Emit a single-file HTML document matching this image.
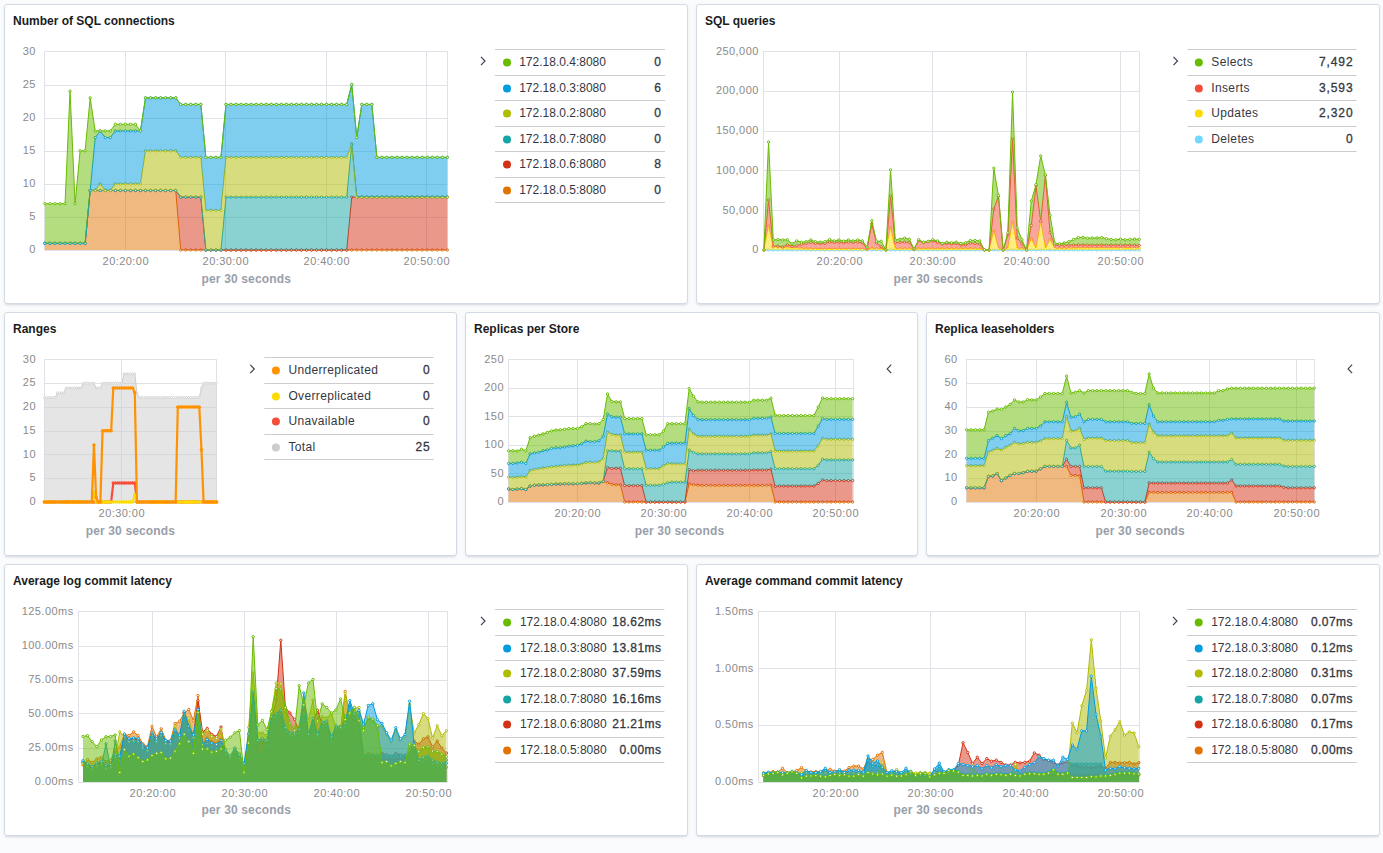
<!DOCTYPE html>
<html><head><meta charset="utf-8"><title>Dashboard</title>
<style>
html,body{margin:0;padding:0;background:#FAFBFD;width:1383px;height:853px;overflow:hidden;font-family:"Liberation Sans", sans-serif;}
.p{position:absolute;box-sizing:border-box;background:#fff;border:1px solid #D3DAE6;border-radius:3px;
box-shadow:0 2px 2px -1px rgba(152,162,179,.3),0 1px 5px -2px rgba(152,162,179,.3);}
.t{position:absolute;font-weight:bold;font-size:12px;color:#1A1C21;white-space:nowrap;line-height:14px;}
svg.c{position:absolute;overflow:visible;}
</style></head><body>
<div class="p" style="left:4px;top:4px;width:684px;height:300px"></div>
<div class="t" style="left:13px;top:14px">Number of SQL connections</div>
<div class="p" style="left:696px;top:4px;width:684px;height:300px"></div>
<div class="t" style="left:705px;top:14px">SQL queries</div>
<div class="p" style="left:4px;top:312px;width:453px;height:244px"></div>
<div class="t" style="left:13px;top:322px">Ranges</div>
<div class="p" style="left:465px;top:312px;width:453px;height:244px"></div>
<div class="t" style="left:474px;top:322px">Replicas per Store</div>
<div class="p" style="left:926px;top:312px;width:454px;height:244px"></div>
<div class="t" style="left:935px;top:322px">Replica leaseholders</div>
<div class="p" style="left:4px;top:564px;width:684px;height:272px"></div>
<div class="t" style="left:13px;top:574px">Average log commit latency</div>
<div class="p" style="left:696px;top:564px;width:684px;height:272px"></div>
<div class="t" style="left:705px;top:574px">Average command commit latency</div>
<svg class="c" style="left:0;top:0" width="1383" height="853" viewBox="0 0 1383 853">
<g><g stroke="#E0E2E7" stroke-width="1" fill="none"><line x1="44.0" x2="448.0" y1="250.5" y2="250.5"/><line x1="44.0" x2="448.0" y1="217.5" y2="217.5"/><line x1="44.0" x2="448.0" y1="184.5" y2="184.5"/><line x1="44.0" x2="448.0" y1="151.5" y2="151.5"/><line x1="44.0" x2="448.0" y1="118.5" y2="118.5"/><line x1="44.0" x2="448.0" y1="85.5" y2="85.5"/><line x1="44.0" x2="448.0" y1="51.5" y2="51.5"/><line x1="125.5" x2="125.5" y1="51.0" y2="251.0"/><line x1="225.5" x2="225.5" y1="51.0" y2="251.0"/><line x1="326.5" x2="326.5" y1="51.0" y2="251.0"/><line x1="426.5" x2="426.5" y1="51.0" y2="251.0"/><line x1="44.5" x2="44.5" y1="51.0" y2="251.0"/><line x1="447.5" x2="447.5" y1="51.0" y2="251.0"/></g><path d="M44.90,243.38 L49.93,243.38 L54.96,243.38 L59.99,243.38 L65.02,243.38 L70.05,243.38 L75.08,243.38 L80.11,243.38 L85.14,243.38 L90.17,190.45 L95.20,190.45 L100.23,190.45 L105.26,190.45 L110.29,190.45 L115.32,190.45 L120.35,190.45 L125.38,190.45 L130.41,190.45 L135.44,190.45 L140.47,190.45 L145.50,190.45 L150.53,190.45 L155.56,190.45 L160.59,190.45 L165.62,190.45 L170.65,190.45 L175.68,190.45 L180.71,250.00 L185.74,250.00 L190.77,250.00 L195.80,250.00 L200.83,250.00 L205.86,250.00 L210.89,250.00 L215.92,250.00 L220.95,250.00 L225.98,250.00 L231.01,250.00 L236.04,250.00 L241.07,250.00 L246.10,250.00 L251.13,250.00 L256.16,250.00 L261.19,250.00 L266.22,250.00 L271.25,250.00 L276.28,250.00 L281.31,250.00 L286.34,250.00 L291.37,250.00 L296.40,250.00 L301.43,250.00 L306.46,250.00 L311.49,250.00 L316.52,250.00 L321.55,250.00 L326.58,250.00 L331.61,250.00 L336.64,250.00 L341.67,250.00 L346.70,250.00 L351.73,250.00 L356.76,250.00 L361.79,250.00 L366.82,250.00 L371.85,250.00 L376.88,250.00 L381.91,250.00 L386.94,250.00 L391.97,250.00 L397.00,250.00 L402.03,250.00 L407.06,250.00 L412.09,250.00 L417.12,250.00 L422.15,250.00 L427.18,250.00 L432.21,250.00 L437.24,250.00 L442.27,250.00 L447.30,250.00 L447.30,250.00 L442.27,250.00 L437.24,250.00 L432.21,250.00 L427.18,250.00 L422.15,250.00 L417.12,250.00 L412.09,250.00 L407.06,250.00 L402.03,250.00 L397.00,250.00 L391.97,250.00 L386.94,250.00 L381.91,250.00 L376.88,250.00 L371.85,250.00 L366.82,250.00 L361.79,250.00 L356.76,250.00 L351.73,250.00 L346.70,250.00 L341.67,250.00 L336.64,250.00 L331.61,250.00 L326.58,250.00 L321.55,250.00 L316.52,250.00 L311.49,250.00 L306.46,250.00 L301.43,250.00 L296.40,250.00 L291.37,250.00 L286.34,250.00 L281.31,250.00 L276.28,250.00 L271.25,250.00 L266.22,250.00 L261.19,250.00 L256.16,250.00 L251.13,250.00 L246.10,250.00 L241.07,250.00 L236.04,250.00 L231.01,250.00 L225.98,250.00 L220.95,250.00 L215.92,250.00 L210.89,250.00 L205.86,250.00 L200.83,250.00 L195.80,250.00 L190.77,250.00 L185.74,250.00 L180.71,250.00 L175.68,250.00 L170.65,250.00 L165.62,250.00 L160.59,250.00 L155.56,250.00 L150.53,250.00 L145.50,250.00 L140.47,250.00 L135.44,250.00 L130.41,250.00 L125.38,250.00 L120.35,250.00 L115.32,250.00 L110.29,250.00 L105.26,250.00 L100.23,250.00 L95.20,250.00 L90.17,250.00 L85.14,250.00 L80.11,250.00 L75.08,250.00 L70.05,250.00 L65.02,250.00 L59.99,250.00 L54.96,250.00 L49.93,250.00 L44.90,250.00Z" fill="#E27300" fill-opacity="0.5"/><polyline points="44.90,243.38 49.93,243.38 54.96,243.38 59.99,243.38 65.02,243.38 70.05,243.38 75.08,243.38 80.11,243.38 85.14,243.38 90.17,190.45 95.20,190.45 100.23,190.45 105.26,190.45 110.29,190.45 115.32,190.45 120.35,190.45 125.38,190.45 130.41,190.45 135.44,190.45 140.47,190.45 145.50,190.45 150.53,190.45 155.56,190.45 160.59,190.45 165.62,190.45 170.65,190.45 175.68,190.45 180.71,250.00 185.74,250.00 190.77,250.00 195.80,250.00 200.83,250.00 205.86,250.00 210.89,250.00 215.92,250.00 220.95,250.00 225.98,250.00 231.01,250.00 236.04,250.00 241.07,250.00 246.10,250.00 251.13,250.00 256.16,250.00 261.19,250.00 266.22,250.00 271.25,250.00 276.28,250.00 281.31,250.00 286.34,250.00 291.37,250.00 296.40,250.00 301.43,250.00 306.46,250.00 311.49,250.00 316.52,250.00 321.55,250.00 326.58,250.00 331.61,250.00 336.64,250.00 341.67,250.00 346.70,250.00 351.73,250.00 356.76,250.00 361.79,250.00 366.82,250.00 371.85,250.00 376.88,250.00 381.91,250.00 386.94,250.00 391.97,250.00 397.00,250.00 402.03,250.00 407.06,250.00 412.09,250.00 417.12,250.00 422.15,250.00 427.18,250.00 432.21,250.00 437.24,250.00 442.27,250.00 447.30,250.00" fill="none" stroke="#E27300" stroke-width="1" stroke-linejoin="round"/><g fill="#fff" stroke="#E27300" stroke-width="1.0"><circle cx="44.90" cy="243.38" r="1.15"/><circle cx="49.93" cy="243.38" r="1.15"/><circle cx="54.96" cy="243.38" r="1.15"/><circle cx="59.99" cy="243.38" r="1.15"/><circle cx="65.02" cy="243.38" r="1.15"/><circle cx="70.05" cy="243.38" r="1.15"/><circle cx="75.08" cy="243.38" r="1.15"/><circle cx="80.11" cy="243.38" r="1.15"/><circle cx="85.14" cy="243.38" r="1.15"/><circle cx="90.17" cy="190.45" r="1.15"/><circle cx="95.20" cy="190.45" r="1.15"/><circle cx="100.23" cy="190.45" r="1.15"/><circle cx="105.26" cy="190.45" r="1.15"/><circle cx="110.29" cy="190.45" r="1.15"/><circle cx="115.32" cy="190.45" r="1.15"/><circle cx="120.35" cy="190.45" r="1.15"/><circle cx="125.38" cy="190.45" r="1.15"/><circle cx="130.41" cy="190.45" r="1.15"/><circle cx="135.44" cy="190.45" r="1.15"/><circle cx="140.47" cy="190.45" r="1.15"/><circle cx="145.50" cy="190.45" r="1.15"/><circle cx="150.53" cy="190.45" r="1.15"/><circle cx="155.56" cy="190.45" r="1.15"/><circle cx="160.59" cy="190.45" r="1.15"/><circle cx="165.62" cy="190.45" r="1.15"/><circle cx="170.65" cy="190.45" r="1.15"/><circle cx="175.68" cy="190.45" r="1.15"/><circle cx="180.71" cy="250.00" r="1.15"/><circle cx="185.74" cy="250.00" r="1.15"/><circle cx="190.77" cy="250.00" r="1.15"/><circle cx="195.80" cy="250.00" r="1.15"/><circle cx="200.83" cy="250.00" r="1.15"/><circle cx="205.86" cy="250.00" r="1.15"/><circle cx="210.89" cy="250.00" r="1.15"/><circle cx="215.92" cy="250.00" r="1.15"/><circle cx="220.95" cy="250.00" r="1.15"/><circle cx="225.98" cy="250.00" r="1.15"/><circle cx="231.01" cy="250.00" r="1.15"/><circle cx="236.04" cy="250.00" r="1.15"/><circle cx="241.07" cy="250.00" r="1.15"/><circle cx="246.10" cy="250.00" r="1.15"/><circle cx="251.13" cy="250.00" r="1.15"/><circle cx="256.16" cy="250.00" r="1.15"/><circle cx="261.19" cy="250.00" r="1.15"/><circle cx="266.22" cy="250.00" r="1.15"/><circle cx="271.25" cy="250.00" r="1.15"/><circle cx="276.28" cy="250.00" r="1.15"/><circle cx="281.31" cy="250.00" r="1.15"/><circle cx="286.34" cy="250.00" r="1.15"/><circle cx="291.37" cy="250.00" r="1.15"/><circle cx="296.40" cy="250.00" r="1.15"/><circle cx="301.43" cy="250.00" r="1.15"/><circle cx="306.46" cy="250.00" r="1.15"/><circle cx="311.49" cy="250.00" r="1.15"/><circle cx="316.52" cy="250.00" r="1.15"/><circle cx="321.55" cy="250.00" r="1.15"/><circle cx="326.58" cy="250.00" r="1.15"/><circle cx="331.61" cy="250.00" r="1.15"/><circle cx="336.64" cy="250.00" r="1.15"/><circle cx="341.67" cy="250.00" r="1.15"/><circle cx="346.70" cy="250.00" r="1.15"/><circle cx="351.73" cy="250.00" r="1.15"/><circle cx="356.76" cy="250.00" r="1.15"/><circle cx="361.79" cy="250.00" r="1.15"/><circle cx="366.82" cy="250.00" r="1.15"/><circle cx="371.85" cy="250.00" r="1.15"/><circle cx="376.88" cy="250.00" r="1.15"/><circle cx="381.91" cy="250.00" r="1.15"/><circle cx="386.94" cy="250.00" r="1.15"/><circle cx="391.97" cy="250.00" r="1.15"/><circle cx="397.00" cy="250.00" r="1.15"/><circle cx="402.03" cy="250.00" r="1.15"/><circle cx="407.06" cy="250.00" r="1.15"/><circle cx="412.09" cy="250.00" r="1.15"/><circle cx="417.12" cy="250.00" r="1.15"/><circle cx="422.15" cy="250.00" r="1.15"/><circle cx="427.18" cy="250.00" r="1.15"/><circle cx="432.21" cy="250.00" r="1.15"/><circle cx="437.24" cy="250.00" r="1.15"/><circle cx="442.27" cy="250.00" r="1.15"/><circle cx="447.30" cy="250.00" r="1.15"/></g><path d="M44.90,243.38 L49.93,243.38 L54.96,243.38 L59.99,243.38 L65.02,243.38 L70.05,243.38 L75.08,243.38 L80.11,243.38 L85.14,243.38 L90.17,190.45 L95.20,190.45 L100.23,190.45 L105.26,190.45 L110.29,190.45 L115.32,190.45 L120.35,190.45 L125.38,190.45 L130.41,190.45 L135.44,190.45 L140.47,190.45 L145.50,190.45 L150.53,190.45 L155.56,190.45 L160.59,190.45 L165.62,190.45 L170.65,190.45 L175.68,190.45 L180.71,197.07 L185.74,197.07 L190.77,197.07 L195.80,197.07 L200.83,197.07 L205.86,250.00 L210.89,250.00 L215.92,250.00 L220.95,250.00 L225.98,250.00 L231.01,250.00 L236.04,250.00 L241.07,250.00 L246.10,250.00 L251.13,250.00 L256.16,250.00 L261.19,250.00 L266.22,250.00 L271.25,250.00 L276.28,250.00 L281.31,250.00 L286.34,250.00 L291.37,250.00 L296.40,250.00 L301.43,250.00 L306.46,250.00 L311.49,250.00 L316.52,250.00 L321.55,250.00 L326.58,250.00 L331.61,250.00 L336.64,250.00 L341.67,250.00 L346.70,250.00 L351.73,197.07 L356.76,197.07 L361.79,197.07 L366.82,197.07 L371.85,197.07 L376.88,197.07 L381.91,197.07 L386.94,197.07 L391.97,197.07 L397.00,197.07 L402.03,197.07 L407.06,197.07 L412.09,197.07 L417.12,197.07 L422.15,197.07 L427.18,197.07 L432.21,197.07 L437.24,197.07 L442.27,197.07 L447.30,197.07 L447.30,250.00 L442.27,250.00 L437.24,250.00 L432.21,250.00 L427.18,250.00 L422.15,250.00 L417.12,250.00 L412.09,250.00 L407.06,250.00 L402.03,250.00 L397.00,250.00 L391.97,250.00 L386.94,250.00 L381.91,250.00 L376.88,250.00 L371.85,250.00 L366.82,250.00 L361.79,250.00 L356.76,250.00 L351.73,250.00 L346.70,250.00 L341.67,250.00 L336.64,250.00 L331.61,250.00 L326.58,250.00 L321.55,250.00 L316.52,250.00 L311.49,250.00 L306.46,250.00 L301.43,250.00 L296.40,250.00 L291.37,250.00 L286.34,250.00 L281.31,250.00 L276.28,250.00 L271.25,250.00 L266.22,250.00 L261.19,250.00 L256.16,250.00 L251.13,250.00 L246.10,250.00 L241.07,250.00 L236.04,250.00 L231.01,250.00 L225.98,250.00 L220.95,250.00 L215.92,250.00 L210.89,250.00 L205.86,250.00 L200.83,250.00 L195.80,250.00 L190.77,250.00 L185.74,250.00 L180.71,250.00 L175.68,190.45 L170.65,190.45 L165.62,190.45 L160.59,190.45 L155.56,190.45 L150.53,190.45 L145.50,190.45 L140.47,190.45 L135.44,190.45 L130.41,190.45 L125.38,190.45 L120.35,190.45 L115.32,190.45 L110.29,190.45 L105.26,190.45 L100.23,190.45 L95.20,190.45 L90.17,190.45 L85.14,243.38 L80.11,243.38 L75.08,243.38 L70.05,243.38 L65.02,243.38 L59.99,243.38 L54.96,243.38 L49.93,243.38 L44.90,243.38Z" fill="#D33115" fill-opacity="0.5"/><polyline points="44.90,243.38 49.93,243.38 54.96,243.38 59.99,243.38 65.02,243.38 70.05,243.38 75.08,243.38 80.11,243.38 85.14,243.38 90.17,190.45 95.20,190.45 100.23,190.45 105.26,190.45 110.29,190.45 115.32,190.45 120.35,190.45 125.38,190.45 130.41,190.45 135.44,190.45 140.47,190.45 145.50,190.45 150.53,190.45 155.56,190.45 160.59,190.45 165.62,190.45 170.65,190.45 175.68,190.45 180.71,197.07 185.74,197.07 190.77,197.07 195.80,197.07 200.83,197.07 205.86,250.00 210.89,250.00 215.92,250.00 220.95,250.00 225.98,250.00 231.01,250.00 236.04,250.00 241.07,250.00 246.10,250.00 251.13,250.00 256.16,250.00 261.19,250.00 266.22,250.00 271.25,250.00 276.28,250.00 281.31,250.00 286.34,250.00 291.37,250.00 296.40,250.00 301.43,250.00 306.46,250.00 311.49,250.00 316.52,250.00 321.55,250.00 326.58,250.00 331.61,250.00 336.64,250.00 341.67,250.00 346.70,250.00 351.73,197.07 356.76,197.07 361.79,197.07 366.82,197.07 371.85,197.07 376.88,197.07 381.91,197.07 386.94,197.07 391.97,197.07 397.00,197.07 402.03,197.07 407.06,197.07 412.09,197.07 417.12,197.07 422.15,197.07 427.18,197.07 432.21,197.07 437.24,197.07 442.27,197.07 447.30,197.07" fill="none" stroke="#D33115" stroke-width="1" stroke-linejoin="round"/><g fill="#fff" stroke="#D33115" stroke-width="1.0"><circle cx="44.90" cy="243.38" r="1.15"/><circle cx="49.93" cy="243.38" r="1.15"/><circle cx="54.96" cy="243.38" r="1.15"/><circle cx="59.99" cy="243.38" r="1.15"/><circle cx="65.02" cy="243.38" r="1.15"/><circle cx="70.05" cy="243.38" r="1.15"/><circle cx="75.08" cy="243.38" r="1.15"/><circle cx="80.11" cy="243.38" r="1.15"/><circle cx="85.14" cy="243.38" r="1.15"/><circle cx="90.17" cy="190.45" r="1.15"/><circle cx="95.20" cy="190.45" r="1.15"/><circle cx="100.23" cy="190.45" r="1.15"/><circle cx="105.26" cy="190.45" r="1.15"/><circle cx="110.29" cy="190.45" r="1.15"/><circle cx="115.32" cy="190.45" r="1.15"/><circle cx="120.35" cy="190.45" r="1.15"/><circle cx="125.38" cy="190.45" r="1.15"/><circle cx="130.41" cy="190.45" r="1.15"/><circle cx="135.44" cy="190.45" r="1.15"/><circle cx="140.47" cy="190.45" r="1.15"/><circle cx="145.50" cy="190.45" r="1.15"/><circle cx="150.53" cy="190.45" r="1.15"/><circle cx="155.56" cy="190.45" r="1.15"/><circle cx="160.59" cy="190.45" r="1.15"/><circle cx="165.62" cy="190.45" r="1.15"/><circle cx="170.65" cy="190.45" r="1.15"/><circle cx="175.68" cy="190.45" r="1.15"/><circle cx="180.71" cy="197.07" r="1.15"/><circle cx="185.74" cy="197.07" r="1.15"/><circle cx="190.77" cy="197.07" r="1.15"/><circle cx="195.80" cy="197.07" r="1.15"/><circle cx="200.83" cy="197.07" r="1.15"/><circle cx="205.86" cy="250.00" r="1.15"/><circle cx="210.89" cy="250.00" r="1.15"/><circle cx="215.92" cy="250.00" r="1.15"/><circle cx="220.95" cy="250.00" r="1.15"/><circle cx="225.98" cy="250.00" r="1.15"/><circle cx="231.01" cy="250.00" r="1.15"/><circle cx="236.04" cy="250.00" r="1.15"/><circle cx="241.07" cy="250.00" r="1.15"/><circle cx="246.10" cy="250.00" r="1.15"/><circle cx="251.13" cy="250.00" r="1.15"/><circle cx="256.16" cy="250.00" r="1.15"/><circle cx="261.19" cy="250.00" r="1.15"/><circle cx="266.22" cy="250.00" r="1.15"/><circle cx="271.25" cy="250.00" r="1.15"/><circle cx="276.28" cy="250.00" r="1.15"/><circle cx="281.31" cy="250.00" r="1.15"/><circle cx="286.34" cy="250.00" r="1.15"/><circle cx="291.37" cy="250.00" r="1.15"/><circle cx="296.40" cy="250.00" r="1.15"/><circle cx="301.43" cy="250.00" r="1.15"/><circle cx="306.46" cy="250.00" r="1.15"/><circle cx="311.49" cy="250.00" r="1.15"/><circle cx="316.52" cy="250.00" r="1.15"/><circle cx="321.55" cy="250.00" r="1.15"/><circle cx="326.58" cy="250.00" r="1.15"/><circle cx="331.61" cy="250.00" r="1.15"/><circle cx="336.64" cy="250.00" r="1.15"/><circle cx="341.67" cy="250.00" r="1.15"/><circle cx="346.70" cy="250.00" r="1.15"/><circle cx="351.73" cy="197.07" r="1.15"/><circle cx="356.76" cy="197.07" r="1.15"/><circle cx="361.79" cy="197.07" r="1.15"/><circle cx="366.82" cy="197.07" r="1.15"/><circle cx="371.85" cy="197.07" r="1.15"/><circle cx="376.88" cy="197.07" r="1.15"/><circle cx="381.91" cy="197.07" r="1.15"/><circle cx="386.94" cy="197.07" r="1.15"/><circle cx="391.97" cy="197.07" r="1.15"/><circle cx="397.00" cy="197.07" r="1.15"/><circle cx="402.03" cy="197.07" r="1.15"/><circle cx="407.06" cy="197.07" r="1.15"/><circle cx="412.09" cy="197.07" r="1.15"/><circle cx="417.12" cy="197.07" r="1.15"/><circle cx="422.15" cy="197.07" r="1.15"/><circle cx="427.18" cy="197.07" r="1.15"/><circle cx="432.21" cy="197.07" r="1.15"/><circle cx="437.24" cy="197.07" r="1.15"/><circle cx="442.27" cy="197.07" r="1.15"/><circle cx="447.30" cy="197.07" r="1.15"/></g><path d="M44.90,243.38 L49.93,243.38 L54.96,243.38 L59.99,243.38 L65.02,243.38 L70.05,243.38 L75.08,243.38 L80.11,243.38 L85.14,243.38 L90.17,190.45 L95.20,190.45 L100.23,190.45 L105.26,190.45 L110.29,190.45 L115.32,190.45 L120.35,190.45 L125.38,190.45 L130.41,190.45 L135.44,190.45 L140.47,190.45 L145.50,190.45 L150.53,190.45 L155.56,190.45 L160.59,190.45 L165.62,190.45 L170.65,190.45 L175.68,190.45 L180.71,197.07 L185.74,197.07 L190.77,197.07 L195.80,197.07 L200.83,197.07 L205.86,250.00 L210.89,250.00 L215.92,250.00 L220.95,250.00 L225.98,197.07 L231.01,197.07 L236.04,197.07 L241.07,197.07 L246.10,197.07 L251.13,197.07 L256.16,197.07 L261.19,197.07 L266.22,197.07 L271.25,197.07 L276.28,197.07 L281.31,197.07 L286.34,197.07 L291.37,197.07 L296.40,197.07 L301.43,197.07 L306.46,197.07 L311.49,197.07 L316.52,197.07 L321.55,197.07 L326.58,197.07 L331.61,197.07 L336.64,197.07 L341.67,197.07 L346.70,197.07 L351.73,144.13 L356.76,197.07 L361.79,197.07 L366.82,197.07 L371.85,197.07 L376.88,197.07 L381.91,197.07 L386.94,197.07 L391.97,197.07 L397.00,197.07 L402.03,197.07 L407.06,197.07 L412.09,197.07 L417.12,197.07 L422.15,197.07 L427.18,197.07 L432.21,197.07 L437.24,197.07 L442.27,197.07 L447.30,197.07 L447.30,197.07 L442.27,197.07 L437.24,197.07 L432.21,197.07 L427.18,197.07 L422.15,197.07 L417.12,197.07 L412.09,197.07 L407.06,197.07 L402.03,197.07 L397.00,197.07 L391.97,197.07 L386.94,197.07 L381.91,197.07 L376.88,197.07 L371.85,197.07 L366.82,197.07 L361.79,197.07 L356.76,197.07 L351.73,197.07 L346.70,250.00 L341.67,250.00 L336.64,250.00 L331.61,250.00 L326.58,250.00 L321.55,250.00 L316.52,250.00 L311.49,250.00 L306.46,250.00 L301.43,250.00 L296.40,250.00 L291.37,250.00 L286.34,250.00 L281.31,250.00 L276.28,250.00 L271.25,250.00 L266.22,250.00 L261.19,250.00 L256.16,250.00 L251.13,250.00 L246.10,250.00 L241.07,250.00 L236.04,250.00 L231.01,250.00 L225.98,250.00 L220.95,250.00 L215.92,250.00 L210.89,250.00 L205.86,250.00 L200.83,197.07 L195.80,197.07 L190.77,197.07 L185.74,197.07 L180.71,197.07 L175.68,190.45 L170.65,190.45 L165.62,190.45 L160.59,190.45 L155.56,190.45 L150.53,190.45 L145.50,190.45 L140.47,190.45 L135.44,190.45 L130.41,190.45 L125.38,190.45 L120.35,190.45 L115.32,190.45 L110.29,190.45 L105.26,190.45 L100.23,190.45 L95.20,190.45 L90.17,190.45 L85.14,243.38 L80.11,243.38 L75.08,243.38 L70.05,243.38 L65.02,243.38 L59.99,243.38 L54.96,243.38 L49.93,243.38 L44.90,243.38Z" fill="#16A5A5" fill-opacity="0.5"/><polyline points="44.90,243.38 49.93,243.38 54.96,243.38 59.99,243.38 65.02,243.38 70.05,243.38 75.08,243.38 80.11,243.38 85.14,243.38 90.17,190.45 95.20,190.45 100.23,190.45 105.26,190.45 110.29,190.45 115.32,190.45 120.35,190.45 125.38,190.45 130.41,190.45 135.44,190.45 140.47,190.45 145.50,190.45 150.53,190.45 155.56,190.45 160.59,190.45 165.62,190.45 170.65,190.45 175.68,190.45 180.71,197.07 185.74,197.07 190.77,197.07 195.80,197.07 200.83,197.07 205.86,250.00 210.89,250.00 215.92,250.00 220.95,250.00 225.98,197.07 231.01,197.07 236.04,197.07 241.07,197.07 246.10,197.07 251.13,197.07 256.16,197.07 261.19,197.07 266.22,197.07 271.25,197.07 276.28,197.07 281.31,197.07 286.34,197.07 291.37,197.07 296.40,197.07 301.43,197.07 306.46,197.07 311.49,197.07 316.52,197.07 321.55,197.07 326.58,197.07 331.61,197.07 336.64,197.07 341.67,197.07 346.70,197.07 351.73,144.13 356.76,197.07 361.79,197.07 366.82,197.07 371.85,197.07 376.88,197.07 381.91,197.07 386.94,197.07 391.97,197.07 397.00,197.07 402.03,197.07 407.06,197.07 412.09,197.07 417.12,197.07 422.15,197.07 427.18,197.07 432.21,197.07 437.24,197.07 442.27,197.07 447.30,197.07" fill="none" stroke="#16A5A5" stroke-width="1" stroke-linejoin="round"/><g fill="#fff" stroke="#16A5A5" stroke-width="1.0"><circle cx="44.90" cy="243.38" r="1.15"/><circle cx="49.93" cy="243.38" r="1.15"/><circle cx="54.96" cy="243.38" r="1.15"/><circle cx="59.99" cy="243.38" r="1.15"/><circle cx="65.02" cy="243.38" r="1.15"/><circle cx="70.05" cy="243.38" r="1.15"/><circle cx="75.08" cy="243.38" r="1.15"/><circle cx="80.11" cy="243.38" r="1.15"/><circle cx="85.14" cy="243.38" r="1.15"/><circle cx="90.17" cy="190.45" r="1.15"/><circle cx="95.20" cy="190.45" r="1.15"/><circle cx="100.23" cy="190.45" r="1.15"/><circle cx="105.26" cy="190.45" r="1.15"/><circle cx="110.29" cy="190.45" r="1.15"/><circle cx="115.32" cy="190.45" r="1.15"/><circle cx="120.35" cy="190.45" r="1.15"/><circle cx="125.38" cy="190.45" r="1.15"/><circle cx="130.41" cy="190.45" r="1.15"/><circle cx="135.44" cy="190.45" r="1.15"/><circle cx="140.47" cy="190.45" r="1.15"/><circle cx="145.50" cy="190.45" r="1.15"/><circle cx="150.53" cy="190.45" r="1.15"/><circle cx="155.56" cy="190.45" r="1.15"/><circle cx="160.59" cy="190.45" r="1.15"/><circle cx="165.62" cy="190.45" r="1.15"/><circle cx="170.65" cy="190.45" r="1.15"/><circle cx="175.68" cy="190.45" r="1.15"/><circle cx="180.71" cy="197.07" r="1.15"/><circle cx="185.74" cy="197.07" r="1.15"/><circle cx="190.77" cy="197.07" r="1.15"/><circle cx="195.80" cy="197.07" r="1.15"/><circle cx="200.83" cy="197.07" r="1.15"/><circle cx="205.86" cy="250.00" r="1.15"/><circle cx="210.89" cy="250.00" r="1.15"/><circle cx="215.92" cy="250.00" r="1.15"/><circle cx="220.95" cy="250.00" r="1.15"/><circle cx="225.98" cy="197.07" r="1.15"/><circle cx="231.01" cy="197.07" r="1.15"/><circle cx="236.04" cy="197.07" r="1.15"/><circle cx="241.07" cy="197.07" r="1.15"/><circle cx="246.10" cy="197.07" r="1.15"/><circle cx="251.13" cy="197.07" r="1.15"/><circle cx="256.16" cy="197.07" r="1.15"/><circle cx="261.19" cy="197.07" r="1.15"/><circle cx="266.22" cy="197.07" r="1.15"/><circle cx="271.25" cy="197.07" r="1.15"/><circle cx="276.28" cy="197.07" r="1.15"/><circle cx="281.31" cy="197.07" r="1.15"/><circle cx="286.34" cy="197.07" r="1.15"/><circle cx="291.37" cy="197.07" r="1.15"/><circle cx="296.40" cy="197.07" r="1.15"/><circle cx="301.43" cy="197.07" r="1.15"/><circle cx="306.46" cy="197.07" r="1.15"/><circle cx="311.49" cy="197.07" r="1.15"/><circle cx="316.52" cy="197.07" r="1.15"/><circle cx="321.55" cy="197.07" r="1.15"/><circle cx="326.58" cy="197.07" r="1.15"/><circle cx="331.61" cy="197.07" r="1.15"/><circle cx="336.64" cy="197.07" r="1.15"/><circle cx="341.67" cy="197.07" r="1.15"/><circle cx="346.70" cy="197.07" r="1.15"/><circle cx="351.73" cy="144.13" r="1.15"/><circle cx="356.76" cy="197.07" r="1.15"/><circle cx="361.79" cy="197.07" r="1.15"/><circle cx="366.82" cy="197.07" r="1.15"/><circle cx="371.85" cy="197.07" r="1.15"/><circle cx="376.88" cy="197.07" r="1.15"/><circle cx="381.91" cy="197.07" r="1.15"/><circle cx="386.94" cy="197.07" r="1.15"/><circle cx="391.97" cy="197.07" r="1.15"/><circle cx="397.00" cy="197.07" r="1.15"/><circle cx="402.03" cy="197.07" r="1.15"/><circle cx="407.06" cy="197.07" r="1.15"/><circle cx="412.09" cy="197.07" r="1.15"/><circle cx="417.12" cy="197.07" r="1.15"/><circle cx="422.15" cy="197.07" r="1.15"/><circle cx="427.18" cy="197.07" r="1.15"/><circle cx="432.21" cy="197.07" r="1.15"/><circle cx="437.24" cy="197.07" r="1.15"/><circle cx="442.27" cy="197.07" r="1.15"/><circle cx="447.30" cy="197.07" r="1.15"/></g><path d="M44.90,243.38 L49.93,243.38 L54.96,243.38 L59.99,243.38 L65.02,243.38 L70.05,243.38 L75.08,243.38 L80.11,243.38 L85.14,243.38 L90.17,190.45 L95.20,190.45 L100.23,183.83 L105.26,190.45 L110.29,190.45 L115.32,183.83 L120.35,183.83 L125.38,183.83 L130.41,183.83 L135.44,183.83 L140.47,183.83 L145.50,150.75 L150.53,150.75 L155.56,150.75 L160.59,150.75 L165.62,150.75 L170.65,150.75 L175.68,150.75 L180.71,157.37 L185.74,157.37 L190.77,157.37 L195.80,157.37 L200.83,157.37 L205.86,210.30 L210.89,210.30 L215.92,210.30 L220.95,210.30 L225.98,157.37 L231.01,157.37 L236.04,157.37 L241.07,157.37 L246.10,157.37 L251.13,157.37 L256.16,157.37 L261.19,157.37 L266.22,157.37 L271.25,157.37 L276.28,157.37 L281.31,157.37 L286.34,157.37 L291.37,157.37 L296.40,157.37 L301.43,157.37 L306.46,157.37 L311.49,157.37 L316.52,157.37 L321.55,157.37 L326.58,157.37 L331.61,157.37 L336.64,157.37 L341.67,157.37 L346.70,157.37 L351.73,144.13 L356.76,197.07 L361.79,197.07 L366.82,197.07 L371.85,197.07 L376.88,197.07 L381.91,197.07 L386.94,197.07 L391.97,197.07 L397.00,197.07 L402.03,197.07 L407.06,197.07 L412.09,197.07 L417.12,197.07 L422.15,197.07 L427.18,197.07 L432.21,197.07 L437.24,197.07 L442.27,197.07 L447.30,197.07 L447.30,197.07 L442.27,197.07 L437.24,197.07 L432.21,197.07 L427.18,197.07 L422.15,197.07 L417.12,197.07 L412.09,197.07 L407.06,197.07 L402.03,197.07 L397.00,197.07 L391.97,197.07 L386.94,197.07 L381.91,197.07 L376.88,197.07 L371.85,197.07 L366.82,197.07 L361.79,197.07 L356.76,197.07 L351.73,144.13 L346.70,197.07 L341.67,197.07 L336.64,197.07 L331.61,197.07 L326.58,197.07 L321.55,197.07 L316.52,197.07 L311.49,197.07 L306.46,197.07 L301.43,197.07 L296.40,197.07 L291.37,197.07 L286.34,197.07 L281.31,197.07 L276.28,197.07 L271.25,197.07 L266.22,197.07 L261.19,197.07 L256.16,197.07 L251.13,197.07 L246.10,197.07 L241.07,197.07 L236.04,197.07 L231.01,197.07 L225.98,197.07 L220.95,250.00 L215.92,250.00 L210.89,250.00 L205.86,250.00 L200.83,197.07 L195.80,197.07 L190.77,197.07 L185.74,197.07 L180.71,197.07 L175.68,190.45 L170.65,190.45 L165.62,190.45 L160.59,190.45 L155.56,190.45 L150.53,190.45 L145.50,190.45 L140.47,190.45 L135.44,190.45 L130.41,190.45 L125.38,190.45 L120.35,190.45 L115.32,190.45 L110.29,190.45 L105.26,190.45 L100.23,190.45 L95.20,190.45 L90.17,190.45 L85.14,243.38 L80.11,243.38 L75.08,243.38 L70.05,243.38 L65.02,243.38 L59.99,243.38 L54.96,243.38 L49.93,243.38 L44.90,243.38Z" fill="#B0BC00" fill-opacity="0.5"/><polyline points="44.90,243.38 49.93,243.38 54.96,243.38 59.99,243.38 65.02,243.38 70.05,243.38 75.08,243.38 80.11,243.38 85.14,243.38 90.17,190.45 95.20,190.45 100.23,183.83 105.26,190.45 110.29,190.45 115.32,183.83 120.35,183.83 125.38,183.83 130.41,183.83 135.44,183.83 140.47,183.83 145.50,150.75 150.53,150.75 155.56,150.75 160.59,150.75 165.62,150.75 170.65,150.75 175.68,150.75 180.71,157.37 185.74,157.37 190.77,157.37 195.80,157.37 200.83,157.37 205.86,210.30 210.89,210.30 215.92,210.30 220.95,210.30 225.98,157.37 231.01,157.37 236.04,157.37 241.07,157.37 246.10,157.37 251.13,157.37 256.16,157.37 261.19,157.37 266.22,157.37 271.25,157.37 276.28,157.37 281.31,157.37 286.34,157.37 291.37,157.37 296.40,157.37 301.43,157.37 306.46,157.37 311.49,157.37 316.52,157.37 321.55,157.37 326.58,157.37 331.61,157.37 336.64,157.37 341.67,157.37 346.70,157.37 351.73,144.13 356.76,197.07 361.79,197.07 366.82,197.07 371.85,197.07 376.88,197.07 381.91,197.07 386.94,197.07 391.97,197.07 397.00,197.07 402.03,197.07 407.06,197.07 412.09,197.07 417.12,197.07 422.15,197.07 427.18,197.07 432.21,197.07 437.24,197.07 442.27,197.07 447.30,197.07" fill="none" stroke="#B0BC00" stroke-width="1" stroke-linejoin="round"/><g fill="#fff" stroke="#B0BC00" stroke-width="1.0"><circle cx="44.90" cy="243.38" r="1.15"/><circle cx="49.93" cy="243.38" r="1.15"/><circle cx="54.96" cy="243.38" r="1.15"/><circle cx="59.99" cy="243.38" r="1.15"/><circle cx="65.02" cy="243.38" r="1.15"/><circle cx="70.05" cy="243.38" r="1.15"/><circle cx="75.08" cy="243.38" r="1.15"/><circle cx="80.11" cy="243.38" r="1.15"/><circle cx="85.14" cy="243.38" r="1.15"/><circle cx="90.17" cy="190.45" r="1.15"/><circle cx="95.20" cy="190.45" r="1.15"/><circle cx="100.23" cy="183.83" r="1.15"/><circle cx="105.26" cy="190.45" r="1.15"/><circle cx="110.29" cy="190.45" r="1.15"/><circle cx="115.32" cy="183.83" r="1.15"/><circle cx="120.35" cy="183.83" r="1.15"/><circle cx="125.38" cy="183.83" r="1.15"/><circle cx="130.41" cy="183.83" r="1.15"/><circle cx="135.44" cy="183.83" r="1.15"/><circle cx="140.47" cy="183.83" r="1.15"/><circle cx="145.50" cy="150.75" r="1.15"/><circle cx="150.53" cy="150.75" r="1.15"/><circle cx="155.56" cy="150.75" r="1.15"/><circle cx="160.59" cy="150.75" r="1.15"/><circle cx="165.62" cy="150.75" r="1.15"/><circle cx="170.65" cy="150.75" r="1.15"/><circle cx="175.68" cy="150.75" r="1.15"/><circle cx="180.71" cy="157.37" r="1.15"/><circle cx="185.74" cy="157.37" r="1.15"/><circle cx="190.77" cy="157.37" r="1.15"/><circle cx="195.80" cy="157.37" r="1.15"/><circle cx="200.83" cy="157.37" r="1.15"/><circle cx="205.86" cy="210.30" r="1.15"/><circle cx="210.89" cy="210.30" r="1.15"/><circle cx="215.92" cy="210.30" r="1.15"/><circle cx="220.95" cy="210.30" r="1.15"/><circle cx="225.98" cy="157.37" r="1.15"/><circle cx="231.01" cy="157.37" r="1.15"/><circle cx="236.04" cy="157.37" r="1.15"/><circle cx="241.07" cy="157.37" r="1.15"/><circle cx="246.10" cy="157.37" r="1.15"/><circle cx="251.13" cy="157.37" r="1.15"/><circle cx="256.16" cy="157.37" r="1.15"/><circle cx="261.19" cy="157.37" r="1.15"/><circle cx="266.22" cy="157.37" r="1.15"/><circle cx="271.25" cy="157.37" r="1.15"/><circle cx="276.28" cy="157.37" r="1.15"/><circle cx="281.31" cy="157.37" r="1.15"/><circle cx="286.34" cy="157.37" r="1.15"/><circle cx="291.37" cy="157.37" r="1.15"/><circle cx="296.40" cy="157.37" r="1.15"/><circle cx="301.43" cy="157.37" r="1.15"/><circle cx="306.46" cy="157.37" r="1.15"/><circle cx="311.49" cy="157.37" r="1.15"/><circle cx="316.52" cy="157.37" r="1.15"/><circle cx="321.55" cy="157.37" r="1.15"/><circle cx="326.58" cy="157.37" r="1.15"/><circle cx="331.61" cy="157.37" r="1.15"/><circle cx="336.64" cy="157.37" r="1.15"/><circle cx="341.67" cy="157.37" r="1.15"/><circle cx="346.70" cy="157.37" r="1.15"/><circle cx="351.73" cy="144.13" r="1.15"/><circle cx="356.76" cy="197.07" r="1.15"/><circle cx="361.79" cy="197.07" r="1.15"/><circle cx="366.82" cy="197.07" r="1.15"/><circle cx="371.85" cy="197.07" r="1.15"/><circle cx="376.88" cy="197.07" r="1.15"/><circle cx="381.91" cy="197.07" r="1.15"/><circle cx="386.94" cy="197.07" r="1.15"/><circle cx="391.97" cy="197.07" r="1.15"/><circle cx="397.00" cy="197.07" r="1.15"/><circle cx="402.03" cy="197.07" r="1.15"/><circle cx="407.06" cy="197.07" r="1.15"/><circle cx="412.09" cy="197.07" r="1.15"/><circle cx="417.12" cy="197.07" r="1.15"/><circle cx="422.15" cy="197.07" r="1.15"/><circle cx="427.18" cy="197.07" r="1.15"/><circle cx="432.21" cy="197.07" r="1.15"/><circle cx="437.24" cy="197.07" r="1.15"/><circle cx="442.27" cy="197.07" r="1.15"/><circle cx="447.30" cy="197.07" r="1.15"/></g><path d="M44.90,243.38 L49.93,243.38 L54.96,243.38 L59.99,243.38 L65.02,243.38 L70.05,243.38 L75.08,243.38 L80.11,243.38 L85.14,243.38 L90.17,190.45 L95.20,137.52 L100.23,130.90 L105.26,137.52 L110.29,137.52 L115.32,130.90 L120.35,130.90 L125.38,130.90 L130.41,130.90 L135.44,130.90 L140.47,130.90 L145.50,97.82 L150.53,97.82 L155.56,97.82 L160.59,97.82 L165.62,97.82 L170.65,97.82 L175.68,97.82 L180.71,104.43 L185.74,104.43 L190.77,104.43 L195.80,104.43 L200.83,104.43 L205.86,157.37 L210.89,157.37 L215.92,157.37 L220.95,157.37 L225.98,104.43 L231.01,104.43 L236.04,104.43 L241.07,104.43 L246.10,104.43 L251.13,104.43 L256.16,104.43 L261.19,104.43 L266.22,104.43 L271.25,104.43 L276.28,104.43 L281.31,104.43 L286.34,104.43 L291.37,104.43 L296.40,104.43 L301.43,104.43 L306.46,104.43 L311.49,104.43 L316.52,104.43 L321.55,104.43 L326.58,104.43 L331.61,104.43 L336.64,104.43 L341.67,104.43 L346.70,104.43 L351.73,84.58 L356.76,137.52 L361.79,104.43 L366.82,104.43 L371.85,104.43 L376.88,157.37 L381.91,157.37 L386.94,157.37 L391.97,157.37 L397.00,157.37 L402.03,157.37 L407.06,157.37 L412.09,157.37 L417.12,157.37 L422.15,157.37 L427.18,157.37 L432.21,157.37 L437.24,157.37 L442.27,157.37 L447.30,157.37 L447.30,197.07 L442.27,197.07 L437.24,197.07 L432.21,197.07 L427.18,197.07 L422.15,197.07 L417.12,197.07 L412.09,197.07 L407.06,197.07 L402.03,197.07 L397.00,197.07 L391.97,197.07 L386.94,197.07 L381.91,197.07 L376.88,197.07 L371.85,197.07 L366.82,197.07 L361.79,197.07 L356.76,197.07 L351.73,144.13 L346.70,157.37 L341.67,157.37 L336.64,157.37 L331.61,157.37 L326.58,157.37 L321.55,157.37 L316.52,157.37 L311.49,157.37 L306.46,157.37 L301.43,157.37 L296.40,157.37 L291.37,157.37 L286.34,157.37 L281.31,157.37 L276.28,157.37 L271.25,157.37 L266.22,157.37 L261.19,157.37 L256.16,157.37 L251.13,157.37 L246.10,157.37 L241.07,157.37 L236.04,157.37 L231.01,157.37 L225.98,157.37 L220.95,210.30 L215.92,210.30 L210.89,210.30 L205.86,210.30 L200.83,157.37 L195.80,157.37 L190.77,157.37 L185.74,157.37 L180.71,157.37 L175.68,150.75 L170.65,150.75 L165.62,150.75 L160.59,150.75 L155.56,150.75 L150.53,150.75 L145.50,150.75 L140.47,183.83 L135.44,183.83 L130.41,183.83 L125.38,183.83 L120.35,183.83 L115.32,183.83 L110.29,190.45 L105.26,190.45 L100.23,183.83 L95.20,190.45 L90.17,190.45 L85.14,243.38 L80.11,243.38 L75.08,243.38 L70.05,243.38 L65.02,243.38 L59.99,243.38 L54.96,243.38 L49.93,243.38 L44.90,243.38Z" fill="#009CE0" fill-opacity="0.5"/><polyline points="44.90,243.38 49.93,243.38 54.96,243.38 59.99,243.38 65.02,243.38 70.05,243.38 75.08,243.38 80.11,243.38 85.14,243.38 90.17,190.45 95.20,137.52 100.23,130.90 105.26,137.52 110.29,137.52 115.32,130.90 120.35,130.90 125.38,130.90 130.41,130.90 135.44,130.90 140.47,130.90 145.50,97.82 150.53,97.82 155.56,97.82 160.59,97.82 165.62,97.82 170.65,97.82 175.68,97.82 180.71,104.43 185.74,104.43 190.77,104.43 195.80,104.43 200.83,104.43 205.86,157.37 210.89,157.37 215.92,157.37 220.95,157.37 225.98,104.43 231.01,104.43 236.04,104.43 241.07,104.43 246.10,104.43 251.13,104.43 256.16,104.43 261.19,104.43 266.22,104.43 271.25,104.43 276.28,104.43 281.31,104.43 286.34,104.43 291.37,104.43 296.40,104.43 301.43,104.43 306.46,104.43 311.49,104.43 316.52,104.43 321.55,104.43 326.58,104.43 331.61,104.43 336.64,104.43 341.67,104.43 346.70,104.43 351.73,84.58 356.76,137.52 361.79,104.43 366.82,104.43 371.85,104.43 376.88,157.37 381.91,157.37 386.94,157.37 391.97,157.37 397.00,157.37 402.03,157.37 407.06,157.37 412.09,157.37 417.12,157.37 422.15,157.37 427.18,157.37 432.21,157.37 437.24,157.37 442.27,157.37 447.30,157.37" fill="none" stroke="#009CE0" stroke-width="1" stroke-linejoin="round"/><g fill="#fff" stroke="#009CE0" stroke-width="1.0"><circle cx="44.90" cy="243.38" r="1.15"/><circle cx="49.93" cy="243.38" r="1.15"/><circle cx="54.96" cy="243.38" r="1.15"/><circle cx="59.99" cy="243.38" r="1.15"/><circle cx="65.02" cy="243.38" r="1.15"/><circle cx="70.05" cy="243.38" r="1.15"/><circle cx="75.08" cy="243.38" r="1.15"/><circle cx="80.11" cy="243.38" r="1.15"/><circle cx="85.14" cy="243.38" r="1.15"/><circle cx="90.17" cy="190.45" r="1.15"/><circle cx="95.20" cy="137.52" r="1.15"/><circle cx="100.23" cy="130.90" r="1.15"/><circle cx="105.26" cy="137.52" r="1.15"/><circle cx="110.29" cy="137.52" r="1.15"/><circle cx="115.32" cy="130.90" r="1.15"/><circle cx="120.35" cy="130.90" r="1.15"/><circle cx="125.38" cy="130.90" r="1.15"/><circle cx="130.41" cy="130.90" r="1.15"/><circle cx="135.44" cy="130.90" r="1.15"/><circle cx="140.47" cy="130.90" r="1.15"/><circle cx="145.50" cy="97.82" r="1.15"/><circle cx="150.53" cy="97.82" r="1.15"/><circle cx="155.56" cy="97.82" r="1.15"/><circle cx="160.59" cy="97.82" r="1.15"/><circle cx="165.62" cy="97.82" r="1.15"/><circle cx="170.65" cy="97.82" r="1.15"/><circle cx="175.68" cy="97.82" r="1.15"/><circle cx="180.71" cy="104.43" r="1.15"/><circle cx="185.74" cy="104.43" r="1.15"/><circle cx="190.77" cy="104.43" r="1.15"/><circle cx="195.80" cy="104.43" r="1.15"/><circle cx="200.83" cy="104.43" r="1.15"/><circle cx="205.86" cy="157.37" r="1.15"/><circle cx="210.89" cy="157.37" r="1.15"/><circle cx="215.92" cy="157.37" r="1.15"/><circle cx="220.95" cy="157.37" r="1.15"/><circle cx="225.98" cy="104.43" r="1.15"/><circle cx="231.01" cy="104.43" r="1.15"/><circle cx="236.04" cy="104.43" r="1.15"/><circle cx="241.07" cy="104.43" r="1.15"/><circle cx="246.10" cy="104.43" r="1.15"/><circle cx="251.13" cy="104.43" r="1.15"/><circle cx="256.16" cy="104.43" r="1.15"/><circle cx="261.19" cy="104.43" r="1.15"/><circle cx="266.22" cy="104.43" r="1.15"/><circle cx="271.25" cy="104.43" r="1.15"/><circle cx="276.28" cy="104.43" r="1.15"/><circle cx="281.31" cy="104.43" r="1.15"/><circle cx="286.34" cy="104.43" r="1.15"/><circle cx="291.37" cy="104.43" r="1.15"/><circle cx="296.40" cy="104.43" r="1.15"/><circle cx="301.43" cy="104.43" r="1.15"/><circle cx="306.46" cy="104.43" r="1.15"/><circle cx="311.49" cy="104.43" r="1.15"/><circle cx="316.52" cy="104.43" r="1.15"/><circle cx="321.55" cy="104.43" r="1.15"/><circle cx="326.58" cy="104.43" r="1.15"/><circle cx="331.61" cy="104.43" r="1.15"/><circle cx="336.64" cy="104.43" r="1.15"/><circle cx="341.67" cy="104.43" r="1.15"/><circle cx="346.70" cy="104.43" r="1.15"/><circle cx="351.73" cy="84.58" r="1.15"/><circle cx="356.76" cy="137.52" r="1.15"/><circle cx="361.79" cy="104.43" r="1.15"/><circle cx="366.82" cy="104.43" r="1.15"/><circle cx="371.85" cy="104.43" r="1.15"/><circle cx="376.88" cy="157.37" r="1.15"/><circle cx="381.91" cy="157.37" r="1.15"/><circle cx="386.94" cy="157.37" r="1.15"/><circle cx="391.97" cy="157.37" r="1.15"/><circle cx="397.00" cy="157.37" r="1.15"/><circle cx="402.03" cy="157.37" r="1.15"/><circle cx="407.06" cy="157.37" r="1.15"/><circle cx="412.09" cy="157.37" r="1.15"/><circle cx="417.12" cy="157.37" r="1.15"/><circle cx="422.15" cy="157.37" r="1.15"/><circle cx="427.18" cy="157.37" r="1.15"/><circle cx="432.21" cy="157.37" r="1.15"/><circle cx="437.24" cy="157.37" r="1.15"/><circle cx="442.27" cy="157.37" r="1.15"/><circle cx="447.30" cy="157.37" r="1.15"/></g><path d="M44.90,203.68 L49.93,203.68 L54.96,203.68 L59.99,203.68 L65.02,203.68 L70.05,91.20 L75.08,203.68 L80.11,150.75 L85.14,150.75 L90.17,97.82 L95.20,130.90 L100.23,130.90 L105.26,130.90 L110.29,130.90 L115.32,124.28 L120.35,124.28 L125.38,124.28 L130.41,124.28 L135.44,124.28 L140.47,130.90 L145.50,97.82 L150.53,97.82 L155.56,97.82 L160.59,97.82 L165.62,97.82 L170.65,97.82 L175.68,97.82 L180.71,104.43 L185.74,104.43 L190.77,104.43 L195.80,104.43 L200.83,104.43 L205.86,157.37 L210.89,157.37 L215.92,157.37 L220.95,157.37 L225.98,104.43 L231.01,104.43 L236.04,104.43 L241.07,104.43 L246.10,104.43 L251.13,104.43 L256.16,104.43 L261.19,104.43 L266.22,104.43 L271.25,104.43 L276.28,104.43 L281.31,104.43 L286.34,104.43 L291.37,104.43 L296.40,104.43 L301.43,104.43 L306.46,104.43 L311.49,104.43 L316.52,104.43 L321.55,104.43 L326.58,104.43 L331.61,104.43 L336.64,104.43 L341.67,104.43 L346.70,104.43 L351.73,84.58 L356.76,137.52 L361.79,104.43 L366.82,104.43 L371.85,104.43 L376.88,157.37 L381.91,157.37 L386.94,157.37 L391.97,157.37 L397.00,157.37 L402.03,157.37 L407.06,157.37 L412.09,157.37 L417.12,157.37 L422.15,157.37 L427.18,157.37 L432.21,157.37 L437.24,157.37 L442.27,157.37 L447.30,157.37 L447.30,157.37 L442.27,157.37 L437.24,157.37 L432.21,157.37 L427.18,157.37 L422.15,157.37 L417.12,157.37 L412.09,157.37 L407.06,157.37 L402.03,157.37 L397.00,157.37 L391.97,157.37 L386.94,157.37 L381.91,157.37 L376.88,157.37 L371.85,104.43 L366.82,104.43 L361.79,104.43 L356.76,137.52 L351.73,84.58 L346.70,104.43 L341.67,104.43 L336.64,104.43 L331.61,104.43 L326.58,104.43 L321.55,104.43 L316.52,104.43 L311.49,104.43 L306.46,104.43 L301.43,104.43 L296.40,104.43 L291.37,104.43 L286.34,104.43 L281.31,104.43 L276.28,104.43 L271.25,104.43 L266.22,104.43 L261.19,104.43 L256.16,104.43 L251.13,104.43 L246.10,104.43 L241.07,104.43 L236.04,104.43 L231.01,104.43 L225.98,104.43 L220.95,157.37 L215.92,157.37 L210.89,157.37 L205.86,157.37 L200.83,104.43 L195.80,104.43 L190.77,104.43 L185.74,104.43 L180.71,104.43 L175.68,97.82 L170.65,97.82 L165.62,97.82 L160.59,97.82 L155.56,97.82 L150.53,97.82 L145.50,97.82 L140.47,130.90 L135.44,130.90 L130.41,130.90 L125.38,130.90 L120.35,130.90 L115.32,130.90 L110.29,137.52 L105.26,137.52 L100.23,130.90 L95.20,137.52 L90.17,190.45 L85.14,243.38 L80.11,243.38 L75.08,243.38 L70.05,243.38 L65.02,243.38 L59.99,243.38 L54.96,243.38 L49.93,243.38 L44.90,243.38Z" fill="#68BC00" fill-opacity="0.5"/><polyline points="44.90,203.68 49.93,203.68 54.96,203.68 59.99,203.68 65.02,203.68 70.05,91.20 75.08,203.68 80.11,150.75 85.14,150.75 90.17,97.82 95.20,130.90 100.23,130.90 105.26,130.90 110.29,130.90 115.32,124.28 120.35,124.28 125.38,124.28 130.41,124.28 135.44,124.28 140.47,130.90 145.50,97.82 150.53,97.82 155.56,97.82 160.59,97.82 165.62,97.82 170.65,97.82 175.68,97.82 180.71,104.43 185.74,104.43 190.77,104.43 195.80,104.43 200.83,104.43 205.86,157.37 210.89,157.37 215.92,157.37 220.95,157.37 225.98,104.43 231.01,104.43 236.04,104.43 241.07,104.43 246.10,104.43 251.13,104.43 256.16,104.43 261.19,104.43 266.22,104.43 271.25,104.43 276.28,104.43 281.31,104.43 286.34,104.43 291.37,104.43 296.40,104.43 301.43,104.43 306.46,104.43 311.49,104.43 316.52,104.43 321.55,104.43 326.58,104.43 331.61,104.43 336.64,104.43 341.67,104.43 346.70,104.43 351.73,84.58 356.76,137.52 361.79,104.43 366.82,104.43 371.85,104.43 376.88,157.37 381.91,157.37 386.94,157.37 391.97,157.37 397.00,157.37 402.03,157.37 407.06,157.37 412.09,157.37 417.12,157.37 422.15,157.37 427.18,157.37 432.21,157.37 437.24,157.37 442.27,157.37 447.30,157.37" fill="none" stroke="#68BC00" stroke-width="1" stroke-linejoin="round"/><g fill="#fff" stroke="#68BC00" stroke-width="1.0"><circle cx="44.90" cy="203.68" r="1.15"/><circle cx="49.93" cy="203.68" r="1.15"/><circle cx="54.96" cy="203.68" r="1.15"/><circle cx="59.99" cy="203.68" r="1.15"/><circle cx="65.02" cy="203.68" r="1.15"/><circle cx="70.05" cy="91.20" r="1.15"/><circle cx="75.08" cy="203.68" r="1.15"/><circle cx="80.11" cy="150.75" r="1.15"/><circle cx="85.14" cy="150.75" r="1.15"/><circle cx="90.17" cy="97.82" r="1.15"/><circle cx="95.20" cy="130.90" r="1.15"/><circle cx="100.23" cy="130.90" r="1.15"/><circle cx="105.26" cy="130.90" r="1.15"/><circle cx="110.29" cy="130.90" r="1.15"/><circle cx="115.32" cy="124.28" r="1.15"/><circle cx="120.35" cy="124.28" r="1.15"/><circle cx="125.38" cy="124.28" r="1.15"/><circle cx="130.41" cy="124.28" r="1.15"/><circle cx="135.44" cy="124.28" r="1.15"/><circle cx="140.47" cy="130.90" r="1.15"/><circle cx="145.50" cy="97.82" r="1.15"/><circle cx="150.53" cy="97.82" r="1.15"/><circle cx="155.56" cy="97.82" r="1.15"/><circle cx="160.59" cy="97.82" r="1.15"/><circle cx="165.62" cy="97.82" r="1.15"/><circle cx="170.65" cy="97.82" r="1.15"/><circle cx="175.68" cy="97.82" r="1.15"/><circle cx="180.71" cy="104.43" r="1.15"/><circle cx="185.74" cy="104.43" r="1.15"/><circle cx="190.77" cy="104.43" r="1.15"/><circle cx="195.80" cy="104.43" r="1.15"/><circle cx="200.83" cy="104.43" r="1.15"/><circle cx="205.86" cy="157.37" r="1.15"/><circle cx="210.89" cy="157.37" r="1.15"/><circle cx="215.92" cy="157.37" r="1.15"/><circle cx="220.95" cy="157.37" r="1.15"/><circle cx="225.98" cy="104.43" r="1.15"/><circle cx="231.01" cy="104.43" r="1.15"/><circle cx="236.04" cy="104.43" r="1.15"/><circle cx="241.07" cy="104.43" r="1.15"/><circle cx="246.10" cy="104.43" r="1.15"/><circle cx="251.13" cy="104.43" r="1.15"/><circle cx="256.16" cy="104.43" r="1.15"/><circle cx="261.19" cy="104.43" r="1.15"/><circle cx="266.22" cy="104.43" r="1.15"/><circle cx="271.25" cy="104.43" r="1.15"/><circle cx="276.28" cy="104.43" r="1.15"/><circle cx="281.31" cy="104.43" r="1.15"/><circle cx="286.34" cy="104.43" r="1.15"/><circle cx="291.37" cy="104.43" r="1.15"/><circle cx="296.40" cy="104.43" r="1.15"/><circle cx="301.43" cy="104.43" r="1.15"/><circle cx="306.46" cy="104.43" r="1.15"/><circle cx="311.49" cy="104.43" r="1.15"/><circle cx="316.52" cy="104.43" r="1.15"/><circle cx="321.55" cy="104.43" r="1.15"/><circle cx="326.58" cy="104.43" r="1.15"/><circle cx="331.61" cy="104.43" r="1.15"/><circle cx="336.64" cy="104.43" r="1.15"/><circle cx="341.67" cy="104.43" r="1.15"/><circle cx="346.70" cy="104.43" r="1.15"/><circle cx="351.73" cy="84.58" r="1.15"/><circle cx="356.76" cy="137.52" r="1.15"/><circle cx="361.79" cy="104.43" r="1.15"/><circle cx="366.82" cy="104.43" r="1.15"/><circle cx="371.85" cy="104.43" r="1.15"/><circle cx="376.88" cy="157.37" r="1.15"/><circle cx="381.91" cy="157.37" r="1.15"/><circle cx="386.94" cy="157.37" r="1.15"/><circle cx="391.97" cy="157.37" r="1.15"/><circle cx="397.00" cy="157.37" r="1.15"/><circle cx="402.03" cy="157.37" r="1.15"/><circle cx="407.06" cy="157.37" r="1.15"/><circle cx="412.09" cy="157.37" r="1.15"/><circle cx="417.12" cy="157.37" r="1.15"/><circle cx="422.15" cy="157.37" r="1.15"/><circle cx="427.18" cy="157.37" r="1.15"/><circle cx="432.21" cy="157.37" r="1.15"/><circle cx="437.24" cy="157.37" r="1.15"/><circle cx="442.27" cy="157.37" r="1.15"/><circle cx="447.30" cy="157.37" r="1.15"/></g><g font-family='"Liberation Sans", sans-serif' font-size="11" fill="#8A8A8A" letter-spacing="0.45"><text x="35.8" y="253.2" text-anchor="end">0</text><text x="35.8" y="220.1" text-anchor="end">5</text><text x="35.8" y="187.0" text-anchor="end">10</text><text x="35.8" y="153.9" text-anchor="end">15</text><text x="35.8" y="120.9" text-anchor="end">20</text><text x="35.8" y="87.8" text-anchor="end">25</text><text x="35.8" y="54.7" text-anchor="end">30</text></g><g font-family='"Liberation Sans", sans-serif' font-size="11" fill="#8A8A8A" letter-spacing="0.45"><text x="125.8" y="265.2" text-anchor="middle">20:20:00</text><text x="225.8" y="265.2" text-anchor="middle">20:30:00</text><text x="326.8" y="265.2" text-anchor="middle">20:40:00</text><text x="426.8" y="265.2" text-anchor="middle">20:50:00</text></g><text x="246.3" y="282.6" text-anchor="middle" font-family='"Liberation Sans", sans-serif' font-size="12" font-weight="bold" fill="#999FAA" letter-spacing="0.15">per 30 seconds</text><line x1="495.0" x2="665.0" y1="49.5" y2="49.5" stroke="#CDCDCD" stroke-width="1"/><line x1="495.0" x2="665.0" y1="75.5" y2="75.5" stroke="#CDCDCD" stroke-width="1"/><line x1="495.0" x2="665.0" y1="100.5" y2="100.5" stroke="#CDCDCD" stroke-width="1"/><line x1="495.0" x2="665.0" y1="126.5" y2="126.5" stroke="#CDCDCD" stroke-width="1"/><line x1="495.0" x2="665.0" y1="151.5" y2="151.5" stroke="#CDCDCD" stroke-width="1"/><line x1="495.0" x2="665.0" y1="177.5" y2="177.5" stroke="#CDCDCD" stroke-width="1"/><line x1="495.0" x2="665.0" y1="202.5" y2="202.5" stroke="#CDCDCD" stroke-width="1"/><path d="M481.0,56.8 L485.0,61.0 L481.0,65.2" fill="none" stroke="#3F4450" stroke-width="1.2"/><circle cx="507.0" cy="62.4" r="4" fill="#68BC00"/><text x="519.2" y="65.8" font-family='"Liberation Sans", sans-serif' font-size="12" fill="#343741">172.18.0.4:8080</text><text x="661.8" y="65.8" text-anchor="end" font-family='"Liberation Sans", sans-serif' font-size="12" fill="#343741" stroke="#343741" stroke-width="0.3" letter-spacing="0.9">0</text><circle cx="507.0" cy="88.4" r="4" fill="#009CE0"/><text x="519.2" y="91.8" font-family='"Liberation Sans", sans-serif' font-size="12" fill="#343741">172.18.0.3:8080</text><text x="661.8" y="91.8" text-anchor="end" font-family='"Liberation Sans", sans-serif' font-size="12" fill="#343741" stroke="#343741" stroke-width="0.3" letter-spacing="0.9">6</text><circle cx="507.0" cy="113.4" r="4" fill="#B0BC00"/><text x="519.2" y="116.8" font-family='"Liberation Sans", sans-serif' font-size="12" fill="#343741">172.18.0.2:8080</text><text x="661.8" y="116.8" text-anchor="end" font-family='"Liberation Sans", sans-serif' font-size="12" fill="#343741" stroke="#343741" stroke-width="0.3" letter-spacing="0.9">0</text><circle cx="507.0" cy="139.4" r="4" fill="#16A5A5"/><text x="519.2" y="142.8" font-family='"Liberation Sans", sans-serif' font-size="12" fill="#343741">172.18.0.7:8080</text><text x="661.8" y="142.8" text-anchor="end" font-family='"Liberation Sans", sans-serif' font-size="12" fill="#343741" stroke="#343741" stroke-width="0.3" letter-spacing="0.9">0</text><circle cx="507.0" cy="164.4" r="4" fill="#D33115"/><text x="519.2" y="167.8" font-family='"Liberation Sans", sans-serif' font-size="12" fill="#343741">172.18.0.6:8080</text><text x="661.8" y="167.8" text-anchor="end" font-family='"Liberation Sans", sans-serif' font-size="12" fill="#343741" stroke="#343741" stroke-width="0.3" letter-spacing="0.9">8</text><circle cx="507.0" cy="190.4" r="4" fill="#E27300"/><text x="519.2" y="193.8" font-family='"Liberation Sans", sans-serif' font-size="12" fill="#343741">172.18.0.5:8080</text><text x="661.8" y="193.8" text-anchor="end" font-family='"Liberation Sans", sans-serif' font-size="12" fill="#343741" stroke="#343741" stroke-width="0.3" letter-spacing="0.9">0</text></g>
<g><g stroke="#E0E2E7" stroke-width="1" fill="none"><line x1="763.0" x2="1140.0" y1="250.5" y2="250.5"/><line x1="763.0" x2="1140.0" y1="210.5" y2="210.5"/><line x1="763.0" x2="1140.0" y1="170.5" y2="170.5"/><line x1="763.0" x2="1140.0" y1="131.5" y2="131.5"/><line x1="763.0" x2="1140.0" y1="91.5" y2="91.5"/><line x1="763.0" x2="1140.0" y1="51.5" y2="51.5"/><line x1="839.5" x2="839.5" y1="51.0" y2="251.0"/><line x1="932.5" x2="932.5" y1="51.0" y2="251.0"/><line x1="1026.5" x2="1026.5" y1="51.0" y2="251.0"/><line x1="1120.5" x2="1120.5" y1="51.0" y2="251.0"/><line x1="763.5" x2="763.5" y1="51.0" y2="251.0"/><line x1="1139.5" x2="1139.5" y1="51.0" y2="251.0"/></g><path d="M763.87,250.00 L768.56,250.00 L773.25,250.00 L777.95,250.00 L782.64,250.00 L787.33,250.00 L792.02,250.00 L796.71,250.00 L801.41,250.00 L806.10,250.00 L810.79,250.00 L815.48,250.00 L820.17,250.00 L824.87,250.00 L829.56,250.00 L834.25,250.00 L838.94,250.00 L843.63,250.00 L848.33,250.00 L853.02,250.00 L857.71,250.00 L862.40,250.00 L867.09,250.00 L871.79,250.00 L876.48,250.00 L881.17,250.00 L885.86,250.00 L890.55,250.00 L895.25,250.00 L899.94,250.00 L904.63,250.00 L909.32,250.00 L914.01,250.00 L918.71,250.00 L923.40,250.00 L928.09,250.00 L932.78,250.00 L937.47,250.00 L942.17,250.00 L946.86,250.00 L951.55,250.00 L956.24,250.00 L960.93,250.00 L965.63,250.00 L970.32,250.00 L975.01,250.00 L979.70,250.00 L984.39,250.00 L989.09,250.00 L993.78,250.00 L998.47,250.00 L1003.16,250.00 L1007.85,250.00 L1012.55,250.00 L1017.24,250.00 L1021.93,250.00 L1026.62,250.00 L1031.31,250.00 L1036.01,250.00 L1040.70,250.00 L1045.39,250.00 L1050.08,250.00 L1054.77,250.00 L1059.47,250.00 L1064.16,250.00 L1068.85,250.00 L1073.54,250.00 L1078.23,250.00 L1082.93,250.00 L1087.62,250.00 L1092.31,250.00 L1097.00,250.00 L1101.69,250.00 L1106.39,250.00 L1111.08,250.00 L1115.77,250.00 L1120.46,250.00 L1125.15,250.00 L1129.85,250.00 L1134.54,250.00 L1139.23,250.00 L1139.23,250.00 L1134.54,250.00 L1129.85,250.00 L1125.15,250.00 L1120.46,250.00 L1115.77,250.00 L1111.08,250.00 L1106.39,250.00 L1101.69,250.00 L1097.00,250.00 L1092.31,250.00 L1087.62,250.00 L1082.93,250.00 L1078.23,250.00 L1073.54,250.00 L1068.85,250.00 L1064.16,250.00 L1059.47,250.00 L1054.77,250.00 L1050.08,250.00 L1045.39,250.00 L1040.70,250.00 L1036.01,250.00 L1031.31,250.00 L1026.62,250.00 L1021.93,250.00 L1017.24,250.00 L1012.55,250.00 L1007.85,250.00 L1003.16,250.00 L998.47,250.00 L993.78,250.00 L989.09,250.00 L984.39,250.00 L979.70,250.00 L975.01,250.00 L970.32,250.00 L965.63,250.00 L960.93,250.00 L956.24,250.00 L951.55,250.00 L946.86,250.00 L942.17,250.00 L937.47,250.00 L932.78,250.00 L928.09,250.00 L923.40,250.00 L918.71,250.00 L914.01,250.00 L909.32,250.00 L904.63,250.00 L899.94,250.00 L895.25,250.00 L890.55,250.00 L885.86,250.00 L881.17,250.00 L876.48,250.00 L871.79,250.00 L867.09,250.00 L862.40,250.00 L857.71,250.00 L853.02,250.00 L848.33,250.00 L843.63,250.00 L838.94,250.00 L834.25,250.00 L829.56,250.00 L824.87,250.00 L820.17,250.00 L815.48,250.00 L810.79,250.00 L806.10,250.00 L801.41,250.00 L796.71,250.00 L792.02,250.00 L787.33,250.00 L782.64,250.00 L777.95,250.00 L773.25,250.00 L768.56,250.00 L763.87,250.00Z" fill="#73D8FF" fill-opacity="0.5"/><polyline points="763.87,250.00 768.56,250.00 773.25,250.00 777.95,250.00 782.64,250.00 787.33,250.00 792.02,250.00 796.71,250.00 801.41,250.00 806.10,250.00 810.79,250.00 815.48,250.00 820.17,250.00 824.87,250.00 829.56,250.00 834.25,250.00 838.94,250.00 843.63,250.00 848.33,250.00 853.02,250.00 857.71,250.00 862.40,250.00 867.09,250.00 871.79,250.00 876.48,250.00 881.17,250.00 885.86,250.00 890.55,250.00 895.25,250.00 899.94,250.00 904.63,250.00 909.32,250.00 914.01,250.00 918.71,250.00 923.40,250.00 928.09,250.00 932.78,250.00 937.47,250.00 942.17,250.00 946.86,250.00 951.55,250.00 956.24,250.00 960.93,250.00 965.63,250.00 970.32,250.00 975.01,250.00 979.70,250.00 984.39,250.00 989.09,250.00 993.78,250.00 998.47,250.00 1003.16,250.00 1007.85,250.00 1012.55,250.00 1017.24,250.00 1021.93,250.00 1026.62,250.00 1031.31,250.00 1036.01,250.00 1040.70,250.00 1045.39,250.00 1050.08,250.00 1054.77,250.00 1059.47,250.00 1064.16,250.00 1068.85,250.00 1073.54,250.00 1078.23,250.00 1082.93,250.00 1087.62,250.00 1092.31,250.00 1097.00,250.00 1101.69,250.00 1106.39,250.00 1111.08,250.00 1115.77,250.00 1120.46,250.00 1125.15,250.00 1129.85,250.00 1134.54,250.00 1139.23,250.00" fill="none" stroke="#73D8FF" stroke-width="1" stroke-linejoin="round"/><g fill="#fff" stroke="#73D8FF" stroke-width="1.0"><circle cx="763.87" cy="250.00" r="1.15"/><circle cx="768.56" cy="250.00" r="1.15"/><circle cx="773.25" cy="250.00" r="1.15"/><circle cx="777.95" cy="250.00" r="1.15"/><circle cx="782.64" cy="250.00" r="1.15"/><circle cx="787.33" cy="250.00" r="1.15"/><circle cx="792.02" cy="250.00" r="1.15"/><circle cx="796.71" cy="250.00" r="1.15"/><circle cx="801.41" cy="250.00" r="1.15"/><circle cx="806.10" cy="250.00" r="1.15"/><circle cx="810.79" cy="250.00" r="1.15"/><circle cx="815.48" cy="250.00" r="1.15"/><circle cx="820.17" cy="250.00" r="1.15"/><circle cx="824.87" cy="250.00" r="1.15"/><circle cx="829.56" cy="250.00" r="1.15"/><circle cx="834.25" cy="250.00" r="1.15"/><circle cx="838.94" cy="250.00" r="1.15"/><circle cx="843.63" cy="250.00" r="1.15"/><circle cx="848.33" cy="250.00" r="1.15"/><circle cx="853.02" cy="250.00" r="1.15"/><circle cx="857.71" cy="250.00" r="1.15"/><circle cx="862.40" cy="250.00" r="1.15"/><circle cx="867.09" cy="250.00" r="1.15"/><circle cx="871.79" cy="250.00" r="1.15"/><circle cx="876.48" cy="250.00" r="1.15"/><circle cx="881.17" cy="250.00" r="1.15"/><circle cx="885.86" cy="250.00" r="1.15"/><circle cx="890.55" cy="250.00" r="1.15"/><circle cx="895.25" cy="250.00" r="1.15"/><circle cx="899.94" cy="250.00" r="1.15"/><circle cx="904.63" cy="250.00" r="1.15"/><circle cx="909.32" cy="250.00" r="1.15"/><circle cx="914.01" cy="250.00" r="1.15"/><circle cx="918.71" cy="250.00" r="1.15"/><circle cx="923.40" cy="250.00" r="1.15"/><circle cx="928.09" cy="250.00" r="1.15"/><circle cx="932.78" cy="250.00" r="1.15"/><circle cx="937.47" cy="250.00" r="1.15"/><circle cx="942.17" cy="250.00" r="1.15"/><circle cx="946.86" cy="250.00" r="1.15"/><circle cx="951.55" cy="250.00" r="1.15"/><circle cx="956.24" cy="250.00" r="1.15"/><circle cx="960.93" cy="250.00" r="1.15"/><circle cx="965.63" cy="250.00" r="1.15"/><circle cx="970.32" cy="250.00" r="1.15"/><circle cx="975.01" cy="250.00" r="1.15"/><circle cx="979.70" cy="250.00" r="1.15"/><circle cx="984.39" cy="250.00" r="1.15"/><circle cx="989.09" cy="250.00" r="1.15"/><circle cx="993.78" cy="250.00" r="1.15"/><circle cx="998.47" cy="250.00" r="1.15"/><circle cx="1003.16" cy="250.00" r="1.15"/><circle cx="1007.85" cy="250.00" r="1.15"/><circle cx="1012.55" cy="250.00" r="1.15"/><circle cx="1017.24" cy="250.00" r="1.15"/><circle cx="1021.93" cy="250.00" r="1.15"/><circle cx="1026.62" cy="250.00" r="1.15"/><circle cx="1031.31" cy="250.00" r="1.15"/><circle cx="1036.01" cy="250.00" r="1.15"/><circle cx="1040.70" cy="250.00" r="1.15"/><circle cx="1045.39" cy="250.00" r="1.15"/><circle cx="1050.08" cy="250.00" r="1.15"/><circle cx="1054.77" cy="250.00" r="1.15"/><circle cx="1059.47" cy="250.00" r="1.15"/><circle cx="1064.16" cy="250.00" r="1.15"/><circle cx="1068.85" cy="250.00" r="1.15"/><circle cx="1073.54" cy="250.00" r="1.15"/><circle cx="1078.23" cy="250.00" r="1.15"/><circle cx="1082.93" cy="250.00" r="1.15"/><circle cx="1087.62" cy="250.00" r="1.15"/><circle cx="1092.31" cy="250.00" r="1.15"/><circle cx="1097.00" cy="250.00" r="1.15"/><circle cx="1101.69" cy="250.00" r="1.15"/><circle cx="1106.39" cy="250.00" r="1.15"/><circle cx="1111.08" cy="250.00" r="1.15"/><circle cx="1115.77" cy="250.00" r="1.15"/><circle cx="1120.46" cy="250.00" r="1.15"/><circle cx="1125.15" cy="250.00" r="1.15"/><circle cx="1129.85" cy="250.00" r="1.15"/><circle cx="1134.54" cy="250.00" r="1.15"/><circle cx="1139.23" cy="250.00" r="1.15"/></g><path d="M763.87,250.00 L768.56,226.18 L773.25,246.90 L777.95,246.90 L782.64,247.62 L787.33,247.62 L792.02,248.01 L796.71,248.01 L801.41,248.41 L806.10,248.81 L810.79,248.81 L815.48,249.05 L820.17,249.05 L824.87,249.05 L829.56,249.05 L834.25,249.05 L838.94,249.05 L843.63,249.05 L848.33,249.05 L853.02,249.05 L857.71,249.05 L862.40,249.05 L867.09,249.60 L871.79,248.41 L876.48,248.81 L881.17,248.81 L885.86,250.00 L890.55,227.77 L895.25,248.73 L899.94,248.81 L904.63,248.81 L909.32,248.81 L914.01,249.60 L918.71,248.81 L923.40,248.81 L928.09,248.81 L932.78,248.81 L937.47,248.81 L942.17,248.81 L946.86,248.81 L951.55,248.81 L956.24,248.81 L960.93,248.81 L965.63,248.81 L970.32,248.81 L975.01,248.81 L979.70,248.81 L984.39,250.00 L989.09,250.00 L993.78,230.94 L998.47,248.41 L1003.16,250.00 L1007.85,248.41 L1012.55,222.45 L1017.24,248.41 L1021.93,248.41 L1026.62,250.00 L1031.31,238.88 L1036.01,248.41 L1040.70,222.45 L1045.39,248.41 L1050.08,239.68 L1054.77,248.49 L1059.47,248.41 L1064.16,248.41 L1068.85,248.25 L1073.54,248.17 L1078.23,248.01 L1082.93,248.01 L1087.62,248.01 L1092.31,248.01 L1097.00,248.01 L1101.69,248.01 L1106.39,248.01 L1111.08,248.01 L1115.77,248.01 L1120.46,248.01 L1125.15,248.01 L1129.85,248.01 L1134.54,248.01 L1139.23,248.16 L1139.23,250.00 L1134.54,250.00 L1129.85,250.00 L1125.15,250.00 L1120.46,250.00 L1115.77,250.00 L1111.08,250.00 L1106.39,250.00 L1101.69,250.00 L1097.00,250.00 L1092.31,250.00 L1087.62,250.00 L1082.93,250.00 L1078.23,250.00 L1073.54,250.00 L1068.85,250.00 L1064.16,250.00 L1059.47,250.00 L1054.77,250.00 L1050.08,250.00 L1045.39,250.00 L1040.70,250.00 L1036.01,250.00 L1031.31,250.00 L1026.62,250.00 L1021.93,250.00 L1017.24,250.00 L1012.55,250.00 L1007.85,250.00 L1003.16,250.00 L998.47,250.00 L993.78,250.00 L989.09,250.00 L984.39,250.00 L979.70,250.00 L975.01,250.00 L970.32,250.00 L965.63,250.00 L960.93,250.00 L956.24,250.00 L951.55,250.00 L946.86,250.00 L942.17,250.00 L937.47,250.00 L932.78,250.00 L928.09,250.00 L923.40,250.00 L918.71,250.00 L914.01,250.00 L909.32,250.00 L904.63,250.00 L899.94,250.00 L895.25,250.00 L890.55,250.00 L885.86,250.00 L881.17,250.00 L876.48,250.00 L871.79,250.00 L867.09,250.00 L862.40,250.00 L857.71,250.00 L853.02,250.00 L848.33,250.00 L843.63,250.00 L838.94,250.00 L834.25,250.00 L829.56,250.00 L824.87,250.00 L820.17,250.00 L815.48,250.00 L810.79,250.00 L806.10,250.00 L801.41,250.00 L796.71,250.00 L792.02,250.00 L787.33,250.00 L782.64,250.00 L777.95,250.00 L773.25,250.00 L768.56,250.00 L763.87,250.00Z" fill="#FCDC00" fill-opacity="0.5"/><polyline points="763.87,250.00 768.56,226.18 773.25,246.90 777.95,246.90 782.64,247.62 787.33,247.62 792.02,248.01 796.71,248.01 801.41,248.41 806.10,248.81 810.79,248.81 815.48,249.05 820.17,249.05 824.87,249.05 829.56,249.05 834.25,249.05 838.94,249.05 843.63,249.05 848.33,249.05 853.02,249.05 857.71,249.05 862.40,249.05 867.09,249.60 871.79,248.41 876.48,248.81 881.17,248.81 885.86,250.00 890.55,227.77 895.25,248.73 899.94,248.81 904.63,248.81 909.32,248.81 914.01,249.60 918.71,248.81 923.40,248.81 928.09,248.81 932.78,248.81 937.47,248.81 942.17,248.81 946.86,248.81 951.55,248.81 956.24,248.81 960.93,248.81 965.63,248.81 970.32,248.81 975.01,248.81 979.70,248.81 984.39,250.00 989.09,250.00 993.78,230.94 998.47,248.41 1003.16,250.00 1007.85,248.41 1012.55,222.45 1017.24,248.41 1021.93,248.41 1026.62,250.00 1031.31,238.88 1036.01,248.41 1040.70,222.45 1045.39,248.41 1050.08,239.68 1054.77,248.49 1059.47,248.41 1064.16,248.41 1068.85,248.25 1073.54,248.17 1078.23,248.01 1082.93,248.01 1087.62,248.01 1092.31,248.01 1097.00,248.01 1101.69,248.01 1106.39,248.01 1111.08,248.01 1115.77,248.01 1120.46,248.01 1125.15,248.01 1129.85,248.01 1134.54,248.01 1139.23,248.16" fill="none" stroke="#FCDC00" stroke-width="1" stroke-linejoin="round"/><g fill="#fff" stroke="#FCDC00" stroke-width="1.0"><circle cx="763.87" cy="250.00" r="1.15"/><circle cx="768.56" cy="226.18" r="1.15"/><circle cx="773.25" cy="246.90" r="1.15"/><circle cx="777.95" cy="246.90" r="1.15"/><circle cx="782.64" cy="247.62" r="1.15"/><circle cx="787.33" cy="247.62" r="1.15"/><circle cx="792.02" cy="248.01" r="1.15"/><circle cx="796.71" cy="248.01" r="1.15"/><circle cx="801.41" cy="248.41" r="1.15"/><circle cx="806.10" cy="248.81" r="1.15"/><circle cx="810.79" cy="248.81" r="1.15"/><circle cx="815.48" cy="249.05" r="1.15"/><circle cx="820.17" cy="249.05" r="1.15"/><circle cx="824.87" cy="249.05" r="1.15"/><circle cx="829.56" cy="249.05" r="1.15"/><circle cx="834.25" cy="249.05" r="1.15"/><circle cx="838.94" cy="249.05" r="1.15"/><circle cx="843.63" cy="249.05" r="1.15"/><circle cx="848.33" cy="249.05" r="1.15"/><circle cx="853.02" cy="249.05" r="1.15"/><circle cx="857.71" cy="249.05" r="1.15"/><circle cx="862.40" cy="249.05" r="1.15"/><circle cx="867.09" cy="249.60" r="1.15"/><circle cx="871.79" cy="248.41" r="1.15"/><circle cx="876.48" cy="248.81" r="1.15"/><circle cx="881.17" cy="248.81" r="1.15"/><circle cx="885.86" cy="250.00" r="1.15"/><circle cx="890.55" cy="227.77" r="1.15"/><circle cx="895.25" cy="248.73" r="1.15"/><circle cx="899.94" cy="248.81" r="1.15"/><circle cx="904.63" cy="248.81" r="1.15"/><circle cx="909.32" cy="248.81" r="1.15"/><circle cx="914.01" cy="249.60" r="1.15"/><circle cx="918.71" cy="248.81" r="1.15"/><circle cx="923.40" cy="248.81" r="1.15"/><circle cx="928.09" cy="248.81" r="1.15"/><circle cx="932.78" cy="248.81" r="1.15"/><circle cx="937.47" cy="248.81" r="1.15"/><circle cx="942.17" cy="248.81" r="1.15"/><circle cx="946.86" cy="248.81" r="1.15"/><circle cx="951.55" cy="248.81" r="1.15"/><circle cx="956.24" cy="248.81" r="1.15"/><circle cx="960.93" cy="248.81" r="1.15"/><circle cx="965.63" cy="248.81" r="1.15"/><circle cx="970.32" cy="248.81" r="1.15"/><circle cx="975.01" cy="248.81" r="1.15"/><circle cx="979.70" cy="248.81" r="1.15"/><circle cx="984.39" cy="250.00" r="1.15"/><circle cx="989.09" cy="250.00" r="1.15"/><circle cx="993.78" cy="230.94" r="1.15"/><circle cx="998.47" cy="248.41" r="1.15"/><circle cx="1003.16" cy="250.00" r="1.15"/><circle cx="1007.85" cy="248.41" r="1.15"/><circle cx="1012.55" cy="222.45" r="1.15"/><circle cx="1017.24" cy="248.41" r="1.15"/><circle cx="1021.93" cy="248.41" r="1.15"/><circle cx="1026.62" cy="250.00" r="1.15"/><circle cx="1031.31" cy="238.88" r="1.15"/><circle cx="1036.01" cy="248.41" r="1.15"/><circle cx="1040.70" cy="222.45" r="1.15"/><circle cx="1045.39" cy="248.41" r="1.15"/><circle cx="1050.08" cy="239.68" r="1.15"/><circle cx="1054.77" cy="248.49" r="1.15"/><circle cx="1059.47" cy="248.41" r="1.15"/><circle cx="1064.16" cy="248.41" r="1.15"/><circle cx="1068.85" cy="248.25" r="1.15"/><circle cx="1073.54" cy="248.17" r="1.15"/><circle cx="1078.23" cy="248.01" r="1.15"/><circle cx="1082.93" cy="248.01" r="1.15"/><circle cx="1087.62" cy="248.01" r="1.15"/><circle cx="1092.31" cy="248.01" r="1.15"/><circle cx="1097.00" cy="248.01" r="1.15"/><circle cx="1101.69" cy="248.01" r="1.15"/><circle cx="1106.39" cy="248.01" r="1.15"/><circle cx="1111.08" cy="248.01" r="1.15"/><circle cx="1115.77" cy="248.01" r="1.15"/><circle cx="1120.46" cy="248.01" r="1.15"/><circle cx="1125.15" cy="248.01" r="1.15"/><circle cx="1129.85" cy="248.01" r="1.15"/><circle cx="1134.54" cy="248.01" r="1.15"/><circle cx="1139.23" cy="248.16" r="1.15"/></g><path d="M763.87,250.00 L768.56,199.98 L773.25,246.19 L777.95,246.19 L782.64,246.90 L787.33,244.84 L792.02,246.19 L796.71,245.55 L801.41,244.44 L806.10,243.41 L810.79,242.38 L815.48,243.41 L820.17,243.65 L824.87,243.41 L829.56,241.98 L834.25,242.38 L838.94,242.22 L843.63,242.70 L848.33,242.22 L853.02,242.38 L857.71,242.22 L862.40,242.70 L867.09,248.81 L871.79,223.80 L876.48,242.85 L881.17,246.82 L885.86,250.00 L890.55,196.01 L895.25,242.70 L899.94,242.22 L904.63,242.06 L909.32,242.22 L914.01,249.21 L918.71,240.47 L923.40,242.70 L928.09,241.66 L932.78,240.87 L937.47,242.22 L942.17,243.97 L946.86,243.49 L951.55,243.97 L956.24,243.49 L960.93,244.84 L965.63,244.84 L970.32,243.09 L975.01,243.49 L979.70,243.97 L984.39,249.84 L989.09,250.00 L993.78,209.11 L998.47,196.01 L1003.16,250.00 L1007.85,234.91 L1012.55,138.84 L1017.24,238.09 L1021.93,243.65 L1026.62,250.00 L1031.31,225.39 L1036.01,185.69 L1040.70,220.94 L1045.39,175.36 L1050.08,232.53 L1054.77,245.16 L1059.47,245.24 L1064.16,245.24 L1068.85,245.08 L1073.54,245.00 L1078.23,244.84 L1082.93,244.84 L1087.62,245.00 L1092.31,245.00 L1097.00,245.00 L1101.69,245.00 L1106.39,245.08 L1111.08,245.08 L1115.77,245.08 L1120.46,245.08 L1125.15,245.08 L1129.85,245.08 L1134.54,245.08 L1139.23,245.32 L1139.23,248.16 L1134.54,248.01 L1129.85,248.01 L1125.15,248.01 L1120.46,248.01 L1115.77,248.01 L1111.08,248.01 L1106.39,248.01 L1101.69,248.01 L1097.00,248.01 L1092.31,248.01 L1087.62,248.01 L1082.93,248.01 L1078.23,248.01 L1073.54,248.17 L1068.85,248.25 L1064.16,248.41 L1059.47,248.41 L1054.77,248.49 L1050.08,239.68 L1045.39,248.41 L1040.70,222.45 L1036.01,248.41 L1031.31,238.88 L1026.62,250.00 L1021.93,248.41 L1017.24,248.41 L1012.55,222.45 L1007.85,248.41 L1003.16,250.00 L998.47,248.41 L993.78,230.94 L989.09,250.00 L984.39,250.00 L979.70,248.81 L975.01,248.81 L970.32,248.81 L965.63,248.81 L960.93,248.81 L956.24,248.81 L951.55,248.81 L946.86,248.81 L942.17,248.81 L937.47,248.81 L932.78,248.81 L928.09,248.81 L923.40,248.81 L918.71,248.81 L914.01,249.60 L909.32,248.81 L904.63,248.81 L899.94,248.81 L895.25,248.73 L890.55,227.77 L885.86,250.00 L881.17,248.81 L876.48,248.81 L871.79,248.41 L867.09,249.60 L862.40,249.05 L857.71,249.05 L853.02,249.05 L848.33,249.05 L843.63,249.05 L838.94,249.05 L834.25,249.05 L829.56,249.05 L824.87,249.05 L820.17,249.05 L815.48,249.05 L810.79,248.81 L806.10,248.81 L801.41,248.41 L796.71,248.01 L792.02,248.01 L787.33,247.62 L782.64,247.62 L777.95,246.90 L773.25,246.90 L768.56,226.18 L763.87,250.00Z" fill="#F44E3B" fill-opacity="0.5"/><polyline points="763.87,250.00 768.56,199.98 773.25,246.19 777.95,246.19 782.64,246.90 787.33,244.84 792.02,246.19 796.71,245.55 801.41,244.44 806.10,243.41 810.79,242.38 815.48,243.41 820.17,243.65 824.87,243.41 829.56,241.98 834.25,242.38 838.94,242.22 843.63,242.70 848.33,242.22 853.02,242.38 857.71,242.22 862.40,242.70 867.09,248.81 871.79,223.80 876.48,242.85 881.17,246.82 885.86,250.00 890.55,196.01 895.25,242.70 899.94,242.22 904.63,242.06 909.32,242.22 914.01,249.21 918.71,240.47 923.40,242.70 928.09,241.66 932.78,240.87 937.47,242.22 942.17,243.97 946.86,243.49 951.55,243.97 956.24,243.49 960.93,244.84 965.63,244.84 970.32,243.09 975.01,243.49 979.70,243.97 984.39,249.84 989.09,250.00 993.78,209.11 998.47,196.01 1003.16,250.00 1007.85,234.91 1012.55,138.84 1017.24,238.09 1021.93,243.65 1026.62,250.00 1031.31,225.39 1036.01,185.69 1040.70,220.94 1045.39,175.36 1050.08,232.53 1054.77,245.16 1059.47,245.24 1064.16,245.24 1068.85,245.08 1073.54,245.00 1078.23,244.84 1082.93,244.84 1087.62,245.00 1092.31,245.00 1097.00,245.00 1101.69,245.00 1106.39,245.08 1111.08,245.08 1115.77,245.08 1120.46,245.08 1125.15,245.08 1129.85,245.08 1134.54,245.08 1139.23,245.32" fill="none" stroke="#F44E3B" stroke-width="1" stroke-linejoin="round"/><g fill="#fff" stroke="#F44E3B" stroke-width="1.0"><circle cx="763.87" cy="250.00" r="1.15"/><circle cx="768.56" cy="199.98" r="1.15"/><circle cx="773.25" cy="246.19" r="1.15"/><circle cx="777.95" cy="246.19" r="1.15"/><circle cx="782.64" cy="246.90" r="1.15"/><circle cx="787.33" cy="244.84" r="1.15"/><circle cx="792.02" cy="246.19" r="1.15"/><circle cx="796.71" cy="245.55" r="1.15"/><circle cx="801.41" cy="244.44" r="1.15"/><circle cx="806.10" cy="243.41" r="1.15"/><circle cx="810.79" cy="242.38" r="1.15"/><circle cx="815.48" cy="243.41" r="1.15"/><circle cx="820.17" cy="243.65" r="1.15"/><circle cx="824.87" cy="243.41" r="1.15"/><circle cx="829.56" cy="241.98" r="1.15"/><circle cx="834.25" cy="242.38" r="1.15"/><circle cx="838.94" cy="242.22" r="1.15"/><circle cx="843.63" cy="242.70" r="1.15"/><circle cx="848.33" cy="242.22" r="1.15"/><circle cx="853.02" cy="242.38" r="1.15"/><circle cx="857.71" cy="242.22" r="1.15"/><circle cx="862.40" cy="242.70" r="1.15"/><circle cx="867.09" cy="248.81" r="1.15"/><circle cx="871.79" cy="223.80" r="1.15"/><circle cx="876.48" cy="242.85" r="1.15"/><circle cx="881.17" cy="246.82" r="1.15"/><circle cx="885.86" cy="250.00" r="1.15"/><circle cx="890.55" cy="196.01" r="1.15"/><circle cx="895.25" cy="242.70" r="1.15"/><circle cx="899.94" cy="242.22" r="1.15"/><circle cx="904.63" cy="242.06" r="1.15"/><circle cx="909.32" cy="242.22" r="1.15"/><circle cx="914.01" cy="249.21" r="1.15"/><circle cx="918.71" cy="240.47" r="1.15"/><circle cx="923.40" cy="242.70" r="1.15"/><circle cx="928.09" cy="241.66" r="1.15"/><circle cx="932.78" cy="240.87" r="1.15"/><circle cx="937.47" cy="242.22" r="1.15"/><circle cx="942.17" cy="243.97" r="1.15"/><circle cx="946.86" cy="243.49" r="1.15"/><circle cx="951.55" cy="243.97" r="1.15"/><circle cx="956.24" cy="243.49" r="1.15"/><circle cx="960.93" cy="244.84" r="1.15"/><circle cx="965.63" cy="244.84" r="1.15"/><circle cx="970.32" cy="243.09" r="1.15"/><circle cx="975.01" cy="243.49" r="1.15"/><circle cx="979.70" cy="243.97" r="1.15"/><circle cx="984.39" cy="249.84" r="1.15"/><circle cx="989.09" cy="250.00" r="1.15"/><circle cx="993.78" cy="209.11" r="1.15"/><circle cx="998.47" cy="196.01" r="1.15"/><circle cx="1003.16" cy="250.00" r="1.15"/><circle cx="1007.85" cy="234.91" r="1.15"/><circle cx="1012.55" cy="138.84" r="1.15"/><circle cx="1017.24" cy="238.09" r="1.15"/><circle cx="1021.93" cy="243.65" r="1.15"/><circle cx="1026.62" cy="250.00" r="1.15"/><circle cx="1031.31" cy="225.39" r="1.15"/><circle cx="1036.01" cy="185.69" r="1.15"/><circle cx="1040.70" cy="220.94" r="1.15"/><circle cx="1045.39" cy="175.36" r="1.15"/><circle cx="1050.08" cy="232.53" r="1.15"/><circle cx="1054.77" cy="245.16" r="1.15"/><circle cx="1059.47" cy="245.24" r="1.15"/><circle cx="1064.16" cy="245.24" r="1.15"/><circle cx="1068.85" cy="245.08" r="1.15"/><circle cx="1073.54" cy="245.00" r="1.15"/><circle cx="1078.23" cy="244.84" r="1.15"/><circle cx="1082.93" cy="244.84" r="1.15"/><circle cx="1087.62" cy="245.00" r="1.15"/><circle cx="1092.31" cy="245.00" r="1.15"/><circle cx="1097.00" cy="245.00" r="1.15"/><circle cx="1101.69" cy="245.00" r="1.15"/><circle cx="1106.39" cy="245.08" r="1.15"/><circle cx="1111.08" cy="245.08" r="1.15"/><circle cx="1115.77" cy="245.08" r="1.15"/><circle cx="1120.46" cy="245.08" r="1.15"/><circle cx="1125.15" cy="245.08" r="1.15"/><circle cx="1129.85" cy="245.08" r="1.15"/><circle cx="1134.54" cy="245.08" r="1.15"/><circle cx="1139.23" cy="245.32" r="1.15"/></g><path d="M763.87,250.00 L768.56,142.02 L773.25,239.92 L777.95,239.52 L782.64,239.92 L787.33,239.76 L792.02,243.73 L796.71,240.87 L801.41,242.22 L806.10,241.66 L810.79,239.92 L815.48,241.66 L820.17,242.06 L824.87,241.66 L829.56,239.52 L834.25,240.87 L838.94,239.92 L843.63,241.11 L848.33,239.92 L853.02,240.87 L857.71,239.92 L862.40,240.87 L867.09,246.90 L871.79,220.62 L876.48,241.27 L881.17,241.27 L885.86,250.00 L890.55,169.81 L895.25,240.07 L899.94,239.20 L904.63,238.09 L909.32,239.20 L914.01,248.97 L918.71,239.68 L923.40,242.22 L928.09,241.42 L932.78,239.68 L937.47,240.87 L942.17,243.49 L946.86,242.22 L951.55,242.70 L956.24,242.06 L960.93,243.49 L965.63,242.70 L970.32,240.47 L975.01,240.47 L979.70,240.87 L984.39,249.68 L989.09,250.00 L993.78,168.22 L998.47,195.45 L1003.16,250.00 L1007.85,232.61 L1012.55,91.99 L1017.24,227.77 L1021.93,239.68 L1026.62,250.00 L1031.31,200.93 L1036.01,184.57 L1040.70,155.91 L1045.39,174.73 L1050.08,215.30 L1054.77,243.25 L1059.47,243.81 L1064.16,242.85 L1068.85,241.66 L1073.54,239.44 L1078.23,237.53 L1082.93,237.30 L1087.62,238.25 L1092.31,237.93 L1097.00,237.93 L1101.69,237.53 L1106.39,238.65 L1111.08,239.44 L1115.77,239.76 L1120.46,239.04 L1125.15,239.76 L1129.85,239.44 L1134.54,239.04 L1139.23,239.36 L1139.23,245.32 L1134.54,245.08 L1129.85,245.08 L1125.15,245.08 L1120.46,245.08 L1115.77,245.08 L1111.08,245.08 L1106.39,245.08 L1101.69,245.00 L1097.00,245.00 L1092.31,245.00 L1087.62,245.00 L1082.93,244.84 L1078.23,244.84 L1073.54,245.00 L1068.85,245.08 L1064.16,245.24 L1059.47,245.24 L1054.77,245.16 L1050.08,232.53 L1045.39,175.36 L1040.70,220.94 L1036.01,185.69 L1031.31,225.39 L1026.62,250.00 L1021.93,243.65 L1017.24,238.09 L1012.55,138.84 L1007.85,234.91 L1003.16,250.00 L998.47,196.01 L993.78,209.11 L989.09,250.00 L984.39,249.84 L979.70,243.97 L975.01,243.49 L970.32,243.09 L965.63,244.84 L960.93,244.84 L956.24,243.49 L951.55,243.97 L946.86,243.49 L942.17,243.97 L937.47,242.22 L932.78,240.87 L928.09,241.66 L923.40,242.70 L918.71,240.47 L914.01,249.21 L909.32,242.22 L904.63,242.06 L899.94,242.22 L895.25,242.70 L890.55,196.01 L885.86,250.00 L881.17,246.82 L876.48,242.85 L871.79,223.80 L867.09,248.81 L862.40,242.70 L857.71,242.22 L853.02,242.38 L848.33,242.22 L843.63,242.70 L838.94,242.22 L834.25,242.38 L829.56,241.98 L824.87,243.41 L820.17,243.65 L815.48,243.41 L810.79,242.38 L806.10,243.41 L801.41,244.44 L796.71,245.55 L792.02,246.19 L787.33,244.84 L782.64,246.90 L777.95,246.19 L773.25,246.19 L768.56,199.98 L763.87,250.00Z" fill="#68BC00" fill-opacity="0.5"/><polyline points="763.87,250.00 768.56,142.02 773.25,239.92 777.95,239.52 782.64,239.92 787.33,239.76 792.02,243.73 796.71,240.87 801.41,242.22 806.10,241.66 810.79,239.92 815.48,241.66 820.17,242.06 824.87,241.66 829.56,239.52 834.25,240.87 838.94,239.92 843.63,241.11 848.33,239.92 853.02,240.87 857.71,239.92 862.40,240.87 867.09,246.90 871.79,220.62 876.48,241.27 881.17,241.27 885.86,250.00 890.55,169.81 895.25,240.07 899.94,239.20 904.63,238.09 909.32,239.20 914.01,248.97 918.71,239.68 923.40,242.22 928.09,241.42 932.78,239.68 937.47,240.87 942.17,243.49 946.86,242.22 951.55,242.70 956.24,242.06 960.93,243.49 965.63,242.70 970.32,240.47 975.01,240.47 979.70,240.87 984.39,249.68 989.09,250.00 993.78,168.22 998.47,195.45 1003.16,250.00 1007.85,232.61 1012.55,91.99 1017.24,227.77 1021.93,239.68 1026.62,250.00 1031.31,200.93 1036.01,184.57 1040.70,155.91 1045.39,174.73 1050.08,215.30 1054.77,243.25 1059.47,243.81 1064.16,242.85 1068.85,241.66 1073.54,239.44 1078.23,237.53 1082.93,237.30 1087.62,238.25 1092.31,237.93 1097.00,237.93 1101.69,237.53 1106.39,238.65 1111.08,239.44 1115.77,239.76 1120.46,239.04 1125.15,239.76 1129.85,239.44 1134.54,239.04 1139.23,239.36" fill="none" stroke="#68BC00" stroke-width="1" stroke-linejoin="round"/><g fill="#fff" stroke="#68BC00" stroke-width="1.0"><circle cx="763.87" cy="250.00" r="1.15"/><circle cx="768.56" cy="142.02" r="1.15"/><circle cx="773.25" cy="239.92" r="1.15"/><circle cx="777.95" cy="239.52" r="1.15"/><circle cx="782.64" cy="239.92" r="1.15"/><circle cx="787.33" cy="239.76" r="1.15"/><circle cx="792.02" cy="243.73" r="1.15"/><circle cx="796.71" cy="240.87" r="1.15"/><circle cx="801.41" cy="242.22" r="1.15"/><circle cx="806.10" cy="241.66" r="1.15"/><circle cx="810.79" cy="239.92" r="1.15"/><circle cx="815.48" cy="241.66" r="1.15"/><circle cx="820.17" cy="242.06" r="1.15"/><circle cx="824.87" cy="241.66" r="1.15"/><circle cx="829.56" cy="239.52" r="1.15"/><circle cx="834.25" cy="240.87" r="1.15"/><circle cx="838.94" cy="239.92" r="1.15"/><circle cx="843.63" cy="241.11" r="1.15"/><circle cx="848.33" cy="239.92" r="1.15"/><circle cx="853.02" cy="240.87" r="1.15"/><circle cx="857.71" cy="239.92" r="1.15"/><circle cx="862.40" cy="240.87" r="1.15"/><circle cx="867.09" cy="246.90" r="1.15"/><circle cx="871.79" cy="220.62" r="1.15"/><circle cx="876.48" cy="241.27" r="1.15"/><circle cx="881.17" cy="241.27" r="1.15"/><circle cx="885.86" cy="250.00" r="1.15"/><circle cx="890.55" cy="169.81" r="1.15"/><circle cx="895.25" cy="240.07" r="1.15"/><circle cx="899.94" cy="239.20" r="1.15"/><circle cx="904.63" cy="238.09" r="1.15"/><circle cx="909.32" cy="239.20" r="1.15"/><circle cx="914.01" cy="248.97" r="1.15"/><circle cx="918.71" cy="239.68" r="1.15"/><circle cx="923.40" cy="242.22" r="1.15"/><circle cx="928.09" cy="241.42" r="1.15"/><circle cx="932.78" cy="239.68" r="1.15"/><circle cx="937.47" cy="240.87" r="1.15"/><circle cx="942.17" cy="243.49" r="1.15"/><circle cx="946.86" cy="242.22" r="1.15"/><circle cx="951.55" cy="242.70" r="1.15"/><circle cx="956.24" cy="242.06" r="1.15"/><circle cx="960.93" cy="243.49" r="1.15"/><circle cx="965.63" cy="242.70" r="1.15"/><circle cx="970.32" cy="240.47" r="1.15"/><circle cx="975.01" cy="240.47" r="1.15"/><circle cx="979.70" cy="240.87" r="1.15"/><circle cx="984.39" cy="249.68" r="1.15"/><circle cx="989.09" cy="250.00" r="1.15"/><circle cx="993.78" cy="168.22" r="1.15"/><circle cx="998.47" cy="195.45" r="1.15"/><circle cx="1003.16" cy="250.00" r="1.15"/><circle cx="1007.85" cy="232.61" r="1.15"/><circle cx="1012.55" cy="91.99" r="1.15"/><circle cx="1017.24" cy="227.77" r="1.15"/><circle cx="1021.93" cy="239.68" r="1.15"/><circle cx="1026.62" cy="250.00" r="1.15"/><circle cx="1031.31" cy="200.93" r="1.15"/><circle cx="1036.01" cy="184.57" r="1.15"/><circle cx="1040.70" cy="155.91" r="1.15"/><circle cx="1045.39" cy="174.73" r="1.15"/><circle cx="1050.08" cy="215.30" r="1.15"/><circle cx="1054.77" cy="243.25" r="1.15"/><circle cx="1059.47" cy="243.81" r="1.15"/><circle cx="1064.16" cy="242.85" r="1.15"/><circle cx="1068.85" cy="241.66" r="1.15"/><circle cx="1073.54" cy="239.44" r="1.15"/><circle cx="1078.23" cy="237.53" r="1.15"/><circle cx="1082.93" cy="237.30" r="1.15"/><circle cx="1087.62" cy="238.25" r="1.15"/><circle cx="1092.31" cy="237.93" r="1.15"/><circle cx="1097.00" cy="237.93" r="1.15"/><circle cx="1101.69" cy="237.53" r="1.15"/><circle cx="1106.39" cy="238.65" r="1.15"/><circle cx="1111.08" cy="239.44" r="1.15"/><circle cx="1115.77" cy="239.76" r="1.15"/><circle cx="1120.46" cy="239.04" r="1.15"/><circle cx="1125.15" cy="239.76" r="1.15"/><circle cx="1129.85" cy="239.44" r="1.15"/><circle cx="1134.54" cy="239.04" r="1.15"/><circle cx="1139.23" cy="239.36" r="1.15"/></g><g font-family='"Liberation Sans", sans-serif' font-size="11" fill="#8A8A8A" letter-spacing="0.45"><text x="758.8" y="253.2" text-anchor="end">0</text><text x="758.8" y="213.5" text-anchor="end">50,000</text><text x="758.8" y="173.8" text-anchor="end">100,000</text><text x="758.8" y="134.1" text-anchor="end">150,000</text><text x="758.8" y="94.4" text-anchor="end">200,000</text><text x="758.8" y="54.7" text-anchor="end">250,000</text></g><g font-family='"Liberation Sans", sans-serif' font-size="11" fill="#8A8A8A" letter-spacing="0.45"><text x="839.8" y="265.2" text-anchor="middle">20:20:00</text><text x="932.8" y="265.2" text-anchor="middle">20:30:00</text><text x="1026.8" y="265.2" text-anchor="middle">20:40:00</text><text x="1120.8" y="265.2" text-anchor="middle">20:50:00</text></g><text x="938.3" y="282.6" text-anchor="middle" font-family='"Liberation Sans", sans-serif' font-size="12" font-weight="bold" fill="#999FAA" letter-spacing="0.15">per 30 seconds</text><line x1="1187.3" x2="1356.6" y1="49.5" y2="49.5" stroke="#CDCDCD" stroke-width="1"/><line x1="1187.3" x2="1356.6" y1="75.5" y2="75.5" stroke="#CDCDCD" stroke-width="1"/><line x1="1187.3" x2="1356.6" y1="100.5" y2="100.5" stroke="#CDCDCD" stroke-width="1"/><line x1="1187.3" x2="1356.6" y1="126.5" y2="126.5" stroke="#CDCDCD" stroke-width="1"/><line x1="1187.3" x2="1356.6" y1="151.5" y2="151.5" stroke="#CDCDCD" stroke-width="1"/><path d="M1173.5,56.8 L1177.5,61.0 L1173.5,65.2" fill="none" stroke="#3F4450" stroke-width="1.2"/><circle cx="1198.8" cy="62.4" r="4" fill="#68BC00"/><text x="1211.3" y="65.8" font-family='"Liberation Sans", sans-serif' font-size="12" fill="#343741" letter-spacing="0.35">Selects</text><text x="1353.5" y="65.8" text-anchor="end" font-family='"Liberation Sans", sans-serif' font-size="12" fill="#343741" stroke="#343741" stroke-width="0.3" letter-spacing="0.9">7,492</text><circle cx="1198.8" cy="88.4" r="4" fill="#F44E3B"/><text x="1211.3" y="91.8" font-family='"Liberation Sans", sans-serif' font-size="12" fill="#343741" letter-spacing="0.35">Inserts</text><text x="1353.5" y="91.8" text-anchor="end" font-family='"Liberation Sans", sans-serif' font-size="12" fill="#343741" stroke="#343741" stroke-width="0.3" letter-spacing="0.9">3,593</text><circle cx="1198.8" cy="113.4" r="4" fill="#FCDC00"/><text x="1211.3" y="116.8" font-family='"Liberation Sans", sans-serif' font-size="12" fill="#343741" letter-spacing="0.35">Updates</text><text x="1353.5" y="116.8" text-anchor="end" font-family='"Liberation Sans", sans-serif' font-size="12" fill="#343741" stroke="#343741" stroke-width="0.3" letter-spacing="0.9">2,320</text><circle cx="1198.8" cy="139.4" r="4" fill="#73D8FF"/><text x="1211.3" y="142.8" font-family='"Liberation Sans", sans-serif' font-size="12" fill="#343741" letter-spacing="0.35">Deletes</text><text x="1353.5" y="142.8" text-anchor="end" font-family='"Liberation Sans", sans-serif' font-size="12" fill="#343741" stroke="#343741" stroke-width="0.3" letter-spacing="0.9">0</text></g>
<g><g stroke="#E0E2E7" stroke-width="1" fill="none"><line x1="44.0" x2="217.0" y1="502.5" y2="502.5"/><line x1="44.0" x2="217.0" y1="478.5" y2="478.5"/><line x1="44.0" x2="217.0" y1="454.5" y2="454.5"/><line x1="44.0" x2="217.0" y1="431.5" y2="431.5"/><line x1="44.0" x2="217.0" y1="407.5" y2="407.5"/><line x1="44.0" x2="217.0" y1="383.5" y2="383.5"/><line x1="44.0" x2="217.0" y1="359.5" y2="359.5"/><line x1="121.5" x2="121.5" y1="359.0" y2="503.0"/><line x1="44.5" x2="44.5" y1="359.0" y2="503.0"/><line x1="216.5" x2="216.5" y1="359.0" y2="503.0"/></g><path d="M44.50,397.50 L46.65,397.50 L48.80,397.50 L50.95,397.50 L53.10,397.50 L55.25,397.50 L57.40,392.75 L59.55,392.75 L61.70,392.75 L63.85,392.75 L66.00,388.00 L68.15,388.00 L70.30,388.00 L72.45,388.00 L74.60,388.00 L76.75,388.00 L78.90,388.00 L81.05,388.00 L83.20,383.25 L85.35,383.25 L87.50,383.25 L89.65,383.25 L91.80,383.25 L93.95,383.25 L96.10,388.00 L98.25,388.00 L100.40,388.00 L102.55,383.25 L104.70,383.25 L106.85,383.25 L109.00,383.25 L111.15,383.25 L113.30,383.25 L115.45,383.25 L117.60,383.25 L119.75,383.25 L121.90,383.25 L124.05,373.75 L126.20,373.75 L128.35,373.75 L130.50,373.75 L132.65,373.75 L134.80,373.75 L136.95,392.75 L139.10,397.50 L141.25,397.50 L143.40,397.50 L145.55,397.50 L147.70,397.50 L149.85,397.50 L152.00,397.50 L154.15,397.50 L156.30,397.50 L158.45,397.50 L160.60,397.50 L162.75,397.50 L164.90,397.50 L167.05,397.50 L169.20,397.50 L171.35,397.50 L173.50,397.50 L175.65,397.50 L177.80,397.50 L179.95,397.50 L182.10,397.50 L184.25,397.50 L186.40,397.50 L188.55,397.50 L190.70,397.50 L192.85,397.50 L195.00,397.50 L197.15,397.50 L199.30,397.50 L201.45,388.00 L203.60,383.25 L205.75,383.25 L207.90,383.25 L210.05,383.25 L212.20,383.25 L214.35,383.25 L216.50,383.25 L216.50,502.00 L214.35,502.00 L212.20,502.00 L210.05,502.00 L207.90,502.00 L205.75,502.00 L203.60,502.00 L201.45,502.00 L199.30,502.00 L197.15,502.00 L195.00,502.00 L192.85,502.00 L190.70,502.00 L188.55,502.00 L186.40,502.00 L184.25,502.00 L182.10,502.00 L179.95,502.00 L177.80,502.00 L175.65,502.00 L173.50,502.00 L171.35,502.00 L169.20,502.00 L167.05,502.00 L164.90,502.00 L162.75,502.00 L160.60,502.00 L158.45,502.00 L156.30,502.00 L154.15,502.00 L152.00,502.00 L149.85,502.00 L147.70,502.00 L145.55,502.00 L143.40,502.00 L141.25,502.00 L139.10,502.00 L136.95,502.00 L134.80,502.00 L132.65,502.00 L130.50,502.00 L128.35,502.00 L126.20,502.00 L124.05,502.00 L121.90,502.00 L119.75,502.00 L117.60,502.00 L115.45,502.00 L113.30,502.00 L111.15,502.00 L109.00,502.00 L106.85,502.00 L104.70,502.00 L102.55,502.00 L100.40,502.00 L98.25,502.00 L96.10,502.00 L93.95,502.00 L91.80,502.00 L89.65,502.00 L87.50,502.00 L85.35,502.00 L83.20,502.00 L81.05,502.00 L78.90,502.00 L76.75,502.00 L74.60,502.00 L72.45,502.00 L70.30,502.00 L68.15,502.00 L66.00,502.00 L63.85,502.00 L61.70,502.00 L59.55,502.00 L57.40,502.00 L55.25,502.00 L53.10,502.00 L50.95,502.00 L48.80,502.00 L46.65,502.00 L44.50,502.00Z" fill="#CCCCCC" fill-opacity="0.5"/><polyline points="44.50,397.50 46.65,397.50 48.80,397.50 50.95,397.50 53.10,397.50 55.25,397.50 57.40,392.75 59.55,392.75 61.70,392.75 63.85,392.75 66.00,388.00 68.15,388.00 70.30,388.00 72.45,388.00 74.60,388.00 76.75,388.00 78.90,388.00 81.05,388.00 83.20,383.25 85.35,383.25 87.50,383.25 89.65,383.25 91.80,383.25 93.95,383.25 96.10,388.00 98.25,388.00 100.40,388.00 102.55,383.25 104.70,383.25 106.85,383.25 109.00,383.25 111.15,383.25 113.30,383.25 115.45,383.25 117.60,383.25 119.75,383.25 121.90,383.25 124.05,373.75 126.20,373.75 128.35,373.75 130.50,373.75 132.65,373.75 134.80,373.75 136.95,392.75 139.10,397.50 141.25,397.50 143.40,397.50 145.55,397.50 147.70,397.50 149.85,397.50 152.00,397.50 154.15,397.50 156.30,397.50 158.45,397.50 160.60,397.50 162.75,397.50 164.90,397.50 167.05,397.50 169.20,397.50 171.35,397.50 173.50,397.50 175.65,397.50 177.80,397.50 179.95,397.50 182.10,397.50 184.25,397.50 186.40,397.50 188.55,397.50 190.70,397.50 192.85,397.50 195.00,397.50 197.15,397.50 199.30,397.50 201.45,388.00 203.60,383.25 205.75,383.25 207.90,383.25 210.05,383.25 212.20,383.25 214.35,383.25 216.50,383.25" fill="none" stroke="#CCCCCC" stroke-width="1" stroke-linejoin="round"/><g fill="#fff" stroke="#CCCCCC" stroke-width="0.7"><circle cx="44.50" cy="397.50" r="1.0"/><circle cx="46.65" cy="397.50" r="1.0"/><circle cx="48.80" cy="397.50" r="1.0"/><circle cx="50.95" cy="397.50" r="1.0"/><circle cx="53.10" cy="397.50" r="1.0"/><circle cx="55.25" cy="397.50" r="1.0"/><circle cx="57.40" cy="392.75" r="1.0"/><circle cx="59.55" cy="392.75" r="1.0"/><circle cx="61.70" cy="392.75" r="1.0"/><circle cx="63.85" cy="392.75" r="1.0"/><circle cx="66.00" cy="388.00" r="1.0"/><circle cx="68.15" cy="388.00" r="1.0"/><circle cx="70.30" cy="388.00" r="1.0"/><circle cx="72.45" cy="388.00" r="1.0"/><circle cx="74.60" cy="388.00" r="1.0"/><circle cx="76.75" cy="388.00" r="1.0"/><circle cx="78.90" cy="388.00" r="1.0"/><circle cx="81.05" cy="388.00" r="1.0"/><circle cx="83.20" cy="383.25" r="1.0"/><circle cx="85.35" cy="383.25" r="1.0"/><circle cx="87.50" cy="383.25" r="1.0"/><circle cx="89.65" cy="383.25" r="1.0"/><circle cx="91.80" cy="383.25" r="1.0"/><circle cx="93.95" cy="383.25" r="1.0"/><circle cx="96.10" cy="388.00" r="1.0"/><circle cx="98.25" cy="388.00" r="1.0"/><circle cx="100.40" cy="388.00" r="1.0"/><circle cx="102.55" cy="383.25" r="1.0"/><circle cx="104.70" cy="383.25" r="1.0"/><circle cx="106.85" cy="383.25" r="1.0"/><circle cx="109.00" cy="383.25" r="1.0"/><circle cx="111.15" cy="383.25" r="1.0"/><circle cx="113.30" cy="383.25" r="1.0"/><circle cx="115.45" cy="383.25" r="1.0"/><circle cx="117.60" cy="383.25" r="1.0"/><circle cx="119.75" cy="383.25" r="1.0"/><circle cx="121.90" cy="383.25" r="1.0"/><circle cx="124.05" cy="373.75" r="1.0"/><circle cx="126.20" cy="373.75" r="1.0"/><circle cx="128.35" cy="373.75" r="1.0"/><circle cx="130.50" cy="373.75" r="1.0"/><circle cx="132.65" cy="373.75" r="1.0"/><circle cx="134.80" cy="373.75" r="1.0"/><circle cx="136.95" cy="392.75" r="1.0"/><circle cx="139.10" cy="397.50" r="1.0"/><circle cx="141.25" cy="397.50" r="1.0"/><circle cx="143.40" cy="397.50" r="1.0"/><circle cx="145.55" cy="397.50" r="1.0"/><circle cx="147.70" cy="397.50" r="1.0"/><circle cx="149.85" cy="397.50" r="1.0"/><circle cx="152.00" cy="397.50" r="1.0"/><circle cx="154.15" cy="397.50" r="1.0"/><circle cx="156.30" cy="397.50" r="1.0"/><circle cx="158.45" cy="397.50" r="1.0"/><circle cx="160.60" cy="397.50" r="1.0"/><circle cx="162.75" cy="397.50" r="1.0"/><circle cx="164.90" cy="397.50" r="1.0"/><circle cx="167.05" cy="397.50" r="1.0"/><circle cx="169.20" cy="397.50" r="1.0"/><circle cx="171.35" cy="397.50" r="1.0"/><circle cx="173.50" cy="397.50" r="1.0"/><circle cx="175.65" cy="397.50" r="1.0"/><circle cx="177.80" cy="397.50" r="1.0"/><circle cx="179.95" cy="397.50" r="1.0"/><circle cx="182.10" cy="397.50" r="1.0"/><circle cx="184.25" cy="397.50" r="1.0"/><circle cx="186.40" cy="397.50" r="1.0"/><circle cx="188.55" cy="397.50" r="1.0"/><circle cx="190.70" cy="397.50" r="1.0"/><circle cx="192.85" cy="397.50" r="1.0"/><circle cx="195.00" cy="397.50" r="1.0"/><circle cx="197.15" cy="397.50" r="1.0"/><circle cx="199.30" cy="397.50" r="1.0"/><circle cx="201.45" cy="388.00" r="1.0"/><circle cx="203.60" cy="383.25" r="1.0"/><circle cx="205.75" cy="383.25" r="1.0"/><circle cx="207.90" cy="383.25" r="1.0"/><circle cx="210.05" cy="383.25" r="1.0"/><circle cx="212.20" cy="383.25" r="1.0"/><circle cx="214.35" cy="383.25" r="1.0"/><circle cx="216.50" cy="383.25" r="1.0"/></g><polyline points="44.50,502.00 46.65,502.00 48.80,502.00 50.95,502.00 53.10,502.00 55.25,502.00 57.40,502.00 59.55,502.00 61.70,502.00 63.85,502.00 66.00,502.00 68.15,502.00 70.30,502.00 72.45,502.00 74.60,502.00 76.75,502.00 78.90,502.00 81.05,502.00 83.20,502.00 85.35,502.00 87.50,502.00 89.65,502.00 91.80,502.00 93.95,502.00 96.10,502.00 98.25,502.00 100.40,502.00 102.55,502.00 104.70,502.00 106.85,502.00 109.00,502.00 111.15,502.00 113.30,483.00 115.45,483.00 117.60,483.00 119.75,483.00 121.90,483.00 124.05,483.00 126.20,483.00 128.35,483.00 130.50,483.00 132.65,483.00 134.80,483.00 136.95,502.00 139.10,502.00 141.25,502.00 143.40,502.00 145.55,502.00 147.70,502.00 149.85,502.00 152.00,502.00 154.15,502.00 156.30,502.00 158.45,502.00 160.60,502.00 162.75,502.00 164.90,502.00 167.05,502.00 169.20,502.00 171.35,502.00 173.50,502.00 175.65,502.00 177.80,502.00 179.95,502.00 182.10,502.00 184.25,502.00 186.40,502.00 188.55,502.00 190.70,502.00 192.85,502.00 195.00,502.00 197.15,502.00 199.30,502.00 201.45,502.00 203.60,502.00 205.75,502.00 207.90,502.00 210.05,502.00 212.20,502.00 214.35,502.00 216.50,502.00" fill="none" stroke="#F44E3B" stroke-width="2.2" stroke-linejoin="round"/><g fill="#F44E3B" stroke="#F44E3B" stroke-width="0.9"><circle cx="44.50" cy="502.00" r="1.3"/><circle cx="46.65" cy="502.00" r="1.3"/><circle cx="48.80" cy="502.00" r="1.3"/><circle cx="50.95" cy="502.00" r="1.3"/><circle cx="53.10" cy="502.00" r="1.3"/><circle cx="55.25" cy="502.00" r="1.3"/><circle cx="57.40" cy="502.00" r="1.3"/><circle cx="59.55" cy="502.00" r="1.3"/><circle cx="61.70" cy="502.00" r="1.3"/><circle cx="63.85" cy="502.00" r="1.3"/><circle cx="66.00" cy="502.00" r="1.3"/><circle cx="68.15" cy="502.00" r="1.3"/><circle cx="70.30" cy="502.00" r="1.3"/><circle cx="72.45" cy="502.00" r="1.3"/><circle cx="74.60" cy="502.00" r="1.3"/><circle cx="76.75" cy="502.00" r="1.3"/><circle cx="78.90" cy="502.00" r="1.3"/><circle cx="81.05" cy="502.00" r="1.3"/><circle cx="83.20" cy="502.00" r="1.3"/><circle cx="85.35" cy="502.00" r="1.3"/><circle cx="87.50" cy="502.00" r="1.3"/><circle cx="89.65" cy="502.00" r="1.3"/><circle cx="91.80" cy="502.00" r="1.3"/><circle cx="93.95" cy="502.00" r="1.3"/><circle cx="96.10" cy="502.00" r="1.3"/><circle cx="98.25" cy="502.00" r="1.3"/><circle cx="100.40" cy="502.00" r="1.3"/><circle cx="102.55" cy="502.00" r="1.3"/><circle cx="104.70" cy="502.00" r="1.3"/><circle cx="106.85" cy="502.00" r="1.3"/><circle cx="109.00" cy="502.00" r="1.3"/><circle cx="111.15" cy="502.00" r="1.3"/><circle cx="113.30" cy="483.00" r="1.3"/><circle cx="115.45" cy="483.00" r="1.3"/><circle cx="117.60" cy="483.00" r="1.3"/><circle cx="119.75" cy="483.00" r="1.3"/><circle cx="121.90" cy="483.00" r="1.3"/><circle cx="124.05" cy="483.00" r="1.3"/><circle cx="126.20" cy="483.00" r="1.3"/><circle cx="128.35" cy="483.00" r="1.3"/><circle cx="130.50" cy="483.00" r="1.3"/><circle cx="132.65" cy="483.00" r="1.3"/><circle cx="134.80" cy="483.00" r="1.3"/><circle cx="136.95" cy="502.00" r="1.3"/><circle cx="139.10" cy="502.00" r="1.3"/><circle cx="141.25" cy="502.00" r="1.3"/><circle cx="143.40" cy="502.00" r="1.3"/><circle cx="145.55" cy="502.00" r="1.3"/><circle cx="147.70" cy="502.00" r="1.3"/><circle cx="149.85" cy="502.00" r="1.3"/><circle cx="152.00" cy="502.00" r="1.3"/><circle cx="154.15" cy="502.00" r="1.3"/><circle cx="156.30" cy="502.00" r="1.3"/><circle cx="158.45" cy="502.00" r="1.3"/><circle cx="160.60" cy="502.00" r="1.3"/><circle cx="162.75" cy="502.00" r="1.3"/><circle cx="164.90" cy="502.00" r="1.3"/><circle cx="167.05" cy="502.00" r="1.3"/><circle cx="169.20" cy="502.00" r="1.3"/><circle cx="171.35" cy="502.00" r="1.3"/><circle cx="173.50" cy="502.00" r="1.3"/><circle cx="175.65" cy="502.00" r="1.3"/><circle cx="177.80" cy="502.00" r="1.3"/><circle cx="179.95" cy="502.00" r="1.3"/><circle cx="182.10" cy="502.00" r="1.3"/><circle cx="184.25" cy="502.00" r="1.3"/><circle cx="186.40" cy="502.00" r="1.3"/><circle cx="188.55" cy="502.00" r="1.3"/><circle cx="190.70" cy="502.00" r="1.3"/><circle cx="192.85" cy="502.00" r="1.3"/><circle cx="195.00" cy="502.00" r="1.3"/><circle cx="197.15" cy="502.00" r="1.3"/><circle cx="199.30" cy="502.00" r="1.3"/><circle cx="201.45" cy="502.00" r="1.3"/><circle cx="203.60" cy="502.00" r="1.3"/><circle cx="205.75" cy="502.00" r="1.3"/><circle cx="207.90" cy="502.00" r="1.3"/><circle cx="210.05" cy="502.00" r="1.3"/><circle cx="212.20" cy="502.00" r="1.3"/><circle cx="214.35" cy="502.00" r="1.3"/><circle cx="216.50" cy="502.00" r="1.3"/></g><polyline points="44.50,502.00 46.65,502.00 48.80,502.00 50.95,502.00 53.10,502.00 55.25,502.00 57.40,502.00 59.55,502.00 61.70,502.00 63.85,502.00 66.00,502.00 68.15,502.00 70.30,502.00 72.45,502.00 74.60,502.00 76.75,502.00 78.90,502.00 81.05,502.00 83.20,502.00 85.35,502.00 87.50,502.00 89.65,502.00 91.80,502.00 93.95,492.50 96.10,502.00 98.25,502.00 100.40,502.00 102.55,502.00 104.70,502.00 106.85,502.00 109.00,502.00 111.15,502.00 113.30,502.00 115.45,502.00 117.60,502.00 119.75,502.00 121.90,502.00 124.05,502.00 126.20,502.00 128.35,502.00 130.50,502.00 132.65,502.00 134.80,494.88 136.95,502.00 139.10,502.00 141.25,502.00 143.40,502.00 145.55,502.00 147.70,502.00 149.85,502.00 152.00,502.00 154.15,502.00 156.30,502.00 158.45,502.00 160.60,502.00 162.75,502.00 164.90,502.00 167.05,502.00 169.20,502.00 171.35,502.00 173.50,502.00 175.65,502.00 177.80,502.00 179.95,502.00 182.10,502.00 184.25,502.00 186.40,502.00 188.55,502.00 190.70,502.00 192.85,502.00 195.00,502.00 197.15,502.00 199.30,502.00 201.45,502.00 203.60,502.00 205.75,502.00 207.90,502.00 210.05,502.00 212.20,502.00 214.35,502.00 216.50,502.00" fill="none" stroke="#FCDC00" stroke-width="2.2" stroke-linejoin="round"/><g fill="#FCDC00" stroke="#FCDC00" stroke-width="0.9"><circle cx="44.50" cy="502.00" r="1.3"/><circle cx="46.65" cy="502.00" r="1.3"/><circle cx="48.80" cy="502.00" r="1.3"/><circle cx="50.95" cy="502.00" r="1.3"/><circle cx="53.10" cy="502.00" r="1.3"/><circle cx="55.25" cy="502.00" r="1.3"/><circle cx="57.40" cy="502.00" r="1.3"/><circle cx="59.55" cy="502.00" r="1.3"/><circle cx="61.70" cy="502.00" r="1.3"/><circle cx="63.85" cy="502.00" r="1.3"/><circle cx="66.00" cy="502.00" r="1.3"/><circle cx="68.15" cy="502.00" r="1.3"/><circle cx="70.30" cy="502.00" r="1.3"/><circle cx="72.45" cy="502.00" r="1.3"/><circle cx="74.60" cy="502.00" r="1.3"/><circle cx="76.75" cy="502.00" r="1.3"/><circle cx="78.90" cy="502.00" r="1.3"/><circle cx="81.05" cy="502.00" r="1.3"/><circle cx="83.20" cy="502.00" r="1.3"/><circle cx="85.35" cy="502.00" r="1.3"/><circle cx="87.50" cy="502.00" r="1.3"/><circle cx="89.65" cy="502.00" r="1.3"/><circle cx="91.80" cy="502.00" r="1.3"/><circle cx="93.95" cy="492.50" r="1.3"/><circle cx="96.10" cy="502.00" r="1.3"/><circle cx="98.25" cy="502.00" r="1.3"/><circle cx="100.40" cy="502.00" r="1.3"/><circle cx="102.55" cy="502.00" r="1.3"/><circle cx="104.70" cy="502.00" r="1.3"/><circle cx="106.85" cy="502.00" r="1.3"/><circle cx="109.00" cy="502.00" r="1.3"/><circle cx="111.15" cy="502.00" r="1.3"/><circle cx="113.30" cy="502.00" r="1.3"/><circle cx="115.45" cy="502.00" r="1.3"/><circle cx="117.60" cy="502.00" r="1.3"/><circle cx="119.75" cy="502.00" r="1.3"/><circle cx="121.90" cy="502.00" r="1.3"/><circle cx="124.05" cy="502.00" r="1.3"/><circle cx="126.20" cy="502.00" r="1.3"/><circle cx="128.35" cy="502.00" r="1.3"/><circle cx="130.50" cy="502.00" r="1.3"/><circle cx="132.65" cy="502.00" r="1.3"/><circle cx="134.80" cy="494.88" r="1.3"/><circle cx="136.95" cy="502.00" r="1.3"/><circle cx="139.10" cy="502.00" r="1.3"/><circle cx="141.25" cy="502.00" r="1.3"/><circle cx="143.40" cy="502.00" r="1.3"/><circle cx="145.55" cy="502.00" r="1.3"/><circle cx="147.70" cy="502.00" r="1.3"/><circle cx="149.85" cy="502.00" r="1.3"/><circle cx="152.00" cy="502.00" r="1.3"/><circle cx="154.15" cy="502.00" r="1.3"/><circle cx="156.30" cy="502.00" r="1.3"/><circle cx="158.45" cy="502.00" r="1.3"/><circle cx="160.60" cy="502.00" r="1.3"/><circle cx="162.75" cy="502.00" r="1.3"/><circle cx="164.90" cy="502.00" r="1.3"/><circle cx="167.05" cy="502.00" r="1.3"/><circle cx="169.20" cy="502.00" r="1.3"/><circle cx="171.35" cy="502.00" r="1.3"/><circle cx="173.50" cy="502.00" r="1.3"/><circle cx="175.65" cy="502.00" r="1.3"/><circle cx="177.80" cy="502.00" r="1.3"/><circle cx="179.95" cy="502.00" r="1.3"/><circle cx="182.10" cy="502.00" r="1.3"/><circle cx="184.25" cy="502.00" r="1.3"/><circle cx="186.40" cy="502.00" r="1.3"/><circle cx="188.55" cy="502.00" r="1.3"/><circle cx="190.70" cy="502.00" r="1.3"/><circle cx="192.85" cy="502.00" r="1.3"/><circle cx="195.00" cy="502.00" r="1.3"/><circle cx="197.15" cy="502.00" r="1.3"/><circle cx="199.30" cy="502.00" r="1.3"/><circle cx="201.45" cy="502.00" r="1.3"/><circle cx="203.60" cy="502.00" r="1.3"/><circle cx="205.75" cy="502.00" r="1.3"/><circle cx="207.90" cy="502.00" r="1.3"/><circle cx="210.05" cy="502.00" r="1.3"/><circle cx="212.20" cy="502.00" r="1.3"/><circle cx="214.35" cy="502.00" r="1.3"/><circle cx="216.50" cy="502.00" r="1.3"/></g><polyline points="44.50,502.00 46.65,502.00 48.80,502.00 50.95,502.00 53.10,502.00 55.25,502.00 57.40,502.00 59.55,502.00 61.70,502.00 63.85,502.00 66.00,502.00 68.15,502.00 70.30,502.00 72.45,502.00 74.60,502.00 76.75,502.00 78.90,502.00 81.05,502.00 83.20,502.00 85.35,502.00 87.50,502.00 89.65,502.00 91.80,502.00 93.95,445.00 96.10,497.25 98.25,502.00 100.40,502.00 102.55,430.75 104.70,430.75 106.85,430.75 109.00,430.75 111.15,430.75 113.30,388.00 115.45,388.00 117.60,388.00 119.75,388.00 121.90,388.00 124.05,388.00 126.20,388.00 128.35,388.00 130.50,388.00 132.65,388.00 134.80,392.75 136.95,502.00 139.10,502.00 141.25,502.00 143.40,502.00 145.55,502.00 147.70,502.00 149.85,502.00 152.00,502.00 154.15,502.00 156.30,502.00 158.45,502.00 160.60,502.00 162.75,502.00 164.90,502.00 167.05,502.00 169.20,502.00 171.35,502.00 173.50,502.00 175.65,502.00 177.80,407.00 179.95,407.00 182.10,407.00 184.25,407.00 186.40,407.00 188.55,407.00 190.70,407.00 192.85,407.00 195.00,407.00 197.15,407.00 199.30,407.00 201.45,449.75 203.60,502.00 205.75,502.00 207.90,502.00 210.05,502.00 212.20,502.00 214.35,502.00 216.50,502.00" fill="none" stroke="#FE9200" stroke-width="2.2" stroke-linejoin="round"/><g fill="#FE9200" stroke="#FE9200" stroke-width="0.9"><circle cx="44.50" cy="502.00" r="1.3"/><circle cx="46.65" cy="502.00" r="1.3"/><circle cx="48.80" cy="502.00" r="1.3"/><circle cx="50.95" cy="502.00" r="1.3"/><circle cx="53.10" cy="502.00" r="1.3"/><circle cx="55.25" cy="502.00" r="1.3"/><circle cx="57.40" cy="502.00" r="1.3"/><circle cx="59.55" cy="502.00" r="1.3"/><circle cx="61.70" cy="502.00" r="1.3"/><circle cx="63.85" cy="502.00" r="1.3"/><circle cx="66.00" cy="502.00" r="1.3"/><circle cx="68.15" cy="502.00" r="1.3"/><circle cx="70.30" cy="502.00" r="1.3"/><circle cx="72.45" cy="502.00" r="1.3"/><circle cx="74.60" cy="502.00" r="1.3"/><circle cx="76.75" cy="502.00" r="1.3"/><circle cx="78.90" cy="502.00" r="1.3"/><circle cx="81.05" cy="502.00" r="1.3"/><circle cx="83.20" cy="502.00" r="1.3"/><circle cx="85.35" cy="502.00" r="1.3"/><circle cx="87.50" cy="502.00" r="1.3"/><circle cx="89.65" cy="502.00" r="1.3"/><circle cx="91.80" cy="502.00" r="1.3"/><circle cx="93.95" cy="445.00" r="1.3"/><circle cx="96.10" cy="497.25" r="1.3"/><circle cx="98.25" cy="502.00" r="1.3"/><circle cx="100.40" cy="502.00" r="1.3"/><circle cx="102.55" cy="430.75" r="1.3"/><circle cx="104.70" cy="430.75" r="1.3"/><circle cx="106.85" cy="430.75" r="1.3"/><circle cx="109.00" cy="430.75" r="1.3"/><circle cx="111.15" cy="430.75" r="1.3"/><circle cx="113.30" cy="388.00" r="1.3"/><circle cx="115.45" cy="388.00" r="1.3"/><circle cx="117.60" cy="388.00" r="1.3"/><circle cx="119.75" cy="388.00" r="1.3"/><circle cx="121.90" cy="388.00" r="1.3"/><circle cx="124.05" cy="388.00" r="1.3"/><circle cx="126.20" cy="388.00" r="1.3"/><circle cx="128.35" cy="388.00" r="1.3"/><circle cx="130.50" cy="388.00" r="1.3"/><circle cx="132.65" cy="388.00" r="1.3"/><circle cx="134.80" cy="392.75" r="1.3"/><circle cx="136.95" cy="502.00" r="1.3"/><circle cx="139.10" cy="502.00" r="1.3"/><circle cx="141.25" cy="502.00" r="1.3"/><circle cx="143.40" cy="502.00" r="1.3"/><circle cx="145.55" cy="502.00" r="1.3"/><circle cx="147.70" cy="502.00" r="1.3"/><circle cx="149.85" cy="502.00" r="1.3"/><circle cx="152.00" cy="502.00" r="1.3"/><circle cx="154.15" cy="502.00" r="1.3"/><circle cx="156.30" cy="502.00" r="1.3"/><circle cx="158.45" cy="502.00" r="1.3"/><circle cx="160.60" cy="502.00" r="1.3"/><circle cx="162.75" cy="502.00" r="1.3"/><circle cx="164.90" cy="502.00" r="1.3"/><circle cx="167.05" cy="502.00" r="1.3"/><circle cx="169.20" cy="502.00" r="1.3"/><circle cx="171.35" cy="502.00" r="1.3"/><circle cx="173.50" cy="502.00" r="1.3"/><circle cx="175.65" cy="502.00" r="1.3"/><circle cx="177.80" cy="407.00" r="1.3"/><circle cx="179.95" cy="407.00" r="1.3"/><circle cx="182.10" cy="407.00" r="1.3"/><circle cx="184.25" cy="407.00" r="1.3"/><circle cx="186.40" cy="407.00" r="1.3"/><circle cx="188.55" cy="407.00" r="1.3"/><circle cx="190.70" cy="407.00" r="1.3"/><circle cx="192.85" cy="407.00" r="1.3"/><circle cx="195.00" cy="407.00" r="1.3"/><circle cx="197.15" cy="407.00" r="1.3"/><circle cx="199.30" cy="407.00" r="1.3"/><circle cx="201.45" cy="449.75" r="1.3"/><circle cx="203.60" cy="502.00" r="1.3"/><circle cx="205.75" cy="502.00" r="1.3"/><circle cx="207.90" cy="502.00" r="1.3"/><circle cx="210.05" cy="502.00" r="1.3"/><circle cx="212.20" cy="502.00" r="1.3"/><circle cx="214.35" cy="502.00" r="1.3"/><circle cx="216.50" cy="502.00" r="1.3"/></g><g font-family='"Liberation Sans", sans-serif' font-size="11" fill="#8A8A8A" letter-spacing="0.45"><text x="36.0" y="505.2" text-anchor="end">0</text><text x="36.0" y="481.4" text-anchor="end">5</text><text x="36.0" y="457.7" text-anchor="end">10</text><text x="36.0" y="433.9" text-anchor="end">15</text><text x="36.0" y="410.2" text-anchor="end">20</text><text x="36.0" y="386.4" text-anchor="end">25</text><text x="36.0" y="362.7" text-anchor="end">30</text></g><g font-family='"Liberation Sans", sans-serif' font-size="11" fill="#8A8A8A" letter-spacing="0.45"><text x="121.8" y="517.2" text-anchor="middle">20:30:00</text></g><text x="130.4" y="534.7" text-anchor="middle" font-family='"Liberation Sans", sans-serif' font-size="12" font-weight="bold" fill="#999FAA" letter-spacing="0.15">per 30 seconds</text><line x1="264.3" x2="433.8" y1="357.5" y2="357.5" stroke="#CDCDCD" stroke-width="1"/><line x1="264.3" x2="433.8" y1="383.5" y2="383.5" stroke="#CDCDCD" stroke-width="1"/><line x1="264.3" x2="433.8" y1="408.5" y2="408.5" stroke="#CDCDCD" stroke-width="1"/><line x1="264.3" x2="433.8" y1="434.5" y2="434.5" stroke="#CDCDCD" stroke-width="1"/><line x1="264.3" x2="433.8" y1="459.5" y2="459.5" stroke="#CDCDCD" stroke-width="1"/><path d="M250.3,364.8 L254.3,369.0 L250.3,373.2" fill="none" stroke="#3F4450" stroke-width="1.2"/><circle cx="275.9" cy="370.4" r="4" fill="#FE9200"/><text x="288.4" y="373.8" font-family='"Liberation Sans", sans-serif' font-size="12" fill="#343741" letter-spacing="0.35">Underreplicated</text><text x="430.6" y="373.8" text-anchor="end" font-family='"Liberation Sans", sans-serif' font-size="12" fill="#343741" stroke="#343741" stroke-width="0.3" letter-spacing="0.9">0</text><circle cx="275.9" cy="396.4" r="4" fill="#FCDC00"/><text x="288.4" y="399.8" font-family='"Liberation Sans", sans-serif' font-size="12" fill="#343741" letter-spacing="0.35">Overreplicated</text><text x="430.6" y="399.8" text-anchor="end" font-family='"Liberation Sans", sans-serif' font-size="12" fill="#343741" stroke="#343741" stroke-width="0.3" letter-spacing="0.9">0</text><circle cx="275.9" cy="421.4" r="4" fill="#F44E3B"/><text x="288.4" y="424.8" font-family='"Liberation Sans", sans-serif' font-size="12" fill="#343741" letter-spacing="0.35">Unavailable</text><text x="430.6" y="424.8" text-anchor="end" font-family='"Liberation Sans", sans-serif' font-size="12" fill="#343741" stroke="#343741" stroke-width="0.3" letter-spacing="0.9">0</text><circle cx="275.9" cy="447.4" r="4" fill="#CCCCCC"/><text x="288.4" y="450.8" font-family='"Liberation Sans", sans-serif' font-size="12" fill="#343741" letter-spacing="0.35">Total</text><text x="430.6" y="450.8" text-anchor="end" font-family='"Liberation Sans", sans-serif' font-size="12" fill="#343741" stroke="#343741" stroke-width="0.3" letter-spacing="0.9">25</text></g>
<g><g stroke="#E0E2E7" stroke-width="1" fill="none"><line x1="508.0" x2="854.0" y1="502.5" y2="502.5"/><line x1="508.0" x2="854.0" y1="473.5" y2="473.5"/><line x1="508.0" x2="854.0" y1="445.5" y2="445.5"/><line x1="508.0" x2="854.0" y1="416.5" y2="416.5"/><line x1="508.0" x2="854.0" y1="388.5" y2="388.5"/><line x1="508.0" x2="854.0" y1="359.5" y2="359.5"/><line x1="577.5" x2="577.5" y1="359.0" y2="503.0"/><line x1="663.5" x2="663.5" y1="359.0" y2="503.0"/><line x1="749.5" x2="749.5" y1="359.0" y2="503.0"/><line x1="835.5" x2="835.5" y1="359.0" y2="503.0"/><line x1="508.5" x2="508.5" y1="359.0" y2="503.0"/><line x1="853.5" x2="853.5" y1="359.0" y2="503.0"/></g><path d="M508.60,489.00 L512.90,489.46 L517.20,489.00 L521.50,488.55 L525.80,489.46 L530.10,485.93 L534.40,485.19 L538.70,484.84 L543.00,484.84 L547.30,484.56 L551.60,484.39 L555.90,484.10 L560.20,483.93 L564.50,483.65 L568.80,483.65 L573.10,483.65 L577.40,483.65 L581.70,483.30 L586.00,482.85 L590.30,482.56 L594.60,482.85 L598.90,482.85 L603.20,481.31 L607.50,482.85 L611.80,484.39 L616.10,484.84 L620.40,484.84 L624.70,502.00 L629.00,502.00 L633.30,502.00 L637.60,502.00 L641.90,502.00 L646.20,502.00 L650.50,502.00 L654.80,502.00 L659.10,502.00 L663.40,502.00 L667.70,502.00 L672.00,502.00 L676.30,502.00 L680.60,502.00 L684.90,502.00 L689.20,483.93 L693.50,484.84 L697.80,485.19 L702.10,485.47 L706.40,485.47 L710.70,485.47 L715.00,485.47 L719.30,485.47 L723.60,485.47 L727.90,485.47 L732.20,485.47 L736.50,485.47 L740.80,485.47 L745.10,485.47 L749.40,485.47 L753.70,485.47 L758.00,485.47 L762.30,485.47 L766.60,485.47 L770.90,485.19 L775.20,502.00 L779.50,502.00 L783.80,502.00 L788.10,502.00 L792.40,502.00 L796.70,502.00 L801.00,502.00 L805.30,502.00 L809.60,502.00 L813.90,502.00 L818.20,502.00 L822.50,502.00 L826.80,502.00 L831.10,502.00 L835.40,502.00 L839.70,502.00 L844.00,502.00 L848.30,502.00 L852.60,502.00 L852.60,502.00 L848.30,502.00 L844.00,502.00 L839.70,502.00 L835.40,502.00 L831.10,502.00 L826.80,502.00 L822.50,502.00 L818.20,502.00 L813.90,502.00 L809.60,502.00 L805.30,502.00 L801.00,502.00 L796.70,502.00 L792.40,502.00 L788.10,502.00 L783.80,502.00 L779.50,502.00 L775.20,502.00 L770.90,502.00 L766.60,502.00 L762.30,502.00 L758.00,502.00 L753.70,502.00 L749.40,502.00 L745.10,502.00 L740.80,502.00 L736.50,502.00 L732.20,502.00 L727.90,502.00 L723.60,502.00 L719.30,502.00 L715.00,502.00 L710.70,502.00 L706.40,502.00 L702.10,502.00 L697.80,502.00 L693.50,502.00 L689.20,502.00 L684.90,502.00 L680.60,502.00 L676.30,502.00 L672.00,502.00 L667.70,502.00 L663.40,502.00 L659.10,502.00 L654.80,502.00 L650.50,502.00 L646.20,502.00 L641.90,502.00 L637.60,502.00 L633.30,502.00 L629.00,502.00 L624.70,502.00 L620.40,502.00 L616.10,502.00 L611.80,502.00 L607.50,502.00 L603.20,502.00 L598.90,502.00 L594.60,502.00 L590.30,502.00 L586.00,502.00 L581.70,502.00 L577.40,502.00 L573.10,502.00 L568.80,502.00 L564.50,502.00 L560.20,502.00 L555.90,502.00 L551.60,502.00 L547.30,502.00 L543.00,502.00 L538.70,502.00 L534.40,502.00 L530.10,502.00 L525.80,502.00 L521.50,502.00 L517.20,502.00 L512.90,502.00 L508.60,502.00Z" fill="#E27300" fill-opacity="0.5"/><polyline points="508.60,489.00 512.90,489.46 517.20,489.00 521.50,488.55 525.80,489.46 530.10,485.93 534.40,485.19 538.70,484.84 543.00,484.84 547.30,484.56 551.60,484.39 555.90,484.10 560.20,483.93 564.50,483.65 568.80,483.65 573.10,483.65 577.40,483.65 581.70,483.30 586.00,482.85 590.30,482.56 594.60,482.85 598.90,482.85 603.20,481.31 607.50,482.85 611.80,484.39 616.10,484.84 620.40,484.84 624.70,502.00 629.00,502.00 633.30,502.00 637.60,502.00 641.90,502.00 646.20,502.00 650.50,502.00 654.80,502.00 659.10,502.00 663.40,502.00 667.70,502.00 672.00,502.00 676.30,502.00 680.60,502.00 684.90,502.00 689.20,483.93 693.50,484.84 697.80,485.19 702.10,485.47 706.40,485.47 710.70,485.47 715.00,485.47 719.30,485.47 723.60,485.47 727.90,485.47 732.20,485.47 736.50,485.47 740.80,485.47 745.10,485.47 749.40,485.47 753.70,485.47 758.00,485.47 762.30,485.47 766.60,485.47 770.90,485.19 775.20,502.00 779.50,502.00 783.80,502.00 788.10,502.00 792.40,502.00 796.70,502.00 801.00,502.00 805.30,502.00 809.60,502.00 813.90,502.00 818.20,502.00 822.50,502.00 826.80,502.00 831.10,502.00 835.40,502.00 839.70,502.00 844.00,502.00 848.30,502.00 852.60,502.00" fill="none" stroke="#E27300" stroke-width="1" stroke-linejoin="round"/><g fill="#fff" stroke="#E27300" stroke-width="1.0"><circle cx="508.60" cy="489.00" r="1.15"/><circle cx="512.90" cy="489.46" r="1.15"/><circle cx="517.20" cy="489.00" r="1.15"/><circle cx="521.50" cy="488.55" r="1.15"/><circle cx="525.80" cy="489.46" r="1.15"/><circle cx="530.10" cy="485.93" r="1.15"/><circle cx="534.40" cy="485.19" r="1.15"/><circle cx="538.70" cy="484.84" r="1.15"/><circle cx="543.00" cy="484.84" r="1.15"/><circle cx="547.30" cy="484.56" r="1.15"/><circle cx="551.60" cy="484.39" r="1.15"/><circle cx="555.90" cy="484.10" r="1.15"/><circle cx="560.20" cy="483.93" r="1.15"/><circle cx="564.50" cy="483.65" r="1.15"/><circle cx="568.80" cy="483.65" r="1.15"/><circle cx="573.10" cy="483.65" r="1.15"/><circle cx="577.40" cy="483.65" r="1.15"/><circle cx="581.70" cy="483.30" r="1.15"/><circle cx="586.00" cy="482.85" r="1.15"/><circle cx="590.30" cy="482.56" r="1.15"/><circle cx="594.60" cy="482.85" r="1.15"/><circle cx="598.90" cy="482.85" r="1.15"/><circle cx="603.20" cy="481.31" r="1.15"/><circle cx="607.50" cy="482.85" r="1.15"/><circle cx="611.80" cy="484.39" r="1.15"/><circle cx="616.10" cy="484.84" r="1.15"/><circle cx="620.40" cy="484.84" r="1.15"/><circle cx="624.70" cy="502.00" r="1.15"/><circle cx="629.00" cy="502.00" r="1.15"/><circle cx="633.30" cy="502.00" r="1.15"/><circle cx="637.60" cy="502.00" r="1.15"/><circle cx="641.90" cy="502.00" r="1.15"/><circle cx="646.20" cy="502.00" r="1.15"/><circle cx="650.50" cy="502.00" r="1.15"/><circle cx="654.80" cy="502.00" r="1.15"/><circle cx="659.10" cy="502.00" r="1.15"/><circle cx="663.40" cy="502.00" r="1.15"/><circle cx="667.70" cy="502.00" r="1.15"/><circle cx="672.00" cy="502.00" r="1.15"/><circle cx="676.30" cy="502.00" r="1.15"/><circle cx="680.60" cy="502.00" r="1.15"/><circle cx="684.90" cy="502.00" r="1.15"/><circle cx="689.20" cy="483.93" r="1.15"/><circle cx="693.50" cy="484.84" r="1.15"/><circle cx="697.80" cy="485.19" r="1.15"/><circle cx="702.10" cy="485.47" r="1.15"/><circle cx="706.40" cy="485.47" r="1.15"/><circle cx="710.70" cy="485.47" r="1.15"/><circle cx="715.00" cy="485.47" r="1.15"/><circle cx="719.30" cy="485.47" r="1.15"/><circle cx="723.60" cy="485.47" r="1.15"/><circle cx="727.90" cy="485.47" r="1.15"/><circle cx="732.20" cy="485.47" r="1.15"/><circle cx="736.50" cy="485.47" r="1.15"/><circle cx="740.80" cy="485.47" r="1.15"/><circle cx="745.10" cy="485.47" r="1.15"/><circle cx="749.40" cy="485.47" r="1.15"/><circle cx="753.70" cy="485.47" r="1.15"/><circle cx="758.00" cy="485.47" r="1.15"/><circle cx="762.30" cy="485.47" r="1.15"/><circle cx="766.60" cy="485.47" r="1.15"/><circle cx="770.90" cy="485.19" r="1.15"/><circle cx="775.20" cy="502.00" r="1.15"/><circle cx="779.50" cy="502.00" r="1.15"/><circle cx="783.80" cy="502.00" r="1.15"/><circle cx="788.10" cy="502.00" r="1.15"/><circle cx="792.40" cy="502.00" r="1.15"/><circle cx="796.70" cy="502.00" r="1.15"/><circle cx="801.00" cy="502.00" r="1.15"/><circle cx="805.30" cy="502.00" r="1.15"/><circle cx="809.60" cy="502.00" r="1.15"/><circle cx="813.90" cy="502.00" r="1.15"/><circle cx="818.20" cy="502.00" r="1.15"/><circle cx="822.50" cy="502.00" r="1.15"/><circle cx="826.80" cy="502.00" r="1.15"/><circle cx="831.10" cy="502.00" r="1.15"/><circle cx="835.40" cy="502.00" r="1.15"/><circle cx="839.70" cy="502.00" r="1.15"/><circle cx="844.00" cy="502.00" r="1.15"/><circle cx="848.30" cy="502.00" r="1.15"/><circle cx="852.60" cy="502.00" r="1.15"/></g><path d="M508.60,489.00 L512.90,489.46 L517.20,489.00 L521.50,488.55 L525.80,489.46 L530.10,485.93 L534.40,485.19 L538.70,484.84 L543.00,484.84 L547.30,484.56 L551.60,484.39 L555.90,484.10 L560.20,483.93 L564.50,483.65 L568.80,483.65 L573.10,483.65 L577.40,483.65 L581.70,483.30 L586.00,482.85 L590.30,482.56 L594.60,482.85 L598.90,482.85 L603.20,481.31 L607.50,467.51 L611.80,468.48 L616.10,468.20 L620.40,468.20 L624.70,485.47 L629.00,485.47 L633.30,485.47 L637.60,485.47 L641.90,485.47 L646.20,502.00 L650.50,502.00 L654.80,502.00 L659.10,502.00 L663.40,502.00 L667.70,502.00 L672.00,502.00 L676.30,502.00 L680.60,502.00 L684.90,502.00 L689.20,469.57 L693.50,470.65 L697.80,470.19 L702.10,470.19 L706.40,470.19 L710.70,470.19 L715.00,470.19 L719.30,470.19 L723.60,470.19 L727.90,470.19 L732.20,470.19 L736.50,470.19 L740.80,470.19 L745.10,470.19 L749.40,470.19 L753.70,469.85 L758.00,469.85 L762.30,469.85 L766.60,469.85 L770.90,469.11 L775.20,486.38 L779.50,485.93 L783.80,485.93 L788.10,485.93 L792.40,485.93 L796.70,485.93 L801.00,485.93 L805.30,485.93 L809.60,485.93 L813.90,485.93 L818.20,483.36 L822.50,479.83 L826.80,480.57 L831.10,480.57 L835.40,480.57 L839.70,480.57 L844.00,480.57 L848.30,480.57 L852.60,480.57 L852.60,502.00 L848.30,502.00 L844.00,502.00 L839.70,502.00 L835.40,502.00 L831.10,502.00 L826.80,502.00 L822.50,502.00 L818.20,502.00 L813.90,502.00 L809.60,502.00 L805.30,502.00 L801.00,502.00 L796.70,502.00 L792.40,502.00 L788.10,502.00 L783.80,502.00 L779.50,502.00 L775.20,502.00 L770.90,485.19 L766.60,485.47 L762.30,485.47 L758.00,485.47 L753.70,485.47 L749.40,485.47 L745.10,485.47 L740.80,485.47 L736.50,485.47 L732.20,485.47 L727.90,485.47 L723.60,485.47 L719.30,485.47 L715.00,485.47 L710.70,485.47 L706.40,485.47 L702.10,485.47 L697.80,485.19 L693.50,484.84 L689.20,483.93 L684.90,502.00 L680.60,502.00 L676.30,502.00 L672.00,502.00 L667.70,502.00 L663.40,502.00 L659.10,502.00 L654.80,502.00 L650.50,502.00 L646.20,502.00 L641.90,502.00 L637.60,502.00 L633.30,502.00 L629.00,502.00 L624.70,502.00 L620.40,484.84 L616.10,484.84 L611.80,484.39 L607.50,482.85 L603.20,481.31 L598.90,482.85 L594.60,482.85 L590.30,482.56 L586.00,482.85 L581.70,483.30 L577.40,483.65 L573.10,483.65 L568.80,483.65 L564.50,483.65 L560.20,483.93 L555.90,484.10 L551.60,484.39 L547.30,484.56 L543.00,484.84 L538.70,484.84 L534.40,485.19 L530.10,485.93 L525.80,489.46 L521.50,488.55 L517.20,489.00 L512.90,489.46 L508.60,489.00Z" fill="#D33115" fill-opacity="0.5"/><polyline points="508.60,489.00 512.90,489.46 517.20,489.00 521.50,488.55 525.80,489.46 530.10,485.93 534.40,485.19 538.70,484.84 543.00,484.84 547.30,484.56 551.60,484.39 555.90,484.10 560.20,483.93 564.50,483.65 568.80,483.65 573.10,483.65 577.40,483.65 581.70,483.30 586.00,482.85 590.30,482.56 594.60,482.85 598.90,482.85 603.20,481.31 607.50,467.51 611.80,468.48 616.10,468.20 620.40,468.20 624.70,485.47 629.00,485.47 633.30,485.47 637.60,485.47 641.90,485.47 646.20,502.00 650.50,502.00 654.80,502.00 659.10,502.00 663.40,502.00 667.70,502.00 672.00,502.00 676.30,502.00 680.60,502.00 684.90,502.00 689.20,469.57 693.50,470.65 697.80,470.19 702.10,470.19 706.40,470.19 710.70,470.19 715.00,470.19 719.30,470.19 723.60,470.19 727.90,470.19 732.20,470.19 736.50,470.19 740.80,470.19 745.10,470.19 749.40,470.19 753.70,469.85 758.00,469.85 762.30,469.85 766.60,469.85 770.90,469.11 775.20,486.38 779.50,485.93 783.80,485.93 788.10,485.93 792.40,485.93 796.70,485.93 801.00,485.93 805.30,485.93 809.60,485.93 813.90,485.93 818.20,483.36 822.50,479.83 826.80,480.57 831.10,480.57 835.40,480.57 839.70,480.57 844.00,480.57 848.30,480.57 852.60,480.57" fill="none" stroke="#D33115" stroke-width="1" stroke-linejoin="round"/><g fill="#fff" stroke="#D33115" stroke-width="1.0"><circle cx="508.60" cy="489.00" r="1.15"/><circle cx="512.90" cy="489.46" r="1.15"/><circle cx="517.20" cy="489.00" r="1.15"/><circle cx="521.50" cy="488.55" r="1.15"/><circle cx="525.80" cy="489.46" r="1.15"/><circle cx="530.10" cy="485.93" r="1.15"/><circle cx="534.40" cy="485.19" r="1.15"/><circle cx="538.70" cy="484.84" r="1.15"/><circle cx="543.00" cy="484.84" r="1.15"/><circle cx="547.30" cy="484.56" r="1.15"/><circle cx="551.60" cy="484.39" r="1.15"/><circle cx="555.90" cy="484.10" r="1.15"/><circle cx="560.20" cy="483.93" r="1.15"/><circle cx="564.50" cy="483.65" r="1.15"/><circle cx="568.80" cy="483.65" r="1.15"/><circle cx="573.10" cy="483.65" r="1.15"/><circle cx="577.40" cy="483.65" r="1.15"/><circle cx="581.70" cy="483.30" r="1.15"/><circle cx="586.00" cy="482.85" r="1.15"/><circle cx="590.30" cy="482.56" r="1.15"/><circle cx="594.60" cy="482.85" r="1.15"/><circle cx="598.90" cy="482.85" r="1.15"/><circle cx="603.20" cy="481.31" r="1.15"/><circle cx="607.50" cy="467.51" r="1.15"/><circle cx="611.80" cy="468.48" r="1.15"/><circle cx="616.10" cy="468.20" r="1.15"/><circle cx="620.40" cy="468.20" r="1.15"/><circle cx="624.70" cy="485.47" r="1.15"/><circle cx="629.00" cy="485.47" r="1.15"/><circle cx="633.30" cy="485.47" r="1.15"/><circle cx="637.60" cy="485.47" r="1.15"/><circle cx="641.90" cy="485.47" r="1.15"/><circle cx="646.20" cy="502.00" r="1.15"/><circle cx="650.50" cy="502.00" r="1.15"/><circle cx="654.80" cy="502.00" r="1.15"/><circle cx="659.10" cy="502.00" r="1.15"/><circle cx="663.40" cy="502.00" r="1.15"/><circle cx="667.70" cy="502.00" r="1.15"/><circle cx="672.00" cy="502.00" r="1.15"/><circle cx="676.30" cy="502.00" r="1.15"/><circle cx="680.60" cy="502.00" r="1.15"/><circle cx="684.90" cy="502.00" r="1.15"/><circle cx="689.20" cy="469.57" r="1.15"/><circle cx="693.50" cy="470.65" r="1.15"/><circle cx="697.80" cy="470.19" r="1.15"/><circle cx="702.10" cy="470.19" r="1.15"/><circle cx="706.40" cy="470.19" r="1.15"/><circle cx="710.70" cy="470.19" r="1.15"/><circle cx="715.00" cy="470.19" r="1.15"/><circle cx="719.30" cy="470.19" r="1.15"/><circle cx="723.60" cy="470.19" r="1.15"/><circle cx="727.90" cy="470.19" r="1.15"/><circle cx="732.20" cy="470.19" r="1.15"/><circle cx="736.50" cy="470.19" r="1.15"/><circle cx="740.80" cy="470.19" r="1.15"/><circle cx="745.10" cy="470.19" r="1.15"/><circle cx="749.40" cy="470.19" r="1.15"/><circle cx="753.70" cy="469.85" r="1.15"/><circle cx="758.00" cy="469.85" r="1.15"/><circle cx="762.30" cy="469.85" r="1.15"/><circle cx="766.60" cy="469.85" r="1.15"/><circle cx="770.90" cy="469.11" r="1.15"/><circle cx="775.20" cy="486.38" r="1.15"/><circle cx="779.50" cy="485.93" r="1.15"/><circle cx="783.80" cy="485.93" r="1.15"/><circle cx="788.10" cy="485.93" r="1.15"/><circle cx="792.40" cy="485.93" r="1.15"/><circle cx="796.70" cy="485.93" r="1.15"/><circle cx="801.00" cy="485.93" r="1.15"/><circle cx="805.30" cy="485.93" r="1.15"/><circle cx="809.60" cy="485.93" r="1.15"/><circle cx="813.90" cy="485.93" r="1.15"/><circle cx="818.20" cy="483.36" r="1.15"/><circle cx="822.50" cy="479.83" r="1.15"/><circle cx="826.80" cy="480.57" r="1.15"/><circle cx="831.10" cy="480.57" r="1.15"/><circle cx="835.40" cy="480.57" r="1.15"/><circle cx="839.70" cy="480.57" r="1.15"/><circle cx="844.00" cy="480.57" r="1.15"/><circle cx="848.30" cy="480.57" r="1.15"/><circle cx="852.60" cy="480.57" r="1.15"/></g><path d="M508.60,489.00 L512.90,489.46 L517.20,489.00 L521.50,488.55 L525.80,489.46 L530.10,485.93 L534.40,485.19 L538.70,484.84 L543.00,484.84 L547.30,484.56 L551.60,484.39 L555.90,484.10 L560.20,483.93 L564.50,483.65 L568.80,483.65 L573.10,483.65 L577.40,483.65 L581.70,483.30 L586.00,482.85 L590.30,482.56 L594.60,482.85 L598.90,482.85 L603.20,481.31 L607.50,450.64 L611.80,450.70 L616.10,450.99 L620.40,450.99 L624.70,468.65 L629.00,468.65 L633.30,468.65 L637.60,468.65 L641.90,468.65 L646.20,485.19 L650.50,485.19 L654.80,485.19 L659.10,485.19 L663.40,484.22 L667.70,482.68 L672.00,482.11 L676.30,482.11 L680.60,482.11 L684.90,482.11 L689.20,449.96 L693.50,452.24 L697.80,453.78 L702.10,453.78 L706.40,453.78 L710.70,453.78 L715.00,453.78 L719.30,453.78 L723.60,453.78 L727.90,453.78 L732.20,453.78 L736.50,453.78 L740.80,453.78 L745.10,453.78 L749.40,453.78 L753.70,452.75 L758.00,452.75 L762.30,452.75 L766.60,452.75 L770.90,451.50 L775.20,468.65 L779.50,468.65 L783.80,468.65 L788.10,468.65 L792.40,468.65 L796.70,468.65 L801.00,468.65 L805.30,468.65 L809.60,468.65 L813.90,468.65 L818.20,465.29 L822.50,459.08 L826.80,459.82 L831.10,459.82 L835.40,459.82 L839.70,459.82 L844.00,459.82 L848.30,459.82 L852.60,459.82 L852.60,480.57 L848.30,480.57 L844.00,480.57 L839.70,480.57 L835.40,480.57 L831.10,480.57 L826.80,480.57 L822.50,479.83 L818.20,483.36 L813.90,485.93 L809.60,485.93 L805.30,485.93 L801.00,485.93 L796.70,485.93 L792.40,485.93 L788.10,485.93 L783.80,485.93 L779.50,485.93 L775.20,486.38 L770.90,469.11 L766.60,469.85 L762.30,469.85 L758.00,469.85 L753.70,469.85 L749.40,470.19 L745.10,470.19 L740.80,470.19 L736.50,470.19 L732.20,470.19 L727.90,470.19 L723.60,470.19 L719.30,470.19 L715.00,470.19 L710.70,470.19 L706.40,470.19 L702.10,470.19 L697.80,470.19 L693.50,470.65 L689.20,469.57 L684.90,502.00 L680.60,502.00 L676.30,502.00 L672.00,502.00 L667.70,502.00 L663.40,502.00 L659.10,502.00 L654.80,502.00 L650.50,502.00 L646.20,502.00 L641.90,485.47 L637.60,485.47 L633.30,485.47 L629.00,485.47 L624.70,485.47 L620.40,468.20 L616.10,468.20 L611.80,468.48 L607.50,467.51 L603.20,481.31 L598.90,482.85 L594.60,482.85 L590.30,482.56 L586.00,482.85 L581.70,483.30 L577.40,483.65 L573.10,483.65 L568.80,483.65 L564.50,483.65 L560.20,483.93 L555.90,484.10 L551.60,484.39 L547.30,484.56 L543.00,484.84 L538.70,484.84 L534.40,485.19 L530.10,485.93 L525.80,489.46 L521.50,488.55 L517.20,489.00 L512.90,489.46 L508.60,489.00Z" fill="#16A5A5" fill-opacity="0.5"/><polyline points="508.60,489.00 512.90,489.46 517.20,489.00 521.50,488.55 525.80,489.46 530.10,485.93 534.40,485.19 538.70,484.84 543.00,484.84 547.30,484.56 551.60,484.39 555.90,484.10 560.20,483.93 564.50,483.65 568.80,483.65 573.10,483.65 577.40,483.65 581.70,483.30 586.00,482.85 590.30,482.56 594.60,482.85 598.90,482.85 603.20,481.31 607.50,450.64 611.80,450.70 616.10,450.99 620.40,450.99 624.70,468.65 629.00,468.65 633.30,468.65 637.60,468.65 641.90,468.65 646.20,485.19 650.50,485.19 654.80,485.19 659.10,485.19 663.40,484.22 667.70,482.68 672.00,482.11 676.30,482.11 680.60,482.11 684.90,482.11 689.20,449.96 693.50,452.24 697.80,453.78 702.10,453.78 706.40,453.78 710.70,453.78 715.00,453.78 719.30,453.78 723.60,453.78 727.90,453.78 732.20,453.78 736.50,453.78 740.80,453.78 745.10,453.78 749.40,453.78 753.70,452.75 758.00,452.75 762.30,452.75 766.60,452.75 770.90,451.50 775.20,468.65 779.50,468.65 783.80,468.65 788.10,468.65 792.40,468.65 796.70,468.65 801.00,468.65 805.30,468.65 809.60,468.65 813.90,468.65 818.20,465.29 822.50,459.08 826.80,459.82 831.10,459.82 835.40,459.82 839.70,459.82 844.00,459.82 848.30,459.82 852.60,459.82" fill="none" stroke="#16A5A5" stroke-width="1" stroke-linejoin="round"/><g fill="#fff" stroke="#16A5A5" stroke-width="1.0"><circle cx="508.60" cy="489.00" r="1.15"/><circle cx="512.90" cy="489.46" r="1.15"/><circle cx="517.20" cy="489.00" r="1.15"/><circle cx="521.50" cy="488.55" r="1.15"/><circle cx="525.80" cy="489.46" r="1.15"/><circle cx="530.10" cy="485.93" r="1.15"/><circle cx="534.40" cy="485.19" r="1.15"/><circle cx="538.70" cy="484.84" r="1.15"/><circle cx="543.00" cy="484.84" r="1.15"/><circle cx="547.30" cy="484.56" r="1.15"/><circle cx="551.60" cy="484.39" r="1.15"/><circle cx="555.90" cy="484.10" r="1.15"/><circle cx="560.20" cy="483.93" r="1.15"/><circle cx="564.50" cy="483.65" r="1.15"/><circle cx="568.80" cy="483.65" r="1.15"/><circle cx="573.10" cy="483.65" r="1.15"/><circle cx="577.40" cy="483.65" r="1.15"/><circle cx="581.70" cy="483.30" r="1.15"/><circle cx="586.00" cy="482.85" r="1.15"/><circle cx="590.30" cy="482.56" r="1.15"/><circle cx="594.60" cy="482.85" r="1.15"/><circle cx="598.90" cy="482.85" r="1.15"/><circle cx="603.20" cy="481.31" r="1.15"/><circle cx="607.50" cy="450.64" r="1.15"/><circle cx="611.80" cy="450.70" r="1.15"/><circle cx="616.10" cy="450.99" r="1.15"/><circle cx="620.40" cy="450.99" r="1.15"/><circle cx="624.70" cy="468.65" r="1.15"/><circle cx="629.00" cy="468.65" r="1.15"/><circle cx="633.30" cy="468.65" r="1.15"/><circle cx="637.60" cy="468.65" r="1.15"/><circle cx="641.90" cy="468.65" r="1.15"/><circle cx="646.20" cy="485.19" r="1.15"/><circle cx="650.50" cy="485.19" r="1.15"/><circle cx="654.80" cy="485.19" r="1.15"/><circle cx="659.10" cy="485.19" r="1.15"/><circle cx="663.40" cy="484.22" r="1.15"/><circle cx="667.70" cy="482.68" r="1.15"/><circle cx="672.00" cy="482.11" r="1.15"/><circle cx="676.30" cy="482.11" r="1.15"/><circle cx="680.60" cy="482.11" r="1.15"/><circle cx="684.90" cy="482.11" r="1.15"/><circle cx="689.20" cy="449.96" r="1.15"/><circle cx="693.50" cy="452.24" r="1.15"/><circle cx="697.80" cy="453.78" r="1.15"/><circle cx="702.10" cy="453.78" r="1.15"/><circle cx="706.40" cy="453.78" r="1.15"/><circle cx="710.70" cy="453.78" r="1.15"/><circle cx="715.00" cy="453.78" r="1.15"/><circle cx="719.30" cy="453.78" r="1.15"/><circle cx="723.60" cy="453.78" r="1.15"/><circle cx="727.90" cy="453.78" r="1.15"/><circle cx="732.20" cy="453.78" r="1.15"/><circle cx="736.50" cy="453.78" r="1.15"/><circle cx="740.80" cy="453.78" r="1.15"/><circle cx="745.10" cy="453.78" r="1.15"/><circle cx="749.40" cy="453.78" r="1.15"/><circle cx="753.70" cy="452.75" r="1.15"/><circle cx="758.00" cy="452.75" r="1.15"/><circle cx="762.30" cy="452.75" r="1.15"/><circle cx="766.60" cy="452.75" r="1.15"/><circle cx="770.90" cy="451.50" r="1.15"/><circle cx="775.20" cy="468.65" r="1.15"/><circle cx="779.50" cy="468.65" r="1.15"/><circle cx="783.80" cy="468.65" r="1.15"/><circle cx="788.10" cy="468.65" r="1.15"/><circle cx="792.40" cy="468.65" r="1.15"/><circle cx="796.70" cy="468.65" r="1.15"/><circle cx="801.00" cy="468.65" r="1.15"/><circle cx="805.30" cy="468.65" r="1.15"/><circle cx="809.60" cy="468.65" r="1.15"/><circle cx="813.90" cy="468.65" r="1.15"/><circle cx="818.20" cy="465.29" r="1.15"/><circle cx="822.50" cy="459.08" r="1.15"/><circle cx="826.80" cy="459.82" r="1.15"/><circle cx="831.10" cy="459.82" r="1.15"/><circle cx="835.40" cy="459.82" r="1.15"/><circle cx="839.70" cy="459.82" r="1.15"/><circle cx="844.00" cy="459.82" r="1.15"/><circle cx="848.30" cy="459.82" r="1.15"/><circle cx="852.60" cy="459.82" r="1.15"/></g><path d="M508.60,477.20 L512.90,477.49 L517.20,477.20 L521.50,476.75 L525.80,477.20 L530.10,470.59 L534.40,469.51 L538.70,468.77 L543.00,467.97 L547.30,467.51 L551.60,466.77 L555.90,466.43 L560.20,465.98 L564.50,465.52 L568.80,465.24 L573.10,464.95 L577.40,464.95 L581.70,463.98 L586.00,462.50 L590.30,462.21 L594.60,462.50 L598.90,461.87 L603.20,458.39 L607.50,432.23 L611.80,434.34 L616.10,435.08 L620.40,435.08 L624.70,452.18 L629.00,452.18 L633.30,452.18 L637.60,452.18 L641.90,452.18 L646.20,468.65 L650.50,468.65 L654.80,468.65 L659.10,468.65 L663.40,465.63 L667.70,463.41 L672.00,463.81 L676.30,463.81 L680.60,463.81 L684.90,463.81 L689.20,429.32 L693.50,433.88 L697.80,436.22 L702.10,436.22 L706.40,436.22 L710.70,436.22 L715.00,436.22 L719.30,436.22 L723.60,436.22 L727.90,436.22 L732.20,436.22 L736.50,436.22 L740.80,436.22 L745.10,436.22 L749.40,436.22 L753.70,435.14 L758.00,435.14 L762.30,435.14 L766.60,435.14 L770.90,433.88 L775.20,451.04 L779.50,451.04 L783.80,451.04 L788.10,451.04 L792.40,451.04 L796.70,451.04 L801.00,451.04 L805.30,451.04 L809.60,451.04 L813.90,451.04 L818.20,445.68 L822.50,438.44 L826.80,439.24 L831.10,439.24 L835.40,439.24 L839.70,439.24 L844.00,439.24 L848.30,439.24 L852.60,439.24 L852.60,459.82 L848.30,459.82 L844.00,459.82 L839.70,459.82 L835.40,459.82 L831.10,459.82 L826.80,459.82 L822.50,459.08 L818.20,465.29 L813.90,468.65 L809.60,468.65 L805.30,468.65 L801.00,468.65 L796.70,468.65 L792.40,468.65 L788.10,468.65 L783.80,468.65 L779.50,468.65 L775.20,468.65 L770.90,451.50 L766.60,452.75 L762.30,452.75 L758.00,452.75 L753.70,452.75 L749.40,453.78 L745.10,453.78 L740.80,453.78 L736.50,453.78 L732.20,453.78 L727.90,453.78 L723.60,453.78 L719.30,453.78 L715.00,453.78 L710.70,453.78 L706.40,453.78 L702.10,453.78 L697.80,453.78 L693.50,452.24 L689.20,449.96 L684.90,482.11 L680.60,482.11 L676.30,482.11 L672.00,482.11 L667.70,482.68 L663.40,484.22 L659.10,485.19 L654.80,485.19 L650.50,485.19 L646.20,485.19 L641.90,468.65 L637.60,468.65 L633.30,468.65 L629.00,468.65 L624.70,468.65 L620.40,450.99 L616.10,450.99 L611.80,450.70 L607.50,450.64 L603.20,481.31 L598.90,482.85 L594.60,482.85 L590.30,482.56 L586.00,482.85 L581.70,483.30 L577.40,483.65 L573.10,483.65 L568.80,483.65 L564.50,483.65 L560.20,483.93 L555.90,484.10 L551.60,484.39 L547.30,484.56 L543.00,484.84 L538.70,484.84 L534.40,485.19 L530.10,485.93 L525.80,489.46 L521.50,488.55 L517.20,489.00 L512.90,489.46 L508.60,489.00Z" fill="#B0BC00" fill-opacity="0.5"/><polyline points="508.60,477.20 512.90,477.49 517.20,477.20 521.50,476.75 525.80,477.20 530.10,470.59 534.40,469.51 538.70,468.77 543.00,467.97 547.30,467.51 551.60,466.77 555.90,466.43 560.20,465.98 564.50,465.52 568.80,465.24 573.10,464.95 577.40,464.95 581.70,463.98 586.00,462.50 590.30,462.21 594.60,462.50 598.90,461.87 603.20,458.39 607.50,432.23 611.80,434.34 616.10,435.08 620.40,435.08 624.70,452.18 629.00,452.18 633.30,452.18 637.60,452.18 641.90,452.18 646.20,468.65 650.50,468.65 654.80,468.65 659.10,468.65 663.40,465.63 667.70,463.41 672.00,463.81 676.30,463.81 680.60,463.81 684.90,463.81 689.20,429.32 693.50,433.88 697.80,436.22 702.10,436.22 706.40,436.22 710.70,436.22 715.00,436.22 719.30,436.22 723.60,436.22 727.90,436.22 732.20,436.22 736.50,436.22 740.80,436.22 745.10,436.22 749.40,436.22 753.70,435.14 758.00,435.14 762.30,435.14 766.60,435.14 770.90,433.88 775.20,451.04 779.50,451.04 783.80,451.04 788.10,451.04 792.40,451.04 796.70,451.04 801.00,451.04 805.30,451.04 809.60,451.04 813.90,451.04 818.20,445.68 822.50,438.44 826.80,439.24 831.10,439.24 835.40,439.24 839.70,439.24 844.00,439.24 848.30,439.24 852.60,439.24" fill="none" stroke="#B0BC00" stroke-width="1" stroke-linejoin="round"/><g fill="#fff" stroke="#B0BC00" stroke-width="1.0"><circle cx="508.60" cy="477.20" r="1.15"/><circle cx="512.90" cy="477.49" r="1.15"/><circle cx="517.20" cy="477.20" r="1.15"/><circle cx="521.50" cy="476.75" r="1.15"/><circle cx="525.80" cy="477.20" r="1.15"/><circle cx="530.10" cy="470.59" r="1.15"/><circle cx="534.40" cy="469.51" r="1.15"/><circle cx="538.70" cy="468.77" r="1.15"/><circle cx="543.00" cy="467.97" r="1.15"/><circle cx="547.30" cy="467.51" r="1.15"/><circle cx="551.60" cy="466.77" r="1.15"/><circle cx="555.90" cy="466.43" r="1.15"/><circle cx="560.20" cy="465.98" r="1.15"/><circle cx="564.50" cy="465.52" r="1.15"/><circle cx="568.80" cy="465.24" r="1.15"/><circle cx="573.10" cy="464.95" r="1.15"/><circle cx="577.40" cy="464.95" r="1.15"/><circle cx="581.70" cy="463.98" r="1.15"/><circle cx="586.00" cy="462.50" r="1.15"/><circle cx="590.30" cy="462.21" r="1.15"/><circle cx="594.60" cy="462.50" r="1.15"/><circle cx="598.90" cy="461.87" r="1.15"/><circle cx="603.20" cy="458.39" r="1.15"/><circle cx="607.50" cy="432.23" r="1.15"/><circle cx="611.80" cy="434.34" r="1.15"/><circle cx="616.10" cy="435.08" r="1.15"/><circle cx="620.40" cy="435.08" r="1.15"/><circle cx="624.70" cy="452.18" r="1.15"/><circle cx="629.00" cy="452.18" r="1.15"/><circle cx="633.30" cy="452.18" r="1.15"/><circle cx="637.60" cy="452.18" r="1.15"/><circle cx="641.90" cy="452.18" r="1.15"/><circle cx="646.20" cy="468.65" r="1.15"/><circle cx="650.50" cy="468.65" r="1.15"/><circle cx="654.80" cy="468.65" r="1.15"/><circle cx="659.10" cy="468.65" r="1.15"/><circle cx="663.40" cy="465.63" r="1.15"/><circle cx="667.70" cy="463.41" r="1.15"/><circle cx="672.00" cy="463.81" r="1.15"/><circle cx="676.30" cy="463.81" r="1.15"/><circle cx="680.60" cy="463.81" r="1.15"/><circle cx="684.90" cy="463.81" r="1.15"/><circle cx="689.20" cy="429.32" r="1.15"/><circle cx="693.50" cy="433.88" r="1.15"/><circle cx="697.80" cy="436.22" r="1.15"/><circle cx="702.10" cy="436.22" r="1.15"/><circle cx="706.40" cy="436.22" r="1.15"/><circle cx="710.70" cy="436.22" r="1.15"/><circle cx="715.00" cy="436.22" r="1.15"/><circle cx="719.30" cy="436.22" r="1.15"/><circle cx="723.60" cy="436.22" r="1.15"/><circle cx="727.90" cy="436.22" r="1.15"/><circle cx="732.20" cy="436.22" r="1.15"/><circle cx="736.50" cy="436.22" r="1.15"/><circle cx="740.80" cy="436.22" r="1.15"/><circle cx="745.10" cy="436.22" r="1.15"/><circle cx="749.40" cy="436.22" r="1.15"/><circle cx="753.70" cy="435.14" r="1.15"/><circle cx="758.00" cy="435.14" r="1.15"/><circle cx="762.30" cy="435.14" r="1.15"/><circle cx="766.60" cy="435.14" r="1.15"/><circle cx="770.90" cy="433.88" r="1.15"/><circle cx="775.20" cy="451.04" r="1.15"/><circle cx="779.50" cy="451.04" r="1.15"/><circle cx="783.80" cy="451.04" r="1.15"/><circle cx="788.10" cy="451.04" r="1.15"/><circle cx="792.40" cy="451.04" r="1.15"/><circle cx="796.70" cy="451.04" r="1.15"/><circle cx="801.00" cy="451.04" r="1.15"/><circle cx="805.30" cy="451.04" r="1.15"/><circle cx="809.60" cy="451.04" r="1.15"/><circle cx="813.90" cy="451.04" r="1.15"/><circle cx="818.20" cy="445.68" r="1.15"/><circle cx="822.50" cy="438.44" r="1.15"/><circle cx="826.80" cy="439.24" r="1.15"/><circle cx="831.10" cy="439.24" r="1.15"/><circle cx="835.40" cy="439.24" r="1.15"/><circle cx="839.70" cy="439.24" r="1.15"/><circle cx="844.00" cy="439.24" r="1.15"/><circle cx="848.30" cy="439.24" r="1.15"/><circle cx="852.60" cy="439.24" r="1.15"/></g><path d="M508.60,463.47 L512.90,463.47 L517.20,462.95 L521.50,462.21 L525.80,463.47 L530.10,453.78 L534.40,452.98 L538.70,452.24 L543.00,450.70 L547.30,449.96 L551.60,448.42 L555.90,447.68 L560.20,447.68 L564.50,446.88 L568.80,446.14 L573.10,445.68 L577.40,445.34 L581.70,443.69 L586.00,441.12 L590.30,441.58 L594.60,441.58 L598.90,440.67 L603.20,436.17 L607.50,413.94 L611.80,416.67 L616.10,417.13 L620.40,417.13 L624.70,433.83 L629.00,433.83 L633.30,433.83 L637.60,433.83 L641.90,433.83 L646.20,450.19 L650.50,450.19 L654.80,450.19 L659.10,450.19 L663.40,446.88 L667.70,443.35 L672.00,443.12 L676.30,443.12 L680.60,443.12 L684.90,443.12 L689.20,408.63 L693.50,415.53 L697.80,419.35 L702.10,419.63 L706.40,419.63 L710.70,419.63 L715.00,419.63 L719.30,419.63 L723.60,419.63 L727.90,419.63 L732.20,419.63 L736.50,419.63 L740.80,419.63 L745.10,419.63 L749.40,419.63 L753.70,418.27 L758.00,418.27 L762.30,418.27 L766.60,418.27 L770.90,417.01 L775.20,433.43 L779.50,433.43 L783.80,433.43 L788.10,433.43 L792.40,433.43 L796.70,433.43 L801.00,433.43 L805.30,433.43 L809.60,433.43 L813.90,433.43 L818.20,426.25 L822.50,418.55 L826.80,419.35 L831.10,419.35 L835.40,419.35 L839.70,419.35 L844.00,419.35 L848.30,419.35 L852.60,419.35 L852.60,439.24 L848.30,439.24 L844.00,439.24 L839.70,439.24 L835.40,439.24 L831.10,439.24 L826.80,439.24 L822.50,438.44 L818.20,445.68 L813.90,451.04 L809.60,451.04 L805.30,451.04 L801.00,451.04 L796.70,451.04 L792.40,451.04 L788.10,451.04 L783.80,451.04 L779.50,451.04 L775.20,451.04 L770.90,433.88 L766.60,435.14 L762.30,435.14 L758.00,435.14 L753.70,435.14 L749.40,436.22 L745.10,436.22 L740.80,436.22 L736.50,436.22 L732.20,436.22 L727.90,436.22 L723.60,436.22 L719.30,436.22 L715.00,436.22 L710.70,436.22 L706.40,436.22 L702.10,436.22 L697.80,436.22 L693.50,433.88 L689.20,429.32 L684.90,463.81 L680.60,463.81 L676.30,463.81 L672.00,463.81 L667.70,463.41 L663.40,465.63 L659.10,468.65 L654.80,468.65 L650.50,468.65 L646.20,468.65 L641.90,452.18 L637.60,452.18 L633.30,452.18 L629.00,452.18 L624.70,452.18 L620.40,435.08 L616.10,435.08 L611.80,434.34 L607.50,432.23 L603.20,458.39 L598.90,461.87 L594.60,462.50 L590.30,462.21 L586.00,462.50 L581.70,463.98 L577.40,464.95 L573.10,464.95 L568.80,465.24 L564.50,465.52 L560.20,465.98 L555.90,466.43 L551.60,466.77 L547.30,467.51 L543.00,467.97 L538.70,468.77 L534.40,469.51 L530.10,470.59 L525.80,477.20 L521.50,476.75 L517.20,477.20 L512.90,477.49 L508.60,477.20Z" fill="#009CE0" fill-opacity="0.5"/><polyline points="508.60,463.47 512.90,463.47 517.20,462.95 521.50,462.21 525.80,463.47 530.10,453.78 534.40,452.98 538.70,452.24 543.00,450.70 547.30,449.96 551.60,448.42 555.90,447.68 560.20,447.68 564.50,446.88 568.80,446.14 573.10,445.68 577.40,445.34 581.70,443.69 586.00,441.12 590.30,441.58 594.60,441.58 598.90,440.67 603.20,436.17 607.50,413.94 611.80,416.67 616.10,417.13 620.40,417.13 624.70,433.83 629.00,433.83 633.30,433.83 637.60,433.83 641.90,433.83 646.20,450.19 650.50,450.19 654.80,450.19 659.10,450.19 663.40,446.88 667.70,443.35 672.00,443.12 676.30,443.12 680.60,443.12 684.90,443.12 689.20,408.63 693.50,415.53 697.80,419.35 702.10,419.63 706.40,419.63 710.70,419.63 715.00,419.63 719.30,419.63 723.60,419.63 727.90,419.63 732.20,419.63 736.50,419.63 740.80,419.63 745.10,419.63 749.40,419.63 753.70,418.27 758.00,418.27 762.30,418.27 766.60,418.27 770.90,417.01 775.20,433.43 779.50,433.43 783.80,433.43 788.10,433.43 792.40,433.43 796.70,433.43 801.00,433.43 805.30,433.43 809.60,433.43 813.90,433.43 818.20,426.25 822.50,418.55 826.80,419.35 831.10,419.35 835.40,419.35 839.70,419.35 844.00,419.35 848.30,419.35 852.60,419.35" fill="none" stroke="#009CE0" stroke-width="1" stroke-linejoin="round"/><g fill="#fff" stroke="#009CE0" stroke-width="1.0"><circle cx="508.60" cy="463.47" r="1.15"/><circle cx="512.90" cy="463.47" r="1.15"/><circle cx="517.20" cy="462.95" r="1.15"/><circle cx="521.50" cy="462.21" r="1.15"/><circle cx="525.80" cy="463.47" r="1.15"/><circle cx="530.10" cy="453.78" r="1.15"/><circle cx="534.40" cy="452.98" r="1.15"/><circle cx="538.70" cy="452.24" r="1.15"/><circle cx="543.00" cy="450.70" r="1.15"/><circle cx="547.30" cy="449.96" r="1.15"/><circle cx="551.60" cy="448.42" r="1.15"/><circle cx="555.90" cy="447.68" r="1.15"/><circle cx="560.20" cy="447.68" r="1.15"/><circle cx="564.50" cy="446.88" r="1.15"/><circle cx="568.80" cy="446.14" r="1.15"/><circle cx="573.10" cy="445.68" r="1.15"/><circle cx="577.40" cy="445.34" r="1.15"/><circle cx="581.70" cy="443.69" r="1.15"/><circle cx="586.00" cy="441.12" r="1.15"/><circle cx="590.30" cy="441.58" r="1.15"/><circle cx="594.60" cy="441.58" r="1.15"/><circle cx="598.90" cy="440.67" r="1.15"/><circle cx="603.20" cy="436.17" r="1.15"/><circle cx="607.50" cy="413.94" r="1.15"/><circle cx="611.80" cy="416.67" r="1.15"/><circle cx="616.10" cy="417.13" r="1.15"/><circle cx="620.40" cy="417.13" r="1.15"/><circle cx="624.70" cy="433.83" r="1.15"/><circle cx="629.00" cy="433.83" r="1.15"/><circle cx="633.30" cy="433.83" r="1.15"/><circle cx="637.60" cy="433.83" r="1.15"/><circle cx="641.90" cy="433.83" r="1.15"/><circle cx="646.20" cy="450.19" r="1.15"/><circle cx="650.50" cy="450.19" r="1.15"/><circle cx="654.80" cy="450.19" r="1.15"/><circle cx="659.10" cy="450.19" r="1.15"/><circle cx="663.40" cy="446.88" r="1.15"/><circle cx="667.70" cy="443.35" r="1.15"/><circle cx="672.00" cy="443.12" r="1.15"/><circle cx="676.30" cy="443.12" r="1.15"/><circle cx="680.60" cy="443.12" r="1.15"/><circle cx="684.90" cy="443.12" r="1.15"/><circle cx="689.20" cy="408.63" r="1.15"/><circle cx="693.50" cy="415.53" r="1.15"/><circle cx="697.80" cy="419.35" r="1.15"/><circle cx="702.10" cy="419.63" r="1.15"/><circle cx="706.40" cy="419.63" r="1.15"/><circle cx="710.70" cy="419.63" r="1.15"/><circle cx="715.00" cy="419.63" r="1.15"/><circle cx="719.30" cy="419.63" r="1.15"/><circle cx="723.60" cy="419.63" r="1.15"/><circle cx="727.90" cy="419.63" r="1.15"/><circle cx="732.20" cy="419.63" r="1.15"/><circle cx="736.50" cy="419.63" r="1.15"/><circle cx="740.80" cy="419.63" r="1.15"/><circle cx="745.10" cy="419.63" r="1.15"/><circle cx="749.40" cy="419.63" r="1.15"/><circle cx="753.70" cy="418.27" r="1.15"/><circle cx="758.00" cy="418.27" r="1.15"/><circle cx="762.30" cy="418.27" r="1.15"/><circle cx="766.60" cy="418.27" r="1.15"/><circle cx="770.90" cy="417.01" r="1.15"/><circle cx="775.20" cy="433.43" r="1.15"/><circle cx="779.50" cy="433.43" r="1.15"/><circle cx="783.80" cy="433.43" r="1.15"/><circle cx="788.10" cy="433.43" r="1.15"/><circle cx="792.40" cy="433.43" r="1.15"/><circle cx="796.70" cy="433.43" r="1.15"/><circle cx="801.00" cy="433.43" r="1.15"/><circle cx="805.30" cy="433.43" r="1.15"/><circle cx="809.60" cy="433.43" r="1.15"/><circle cx="813.90" cy="433.43" r="1.15"/><circle cx="818.20" cy="426.25" r="1.15"/><circle cx="822.50" cy="418.55" r="1.15"/><circle cx="826.80" cy="419.35" r="1.15"/><circle cx="831.10" cy="419.35" r="1.15"/><circle cx="835.40" cy="419.35" r="1.15"/><circle cx="839.70" cy="419.35" r="1.15"/><circle cx="844.00" cy="419.35" r="1.15"/><circle cx="848.30" cy="419.35" r="1.15"/><circle cx="852.60" cy="419.35" r="1.15"/></g><path d="M508.60,450.76 L512.90,450.76 L517.20,451.04 L521.50,449.22 L525.80,450.76 L530.10,437.70 L534.40,436.17 L538.70,435.08 L543.00,433.88 L547.30,432.35 L551.60,430.81 L555.90,430.07 L560.20,429.78 L564.50,429.27 L568.80,428.53 L573.10,428.53 L577.40,428.53 L581.70,426.70 L586.00,423.62 L590.30,423.62 L594.60,423.91 L598.90,423.62 L603.20,419.41 L607.50,393.93 L611.80,401.39 L616.10,401.85 L620.40,401.85 L624.70,418.55 L629.00,418.55 L633.30,418.55 L637.60,418.55 L641.90,418.55 L646.20,434.68 L650.50,434.68 L654.80,434.68 L659.10,434.68 L663.40,431.21 L667.70,423.68 L672.00,423.68 L676.30,423.68 L680.60,423.68 L684.90,423.68 L689.20,388.46 L693.50,396.38 L697.80,401.74 L702.10,402.19 L706.40,402.19 L710.70,402.19 L715.00,402.19 L719.30,402.19 L723.60,402.19 L727.90,402.19 L732.20,402.19 L736.50,402.19 L740.80,402.19 L745.10,402.19 L749.40,402.19 L753.70,400.20 L758.00,400.20 L762.30,400.20 L766.60,400.20 L770.90,398.20 L775.20,415.07 L779.50,415.53 L783.80,415.53 L788.10,415.53 L792.40,415.53 L796.70,415.53 L801.00,415.53 L805.30,415.53 L809.60,415.53 L813.90,415.53 L818.20,407.10 L822.50,397.92 L826.80,398.66 L831.10,398.66 L835.40,398.66 L839.70,398.66 L844.00,398.66 L848.30,398.66 L852.60,398.66 L852.60,419.35 L848.30,419.35 L844.00,419.35 L839.70,419.35 L835.40,419.35 L831.10,419.35 L826.80,419.35 L822.50,418.55 L818.20,426.25 L813.90,433.43 L809.60,433.43 L805.30,433.43 L801.00,433.43 L796.70,433.43 L792.40,433.43 L788.10,433.43 L783.80,433.43 L779.50,433.43 L775.20,433.43 L770.90,417.01 L766.60,418.27 L762.30,418.27 L758.00,418.27 L753.70,418.27 L749.40,419.63 L745.10,419.63 L740.80,419.63 L736.50,419.63 L732.20,419.63 L727.90,419.63 L723.60,419.63 L719.30,419.63 L715.00,419.63 L710.70,419.63 L706.40,419.63 L702.10,419.63 L697.80,419.35 L693.50,415.53 L689.20,408.63 L684.90,443.12 L680.60,443.12 L676.30,443.12 L672.00,443.12 L667.70,443.35 L663.40,446.88 L659.10,450.19 L654.80,450.19 L650.50,450.19 L646.20,450.19 L641.90,433.83 L637.60,433.83 L633.30,433.83 L629.00,433.83 L624.70,433.83 L620.40,417.13 L616.10,417.13 L611.80,416.67 L607.50,413.94 L603.20,436.17 L598.90,440.67 L594.60,441.58 L590.30,441.58 L586.00,441.12 L581.70,443.69 L577.40,445.34 L573.10,445.68 L568.80,446.14 L564.50,446.88 L560.20,447.68 L555.90,447.68 L551.60,448.42 L547.30,449.96 L543.00,450.70 L538.70,452.24 L534.40,452.98 L530.10,453.78 L525.80,463.47 L521.50,462.21 L517.20,462.95 L512.90,463.47 L508.60,463.47Z" fill="#68BC00" fill-opacity="0.5"/><polyline points="508.60,450.76 512.90,450.76 517.20,451.04 521.50,449.22 525.80,450.76 530.10,437.70 534.40,436.17 538.70,435.08 543.00,433.88 547.30,432.35 551.60,430.81 555.90,430.07 560.20,429.78 564.50,429.27 568.80,428.53 573.10,428.53 577.40,428.53 581.70,426.70 586.00,423.62 590.30,423.62 594.60,423.91 598.90,423.62 603.20,419.41 607.50,393.93 611.80,401.39 616.10,401.85 620.40,401.85 624.70,418.55 629.00,418.55 633.30,418.55 637.60,418.55 641.90,418.55 646.20,434.68 650.50,434.68 654.80,434.68 659.10,434.68 663.40,431.21 667.70,423.68 672.00,423.68 676.30,423.68 680.60,423.68 684.90,423.68 689.20,388.46 693.50,396.38 697.80,401.74 702.10,402.19 706.40,402.19 710.70,402.19 715.00,402.19 719.30,402.19 723.60,402.19 727.90,402.19 732.20,402.19 736.50,402.19 740.80,402.19 745.10,402.19 749.40,402.19 753.70,400.20 758.00,400.20 762.30,400.20 766.60,400.20 770.90,398.20 775.20,415.07 779.50,415.53 783.80,415.53 788.10,415.53 792.40,415.53 796.70,415.53 801.00,415.53 805.30,415.53 809.60,415.53 813.90,415.53 818.20,407.10 822.50,397.92 826.80,398.66 831.10,398.66 835.40,398.66 839.70,398.66 844.00,398.66 848.30,398.66 852.60,398.66" fill="none" stroke="#68BC00" stroke-width="1" stroke-linejoin="round"/><g fill="#fff" stroke="#68BC00" stroke-width="1.0"><circle cx="508.60" cy="450.76" r="1.15"/><circle cx="512.90" cy="450.76" r="1.15"/><circle cx="517.20" cy="451.04" r="1.15"/><circle cx="521.50" cy="449.22" r="1.15"/><circle cx="525.80" cy="450.76" r="1.15"/><circle cx="530.10" cy="437.70" r="1.15"/><circle cx="534.40" cy="436.17" r="1.15"/><circle cx="538.70" cy="435.08" r="1.15"/><circle cx="543.00" cy="433.88" r="1.15"/><circle cx="547.30" cy="432.35" r="1.15"/><circle cx="551.60" cy="430.81" r="1.15"/><circle cx="555.90" cy="430.07" r="1.15"/><circle cx="560.20" cy="429.78" r="1.15"/><circle cx="564.50" cy="429.27" r="1.15"/><circle cx="568.80" cy="428.53" r="1.15"/><circle cx="573.10" cy="428.53" r="1.15"/><circle cx="577.40" cy="428.53" r="1.15"/><circle cx="581.70" cy="426.70" r="1.15"/><circle cx="586.00" cy="423.62" r="1.15"/><circle cx="590.30" cy="423.62" r="1.15"/><circle cx="594.60" cy="423.91" r="1.15"/><circle cx="598.90" cy="423.62" r="1.15"/><circle cx="603.20" cy="419.41" r="1.15"/><circle cx="607.50" cy="393.93" r="1.15"/><circle cx="611.80" cy="401.39" r="1.15"/><circle cx="616.10" cy="401.85" r="1.15"/><circle cx="620.40" cy="401.85" r="1.15"/><circle cx="624.70" cy="418.55" r="1.15"/><circle cx="629.00" cy="418.55" r="1.15"/><circle cx="633.30" cy="418.55" r="1.15"/><circle cx="637.60" cy="418.55" r="1.15"/><circle cx="641.90" cy="418.55" r="1.15"/><circle cx="646.20" cy="434.68" r="1.15"/><circle cx="650.50" cy="434.68" r="1.15"/><circle cx="654.80" cy="434.68" r="1.15"/><circle cx="659.10" cy="434.68" r="1.15"/><circle cx="663.40" cy="431.21" r="1.15"/><circle cx="667.70" cy="423.68" r="1.15"/><circle cx="672.00" cy="423.68" r="1.15"/><circle cx="676.30" cy="423.68" r="1.15"/><circle cx="680.60" cy="423.68" r="1.15"/><circle cx="684.90" cy="423.68" r="1.15"/><circle cx="689.20" cy="388.46" r="1.15"/><circle cx="693.50" cy="396.38" r="1.15"/><circle cx="697.80" cy="401.74" r="1.15"/><circle cx="702.10" cy="402.19" r="1.15"/><circle cx="706.40" cy="402.19" r="1.15"/><circle cx="710.70" cy="402.19" r="1.15"/><circle cx="715.00" cy="402.19" r="1.15"/><circle cx="719.30" cy="402.19" r="1.15"/><circle cx="723.60" cy="402.19" r="1.15"/><circle cx="727.90" cy="402.19" r="1.15"/><circle cx="732.20" cy="402.19" r="1.15"/><circle cx="736.50" cy="402.19" r="1.15"/><circle cx="740.80" cy="402.19" r="1.15"/><circle cx="745.10" cy="402.19" r="1.15"/><circle cx="749.40" cy="402.19" r="1.15"/><circle cx="753.70" cy="400.20" r="1.15"/><circle cx="758.00" cy="400.20" r="1.15"/><circle cx="762.30" cy="400.20" r="1.15"/><circle cx="766.60" cy="400.20" r="1.15"/><circle cx="770.90" cy="398.20" r="1.15"/><circle cx="775.20" cy="415.07" r="1.15"/><circle cx="779.50" cy="415.53" r="1.15"/><circle cx="783.80" cy="415.53" r="1.15"/><circle cx="788.10" cy="415.53" r="1.15"/><circle cx="792.40" cy="415.53" r="1.15"/><circle cx="796.70" cy="415.53" r="1.15"/><circle cx="801.00" cy="415.53" r="1.15"/><circle cx="805.30" cy="415.53" r="1.15"/><circle cx="809.60" cy="415.53" r="1.15"/><circle cx="813.90" cy="415.53" r="1.15"/><circle cx="818.20" cy="407.10" r="1.15"/><circle cx="822.50" cy="397.92" r="1.15"/><circle cx="826.80" cy="398.66" r="1.15"/><circle cx="831.10" cy="398.66" r="1.15"/><circle cx="835.40" cy="398.66" r="1.15"/><circle cx="839.70" cy="398.66" r="1.15"/><circle cx="844.00" cy="398.66" r="1.15"/><circle cx="848.30" cy="398.66" r="1.15"/><circle cx="852.60" cy="398.66" r="1.15"/></g><g font-family='"Liberation Sans", sans-serif' font-size="11" fill="#8A8A8A" letter-spacing="0.45"><text x="504.0" y="505.2" text-anchor="end">0</text><text x="504.0" y="476.7" text-anchor="end">50</text><text x="504.0" y="448.2" text-anchor="end">100</text><text x="504.0" y="419.7" text-anchor="end">150</text><text x="504.0" y="391.2" text-anchor="end">200</text><text x="504.0" y="362.7" text-anchor="end">250</text></g><g font-family='"Liberation Sans", sans-serif' font-size="11" fill="#8A8A8A" letter-spacing="0.45"><text x="577.8" y="517.2" text-anchor="middle">20:20:00</text><text x="663.8" y="517.2" text-anchor="middle">20:30:00</text><text x="749.8" y="517.2" text-anchor="middle">20:40:00</text><text x="835.8" y="517.2" text-anchor="middle">20:50:00</text></g><text x="679.5" y="534.7" text-anchor="middle" font-family='"Liberation Sans", sans-serif' font-size="12" font-weight="bold" fill="#999FAA" letter-spacing="0.15">per 30 seconds</text><path d="M891.2,364.7 L887.2,368.9 L891.2,373.1" fill="none" stroke="#3F4450" stroke-width="1.2"/></g>
<g><g stroke="#E0E2E7" stroke-width="1" fill="none"><line x1="966.0" x2="1315.0" y1="502.5" y2="502.5"/><line x1="966.0" x2="1315.0" y1="478.5" y2="478.5"/><line x1="966.0" x2="1315.0" y1="454.5" y2="454.5"/><line x1="966.0" x2="1315.0" y1="431.5" y2="431.5"/><line x1="966.0" x2="1315.0" y1="407.5" y2="407.5"/><line x1="966.0" x2="1315.0" y1="383.5" y2="383.5"/><line x1="966.0" x2="1315.0" y1="359.5" y2="359.5"/><line x1="1036.5" x2="1036.5" y1="359.0" y2="503.0"/><line x1="1123.5" x2="1123.5" y1="359.0" y2="503.0"/><line x1="1209.5" x2="1209.5" y1="359.0" y2="503.0"/><line x1="1296.5" x2="1296.5" y1="359.0" y2="503.0"/><line x1="966.5" x2="966.5" y1="359.0" y2="503.0"/><line x1="1314.5" x2="1314.5" y1="359.0" y2="503.0"/></g><path d="M966.70,487.75 L971.04,487.75 L975.39,487.75 L979.73,487.75 L984.08,487.75 L988.42,476.35 L992.76,475.88 L997.11,473.50 L1001.45,480.62 L1005.80,477.77 L1010.14,475.40 L1014.48,473.50 L1018.83,473.50 L1023.17,472.55 L1027.52,471.36 L1031.86,471.36 L1036.20,471.12 L1040.55,468.75 L1044.89,466.38 L1049.24,466.38 L1053.58,466.38 L1057.92,466.38 L1062.27,466.38 L1066.61,466.38 L1070.96,475.40 L1075.30,475.40 L1079.64,475.88 L1083.99,502.00 L1088.33,502.00 L1092.68,502.00 L1097.02,502.00 L1101.36,502.00 L1105.71,502.00 L1110.05,502.00 L1114.40,502.00 L1118.74,502.00 L1123.08,502.00 L1127.43,502.00 L1131.77,502.00 L1136.12,502.00 L1140.46,502.00 L1144.80,502.00 L1149.15,492.26 L1153.49,492.50 L1157.84,492.50 L1162.18,492.50 L1166.52,492.50 L1170.87,492.50 L1175.21,492.50 L1179.56,492.50 L1183.90,492.50 L1188.24,492.50 L1192.59,492.50 L1196.93,492.50 L1201.28,492.50 L1205.62,492.50 L1209.96,492.50 L1214.31,492.50 L1218.65,492.50 L1223.00,492.50 L1227.34,492.50 L1231.68,492.26 L1236.03,502.00 L1240.37,502.00 L1244.72,502.00 L1249.06,502.00 L1253.40,502.00 L1257.75,502.00 L1262.09,502.00 L1266.44,502.00 L1270.78,502.00 L1275.12,502.00 L1279.47,502.00 L1283.81,502.00 L1288.16,502.00 L1292.50,502.00 L1296.84,502.00 L1301.19,502.00 L1305.53,502.00 L1309.88,502.00 L1314.22,502.00 L1314.22,502.00 L1309.88,502.00 L1305.53,502.00 L1301.19,502.00 L1296.84,502.00 L1292.50,502.00 L1288.16,502.00 L1283.81,502.00 L1279.47,502.00 L1275.12,502.00 L1270.78,502.00 L1266.44,502.00 L1262.09,502.00 L1257.75,502.00 L1253.40,502.00 L1249.06,502.00 L1244.72,502.00 L1240.37,502.00 L1236.03,502.00 L1231.68,502.00 L1227.34,502.00 L1223.00,502.00 L1218.65,502.00 L1214.31,502.00 L1209.96,502.00 L1205.62,502.00 L1201.28,502.00 L1196.93,502.00 L1192.59,502.00 L1188.24,502.00 L1183.90,502.00 L1179.56,502.00 L1175.21,502.00 L1170.87,502.00 L1166.52,502.00 L1162.18,502.00 L1157.84,502.00 L1153.49,502.00 L1149.15,502.00 L1144.80,502.00 L1140.46,502.00 L1136.12,502.00 L1131.77,502.00 L1127.43,502.00 L1123.08,502.00 L1118.74,502.00 L1114.40,502.00 L1110.05,502.00 L1105.71,502.00 L1101.36,502.00 L1097.02,502.00 L1092.68,502.00 L1088.33,502.00 L1083.99,502.00 L1079.64,502.00 L1075.30,502.00 L1070.96,502.00 L1066.61,502.00 L1062.27,502.00 L1057.92,502.00 L1053.58,502.00 L1049.24,502.00 L1044.89,502.00 L1040.55,502.00 L1036.20,502.00 L1031.86,502.00 L1027.52,502.00 L1023.17,502.00 L1018.83,502.00 L1014.48,502.00 L1010.14,502.00 L1005.80,502.00 L1001.45,502.00 L997.11,502.00 L992.76,502.00 L988.42,502.00 L984.08,502.00 L979.73,502.00 L975.39,502.00 L971.04,502.00 L966.70,502.00Z" fill="#E27300" fill-opacity="0.5"/><polyline points="966.70,487.75 971.04,487.75 975.39,487.75 979.73,487.75 984.08,487.75 988.42,476.35 992.76,475.88 997.11,473.50 1001.45,480.62 1005.80,477.77 1010.14,475.40 1014.48,473.50 1018.83,473.50 1023.17,472.55 1027.52,471.36 1031.86,471.36 1036.20,471.12 1040.55,468.75 1044.89,466.38 1049.24,466.38 1053.58,466.38 1057.92,466.38 1062.27,466.38 1066.61,466.38 1070.96,475.40 1075.30,475.40 1079.64,475.88 1083.99,502.00 1088.33,502.00 1092.68,502.00 1097.02,502.00 1101.36,502.00 1105.71,502.00 1110.05,502.00 1114.40,502.00 1118.74,502.00 1123.08,502.00 1127.43,502.00 1131.77,502.00 1136.12,502.00 1140.46,502.00 1144.80,502.00 1149.15,492.26 1153.49,492.50 1157.84,492.50 1162.18,492.50 1166.52,492.50 1170.87,492.50 1175.21,492.50 1179.56,492.50 1183.90,492.50 1188.24,492.50 1192.59,492.50 1196.93,492.50 1201.28,492.50 1205.62,492.50 1209.96,492.50 1214.31,492.50 1218.65,492.50 1223.00,492.50 1227.34,492.50 1231.68,492.26 1236.03,502.00 1240.37,502.00 1244.72,502.00 1249.06,502.00 1253.40,502.00 1257.75,502.00 1262.09,502.00 1266.44,502.00 1270.78,502.00 1275.12,502.00 1279.47,502.00 1283.81,502.00 1288.16,502.00 1292.50,502.00 1296.84,502.00 1301.19,502.00 1305.53,502.00 1309.88,502.00 1314.22,502.00" fill="none" stroke="#E27300" stroke-width="1" stroke-linejoin="round"/><g fill="#fff" stroke="#E27300" stroke-width="1.0"><circle cx="966.70" cy="487.75" r="1.15"/><circle cx="971.04" cy="487.75" r="1.15"/><circle cx="975.39" cy="487.75" r="1.15"/><circle cx="979.73" cy="487.75" r="1.15"/><circle cx="984.08" cy="487.75" r="1.15"/><circle cx="988.42" cy="476.35" r="1.15"/><circle cx="992.76" cy="475.88" r="1.15"/><circle cx="997.11" cy="473.50" r="1.15"/><circle cx="1001.45" cy="480.62" r="1.15"/><circle cx="1005.80" cy="477.77" r="1.15"/><circle cx="1010.14" cy="475.40" r="1.15"/><circle cx="1014.48" cy="473.50" r="1.15"/><circle cx="1018.83" cy="473.50" r="1.15"/><circle cx="1023.17" cy="472.55" r="1.15"/><circle cx="1027.52" cy="471.36" r="1.15"/><circle cx="1031.86" cy="471.36" r="1.15"/><circle cx="1036.20" cy="471.12" r="1.15"/><circle cx="1040.55" cy="468.75" r="1.15"/><circle cx="1044.89" cy="466.38" r="1.15"/><circle cx="1049.24" cy="466.38" r="1.15"/><circle cx="1053.58" cy="466.38" r="1.15"/><circle cx="1057.92" cy="466.38" r="1.15"/><circle cx="1062.27" cy="466.38" r="1.15"/><circle cx="1066.61" cy="466.38" r="1.15"/><circle cx="1070.96" cy="475.40" r="1.15"/><circle cx="1075.30" cy="475.40" r="1.15"/><circle cx="1079.64" cy="475.88" r="1.15"/><circle cx="1083.99" cy="502.00" r="1.15"/><circle cx="1088.33" cy="502.00" r="1.15"/><circle cx="1092.68" cy="502.00" r="1.15"/><circle cx="1097.02" cy="502.00" r="1.15"/><circle cx="1101.36" cy="502.00" r="1.15"/><circle cx="1105.71" cy="502.00" r="1.15"/><circle cx="1110.05" cy="502.00" r="1.15"/><circle cx="1114.40" cy="502.00" r="1.15"/><circle cx="1118.74" cy="502.00" r="1.15"/><circle cx="1123.08" cy="502.00" r="1.15"/><circle cx="1127.43" cy="502.00" r="1.15"/><circle cx="1131.77" cy="502.00" r="1.15"/><circle cx="1136.12" cy="502.00" r="1.15"/><circle cx="1140.46" cy="502.00" r="1.15"/><circle cx="1144.80" cy="502.00" r="1.15"/><circle cx="1149.15" cy="492.26" r="1.15"/><circle cx="1153.49" cy="492.50" r="1.15"/><circle cx="1157.84" cy="492.50" r="1.15"/><circle cx="1162.18" cy="492.50" r="1.15"/><circle cx="1166.52" cy="492.50" r="1.15"/><circle cx="1170.87" cy="492.50" r="1.15"/><circle cx="1175.21" cy="492.50" r="1.15"/><circle cx="1179.56" cy="492.50" r="1.15"/><circle cx="1183.90" cy="492.50" r="1.15"/><circle cx="1188.24" cy="492.50" r="1.15"/><circle cx="1192.59" cy="492.50" r="1.15"/><circle cx="1196.93" cy="492.50" r="1.15"/><circle cx="1201.28" cy="492.50" r="1.15"/><circle cx="1205.62" cy="492.50" r="1.15"/><circle cx="1209.96" cy="492.50" r="1.15"/><circle cx="1214.31" cy="492.50" r="1.15"/><circle cx="1218.65" cy="492.50" r="1.15"/><circle cx="1223.00" cy="492.50" r="1.15"/><circle cx="1227.34" cy="492.50" r="1.15"/><circle cx="1231.68" cy="492.26" r="1.15"/><circle cx="1236.03" cy="502.00" r="1.15"/><circle cx="1240.37" cy="502.00" r="1.15"/><circle cx="1244.72" cy="502.00" r="1.15"/><circle cx="1249.06" cy="502.00" r="1.15"/><circle cx="1253.40" cy="502.00" r="1.15"/><circle cx="1257.75" cy="502.00" r="1.15"/><circle cx="1262.09" cy="502.00" r="1.15"/><circle cx="1266.44" cy="502.00" r="1.15"/><circle cx="1270.78" cy="502.00" r="1.15"/><circle cx="1275.12" cy="502.00" r="1.15"/><circle cx="1279.47" cy="502.00" r="1.15"/><circle cx="1283.81" cy="502.00" r="1.15"/><circle cx="1288.16" cy="502.00" r="1.15"/><circle cx="1292.50" cy="502.00" r="1.15"/><circle cx="1296.84" cy="502.00" r="1.15"/><circle cx="1301.19" cy="502.00" r="1.15"/><circle cx="1305.53" cy="502.00" r="1.15"/><circle cx="1309.88" cy="502.00" r="1.15"/><circle cx="1314.22" cy="502.00" r="1.15"/></g><path d="M966.70,487.75 L971.04,487.75 L975.39,487.75 L979.73,487.75 L984.08,487.75 L988.42,476.35 L992.76,475.88 L997.11,473.50 L1001.45,480.62 L1005.80,477.77 L1010.14,475.40 L1014.48,473.50 L1018.83,473.50 L1023.17,472.55 L1027.52,471.36 L1031.86,471.36 L1036.20,471.12 L1040.55,468.75 L1044.89,466.38 L1049.24,466.38 L1053.58,466.38 L1057.92,466.38 L1062.27,466.38 L1066.61,459.25 L1070.96,466.38 L1075.30,466.38 L1079.64,466.38 L1083.99,487.75 L1088.33,487.75 L1092.68,487.75 L1097.02,487.75 L1101.36,487.75 L1105.71,502.00 L1110.05,502.00 L1114.40,502.00 L1118.74,502.00 L1123.08,502.00 L1127.43,502.00 L1131.77,502.00 L1136.12,502.00 L1140.46,502.00 L1144.80,502.00 L1149.15,482.76 L1153.49,483.00 L1157.84,483.00 L1162.18,483.00 L1166.52,483.00 L1170.87,483.00 L1175.21,483.00 L1179.56,483.00 L1183.90,483.00 L1188.24,483.00 L1192.59,483.00 L1196.93,483.00 L1201.28,483.00 L1205.62,483.00 L1209.96,483.00 L1214.31,483.00 L1218.65,483.00 L1223.00,483.00 L1227.34,483.00 L1231.68,479.91 L1236.03,485.85 L1240.37,485.85 L1244.72,485.85 L1249.06,485.85 L1253.40,485.85 L1257.75,485.85 L1262.09,485.85 L1266.44,485.85 L1270.78,485.85 L1275.12,485.85 L1279.47,485.85 L1283.81,487.27 L1288.16,487.75 L1292.50,487.75 L1296.84,487.75 L1301.19,487.75 L1305.53,487.75 L1309.88,487.75 L1314.22,487.75 L1314.22,502.00 L1309.88,502.00 L1305.53,502.00 L1301.19,502.00 L1296.84,502.00 L1292.50,502.00 L1288.16,502.00 L1283.81,502.00 L1279.47,502.00 L1275.12,502.00 L1270.78,502.00 L1266.44,502.00 L1262.09,502.00 L1257.75,502.00 L1253.40,502.00 L1249.06,502.00 L1244.72,502.00 L1240.37,502.00 L1236.03,502.00 L1231.68,492.26 L1227.34,492.50 L1223.00,492.50 L1218.65,492.50 L1214.31,492.50 L1209.96,492.50 L1205.62,492.50 L1201.28,492.50 L1196.93,492.50 L1192.59,492.50 L1188.24,492.50 L1183.90,492.50 L1179.56,492.50 L1175.21,492.50 L1170.87,492.50 L1166.52,492.50 L1162.18,492.50 L1157.84,492.50 L1153.49,492.50 L1149.15,492.26 L1144.80,502.00 L1140.46,502.00 L1136.12,502.00 L1131.77,502.00 L1127.43,502.00 L1123.08,502.00 L1118.74,502.00 L1114.40,502.00 L1110.05,502.00 L1105.71,502.00 L1101.36,502.00 L1097.02,502.00 L1092.68,502.00 L1088.33,502.00 L1083.99,502.00 L1079.64,475.88 L1075.30,475.40 L1070.96,475.40 L1066.61,466.38 L1062.27,466.38 L1057.92,466.38 L1053.58,466.38 L1049.24,466.38 L1044.89,466.38 L1040.55,468.75 L1036.20,471.12 L1031.86,471.36 L1027.52,471.36 L1023.17,472.55 L1018.83,473.50 L1014.48,473.50 L1010.14,475.40 L1005.80,477.77 L1001.45,480.62 L997.11,473.50 L992.76,475.88 L988.42,476.35 L984.08,487.75 L979.73,487.75 L975.39,487.75 L971.04,487.75 L966.70,487.75Z" fill="#D33115" fill-opacity="0.5"/><polyline points="966.70,487.75 971.04,487.75 975.39,487.75 979.73,487.75 984.08,487.75 988.42,476.35 992.76,475.88 997.11,473.50 1001.45,480.62 1005.80,477.77 1010.14,475.40 1014.48,473.50 1018.83,473.50 1023.17,472.55 1027.52,471.36 1031.86,471.36 1036.20,471.12 1040.55,468.75 1044.89,466.38 1049.24,466.38 1053.58,466.38 1057.92,466.38 1062.27,466.38 1066.61,459.25 1070.96,466.38 1075.30,466.38 1079.64,466.38 1083.99,487.75 1088.33,487.75 1092.68,487.75 1097.02,487.75 1101.36,487.75 1105.71,502.00 1110.05,502.00 1114.40,502.00 1118.74,502.00 1123.08,502.00 1127.43,502.00 1131.77,502.00 1136.12,502.00 1140.46,502.00 1144.80,502.00 1149.15,482.76 1153.49,483.00 1157.84,483.00 1162.18,483.00 1166.52,483.00 1170.87,483.00 1175.21,483.00 1179.56,483.00 1183.90,483.00 1188.24,483.00 1192.59,483.00 1196.93,483.00 1201.28,483.00 1205.62,483.00 1209.96,483.00 1214.31,483.00 1218.65,483.00 1223.00,483.00 1227.34,483.00 1231.68,479.91 1236.03,485.85 1240.37,485.85 1244.72,485.85 1249.06,485.85 1253.40,485.85 1257.75,485.85 1262.09,485.85 1266.44,485.85 1270.78,485.85 1275.12,485.85 1279.47,485.85 1283.81,487.27 1288.16,487.75 1292.50,487.75 1296.84,487.75 1301.19,487.75 1305.53,487.75 1309.88,487.75 1314.22,487.75" fill="none" stroke="#D33115" stroke-width="1" stroke-linejoin="round"/><g fill="#fff" stroke="#D33115" stroke-width="1.0"><circle cx="966.70" cy="487.75" r="1.15"/><circle cx="971.04" cy="487.75" r="1.15"/><circle cx="975.39" cy="487.75" r="1.15"/><circle cx="979.73" cy="487.75" r="1.15"/><circle cx="984.08" cy="487.75" r="1.15"/><circle cx="988.42" cy="476.35" r="1.15"/><circle cx="992.76" cy="475.88" r="1.15"/><circle cx="997.11" cy="473.50" r="1.15"/><circle cx="1001.45" cy="480.62" r="1.15"/><circle cx="1005.80" cy="477.77" r="1.15"/><circle cx="1010.14" cy="475.40" r="1.15"/><circle cx="1014.48" cy="473.50" r="1.15"/><circle cx="1018.83" cy="473.50" r="1.15"/><circle cx="1023.17" cy="472.55" r="1.15"/><circle cx="1027.52" cy="471.36" r="1.15"/><circle cx="1031.86" cy="471.36" r="1.15"/><circle cx="1036.20" cy="471.12" r="1.15"/><circle cx="1040.55" cy="468.75" r="1.15"/><circle cx="1044.89" cy="466.38" r="1.15"/><circle cx="1049.24" cy="466.38" r="1.15"/><circle cx="1053.58" cy="466.38" r="1.15"/><circle cx="1057.92" cy="466.38" r="1.15"/><circle cx="1062.27" cy="466.38" r="1.15"/><circle cx="1066.61" cy="459.25" r="1.15"/><circle cx="1070.96" cy="466.38" r="1.15"/><circle cx="1075.30" cy="466.38" r="1.15"/><circle cx="1079.64" cy="466.38" r="1.15"/><circle cx="1083.99" cy="487.75" r="1.15"/><circle cx="1088.33" cy="487.75" r="1.15"/><circle cx="1092.68" cy="487.75" r="1.15"/><circle cx="1097.02" cy="487.75" r="1.15"/><circle cx="1101.36" cy="487.75" r="1.15"/><circle cx="1105.71" cy="502.00" r="1.15"/><circle cx="1110.05" cy="502.00" r="1.15"/><circle cx="1114.40" cy="502.00" r="1.15"/><circle cx="1118.74" cy="502.00" r="1.15"/><circle cx="1123.08" cy="502.00" r="1.15"/><circle cx="1127.43" cy="502.00" r="1.15"/><circle cx="1131.77" cy="502.00" r="1.15"/><circle cx="1136.12" cy="502.00" r="1.15"/><circle cx="1140.46" cy="502.00" r="1.15"/><circle cx="1144.80" cy="502.00" r="1.15"/><circle cx="1149.15" cy="482.76" r="1.15"/><circle cx="1153.49" cy="483.00" r="1.15"/><circle cx="1157.84" cy="483.00" r="1.15"/><circle cx="1162.18" cy="483.00" r="1.15"/><circle cx="1166.52" cy="483.00" r="1.15"/><circle cx="1170.87" cy="483.00" r="1.15"/><circle cx="1175.21" cy="483.00" r="1.15"/><circle cx="1179.56" cy="483.00" r="1.15"/><circle cx="1183.90" cy="483.00" r="1.15"/><circle cx="1188.24" cy="483.00" r="1.15"/><circle cx="1192.59" cy="483.00" r="1.15"/><circle cx="1196.93" cy="483.00" r="1.15"/><circle cx="1201.28" cy="483.00" r="1.15"/><circle cx="1205.62" cy="483.00" r="1.15"/><circle cx="1209.96" cy="483.00" r="1.15"/><circle cx="1214.31" cy="483.00" r="1.15"/><circle cx="1218.65" cy="483.00" r="1.15"/><circle cx="1223.00" cy="483.00" r="1.15"/><circle cx="1227.34" cy="483.00" r="1.15"/><circle cx="1231.68" cy="479.91" r="1.15"/><circle cx="1236.03" cy="485.85" r="1.15"/><circle cx="1240.37" cy="485.85" r="1.15"/><circle cx="1244.72" cy="485.85" r="1.15"/><circle cx="1249.06" cy="485.85" r="1.15"/><circle cx="1253.40" cy="485.85" r="1.15"/><circle cx="1257.75" cy="485.85" r="1.15"/><circle cx="1262.09" cy="485.85" r="1.15"/><circle cx="1266.44" cy="485.85" r="1.15"/><circle cx="1270.78" cy="485.85" r="1.15"/><circle cx="1275.12" cy="485.85" r="1.15"/><circle cx="1279.47" cy="485.85" r="1.15"/><circle cx="1283.81" cy="487.27" r="1.15"/><circle cx="1288.16" cy="487.75" r="1.15"/><circle cx="1292.50" cy="487.75" r="1.15"/><circle cx="1296.84" cy="487.75" r="1.15"/><circle cx="1301.19" cy="487.75" r="1.15"/><circle cx="1305.53" cy="487.75" r="1.15"/><circle cx="1309.88" cy="487.75" r="1.15"/><circle cx="1314.22" cy="487.75" r="1.15"/></g><path d="M966.70,487.75 L971.04,487.75 L975.39,487.75 L979.73,487.75 L984.08,487.75 L988.42,476.35 L992.76,475.88 L997.11,473.50 L1001.45,480.62 L1005.80,477.77 L1010.14,475.40 L1014.48,473.50 L1018.83,473.50 L1023.17,472.55 L1027.52,471.36 L1031.86,471.36 L1036.20,471.12 L1040.55,468.75 L1044.89,466.38 L1049.24,466.38 L1053.58,466.38 L1057.92,466.38 L1062.27,466.38 L1066.61,440.25 L1070.96,447.85 L1075.30,447.85 L1079.64,445.00 L1083.99,466.38 L1088.33,466.38 L1092.68,466.38 L1097.02,466.38 L1101.36,466.38 L1105.71,471.12 L1110.05,471.12 L1114.40,471.12 L1118.74,471.12 L1123.08,471.12 L1127.43,471.12 L1131.77,471.36 L1136.12,471.36 L1140.46,471.36 L1144.80,471.36 L1149.15,452.12 L1153.49,458.54 L1157.84,461.86 L1162.18,461.86 L1166.52,461.86 L1170.87,461.86 L1175.21,461.86 L1179.56,461.86 L1183.90,461.86 L1188.24,461.86 L1192.59,461.86 L1196.93,461.86 L1201.28,461.86 L1205.62,461.86 L1209.96,461.86 L1214.31,461.86 L1218.65,461.86 L1223.00,461.86 L1227.34,461.86 L1231.68,459.49 L1236.03,464.24 L1240.37,464.24 L1244.72,464.24 L1249.06,464.24 L1253.40,464.24 L1257.75,464.24 L1262.09,464.24 L1266.44,464.24 L1270.78,464.24 L1275.12,464.24 L1279.47,464.24 L1283.81,465.90 L1288.16,466.38 L1292.50,466.38 L1296.84,466.38 L1301.19,466.38 L1305.53,466.38 L1309.88,466.38 L1314.22,466.38 L1314.22,487.75 L1309.88,487.75 L1305.53,487.75 L1301.19,487.75 L1296.84,487.75 L1292.50,487.75 L1288.16,487.75 L1283.81,487.27 L1279.47,485.85 L1275.12,485.85 L1270.78,485.85 L1266.44,485.85 L1262.09,485.85 L1257.75,485.85 L1253.40,485.85 L1249.06,485.85 L1244.72,485.85 L1240.37,485.85 L1236.03,485.85 L1231.68,479.91 L1227.34,483.00 L1223.00,483.00 L1218.65,483.00 L1214.31,483.00 L1209.96,483.00 L1205.62,483.00 L1201.28,483.00 L1196.93,483.00 L1192.59,483.00 L1188.24,483.00 L1183.90,483.00 L1179.56,483.00 L1175.21,483.00 L1170.87,483.00 L1166.52,483.00 L1162.18,483.00 L1157.84,483.00 L1153.49,483.00 L1149.15,482.76 L1144.80,502.00 L1140.46,502.00 L1136.12,502.00 L1131.77,502.00 L1127.43,502.00 L1123.08,502.00 L1118.74,502.00 L1114.40,502.00 L1110.05,502.00 L1105.71,502.00 L1101.36,487.75 L1097.02,487.75 L1092.68,487.75 L1088.33,487.75 L1083.99,487.75 L1079.64,466.38 L1075.30,466.38 L1070.96,466.38 L1066.61,459.25 L1062.27,466.38 L1057.92,466.38 L1053.58,466.38 L1049.24,466.38 L1044.89,466.38 L1040.55,468.75 L1036.20,471.12 L1031.86,471.36 L1027.52,471.36 L1023.17,472.55 L1018.83,473.50 L1014.48,473.50 L1010.14,475.40 L1005.80,477.77 L1001.45,480.62 L997.11,473.50 L992.76,475.88 L988.42,476.35 L984.08,487.75 L979.73,487.75 L975.39,487.75 L971.04,487.75 L966.70,487.75Z" fill="#16A5A5" fill-opacity="0.5"/><polyline points="966.70,487.75 971.04,487.75 975.39,487.75 979.73,487.75 984.08,487.75 988.42,476.35 992.76,475.88 997.11,473.50 1001.45,480.62 1005.80,477.77 1010.14,475.40 1014.48,473.50 1018.83,473.50 1023.17,472.55 1027.52,471.36 1031.86,471.36 1036.20,471.12 1040.55,468.75 1044.89,466.38 1049.24,466.38 1053.58,466.38 1057.92,466.38 1062.27,466.38 1066.61,440.25 1070.96,447.85 1075.30,447.85 1079.64,445.00 1083.99,466.38 1088.33,466.38 1092.68,466.38 1097.02,466.38 1101.36,466.38 1105.71,471.12 1110.05,471.12 1114.40,471.12 1118.74,471.12 1123.08,471.12 1127.43,471.12 1131.77,471.36 1136.12,471.36 1140.46,471.36 1144.80,471.36 1149.15,452.12 1153.49,458.54 1157.84,461.86 1162.18,461.86 1166.52,461.86 1170.87,461.86 1175.21,461.86 1179.56,461.86 1183.90,461.86 1188.24,461.86 1192.59,461.86 1196.93,461.86 1201.28,461.86 1205.62,461.86 1209.96,461.86 1214.31,461.86 1218.65,461.86 1223.00,461.86 1227.34,461.86 1231.68,459.49 1236.03,464.24 1240.37,464.24 1244.72,464.24 1249.06,464.24 1253.40,464.24 1257.75,464.24 1262.09,464.24 1266.44,464.24 1270.78,464.24 1275.12,464.24 1279.47,464.24 1283.81,465.90 1288.16,466.38 1292.50,466.38 1296.84,466.38 1301.19,466.38 1305.53,466.38 1309.88,466.38 1314.22,466.38" fill="none" stroke="#16A5A5" stroke-width="1" stroke-linejoin="round"/><g fill="#fff" stroke="#16A5A5" stroke-width="1.0"><circle cx="966.70" cy="487.75" r="1.15"/><circle cx="971.04" cy="487.75" r="1.15"/><circle cx="975.39" cy="487.75" r="1.15"/><circle cx="979.73" cy="487.75" r="1.15"/><circle cx="984.08" cy="487.75" r="1.15"/><circle cx="988.42" cy="476.35" r="1.15"/><circle cx="992.76" cy="475.88" r="1.15"/><circle cx="997.11" cy="473.50" r="1.15"/><circle cx="1001.45" cy="480.62" r="1.15"/><circle cx="1005.80" cy="477.77" r="1.15"/><circle cx="1010.14" cy="475.40" r="1.15"/><circle cx="1014.48" cy="473.50" r="1.15"/><circle cx="1018.83" cy="473.50" r="1.15"/><circle cx="1023.17" cy="472.55" r="1.15"/><circle cx="1027.52" cy="471.36" r="1.15"/><circle cx="1031.86" cy="471.36" r="1.15"/><circle cx="1036.20" cy="471.12" r="1.15"/><circle cx="1040.55" cy="468.75" r="1.15"/><circle cx="1044.89" cy="466.38" r="1.15"/><circle cx="1049.24" cy="466.38" r="1.15"/><circle cx="1053.58" cy="466.38" r="1.15"/><circle cx="1057.92" cy="466.38" r="1.15"/><circle cx="1062.27" cy="466.38" r="1.15"/><circle cx="1066.61" cy="440.25" r="1.15"/><circle cx="1070.96" cy="447.85" r="1.15"/><circle cx="1075.30" cy="447.85" r="1.15"/><circle cx="1079.64" cy="445.00" r="1.15"/><circle cx="1083.99" cy="466.38" r="1.15"/><circle cx="1088.33" cy="466.38" r="1.15"/><circle cx="1092.68" cy="466.38" r="1.15"/><circle cx="1097.02" cy="466.38" r="1.15"/><circle cx="1101.36" cy="466.38" r="1.15"/><circle cx="1105.71" cy="471.12" r="1.15"/><circle cx="1110.05" cy="471.12" r="1.15"/><circle cx="1114.40" cy="471.12" r="1.15"/><circle cx="1118.74" cy="471.12" r="1.15"/><circle cx="1123.08" cy="471.12" r="1.15"/><circle cx="1127.43" cy="471.12" r="1.15"/><circle cx="1131.77" cy="471.36" r="1.15"/><circle cx="1136.12" cy="471.36" r="1.15"/><circle cx="1140.46" cy="471.36" r="1.15"/><circle cx="1144.80" cy="471.36" r="1.15"/><circle cx="1149.15" cy="452.12" r="1.15"/><circle cx="1153.49" cy="458.54" r="1.15"/><circle cx="1157.84" cy="461.86" r="1.15"/><circle cx="1162.18" cy="461.86" r="1.15"/><circle cx="1166.52" cy="461.86" r="1.15"/><circle cx="1170.87" cy="461.86" r="1.15"/><circle cx="1175.21" cy="461.86" r="1.15"/><circle cx="1179.56" cy="461.86" r="1.15"/><circle cx="1183.90" cy="461.86" r="1.15"/><circle cx="1188.24" cy="461.86" r="1.15"/><circle cx="1192.59" cy="461.86" r="1.15"/><circle cx="1196.93" cy="461.86" r="1.15"/><circle cx="1201.28" cy="461.86" r="1.15"/><circle cx="1205.62" cy="461.86" r="1.15"/><circle cx="1209.96" cy="461.86" r="1.15"/><circle cx="1214.31" cy="461.86" r="1.15"/><circle cx="1218.65" cy="461.86" r="1.15"/><circle cx="1223.00" cy="461.86" r="1.15"/><circle cx="1227.34" cy="461.86" r="1.15"/><circle cx="1231.68" cy="459.49" r="1.15"/><circle cx="1236.03" cy="464.24" r="1.15"/><circle cx="1240.37" cy="464.24" r="1.15"/><circle cx="1244.72" cy="464.24" r="1.15"/><circle cx="1249.06" cy="464.24" r="1.15"/><circle cx="1253.40" cy="464.24" r="1.15"/><circle cx="1257.75" cy="464.24" r="1.15"/><circle cx="1262.09" cy="464.24" r="1.15"/><circle cx="1266.44" cy="464.24" r="1.15"/><circle cx="1270.78" cy="464.24" r="1.15"/><circle cx="1275.12" cy="464.24" r="1.15"/><circle cx="1279.47" cy="464.24" r="1.15"/><circle cx="1283.81" cy="465.90" r="1.15"/><circle cx="1288.16" cy="466.38" r="1.15"/><circle cx="1292.50" cy="466.38" r="1.15"/><circle cx="1296.84" cy="466.38" r="1.15"/><circle cx="1301.19" cy="466.38" r="1.15"/><circle cx="1305.53" cy="466.38" r="1.15"/><circle cx="1309.88" cy="466.38" r="1.15"/><circle cx="1314.22" cy="466.38" r="1.15"/></g><path d="M966.70,465.66 L971.04,465.66 L975.39,465.66 L979.73,465.66 L984.08,465.66 L988.42,452.12 L992.76,450.46 L997.11,448.56 L1001.45,449.99 L1005.80,447.14 L1010.14,445.24 L1014.48,442.39 L1018.83,443.81 L1023.17,443.57 L1027.52,442.39 L1031.86,442.39 L1036.20,442.39 L1040.55,440.96 L1044.89,438.59 L1049.24,438.59 L1053.58,438.59 L1057.92,438.59 L1062.27,438.59 L1066.61,416.50 L1070.96,430.99 L1075.30,430.75 L1079.64,428.38 L1083.99,439.54 L1088.33,438.11 L1092.68,438.11 L1097.02,438.11 L1101.36,438.11 L1105.71,440.49 L1110.05,440.49 L1114.40,440.49 L1118.74,440.49 L1123.08,440.49 L1127.43,440.49 L1131.77,442.62 L1136.12,442.62 L1140.46,442.62 L1144.80,442.62 L1149.15,424.10 L1153.49,432.41 L1157.84,435.74 L1162.18,435.74 L1166.52,435.74 L1170.87,435.74 L1175.21,435.74 L1179.56,435.74 L1183.90,435.74 L1188.24,435.74 L1192.59,435.74 L1196.93,435.74 L1201.28,435.74 L1205.62,435.74 L1209.96,435.74 L1214.31,435.74 L1218.65,435.74 L1223.00,435.74 L1227.34,435.74 L1231.68,433.12 L1236.03,437.88 L1240.37,437.88 L1244.72,437.88 L1249.06,437.88 L1253.40,437.88 L1257.75,437.88 L1262.09,437.88 L1266.44,437.88 L1270.78,437.88 L1275.12,437.88 L1279.47,437.88 L1283.81,440.25 L1288.16,440.25 L1292.50,440.25 L1296.84,440.25 L1301.19,440.25 L1305.53,440.25 L1309.88,440.25 L1314.22,440.25 L1314.22,466.38 L1309.88,466.38 L1305.53,466.38 L1301.19,466.38 L1296.84,466.38 L1292.50,466.38 L1288.16,466.38 L1283.81,465.90 L1279.47,464.24 L1275.12,464.24 L1270.78,464.24 L1266.44,464.24 L1262.09,464.24 L1257.75,464.24 L1253.40,464.24 L1249.06,464.24 L1244.72,464.24 L1240.37,464.24 L1236.03,464.24 L1231.68,459.49 L1227.34,461.86 L1223.00,461.86 L1218.65,461.86 L1214.31,461.86 L1209.96,461.86 L1205.62,461.86 L1201.28,461.86 L1196.93,461.86 L1192.59,461.86 L1188.24,461.86 L1183.90,461.86 L1179.56,461.86 L1175.21,461.86 L1170.87,461.86 L1166.52,461.86 L1162.18,461.86 L1157.84,461.86 L1153.49,458.54 L1149.15,452.12 L1144.80,471.36 L1140.46,471.36 L1136.12,471.36 L1131.77,471.36 L1127.43,471.12 L1123.08,471.12 L1118.74,471.12 L1114.40,471.12 L1110.05,471.12 L1105.71,471.12 L1101.36,466.38 L1097.02,466.38 L1092.68,466.38 L1088.33,466.38 L1083.99,466.38 L1079.64,445.00 L1075.30,447.85 L1070.96,447.85 L1066.61,440.25 L1062.27,466.38 L1057.92,466.38 L1053.58,466.38 L1049.24,466.38 L1044.89,466.38 L1040.55,468.75 L1036.20,471.12 L1031.86,471.36 L1027.52,471.36 L1023.17,472.55 L1018.83,473.50 L1014.48,473.50 L1010.14,475.40 L1005.80,477.77 L1001.45,480.62 L997.11,473.50 L992.76,475.88 L988.42,476.35 L984.08,487.75 L979.73,487.75 L975.39,487.75 L971.04,487.75 L966.70,487.75Z" fill="#B0BC00" fill-opacity="0.5"/><polyline points="966.70,465.66 971.04,465.66 975.39,465.66 979.73,465.66 984.08,465.66 988.42,452.12 992.76,450.46 997.11,448.56 1001.45,449.99 1005.80,447.14 1010.14,445.24 1014.48,442.39 1018.83,443.81 1023.17,443.57 1027.52,442.39 1031.86,442.39 1036.20,442.39 1040.55,440.96 1044.89,438.59 1049.24,438.59 1053.58,438.59 1057.92,438.59 1062.27,438.59 1066.61,416.50 1070.96,430.99 1075.30,430.75 1079.64,428.38 1083.99,439.54 1088.33,438.11 1092.68,438.11 1097.02,438.11 1101.36,438.11 1105.71,440.49 1110.05,440.49 1114.40,440.49 1118.74,440.49 1123.08,440.49 1127.43,440.49 1131.77,442.62 1136.12,442.62 1140.46,442.62 1144.80,442.62 1149.15,424.10 1153.49,432.41 1157.84,435.74 1162.18,435.74 1166.52,435.74 1170.87,435.74 1175.21,435.74 1179.56,435.74 1183.90,435.74 1188.24,435.74 1192.59,435.74 1196.93,435.74 1201.28,435.74 1205.62,435.74 1209.96,435.74 1214.31,435.74 1218.65,435.74 1223.00,435.74 1227.34,435.74 1231.68,433.12 1236.03,437.88 1240.37,437.88 1244.72,437.88 1249.06,437.88 1253.40,437.88 1257.75,437.88 1262.09,437.88 1266.44,437.88 1270.78,437.88 1275.12,437.88 1279.47,437.88 1283.81,440.25 1288.16,440.25 1292.50,440.25 1296.84,440.25 1301.19,440.25 1305.53,440.25 1309.88,440.25 1314.22,440.25" fill="none" stroke="#B0BC00" stroke-width="1" stroke-linejoin="round"/><g fill="#fff" stroke="#B0BC00" stroke-width="1.0"><circle cx="966.70" cy="465.66" r="1.15"/><circle cx="971.04" cy="465.66" r="1.15"/><circle cx="975.39" cy="465.66" r="1.15"/><circle cx="979.73" cy="465.66" r="1.15"/><circle cx="984.08" cy="465.66" r="1.15"/><circle cx="988.42" cy="452.12" r="1.15"/><circle cx="992.76" cy="450.46" r="1.15"/><circle cx="997.11" cy="448.56" r="1.15"/><circle cx="1001.45" cy="449.99" r="1.15"/><circle cx="1005.80" cy="447.14" r="1.15"/><circle cx="1010.14" cy="445.24" r="1.15"/><circle cx="1014.48" cy="442.39" r="1.15"/><circle cx="1018.83" cy="443.81" r="1.15"/><circle cx="1023.17" cy="443.57" r="1.15"/><circle cx="1027.52" cy="442.39" r="1.15"/><circle cx="1031.86" cy="442.39" r="1.15"/><circle cx="1036.20" cy="442.39" r="1.15"/><circle cx="1040.55" cy="440.96" r="1.15"/><circle cx="1044.89" cy="438.59" r="1.15"/><circle cx="1049.24" cy="438.59" r="1.15"/><circle cx="1053.58" cy="438.59" r="1.15"/><circle cx="1057.92" cy="438.59" r="1.15"/><circle cx="1062.27" cy="438.59" r="1.15"/><circle cx="1066.61" cy="416.50" r="1.15"/><circle cx="1070.96" cy="430.99" r="1.15"/><circle cx="1075.30" cy="430.75" r="1.15"/><circle cx="1079.64" cy="428.38" r="1.15"/><circle cx="1083.99" cy="439.54" r="1.15"/><circle cx="1088.33" cy="438.11" r="1.15"/><circle cx="1092.68" cy="438.11" r="1.15"/><circle cx="1097.02" cy="438.11" r="1.15"/><circle cx="1101.36" cy="438.11" r="1.15"/><circle cx="1105.71" cy="440.49" r="1.15"/><circle cx="1110.05" cy="440.49" r="1.15"/><circle cx="1114.40" cy="440.49" r="1.15"/><circle cx="1118.74" cy="440.49" r="1.15"/><circle cx="1123.08" cy="440.49" r="1.15"/><circle cx="1127.43" cy="440.49" r="1.15"/><circle cx="1131.77" cy="442.62" r="1.15"/><circle cx="1136.12" cy="442.62" r="1.15"/><circle cx="1140.46" cy="442.62" r="1.15"/><circle cx="1144.80" cy="442.62" r="1.15"/><circle cx="1149.15" cy="424.10" r="1.15"/><circle cx="1153.49" cy="432.41" r="1.15"/><circle cx="1157.84" cy="435.74" r="1.15"/><circle cx="1162.18" cy="435.74" r="1.15"/><circle cx="1166.52" cy="435.74" r="1.15"/><circle cx="1170.87" cy="435.74" r="1.15"/><circle cx="1175.21" cy="435.74" r="1.15"/><circle cx="1179.56" cy="435.74" r="1.15"/><circle cx="1183.90" cy="435.74" r="1.15"/><circle cx="1188.24" cy="435.74" r="1.15"/><circle cx="1192.59" cy="435.74" r="1.15"/><circle cx="1196.93" cy="435.74" r="1.15"/><circle cx="1201.28" cy="435.74" r="1.15"/><circle cx="1205.62" cy="435.74" r="1.15"/><circle cx="1209.96" cy="435.74" r="1.15"/><circle cx="1214.31" cy="435.74" r="1.15"/><circle cx="1218.65" cy="435.74" r="1.15"/><circle cx="1223.00" cy="435.74" r="1.15"/><circle cx="1227.34" cy="435.74" r="1.15"/><circle cx="1231.68" cy="433.12" r="1.15"/><circle cx="1236.03" cy="437.88" r="1.15"/><circle cx="1240.37" cy="437.88" r="1.15"/><circle cx="1244.72" cy="437.88" r="1.15"/><circle cx="1249.06" cy="437.88" r="1.15"/><circle cx="1253.40" cy="437.88" r="1.15"/><circle cx="1257.75" cy="437.88" r="1.15"/><circle cx="1262.09" cy="437.88" r="1.15"/><circle cx="1266.44" cy="437.88" r="1.15"/><circle cx="1270.78" cy="437.88" r="1.15"/><circle cx="1275.12" cy="437.88" r="1.15"/><circle cx="1279.47" cy="437.88" r="1.15"/><circle cx="1283.81" cy="440.25" r="1.15"/><circle cx="1288.16" cy="440.25" r="1.15"/><circle cx="1292.50" cy="440.25" r="1.15"/><circle cx="1296.84" cy="440.25" r="1.15"/><circle cx="1301.19" cy="440.25" r="1.15"/><circle cx="1305.53" cy="440.25" r="1.15"/><circle cx="1309.88" cy="440.25" r="1.15"/><circle cx="1314.22" cy="440.25" r="1.15"/></g><path d="M966.70,458.30 L971.04,458.30 L975.39,458.30 L979.73,458.30 L984.08,458.30 L988.42,440.49 L992.76,438.11 L997.11,435.50 L1001.45,438.59 L1005.80,435.50 L1010.14,433.60 L1014.48,428.38 L1018.83,430.75 L1023.17,430.51 L1027.52,428.38 L1031.86,428.38 L1036.20,428.38 L1040.55,426.00 L1044.89,421.73 L1049.24,421.73 L1053.58,421.73 L1057.92,421.73 L1062.27,421.73 L1066.61,402.25 L1070.96,417.21 L1075.30,416.74 L1079.64,414.12 L1083.99,421.73 L1088.33,419.35 L1092.68,419.35 L1097.02,419.35 L1101.36,419.35 L1105.71,421.73 L1110.05,421.73 L1114.40,421.73 L1118.74,421.73 L1123.08,421.73 L1127.43,421.73 L1131.77,423.39 L1136.12,423.39 L1140.46,423.39 L1144.80,423.39 L1149.15,404.62 L1153.49,416.02 L1157.84,421.73 L1162.18,421.73 L1166.52,421.73 L1170.87,421.73 L1175.21,421.73 L1179.56,421.73 L1183.90,421.73 L1188.24,421.73 L1192.59,421.73 L1196.93,421.73 L1201.28,421.73 L1205.62,421.73 L1209.96,421.73 L1214.31,421.73 L1218.65,420.30 L1223.00,420.30 L1227.34,419.35 L1231.68,418.88 L1236.03,418.88 L1240.37,418.88 L1244.72,418.88 L1249.06,418.88 L1253.40,418.88 L1257.75,418.88 L1262.09,418.88 L1266.44,418.88 L1270.78,418.88 L1275.12,418.88 L1279.47,418.88 L1283.81,421.01 L1288.16,421.01 L1292.50,421.01 L1296.84,421.01 L1301.19,421.01 L1305.53,421.01 L1309.88,421.01 L1314.22,421.01 L1314.22,440.25 L1309.88,440.25 L1305.53,440.25 L1301.19,440.25 L1296.84,440.25 L1292.50,440.25 L1288.16,440.25 L1283.81,440.25 L1279.47,437.88 L1275.12,437.88 L1270.78,437.88 L1266.44,437.88 L1262.09,437.88 L1257.75,437.88 L1253.40,437.88 L1249.06,437.88 L1244.72,437.88 L1240.37,437.88 L1236.03,437.88 L1231.68,433.12 L1227.34,435.74 L1223.00,435.74 L1218.65,435.74 L1214.31,435.74 L1209.96,435.74 L1205.62,435.74 L1201.28,435.74 L1196.93,435.74 L1192.59,435.74 L1188.24,435.74 L1183.90,435.74 L1179.56,435.74 L1175.21,435.74 L1170.87,435.74 L1166.52,435.74 L1162.18,435.74 L1157.84,435.74 L1153.49,432.41 L1149.15,424.10 L1144.80,442.62 L1140.46,442.62 L1136.12,442.62 L1131.77,442.62 L1127.43,440.49 L1123.08,440.49 L1118.74,440.49 L1114.40,440.49 L1110.05,440.49 L1105.71,440.49 L1101.36,438.11 L1097.02,438.11 L1092.68,438.11 L1088.33,438.11 L1083.99,439.54 L1079.64,428.38 L1075.30,430.75 L1070.96,430.99 L1066.61,416.50 L1062.27,438.59 L1057.92,438.59 L1053.58,438.59 L1049.24,438.59 L1044.89,438.59 L1040.55,440.96 L1036.20,442.39 L1031.86,442.39 L1027.52,442.39 L1023.17,443.57 L1018.83,443.81 L1014.48,442.39 L1010.14,445.24 L1005.80,447.14 L1001.45,449.99 L997.11,448.56 L992.76,450.46 L988.42,452.12 L984.08,465.66 L979.73,465.66 L975.39,465.66 L971.04,465.66 L966.70,465.66Z" fill="#009CE0" fill-opacity="0.5"/><polyline points="966.70,458.30 971.04,458.30 975.39,458.30 979.73,458.30 984.08,458.30 988.42,440.49 992.76,438.11 997.11,435.50 1001.45,438.59 1005.80,435.50 1010.14,433.60 1014.48,428.38 1018.83,430.75 1023.17,430.51 1027.52,428.38 1031.86,428.38 1036.20,428.38 1040.55,426.00 1044.89,421.73 1049.24,421.73 1053.58,421.73 1057.92,421.73 1062.27,421.73 1066.61,402.25 1070.96,417.21 1075.30,416.74 1079.64,414.12 1083.99,421.73 1088.33,419.35 1092.68,419.35 1097.02,419.35 1101.36,419.35 1105.71,421.73 1110.05,421.73 1114.40,421.73 1118.74,421.73 1123.08,421.73 1127.43,421.73 1131.77,423.39 1136.12,423.39 1140.46,423.39 1144.80,423.39 1149.15,404.62 1153.49,416.02 1157.84,421.73 1162.18,421.73 1166.52,421.73 1170.87,421.73 1175.21,421.73 1179.56,421.73 1183.90,421.73 1188.24,421.73 1192.59,421.73 1196.93,421.73 1201.28,421.73 1205.62,421.73 1209.96,421.73 1214.31,421.73 1218.65,420.30 1223.00,420.30 1227.34,419.35 1231.68,418.88 1236.03,418.88 1240.37,418.88 1244.72,418.88 1249.06,418.88 1253.40,418.88 1257.75,418.88 1262.09,418.88 1266.44,418.88 1270.78,418.88 1275.12,418.88 1279.47,418.88 1283.81,421.01 1288.16,421.01 1292.50,421.01 1296.84,421.01 1301.19,421.01 1305.53,421.01 1309.88,421.01 1314.22,421.01" fill="none" stroke="#009CE0" stroke-width="1" stroke-linejoin="round"/><g fill="#fff" stroke="#009CE0" stroke-width="1.0"><circle cx="966.70" cy="458.30" r="1.15"/><circle cx="971.04" cy="458.30" r="1.15"/><circle cx="975.39" cy="458.30" r="1.15"/><circle cx="979.73" cy="458.30" r="1.15"/><circle cx="984.08" cy="458.30" r="1.15"/><circle cx="988.42" cy="440.49" r="1.15"/><circle cx="992.76" cy="438.11" r="1.15"/><circle cx="997.11" cy="435.50" r="1.15"/><circle cx="1001.45" cy="438.59" r="1.15"/><circle cx="1005.80" cy="435.50" r="1.15"/><circle cx="1010.14" cy="433.60" r="1.15"/><circle cx="1014.48" cy="428.38" r="1.15"/><circle cx="1018.83" cy="430.75" r="1.15"/><circle cx="1023.17" cy="430.51" r="1.15"/><circle cx="1027.52" cy="428.38" r="1.15"/><circle cx="1031.86" cy="428.38" r="1.15"/><circle cx="1036.20" cy="428.38" r="1.15"/><circle cx="1040.55" cy="426.00" r="1.15"/><circle cx="1044.89" cy="421.73" r="1.15"/><circle cx="1049.24" cy="421.73" r="1.15"/><circle cx="1053.58" cy="421.73" r="1.15"/><circle cx="1057.92" cy="421.73" r="1.15"/><circle cx="1062.27" cy="421.73" r="1.15"/><circle cx="1066.61" cy="402.25" r="1.15"/><circle cx="1070.96" cy="417.21" r="1.15"/><circle cx="1075.30" cy="416.74" r="1.15"/><circle cx="1079.64" cy="414.12" r="1.15"/><circle cx="1083.99" cy="421.73" r="1.15"/><circle cx="1088.33" cy="419.35" r="1.15"/><circle cx="1092.68" cy="419.35" r="1.15"/><circle cx="1097.02" cy="419.35" r="1.15"/><circle cx="1101.36" cy="419.35" r="1.15"/><circle cx="1105.71" cy="421.73" r="1.15"/><circle cx="1110.05" cy="421.73" r="1.15"/><circle cx="1114.40" cy="421.73" r="1.15"/><circle cx="1118.74" cy="421.73" r="1.15"/><circle cx="1123.08" cy="421.73" r="1.15"/><circle cx="1127.43" cy="421.73" r="1.15"/><circle cx="1131.77" cy="423.39" r="1.15"/><circle cx="1136.12" cy="423.39" r="1.15"/><circle cx="1140.46" cy="423.39" r="1.15"/><circle cx="1144.80" cy="423.39" r="1.15"/><circle cx="1149.15" cy="404.62" r="1.15"/><circle cx="1153.49" cy="416.02" r="1.15"/><circle cx="1157.84" cy="421.73" r="1.15"/><circle cx="1162.18" cy="421.73" r="1.15"/><circle cx="1166.52" cy="421.73" r="1.15"/><circle cx="1170.87" cy="421.73" r="1.15"/><circle cx="1175.21" cy="421.73" r="1.15"/><circle cx="1179.56" cy="421.73" r="1.15"/><circle cx="1183.90" cy="421.73" r="1.15"/><circle cx="1188.24" cy="421.73" r="1.15"/><circle cx="1192.59" cy="421.73" r="1.15"/><circle cx="1196.93" cy="421.73" r="1.15"/><circle cx="1201.28" cy="421.73" r="1.15"/><circle cx="1205.62" cy="421.73" r="1.15"/><circle cx="1209.96" cy="421.73" r="1.15"/><circle cx="1214.31" cy="421.73" r="1.15"/><circle cx="1218.65" cy="420.30" r="1.15"/><circle cx="1223.00" cy="420.30" r="1.15"/><circle cx="1227.34" cy="419.35" r="1.15"/><circle cx="1231.68" cy="418.88" r="1.15"/><circle cx="1236.03" cy="418.88" r="1.15"/><circle cx="1240.37" cy="418.88" r="1.15"/><circle cx="1244.72" cy="418.88" r="1.15"/><circle cx="1249.06" cy="418.88" r="1.15"/><circle cx="1253.40" cy="418.88" r="1.15"/><circle cx="1257.75" cy="418.88" r="1.15"/><circle cx="1262.09" cy="418.88" r="1.15"/><circle cx="1266.44" cy="418.88" r="1.15"/><circle cx="1270.78" cy="418.88" r="1.15"/><circle cx="1275.12" cy="418.88" r="1.15"/><circle cx="1279.47" cy="418.88" r="1.15"/><circle cx="1283.81" cy="421.01" r="1.15"/><circle cx="1288.16" cy="421.01" r="1.15"/><circle cx="1292.50" cy="421.01" r="1.15"/><circle cx="1296.84" cy="421.01" r="1.15"/><circle cx="1301.19" cy="421.01" r="1.15"/><circle cx="1305.53" cy="421.01" r="1.15"/><circle cx="1309.88" cy="421.01" r="1.15"/><circle cx="1314.22" cy="421.01" r="1.15"/></g><path d="M966.70,429.80 L971.04,429.80 L975.39,429.80 L979.73,429.80 L984.08,429.80 L988.42,412.23 L992.76,411.04 L997.11,409.14 L1001.45,409.38 L1005.80,407.00 L1010.14,404.39 L1014.48,399.88 L1018.83,402.01 L1023.17,402.01 L1027.52,399.64 L1031.86,399.88 L1036.20,399.88 L1040.55,397.02 L1044.89,393.46 L1049.24,393.46 L1053.58,393.46 L1057.92,393.46 L1062.27,393.46 L1066.61,376.12 L1070.96,392.99 L1075.30,392.27 L1079.64,390.61 L1083.99,392.99 L1088.33,390.61 L1092.68,390.61 L1097.02,390.61 L1101.36,390.61 L1105.71,390.61 L1110.05,390.61 L1114.40,390.61 L1118.74,390.61 L1123.08,390.61 L1127.43,390.61 L1131.77,392.27 L1136.12,393.46 L1140.46,393.46 L1144.80,393.46 L1149.15,373.99 L1153.49,388.24 L1157.84,392.99 L1162.18,392.99 L1166.52,392.99 L1170.87,392.99 L1175.21,392.99 L1179.56,392.99 L1183.90,392.99 L1188.24,392.99 L1192.59,392.99 L1196.93,392.99 L1201.28,392.99 L1205.62,392.99 L1209.96,392.99 L1214.31,392.99 L1218.65,390.61 L1223.00,390.61 L1227.34,388.95 L1231.68,388.24 L1236.03,388.24 L1240.37,388.24 L1244.72,388.24 L1249.06,388.24 L1253.40,388.24 L1257.75,388.24 L1262.09,388.24 L1266.44,388.24 L1270.78,388.24 L1275.12,388.24 L1279.47,388.24 L1283.81,388.24 L1288.16,388.24 L1292.50,388.24 L1296.84,388.24 L1301.19,388.24 L1305.53,388.24 L1309.88,388.24 L1314.22,388.24 L1314.22,421.01 L1309.88,421.01 L1305.53,421.01 L1301.19,421.01 L1296.84,421.01 L1292.50,421.01 L1288.16,421.01 L1283.81,421.01 L1279.47,418.88 L1275.12,418.88 L1270.78,418.88 L1266.44,418.88 L1262.09,418.88 L1257.75,418.88 L1253.40,418.88 L1249.06,418.88 L1244.72,418.88 L1240.37,418.88 L1236.03,418.88 L1231.68,418.88 L1227.34,419.35 L1223.00,420.30 L1218.65,420.30 L1214.31,421.73 L1209.96,421.73 L1205.62,421.73 L1201.28,421.73 L1196.93,421.73 L1192.59,421.73 L1188.24,421.73 L1183.90,421.73 L1179.56,421.73 L1175.21,421.73 L1170.87,421.73 L1166.52,421.73 L1162.18,421.73 L1157.84,421.73 L1153.49,416.02 L1149.15,404.62 L1144.80,423.39 L1140.46,423.39 L1136.12,423.39 L1131.77,423.39 L1127.43,421.73 L1123.08,421.73 L1118.74,421.73 L1114.40,421.73 L1110.05,421.73 L1105.71,421.73 L1101.36,419.35 L1097.02,419.35 L1092.68,419.35 L1088.33,419.35 L1083.99,421.73 L1079.64,414.12 L1075.30,416.74 L1070.96,417.21 L1066.61,402.25 L1062.27,421.73 L1057.92,421.73 L1053.58,421.73 L1049.24,421.73 L1044.89,421.73 L1040.55,426.00 L1036.20,428.38 L1031.86,428.38 L1027.52,428.38 L1023.17,430.51 L1018.83,430.75 L1014.48,428.38 L1010.14,433.60 L1005.80,435.50 L1001.45,438.59 L997.11,435.50 L992.76,438.11 L988.42,440.49 L984.08,458.30 L979.73,458.30 L975.39,458.30 L971.04,458.30 L966.70,458.30Z" fill="#68BC00" fill-opacity="0.5"/><polyline points="966.70,429.80 971.04,429.80 975.39,429.80 979.73,429.80 984.08,429.80 988.42,412.23 992.76,411.04 997.11,409.14 1001.45,409.38 1005.80,407.00 1010.14,404.39 1014.48,399.88 1018.83,402.01 1023.17,402.01 1027.52,399.64 1031.86,399.88 1036.20,399.88 1040.55,397.02 1044.89,393.46 1049.24,393.46 1053.58,393.46 1057.92,393.46 1062.27,393.46 1066.61,376.12 1070.96,392.99 1075.30,392.27 1079.64,390.61 1083.99,392.99 1088.33,390.61 1092.68,390.61 1097.02,390.61 1101.36,390.61 1105.71,390.61 1110.05,390.61 1114.40,390.61 1118.74,390.61 1123.08,390.61 1127.43,390.61 1131.77,392.27 1136.12,393.46 1140.46,393.46 1144.80,393.46 1149.15,373.99 1153.49,388.24 1157.84,392.99 1162.18,392.99 1166.52,392.99 1170.87,392.99 1175.21,392.99 1179.56,392.99 1183.90,392.99 1188.24,392.99 1192.59,392.99 1196.93,392.99 1201.28,392.99 1205.62,392.99 1209.96,392.99 1214.31,392.99 1218.65,390.61 1223.00,390.61 1227.34,388.95 1231.68,388.24 1236.03,388.24 1240.37,388.24 1244.72,388.24 1249.06,388.24 1253.40,388.24 1257.75,388.24 1262.09,388.24 1266.44,388.24 1270.78,388.24 1275.12,388.24 1279.47,388.24 1283.81,388.24 1288.16,388.24 1292.50,388.24 1296.84,388.24 1301.19,388.24 1305.53,388.24 1309.88,388.24 1314.22,388.24" fill="none" stroke="#68BC00" stroke-width="1" stroke-linejoin="round"/><g fill="#fff" stroke="#68BC00" stroke-width="1.0"><circle cx="966.70" cy="429.80" r="1.15"/><circle cx="971.04" cy="429.80" r="1.15"/><circle cx="975.39" cy="429.80" r="1.15"/><circle cx="979.73" cy="429.80" r="1.15"/><circle cx="984.08" cy="429.80" r="1.15"/><circle cx="988.42" cy="412.23" r="1.15"/><circle cx="992.76" cy="411.04" r="1.15"/><circle cx="997.11" cy="409.14" r="1.15"/><circle cx="1001.45" cy="409.38" r="1.15"/><circle cx="1005.80" cy="407.00" r="1.15"/><circle cx="1010.14" cy="404.39" r="1.15"/><circle cx="1014.48" cy="399.88" r="1.15"/><circle cx="1018.83" cy="402.01" r="1.15"/><circle cx="1023.17" cy="402.01" r="1.15"/><circle cx="1027.52" cy="399.64" r="1.15"/><circle cx="1031.86" cy="399.88" r="1.15"/><circle cx="1036.20" cy="399.88" r="1.15"/><circle cx="1040.55" cy="397.02" r="1.15"/><circle cx="1044.89" cy="393.46" r="1.15"/><circle cx="1049.24" cy="393.46" r="1.15"/><circle cx="1053.58" cy="393.46" r="1.15"/><circle cx="1057.92" cy="393.46" r="1.15"/><circle cx="1062.27" cy="393.46" r="1.15"/><circle cx="1066.61" cy="376.12" r="1.15"/><circle cx="1070.96" cy="392.99" r="1.15"/><circle cx="1075.30" cy="392.27" r="1.15"/><circle cx="1079.64" cy="390.61" r="1.15"/><circle cx="1083.99" cy="392.99" r="1.15"/><circle cx="1088.33" cy="390.61" r="1.15"/><circle cx="1092.68" cy="390.61" r="1.15"/><circle cx="1097.02" cy="390.61" r="1.15"/><circle cx="1101.36" cy="390.61" r="1.15"/><circle cx="1105.71" cy="390.61" r="1.15"/><circle cx="1110.05" cy="390.61" r="1.15"/><circle cx="1114.40" cy="390.61" r="1.15"/><circle cx="1118.74" cy="390.61" r="1.15"/><circle cx="1123.08" cy="390.61" r="1.15"/><circle cx="1127.43" cy="390.61" r="1.15"/><circle cx="1131.77" cy="392.27" r="1.15"/><circle cx="1136.12" cy="393.46" r="1.15"/><circle cx="1140.46" cy="393.46" r="1.15"/><circle cx="1144.80" cy="393.46" r="1.15"/><circle cx="1149.15" cy="373.99" r="1.15"/><circle cx="1153.49" cy="388.24" r="1.15"/><circle cx="1157.84" cy="392.99" r="1.15"/><circle cx="1162.18" cy="392.99" r="1.15"/><circle cx="1166.52" cy="392.99" r="1.15"/><circle cx="1170.87" cy="392.99" r="1.15"/><circle cx="1175.21" cy="392.99" r="1.15"/><circle cx="1179.56" cy="392.99" r="1.15"/><circle cx="1183.90" cy="392.99" r="1.15"/><circle cx="1188.24" cy="392.99" r="1.15"/><circle cx="1192.59" cy="392.99" r="1.15"/><circle cx="1196.93" cy="392.99" r="1.15"/><circle cx="1201.28" cy="392.99" r="1.15"/><circle cx="1205.62" cy="392.99" r="1.15"/><circle cx="1209.96" cy="392.99" r="1.15"/><circle cx="1214.31" cy="392.99" r="1.15"/><circle cx="1218.65" cy="390.61" r="1.15"/><circle cx="1223.00" cy="390.61" r="1.15"/><circle cx="1227.34" cy="388.95" r="1.15"/><circle cx="1231.68" cy="388.24" r="1.15"/><circle cx="1236.03" cy="388.24" r="1.15"/><circle cx="1240.37" cy="388.24" r="1.15"/><circle cx="1244.72" cy="388.24" r="1.15"/><circle cx="1249.06" cy="388.24" r="1.15"/><circle cx="1253.40" cy="388.24" r="1.15"/><circle cx="1257.75" cy="388.24" r="1.15"/><circle cx="1262.09" cy="388.24" r="1.15"/><circle cx="1266.44" cy="388.24" r="1.15"/><circle cx="1270.78" cy="388.24" r="1.15"/><circle cx="1275.12" cy="388.24" r="1.15"/><circle cx="1279.47" cy="388.24" r="1.15"/><circle cx="1283.81" cy="388.24" r="1.15"/><circle cx="1288.16" cy="388.24" r="1.15"/><circle cx="1292.50" cy="388.24" r="1.15"/><circle cx="1296.84" cy="388.24" r="1.15"/><circle cx="1301.19" cy="388.24" r="1.15"/><circle cx="1305.53" cy="388.24" r="1.15"/><circle cx="1309.88" cy="388.24" r="1.15"/><circle cx="1314.22" cy="388.24" r="1.15"/></g><g font-family='"Liberation Sans", sans-serif' font-size="11" fill="#8A8A8A" letter-spacing="0.45"><text x="957.6" y="505.2" text-anchor="end">0</text><text x="957.6" y="481.4" text-anchor="end">10</text><text x="957.6" y="457.7" text-anchor="end">20</text><text x="957.6" y="433.9" text-anchor="end">30</text><text x="957.6" y="410.2" text-anchor="end">40</text><text x="957.6" y="386.4" text-anchor="end">50</text><text x="957.6" y="362.7" text-anchor="end">60</text></g><g font-family='"Liberation Sans", sans-serif' font-size="11" fill="#8A8A8A" letter-spacing="0.45"><text x="1036.8" y="517.2" text-anchor="middle">20:20:00</text><text x="1123.8" y="517.2" text-anchor="middle">20:30:00</text><text x="1209.8" y="517.2" text-anchor="middle">20:40:00</text><text x="1296.8" y="517.2" text-anchor="middle">20:50:00</text></g><text x="1140.2" y="534.7" text-anchor="middle" font-family='"Liberation Sans", sans-serif' font-size="12" font-weight="bold" fill="#999FAA" letter-spacing="0.15">per 30 seconds</text><path d="M1352.1,364.7 L1348.1,368.9 L1352.1,373.1" fill="none" stroke="#3F4450" stroke-width="1.2"/></g>
<g><g stroke="#E0E2E7" stroke-width="1" fill="none"><line x1="78.0" x2="448.0" y1="782.5" y2="782.5"/><line x1="78.0" x2="448.0" y1="748.5" y2="748.5"/><line x1="78.0" x2="448.0" y1="713.5" y2="713.5"/><line x1="78.0" x2="448.0" y1="680.5" y2="680.5"/><line x1="78.0" x2="448.0" y1="646.5" y2="646.5"/><line x1="78.0" x2="448.0" y1="611.5" y2="611.5"/><line x1="152.5" x2="152.5" y1="611.0" y2="783.0"/><line x1="244.5" x2="244.5" y1="611.0" y2="783.0"/><line x1="336.5" x2="336.5" y1="611.0" y2="783.0"/><line x1="428.5" x2="428.5" y1="611.0" y2="783.0"/><line x1="78.5" x2="78.5" y1="611.0" y2="783.0"/><line x1="447.5" x2="447.5" y1="611.0" y2="783.0"/></g><path d="M83.00,765.09 L87.60,759.63 L92.20,762.49 L96.80,758.81 L101.40,757.31 L106.00,761.54 L110.60,760.45 L115.20,750.63 L119.80,746.54 L124.40,734.26 L129.00,735.62 L133.60,731.80 L138.20,735.62 L142.80,743.81 L147.40,746.54 L152.00,726.35 L156.60,736.99 L161.20,728.80 L165.80,740.26 L170.40,740.67 L175.00,723.62 L179.60,721.17 L184.20,713.12 L188.80,709.44 L193.40,720.48 L198.00,695.52 L202.60,743.26 L207.20,738.08 L211.80,741.76 L216.40,743.13 L221.00,739.31 L225.60,754.72 L230.20,760.18 L234.80,751.99 L239.40,758.81 L244.00,776.27 L248.60,747.08 L253.20,696.20 L257.80,744.35 L262.40,742.44 L267.00,744.35 L271.60,720.62 L276.20,717.89 L280.80,714.35 L285.40,731.67 L290.00,737.12 L294.60,737.12 L299.20,733.58 L303.80,708.89 L308.40,738.35 L313.00,722.53 L317.60,738.35 L322.20,726.21 L326.80,725.26 L331.40,741.08 L336.00,729.90 L340.60,731.53 L345.20,691.43 L349.80,717.07 L354.40,717.89 L359.00,724.98 L363.60,758.81 L368.20,758.81 L372.80,758.81 L377.40,758.81 L382.00,758.81 L386.60,758.81 L391.20,758.81 L395.80,758.81 L400.40,758.81 L405.00,758.81 L409.60,758.81 L414.20,749.54 L418.80,764.40 L423.40,761.54 L428.00,760.18 L432.60,764.27 L437.20,766.31 L441.80,767.00 L446.40,767.26 L446.40,782.00 L441.80,782.00 L437.20,782.00 L432.60,782.00 L428.00,782.00 L423.40,782.00 L418.80,782.00 L414.20,782.00 L409.60,782.00 L405.00,782.00 L400.40,782.00 L395.80,782.00 L391.20,782.00 L386.60,782.00 L382.00,782.00 L377.40,782.00 L372.80,782.00 L368.20,782.00 L363.60,782.00 L359.00,782.00 L354.40,782.00 L349.80,782.00 L345.20,782.00 L340.60,782.00 L336.00,782.00 L331.40,782.00 L326.80,782.00 L322.20,782.00 L317.60,782.00 L313.00,782.00 L308.40,782.00 L303.80,782.00 L299.20,782.00 L294.60,782.00 L290.00,782.00 L285.40,782.00 L280.80,782.00 L276.20,782.00 L271.60,782.00 L267.00,782.00 L262.40,782.00 L257.80,782.00 L253.20,782.00 L248.60,782.00 L244.00,782.00 L239.40,782.00 L234.80,782.00 L230.20,782.00 L225.60,782.00 L221.00,782.00 L216.40,782.00 L211.80,782.00 L207.20,782.00 L202.60,782.00 L198.00,782.00 L193.40,782.00 L188.80,782.00 L184.20,782.00 L179.60,782.00 L175.00,782.00 L170.40,782.00 L165.80,782.00 L161.20,782.00 L156.60,782.00 L152.00,782.00 L147.40,782.00 L142.80,782.00 L138.20,782.00 L133.60,782.00 L129.00,782.00 L124.40,782.00 L119.80,782.00 L115.20,782.00 L110.60,782.00 L106.00,782.00 L101.40,782.00 L96.80,782.00 L92.20,782.00 L87.60,782.00 L83.00,782.00Z" fill="#E27300" fill-opacity="0.5"/><polyline points="83.00,765.09 87.60,759.63 92.20,762.49 96.80,758.81 101.40,757.31 106.00,761.54 110.60,760.45 115.20,750.63 119.80,746.54 124.40,734.26 129.00,735.62 133.60,731.80 138.20,735.62 142.80,743.81 147.40,746.54 152.00,726.35 156.60,736.99 161.20,728.80 165.80,740.26 170.40,740.67 175.00,723.62 179.60,721.17 184.20,713.12 188.80,709.44 193.40,720.48 198.00,695.52 202.60,743.26 207.20,738.08 211.80,741.76 216.40,743.13 221.00,739.31 225.60,754.72 230.20,760.18 234.80,751.99 239.40,758.81 244.00,776.27 248.60,747.08 253.20,696.20 257.80,744.35 262.40,742.44 267.00,744.35 271.60,720.62 276.20,717.89 280.80,714.35 285.40,731.67 290.00,737.12 294.60,737.12 299.20,733.58 303.80,708.89 308.40,738.35 313.00,722.53 317.60,738.35 322.20,726.21 326.80,725.26 331.40,741.08 336.00,729.90 340.60,731.53 345.20,691.43 349.80,717.07 354.40,717.89 359.00,724.98 363.60,758.81 368.20,758.81 372.80,758.81 377.40,758.81 382.00,758.81 386.60,758.81 391.20,758.81 395.80,758.81 400.40,758.81 405.00,758.81 409.60,758.81 414.20,749.54 418.80,764.40 423.40,761.54 428.00,760.18 432.60,764.27 437.20,766.31 441.80,767.00 446.40,767.26" fill="none" stroke="#E27300" stroke-width="1" stroke-linejoin="round"/><g fill="#fff" stroke="#E27300" stroke-width="1.0"><circle cx="83.00" cy="765.09" r="1.15"/><circle cx="87.60" cy="759.63" r="1.15"/><circle cx="92.20" cy="762.49" r="1.15"/><circle cx="96.80" cy="758.81" r="1.15"/><circle cx="101.40" cy="757.31" r="1.15"/><circle cx="106.00" cy="761.54" r="1.15"/><circle cx="110.60" cy="760.45" r="1.15"/><circle cx="115.20" cy="750.63" r="1.15"/><circle cx="119.80" cy="746.54" r="1.15"/><circle cx="124.40" cy="734.26" r="1.15"/><circle cx="129.00" cy="735.62" r="1.15"/><circle cx="133.60" cy="731.80" r="1.15"/><circle cx="138.20" cy="735.62" r="1.15"/><circle cx="142.80" cy="743.81" r="1.15"/><circle cx="147.40" cy="746.54" r="1.15"/><circle cx="152.00" cy="726.35" r="1.15"/><circle cx="156.60" cy="736.99" r="1.15"/><circle cx="161.20" cy="728.80" r="1.15"/><circle cx="165.80" cy="740.26" r="1.15"/><circle cx="170.40" cy="740.67" r="1.15"/><circle cx="175.00" cy="723.62" r="1.15"/><circle cx="179.60" cy="721.17" r="1.15"/><circle cx="184.20" cy="713.12" r="1.15"/><circle cx="188.80" cy="709.44" r="1.15"/><circle cx="193.40" cy="720.48" r="1.15"/><circle cx="198.00" cy="695.52" r="1.15"/><circle cx="202.60" cy="743.26" r="1.15"/><circle cx="207.20" cy="738.08" r="1.15"/><circle cx="211.80" cy="741.76" r="1.15"/><circle cx="216.40" cy="743.13" r="1.15"/><circle cx="221.00" cy="739.31" r="1.15"/><circle cx="225.60" cy="754.72" r="1.15"/><circle cx="230.20" cy="760.18" r="1.15"/><circle cx="234.80" cy="751.99" r="1.15"/><circle cx="239.40" cy="758.81" r="1.15"/><circle cx="244.00" cy="776.27" r="1.15"/><circle cx="248.60" cy="747.08" r="1.15"/><circle cx="253.20" cy="696.20" r="1.15"/><circle cx="257.80" cy="744.35" r="1.15"/><circle cx="262.40" cy="742.44" r="1.15"/><circle cx="267.00" cy="744.35" r="1.15"/><circle cx="271.60" cy="720.62" r="1.15"/><circle cx="276.20" cy="717.89" r="1.15"/><circle cx="280.80" cy="714.35" r="1.15"/><circle cx="285.40" cy="731.67" r="1.15"/><circle cx="290.00" cy="737.12" r="1.15"/><circle cx="294.60" cy="737.12" r="1.15"/><circle cx="299.20" cy="733.58" r="1.15"/><circle cx="303.80" cy="708.89" r="1.15"/><circle cx="308.40" cy="738.35" r="1.15"/><circle cx="313.00" cy="722.53" r="1.15"/><circle cx="317.60" cy="738.35" r="1.15"/><circle cx="322.20" cy="726.21" r="1.15"/><circle cx="326.80" cy="725.26" r="1.15"/><circle cx="331.40" cy="741.08" r="1.15"/><circle cx="336.00" cy="729.90" r="1.15"/><circle cx="340.60" cy="731.53" r="1.15"/><circle cx="345.20" cy="691.43" r="1.15"/><circle cx="349.80" cy="717.07" r="1.15"/><circle cx="354.40" cy="717.89" r="1.15"/><circle cx="359.00" cy="724.98" r="1.15"/><circle cx="363.60" cy="758.81" r="1.15"/><circle cx="368.20" cy="758.81" r="1.15"/><circle cx="372.80" cy="758.81" r="1.15"/><circle cx="377.40" cy="758.81" r="1.15"/><circle cx="382.00" cy="758.81" r="1.15"/><circle cx="386.60" cy="758.81" r="1.15"/><circle cx="391.20" cy="758.81" r="1.15"/><circle cx="395.80" cy="758.81" r="1.15"/><circle cx="400.40" cy="758.81" r="1.15"/><circle cx="405.00" cy="758.81" r="1.15"/><circle cx="409.60" cy="758.81" r="1.15"/><circle cx="414.20" cy="749.54" r="1.15"/><circle cx="418.80" cy="764.40" r="1.15"/><circle cx="423.40" cy="761.54" r="1.15"/><circle cx="428.00" cy="760.18" r="1.15"/><circle cx="432.60" cy="764.27" r="1.15"/><circle cx="437.20" cy="766.31" r="1.15"/><circle cx="441.80" cy="767.00" r="1.15"/><circle cx="446.40" cy="767.26" r="1.15"/></g><path d="M83.00,762.09 L87.60,765.09 L92.20,767.95 L96.80,764.27 L101.40,762.77 L106.00,767.00 L110.60,765.90 L115.20,756.08 L119.80,757.58 L124.40,735.49 L129.00,740.13 L133.60,739.17 L138.20,740.13 L142.80,746.40 L147.40,749.26 L152.00,734.26 L156.60,740.13 L161.20,733.85 L165.80,742.03 L170.40,742.44 L175.00,731.40 L179.60,736.44 L184.20,712.71 L188.80,727.44 L193.40,736.17 L198.00,700.71 L202.60,732.08 L207.20,728.39 L211.80,734.40 L216.40,736.58 L221.00,727.03 L225.60,753.36 L230.20,758.81 L234.80,750.63 L239.40,757.45 L244.00,774.91 L248.60,745.72 L253.20,694.84 L257.80,742.99 L262.40,741.08 L267.00,742.99 L271.60,719.26 L276.20,700.16 L280.80,640.28 L285.40,707.53 L290.00,712.98 L294.60,719.26 L299.20,732.21 L303.80,707.53 L308.40,736.99 L313.00,721.17 L317.60,710.25 L322.20,724.85 L326.80,723.89 L331.40,739.72 L336.00,728.53 L340.60,730.17 L345.20,716.53 L349.80,715.71 L354.40,716.53 L359.00,723.62 L363.60,756.08 L368.20,753.36 L372.80,754.72 L377.40,756.08 L382.00,753.36 L386.60,754.72 L391.20,756.08 L395.80,753.36 L400.40,754.72 L405.00,756.08 L409.60,753.36 L414.20,741.08 L418.80,744.22 L423.40,738.76 L428.00,736.85 L432.60,746.67 L437.20,741.08 L441.80,747.90 L446.40,753.07 L446.40,782.00 L441.80,782.00 L437.20,782.00 L432.60,782.00 L428.00,782.00 L423.40,782.00 L418.80,782.00 L414.20,782.00 L409.60,782.00 L405.00,782.00 L400.40,782.00 L395.80,782.00 L391.20,782.00 L386.60,782.00 L382.00,782.00 L377.40,782.00 L372.80,782.00 L368.20,782.00 L363.60,782.00 L359.00,782.00 L354.40,782.00 L349.80,782.00 L345.20,782.00 L340.60,782.00 L336.00,782.00 L331.40,782.00 L326.80,782.00 L322.20,782.00 L317.60,782.00 L313.00,782.00 L308.40,782.00 L303.80,782.00 L299.20,782.00 L294.60,782.00 L290.00,782.00 L285.40,782.00 L280.80,782.00 L276.20,782.00 L271.60,782.00 L267.00,782.00 L262.40,782.00 L257.80,782.00 L253.20,782.00 L248.60,782.00 L244.00,782.00 L239.40,782.00 L234.80,782.00 L230.20,782.00 L225.60,782.00 L221.00,782.00 L216.40,782.00 L211.80,782.00 L207.20,782.00 L202.60,782.00 L198.00,782.00 L193.40,782.00 L188.80,782.00 L184.20,782.00 L179.60,782.00 L175.00,782.00 L170.40,782.00 L165.80,782.00 L161.20,782.00 L156.60,782.00 L152.00,782.00 L147.40,782.00 L142.80,782.00 L138.20,782.00 L133.60,782.00 L129.00,782.00 L124.40,782.00 L119.80,782.00 L115.20,782.00 L110.60,782.00 L106.00,782.00 L101.40,782.00 L96.80,782.00 L92.20,782.00 L87.60,782.00 L83.00,782.00Z" fill="#D33115" fill-opacity="0.5"/><polyline points="83.00,762.09 87.60,765.09 92.20,767.95 96.80,764.27 101.40,762.77 106.00,767.00 110.60,765.90 115.20,756.08 119.80,757.58 124.40,735.49 129.00,740.13 133.60,739.17 138.20,740.13 142.80,746.40 147.40,749.26 152.00,734.26 156.60,740.13 161.20,733.85 165.80,742.03 170.40,742.44 175.00,731.40 179.60,736.44 184.20,712.71 188.80,727.44 193.40,736.17 198.00,700.71 202.60,732.08 207.20,728.39 211.80,734.40 216.40,736.58 221.00,727.03 225.60,753.36 230.20,758.81 234.80,750.63 239.40,757.45 244.00,774.91 248.60,745.72 253.20,694.84 257.80,742.99 262.40,741.08 267.00,742.99 271.60,719.26 276.20,700.16 280.80,640.28 285.40,707.53 290.00,712.98 294.60,719.26 299.20,732.21 303.80,707.53 308.40,736.99 313.00,721.17 317.60,710.25 322.20,724.85 326.80,723.89 331.40,739.72 336.00,728.53 340.60,730.17 345.20,716.53 349.80,715.71 354.40,716.53 359.00,723.62 363.60,756.08 368.20,753.36 372.80,754.72 377.40,756.08 382.00,753.36 386.60,754.72 391.20,756.08 395.80,753.36 400.40,754.72 405.00,756.08 409.60,753.36 414.20,741.08 418.80,744.22 423.40,738.76 428.00,736.85 432.60,746.67 437.20,741.08 441.80,747.90 446.40,753.07" fill="none" stroke="#D33115" stroke-width="1" stroke-linejoin="round"/><g fill="#fff" stroke="#D33115" stroke-width="1.0"><circle cx="83.00" cy="762.09" r="1.15"/><circle cx="87.60" cy="765.09" r="1.15"/><circle cx="92.20" cy="767.95" r="1.15"/><circle cx="96.80" cy="764.27" r="1.15"/><circle cx="101.40" cy="762.77" r="1.15"/><circle cx="106.00" cy="767.00" r="1.15"/><circle cx="110.60" cy="765.90" r="1.15"/><circle cx="115.20" cy="756.08" r="1.15"/><circle cx="119.80" cy="757.58" r="1.15"/><circle cx="124.40" cy="735.49" r="1.15"/><circle cx="129.00" cy="740.13" r="1.15"/><circle cx="133.60" cy="739.17" r="1.15"/><circle cx="138.20" cy="740.13" r="1.15"/><circle cx="142.80" cy="746.40" r="1.15"/><circle cx="147.40" cy="749.26" r="1.15"/><circle cx="152.00" cy="734.26" r="1.15"/><circle cx="156.60" cy="740.13" r="1.15"/><circle cx="161.20" cy="733.85" r="1.15"/><circle cx="165.80" cy="742.03" r="1.15"/><circle cx="170.40" cy="742.44" r="1.15"/><circle cx="175.00" cy="731.40" r="1.15"/><circle cx="179.60" cy="736.44" r="1.15"/><circle cx="184.20" cy="712.71" r="1.15"/><circle cx="188.80" cy="727.44" r="1.15"/><circle cx="193.40" cy="736.17" r="1.15"/><circle cx="198.00" cy="700.71" r="1.15"/><circle cx="202.60" cy="732.08" r="1.15"/><circle cx="207.20" cy="728.39" r="1.15"/><circle cx="211.80" cy="734.40" r="1.15"/><circle cx="216.40" cy="736.58" r="1.15"/><circle cx="221.00" cy="727.03" r="1.15"/><circle cx="225.60" cy="753.36" r="1.15"/><circle cx="230.20" cy="758.81" r="1.15"/><circle cx="234.80" cy="750.63" r="1.15"/><circle cx="239.40" cy="757.45" r="1.15"/><circle cx="244.00" cy="774.91" r="1.15"/><circle cx="248.60" cy="745.72" r="1.15"/><circle cx="253.20" cy="694.84" r="1.15"/><circle cx="257.80" cy="742.99" r="1.15"/><circle cx="262.40" cy="741.08" r="1.15"/><circle cx="267.00" cy="742.99" r="1.15"/><circle cx="271.60" cy="719.26" r="1.15"/><circle cx="276.20" cy="700.16" r="1.15"/><circle cx="280.80" cy="640.28" r="1.15"/><circle cx="285.40" cy="707.53" r="1.15"/><circle cx="290.00" cy="712.98" r="1.15"/><circle cx="294.60" cy="719.26" r="1.15"/><circle cx="299.20" cy="732.21" r="1.15"/><circle cx="303.80" cy="707.53" r="1.15"/><circle cx="308.40" cy="736.99" r="1.15"/><circle cx="313.00" cy="721.17" r="1.15"/><circle cx="317.60" cy="710.25" r="1.15"/><circle cx="322.20" cy="724.85" r="1.15"/><circle cx="326.80" cy="723.89" r="1.15"/><circle cx="331.40" cy="739.72" r="1.15"/><circle cx="336.00" cy="728.53" r="1.15"/><circle cx="340.60" cy="730.17" r="1.15"/><circle cx="345.20" cy="716.53" r="1.15"/><circle cx="349.80" cy="715.71" r="1.15"/><circle cx="354.40" cy="716.53" r="1.15"/><circle cx="359.00" cy="723.62" r="1.15"/><circle cx="363.60" cy="756.08" r="1.15"/><circle cx="368.20" cy="753.36" r="1.15"/><circle cx="372.80" cy="754.72" r="1.15"/><circle cx="377.40" cy="756.08" r="1.15"/><circle cx="382.00" cy="753.36" r="1.15"/><circle cx="386.60" cy="754.72" r="1.15"/><circle cx="391.20" cy="756.08" r="1.15"/><circle cx="395.80" cy="753.36" r="1.15"/><circle cx="400.40" cy="754.72" r="1.15"/><circle cx="405.00" cy="756.08" r="1.15"/><circle cx="409.60" cy="753.36" r="1.15"/><circle cx="414.20" cy="741.08" r="1.15"/><circle cx="418.80" cy="744.22" r="1.15"/><circle cx="423.40" cy="738.76" r="1.15"/><circle cx="428.00" cy="736.85" r="1.15"/><circle cx="432.60" cy="746.67" r="1.15"/><circle cx="437.20" cy="741.08" r="1.15"/><circle cx="441.80" cy="747.90" r="1.15"/><circle cx="446.40" cy="753.07" r="1.15"/></g><path d="M83.00,762.90 L87.60,767.81 L92.20,770.68 L96.80,767.00 L101.40,765.50 L106.00,743.81 L110.60,768.63 L115.20,741.08 L119.80,760.31 L124.40,738.22 L129.00,742.85 L133.60,741.90 L138.20,742.85 L142.80,749.13 L147.40,751.99 L152.00,736.99 L156.60,742.85 L161.20,736.58 L165.80,744.76 L170.40,745.17 L175.00,734.12 L179.60,739.17 L184.20,715.44 L188.80,730.17 L193.40,738.90 L198.00,713.53 L202.60,748.72 L207.20,743.54 L211.80,747.22 L216.40,748.58 L221.00,744.76 L225.60,754.72 L230.20,760.18 L234.80,751.99 L239.40,758.81 L244.00,767.68 L248.60,737.94 L253.20,696.20 L257.80,755.67 L262.40,754.72 L267.00,744.35 L271.60,720.62 L276.20,717.89 L280.80,714.35 L285.40,731.67 L290.00,737.12 L294.60,737.12 L299.20,733.58 L303.80,713.94 L308.40,738.35 L313.00,722.53 L317.60,738.35 L322.20,726.21 L326.80,725.26 L331.40,741.08 L336.00,729.90 L340.60,726.08 L345.20,727.44 L349.80,704.66 L354.40,717.89 L359.00,714.48 L363.60,756.08 L368.20,754.72 L372.80,756.08 L377.40,754.72 L382.00,756.08 L386.60,754.72 L391.20,756.08 L395.80,754.72 L400.40,756.08 L405.00,754.72 L409.60,756.08 L414.20,748.31 L418.80,764.40 L423.40,761.54 L428.00,760.18 L432.60,764.27 L437.20,766.31 L441.80,767.00 L446.40,759.96 L446.40,782.00 L441.80,782.00 L437.20,782.00 L432.60,782.00 L428.00,782.00 L423.40,782.00 L418.80,782.00 L414.20,782.00 L409.60,782.00 L405.00,782.00 L400.40,782.00 L395.80,782.00 L391.20,782.00 L386.60,782.00 L382.00,782.00 L377.40,782.00 L372.80,782.00 L368.20,782.00 L363.60,782.00 L359.00,782.00 L354.40,782.00 L349.80,782.00 L345.20,782.00 L340.60,782.00 L336.00,782.00 L331.40,782.00 L326.80,782.00 L322.20,782.00 L317.60,782.00 L313.00,782.00 L308.40,782.00 L303.80,782.00 L299.20,782.00 L294.60,782.00 L290.00,782.00 L285.40,782.00 L280.80,782.00 L276.20,782.00 L271.60,782.00 L267.00,782.00 L262.40,782.00 L257.80,782.00 L253.20,782.00 L248.60,782.00 L244.00,782.00 L239.40,782.00 L234.80,782.00 L230.20,782.00 L225.60,782.00 L221.00,782.00 L216.40,782.00 L211.80,782.00 L207.20,782.00 L202.60,782.00 L198.00,782.00 L193.40,782.00 L188.80,782.00 L184.20,782.00 L179.60,782.00 L175.00,782.00 L170.40,782.00 L165.80,782.00 L161.20,782.00 L156.60,782.00 L152.00,782.00 L147.40,782.00 L142.80,782.00 L138.20,782.00 L133.60,782.00 L129.00,782.00 L124.40,782.00 L119.80,782.00 L115.20,782.00 L110.60,782.00 L106.00,782.00 L101.40,782.00 L96.80,782.00 L92.20,782.00 L87.60,782.00 L83.00,782.00Z" fill="#16A5A5" fill-opacity="0.5"/><polyline points="83.00,762.90 87.60,767.81 92.20,770.68 96.80,767.00 101.40,765.50 106.00,743.81 110.60,768.63 115.20,741.08 119.80,760.31 124.40,738.22 129.00,742.85 133.60,741.90 138.20,742.85 142.80,749.13 147.40,751.99 152.00,736.99 156.60,742.85 161.20,736.58 165.80,744.76 170.40,745.17 175.00,734.12 179.60,739.17 184.20,715.44 188.80,730.17 193.40,738.90 198.00,713.53 202.60,748.72 207.20,743.54 211.80,747.22 216.40,748.58 221.00,744.76 225.60,754.72 230.20,760.18 234.80,751.99 239.40,758.81 244.00,767.68 248.60,737.94 253.20,696.20 257.80,755.67 262.40,754.72 267.00,744.35 271.60,720.62 276.20,717.89 280.80,714.35 285.40,731.67 290.00,737.12 294.60,737.12 299.20,733.58 303.80,713.94 308.40,738.35 313.00,722.53 317.60,738.35 322.20,726.21 326.80,725.26 331.40,741.08 336.00,729.90 340.60,726.08 345.20,727.44 349.80,704.66 354.40,717.89 359.00,714.48 363.60,756.08 368.20,754.72 372.80,756.08 377.40,754.72 382.00,756.08 386.60,754.72 391.20,756.08 395.80,754.72 400.40,756.08 405.00,754.72 409.60,756.08 414.20,748.31 418.80,764.40 423.40,761.54 428.00,760.18 432.60,764.27 437.20,766.31 441.80,767.00 446.40,759.96" fill="none" stroke="#16A5A5" stroke-width="1" stroke-linejoin="round"/><g fill="#fff" stroke="#16A5A5" stroke-width="1.0"><circle cx="83.00" cy="762.90" r="1.15"/><circle cx="87.60" cy="767.81" r="1.15"/><circle cx="92.20" cy="770.68" r="1.15"/><circle cx="96.80" cy="767.00" r="1.15"/><circle cx="101.40" cy="765.50" r="1.15"/><circle cx="106.00" cy="743.81" r="1.15"/><circle cx="110.60" cy="768.63" r="1.15"/><circle cx="115.20" cy="741.08" r="1.15"/><circle cx="119.80" cy="760.31" r="1.15"/><circle cx="124.40" cy="738.22" r="1.15"/><circle cx="129.00" cy="742.85" r="1.15"/><circle cx="133.60" cy="741.90" r="1.15"/><circle cx="138.20" cy="742.85" r="1.15"/><circle cx="142.80" cy="749.13" r="1.15"/><circle cx="147.40" cy="751.99" r="1.15"/><circle cx="152.00" cy="736.99" r="1.15"/><circle cx="156.60" cy="742.85" r="1.15"/><circle cx="161.20" cy="736.58" r="1.15"/><circle cx="165.80" cy="744.76" r="1.15"/><circle cx="170.40" cy="745.17" r="1.15"/><circle cx="175.00" cy="734.12" r="1.15"/><circle cx="179.60" cy="739.17" r="1.15"/><circle cx="184.20" cy="715.44" r="1.15"/><circle cx="188.80" cy="730.17" r="1.15"/><circle cx="193.40" cy="738.90" r="1.15"/><circle cx="198.00" cy="713.53" r="1.15"/><circle cx="202.60" cy="748.72" r="1.15"/><circle cx="207.20" cy="743.54" r="1.15"/><circle cx="211.80" cy="747.22" r="1.15"/><circle cx="216.40" cy="748.58" r="1.15"/><circle cx="221.00" cy="744.76" r="1.15"/><circle cx="225.60" cy="754.72" r="1.15"/><circle cx="230.20" cy="760.18" r="1.15"/><circle cx="234.80" cy="751.99" r="1.15"/><circle cx="239.40" cy="758.81" r="1.15"/><circle cx="244.00" cy="767.68" r="1.15"/><circle cx="248.60" cy="737.94" r="1.15"/><circle cx="253.20" cy="696.20" r="1.15"/><circle cx="257.80" cy="755.67" r="1.15"/><circle cx="262.40" cy="754.72" r="1.15"/><circle cx="267.00" cy="744.35" r="1.15"/><circle cx="271.60" cy="720.62" r="1.15"/><circle cx="276.20" cy="717.89" r="1.15"/><circle cx="280.80" cy="714.35" r="1.15"/><circle cx="285.40" cy="731.67" r="1.15"/><circle cx="290.00" cy="737.12" r="1.15"/><circle cx="294.60" cy="737.12" r="1.15"/><circle cx="299.20" cy="733.58" r="1.15"/><circle cx="303.80" cy="713.94" r="1.15"/><circle cx="308.40" cy="738.35" r="1.15"/><circle cx="313.00" cy="722.53" r="1.15"/><circle cx="317.60" cy="738.35" r="1.15"/><circle cx="322.20" cy="726.21" r="1.15"/><circle cx="326.80" cy="725.26" r="1.15"/><circle cx="331.40" cy="741.08" r="1.15"/><circle cx="336.00" cy="729.90" r="1.15"/><circle cx="340.60" cy="726.08" r="1.15"/><circle cx="345.20" cy="727.44" r="1.15"/><circle cx="349.80" cy="704.66" r="1.15"/><circle cx="354.40" cy="717.89" r="1.15"/><circle cx="359.00" cy="714.48" r="1.15"/><circle cx="363.60" cy="756.08" r="1.15"/><circle cx="368.20" cy="754.72" r="1.15"/><circle cx="372.80" cy="756.08" r="1.15"/><circle cx="377.40" cy="754.72" r="1.15"/><circle cx="382.00" cy="756.08" r="1.15"/><circle cx="386.60" cy="754.72" r="1.15"/><circle cx="391.20" cy="756.08" r="1.15"/><circle cx="395.80" cy="754.72" r="1.15"/><circle cx="400.40" cy="756.08" r="1.15"/><circle cx="405.00" cy="754.72" r="1.15"/><circle cx="409.60" cy="756.08" r="1.15"/><circle cx="414.20" cy="748.31" r="1.15"/><circle cx="418.80" cy="764.40" r="1.15"/><circle cx="423.40" cy="761.54" r="1.15"/><circle cx="428.00" cy="760.18" r="1.15"/><circle cx="432.60" cy="764.27" r="1.15"/><circle cx="437.20" cy="766.31" r="1.15"/><circle cx="441.80" cy="767.00" r="1.15"/><circle cx="446.40" cy="759.96" r="1.15"/></g><path d="M83.00,763.45 L87.60,766.45 L92.20,769.31 L96.80,765.63 L101.40,764.13 L106.00,768.36 L110.60,767.27 L115.20,757.45 L119.80,731.80 L124.40,736.85 L129.00,741.49 L133.60,740.53 L138.20,741.49 L142.80,747.76 L147.40,750.63 L152.00,735.62 L156.60,741.49 L161.20,735.21 L165.80,743.40 L170.40,743.81 L175.00,726.08 L179.60,737.81 L184.20,714.07 L188.80,718.71 L193.40,737.53 L198.00,712.16 L202.60,734.12 L207.20,730.44 L211.80,736.44 L216.40,738.62 L221.00,729.08 L225.60,749.26 L230.20,757.45 L234.80,749.26 L239.40,753.36 L244.00,773.54 L248.60,727.44 L253.20,673.02 L257.80,732.90 L262.40,732.90 L267.00,735.62 L271.60,711.07 L276.20,682.97 L280.80,683.79 L285.40,709.71 L290.00,734.40 L294.60,734.40 L299.20,726.08 L303.80,700.16 L308.40,720.62 L313.00,700.16 L317.60,735.62 L322.20,716.53 L326.80,717.89 L331.40,713.80 L336.00,727.17 L340.60,728.80 L345.20,693.34 L349.80,714.35 L354.40,708.34 L359.00,707.39 L363.60,727.44 L368.20,718.57 L372.80,720.48 L377.40,727.17 L382.00,725.69 L386.60,734.60 L391.20,741.67 L395.80,729.88 L400.40,740.49 L405.00,736.43 L409.60,704.48 L414.20,733.17 L418.80,724.58 L423.40,713.53 L428.00,718.44 L432.60,738.08 L437.20,725.80 L441.80,735.62 L446.40,730.73 L446.40,782.00 L441.80,782.00 L437.20,782.00 L432.60,782.00 L428.00,782.00 L423.40,782.00 L418.80,782.00 L414.20,782.00 L409.60,782.00 L405.00,782.00 L400.40,782.00 L395.80,782.00 L391.20,782.00 L386.60,782.00 L382.00,782.00 L377.40,782.00 L372.80,782.00 L368.20,782.00 L363.60,782.00 L359.00,782.00 L354.40,782.00 L349.80,782.00 L345.20,782.00 L340.60,782.00 L336.00,782.00 L331.40,782.00 L326.80,782.00 L322.20,782.00 L317.60,782.00 L313.00,782.00 L308.40,782.00 L303.80,782.00 L299.20,782.00 L294.60,782.00 L290.00,782.00 L285.40,782.00 L280.80,782.00 L276.20,782.00 L271.60,782.00 L267.00,782.00 L262.40,782.00 L257.80,782.00 L253.20,782.00 L248.60,782.00 L244.00,782.00 L239.40,782.00 L234.80,782.00 L230.20,782.00 L225.60,782.00 L221.00,782.00 L216.40,782.00 L211.80,782.00 L207.20,782.00 L202.60,782.00 L198.00,782.00 L193.40,782.00 L188.80,782.00 L184.20,782.00 L179.60,782.00 L175.00,782.00 L170.40,782.00 L165.80,782.00 L161.20,782.00 L156.60,782.00 L152.00,782.00 L147.40,782.00 L142.80,782.00 L138.20,782.00 L133.60,782.00 L129.00,782.00 L124.40,782.00 L119.80,782.00 L115.20,782.00 L110.60,782.00 L106.00,782.00 L101.40,782.00 L96.80,782.00 L92.20,782.00 L87.60,782.00 L83.00,782.00Z" fill="#B0BC00" fill-opacity="0.5"/><polyline points="83.00,763.45 87.60,766.45 92.20,769.31 96.80,765.63 101.40,764.13 106.00,768.36 110.60,767.27 115.20,757.45 119.80,731.80 124.40,736.85 129.00,741.49 133.60,740.53 138.20,741.49 142.80,747.76 147.40,750.63 152.00,735.62 156.60,741.49 161.20,735.21 165.80,743.40 170.40,743.81 175.00,726.08 179.60,737.81 184.20,714.07 188.80,718.71 193.40,737.53 198.00,712.16 202.60,734.12 207.20,730.44 211.80,736.44 216.40,738.62 221.00,729.08 225.60,749.26 230.20,757.45 234.80,749.26 239.40,753.36 244.00,773.54 248.60,727.44 253.20,673.02 257.80,732.90 262.40,732.90 267.00,735.62 271.60,711.07 276.20,682.97 280.80,683.79 285.40,709.71 290.00,734.40 294.60,734.40 299.20,726.08 303.80,700.16 308.40,720.62 313.00,700.16 317.60,735.62 322.20,716.53 326.80,717.89 331.40,713.80 336.00,727.17 340.60,728.80 345.20,693.34 349.80,714.35 354.40,708.34 359.00,707.39 363.60,727.44 368.20,718.57 372.80,720.48 377.40,727.17 382.00,725.69 386.60,734.60 391.20,741.67 395.80,729.88 400.40,740.49 405.00,736.43 409.60,704.48 414.20,733.17 418.80,724.58 423.40,713.53 428.00,718.44 432.60,738.08 437.20,725.80 441.80,735.62 446.40,730.73" fill="none" stroke="#B0BC00" stroke-width="1" stroke-linejoin="round"/><g fill="#fff" stroke="#B0BC00" stroke-width="1.0"><circle cx="83.00" cy="763.45" r="1.15"/><circle cx="87.60" cy="766.45" r="1.15"/><circle cx="92.20" cy="769.31" r="1.15"/><circle cx="96.80" cy="765.63" r="1.15"/><circle cx="101.40" cy="764.13" r="1.15"/><circle cx="106.00" cy="768.36" r="1.15"/><circle cx="110.60" cy="767.27" r="1.15"/><circle cx="115.20" cy="757.45" r="1.15"/><circle cx="119.80" cy="731.80" r="1.15"/><circle cx="124.40" cy="736.85" r="1.15"/><circle cx="129.00" cy="741.49" r="1.15"/><circle cx="133.60" cy="740.53" r="1.15"/><circle cx="138.20" cy="741.49" r="1.15"/><circle cx="142.80" cy="747.76" r="1.15"/><circle cx="147.40" cy="750.63" r="1.15"/><circle cx="152.00" cy="735.62" r="1.15"/><circle cx="156.60" cy="741.49" r="1.15"/><circle cx="161.20" cy="735.21" r="1.15"/><circle cx="165.80" cy="743.40" r="1.15"/><circle cx="170.40" cy="743.81" r="1.15"/><circle cx="175.00" cy="726.08" r="1.15"/><circle cx="179.60" cy="737.81" r="1.15"/><circle cx="184.20" cy="714.07" r="1.15"/><circle cx="188.80" cy="718.71" r="1.15"/><circle cx="193.40" cy="737.53" r="1.15"/><circle cx="198.00" cy="712.16" r="1.15"/><circle cx="202.60" cy="734.12" r="1.15"/><circle cx="207.20" cy="730.44" r="1.15"/><circle cx="211.80" cy="736.44" r="1.15"/><circle cx="216.40" cy="738.62" r="1.15"/><circle cx="221.00" cy="729.08" r="1.15"/><circle cx="225.60" cy="749.26" r="1.15"/><circle cx="230.20" cy="757.45" r="1.15"/><circle cx="234.80" cy="749.26" r="1.15"/><circle cx="239.40" cy="753.36" r="1.15"/><circle cx="244.00" cy="773.54" r="1.15"/><circle cx="248.60" cy="727.44" r="1.15"/><circle cx="253.20" cy="673.02" r="1.15"/><circle cx="257.80" cy="732.90" r="1.15"/><circle cx="262.40" cy="732.90" r="1.15"/><circle cx="267.00" cy="735.62" r="1.15"/><circle cx="271.60" cy="711.07" r="1.15"/><circle cx="276.20" cy="682.97" r="1.15"/><circle cx="280.80" cy="683.79" r="1.15"/><circle cx="285.40" cy="709.71" r="1.15"/><circle cx="290.00" cy="734.40" r="1.15"/><circle cx="294.60" cy="734.40" r="1.15"/><circle cx="299.20" cy="726.08" r="1.15"/><circle cx="303.80" cy="700.16" r="1.15"/><circle cx="308.40" cy="720.62" r="1.15"/><circle cx="313.00" cy="700.16" r="1.15"/><circle cx="317.60" cy="735.62" r="1.15"/><circle cx="322.20" cy="716.53" r="1.15"/><circle cx="326.80" cy="717.89" r="1.15"/><circle cx="331.40" cy="713.80" r="1.15"/><circle cx="336.00" cy="727.17" r="1.15"/><circle cx="340.60" cy="728.80" r="1.15"/><circle cx="345.20" cy="693.34" r="1.15"/><circle cx="349.80" cy="714.35" r="1.15"/><circle cx="354.40" cy="708.34" r="1.15"/><circle cx="359.00" cy="707.39" r="1.15"/><circle cx="363.60" cy="727.44" r="1.15"/><circle cx="368.20" cy="718.57" r="1.15"/><circle cx="372.80" cy="720.48" r="1.15"/><circle cx="377.40" cy="727.17" r="1.15"/><circle cx="382.00" cy="725.69" r="1.15"/><circle cx="386.60" cy="734.60" r="1.15"/><circle cx="391.20" cy="741.67" r="1.15"/><circle cx="395.80" cy="729.88" r="1.15"/><circle cx="400.40" cy="740.49" r="1.15"/><circle cx="405.00" cy="736.43" r="1.15"/><circle cx="409.60" cy="704.48" r="1.15"/><circle cx="414.20" cy="733.17" r="1.15"/><circle cx="418.80" cy="724.58" r="1.15"/><circle cx="423.40" cy="713.53" r="1.15"/><circle cx="428.00" cy="718.44" r="1.15"/><circle cx="432.60" cy="738.08" r="1.15"/><circle cx="437.20" cy="725.80" r="1.15"/><circle cx="441.80" cy="735.62" r="1.15"/><circle cx="446.40" cy="730.73" r="1.15"/></g><path d="M83.00,760.72 L87.60,763.72 L92.20,766.59 L96.80,762.90 L101.40,761.40 L106.00,765.63 L110.60,764.54 L115.20,754.72 L119.80,756.22 L124.40,734.12 L129.00,738.76 L133.60,737.81 L138.20,738.76 L142.80,745.04 L147.40,747.90 L152.00,732.90 L156.60,738.76 L161.20,732.49 L165.80,740.67 L170.40,741.08 L175.00,730.03 L179.60,735.08 L184.20,711.34 L188.80,726.08 L193.40,734.81 L198.00,709.44 L202.60,744.63 L207.20,739.44 L211.80,743.13 L216.40,744.49 L221.00,740.67 L225.60,750.63 L230.20,756.08 L234.80,747.90 L239.40,754.72 L244.00,763.59 L248.60,733.85 L253.20,692.11 L257.80,740.26 L262.40,738.35 L267.00,740.26 L271.60,716.53 L276.20,713.80 L280.80,710.25 L285.40,727.58 L290.00,733.03 L294.60,733.03 L299.20,729.49 L303.80,692.93 L308.40,734.26 L313.00,718.44 L317.60,734.26 L322.20,722.12 L326.80,721.17 L331.40,736.99 L336.00,725.80 L340.60,727.44 L345.20,723.35 L349.80,700.57 L354.40,713.80 L359.00,710.39 L363.60,724.03 L368.20,705.48 L372.80,703.71 L377.40,719.67 L382.00,723.35 L386.60,732.62 L391.20,739.99 L395.80,727.71 L400.40,738.76 L405.00,734.53 L409.60,701.25 L414.20,744.22 L418.80,760.31 L423.40,757.45 L428.00,756.08 L432.60,760.18 L437.20,762.22 L441.80,762.90 L446.40,763.16 L446.40,782.00 L441.80,782.00 L437.20,782.00 L432.60,782.00 L428.00,782.00 L423.40,782.00 L418.80,782.00 L414.20,782.00 L409.60,782.00 L405.00,782.00 L400.40,782.00 L395.80,782.00 L391.20,782.00 L386.60,782.00 L382.00,782.00 L377.40,782.00 L372.80,782.00 L368.20,782.00 L363.60,782.00 L359.00,782.00 L354.40,782.00 L349.80,782.00 L345.20,782.00 L340.60,782.00 L336.00,782.00 L331.40,782.00 L326.80,782.00 L322.20,782.00 L317.60,782.00 L313.00,782.00 L308.40,782.00 L303.80,782.00 L299.20,782.00 L294.60,782.00 L290.00,782.00 L285.40,782.00 L280.80,782.00 L276.20,782.00 L271.60,782.00 L267.00,782.00 L262.40,782.00 L257.80,782.00 L253.20,782.00 L248.60,782.00 L244.00,782.00 L239.40,782.00 L234.80,782.00 L230.20,782.00 L225.60,782.00 L221.00,782.00 L216.40,782.00 L211.80,782.00 L207.20,782.00 L202.60,782.00 L198.00,782.00 L193.40,782.00 L188.80,782.00 L184.20,782.00 L179.60,782.00 L175.00,782.00 L170.40,782.00 L165.80,782.00 L161.20,782.00 L156.60,782.00 L152.00,782.00 L147.40,782.00 L142.80,782.00 L138.20,782.00 L133.60,782.00 L129.00,782.00 L124.40,782.00 L119.80,782.00 L115.20,782.00 L110.60,782.00 L106.00,782.00 L101.40,782.00 L96.80,782.00 L92.20,782.00 L87.60,782.00 L83.00,782.00Z" fill="#009CE0" fill-opacity="0.5"/><polyline points="83.00,760.72 87.60,763.72 92.20,766.59 96.80,762.90 101.40,761.40 106.00,765.63 110.60,764.54 115.20,754.72 119.80,756.22 124.40,734.12 129.00,738.76 133.60,737.81 138.20,738.76 142.80,745.04 147.40,747.90 152.00,732.90 156.60,738.76 161.20,732.49 165.80,740.67 170.40,741.08 175.00,730.03 179.60,735.08 184.20,711.34 188.80,726.08 193.40,734.81 198.00,709.44 202.60,744.63 207.20,739.44 211.80,743.13 216.40,744.49 221.00,740.67 225.60,750.63 230.20,756.08 234.80,747.90 239.40,754.72 244.00,763.59 248.60,733.85 253.20,692.11 257.80,740.26 262.40,738.35 267.00,740.26 271.60,716.53 276.20,713.80 280.80,710.25 285.40,727.58 290.00,733.03 294.60,733.03 299.20,729.49 303.80,692.93 308.40,734.26 313.00,718.44 317.60,734.26 322.20,722.12 326.80,721.17 331.40,736.99 336.00,725.80 340.60,727.44 345.20,723.35 349.80,700.57 354.40,713.80 359.00,710.39 363.60,724.03 368.20,705.48 372.80,703.71 377.40,719.67 382.00,723.35 386.60,732.62 391.20,739.99 395.80,727.71 400.40,738.76 405.00,734.53 409.60,701.25 414.20,744.22 418.80,760.31 423.40,757.45 428.00,756.08 432.60,760.18 437.20,762.22 441.80,762.90 446.40,763.16" fill="none" stroke="#009CE0" stroke-width="1" stroke-linejoin="round"/><g fill="#fff" stroke="#009CE0" stroke-width="1.0"><circle cx="83.00" cy="760.72" r="1.15"/><circle cx="87.60" cy="763.72" r="1.15"/><circle cx="92.20" cy="766.59" r="1.15"/><circle cx="96.80" cy="762.90" r="1.15"/><circle cx="101.40" cy="761.40" r="1.15"/><circle cx="106.00" cy="765.63" r="1.15"/><circle cx="110.60" cy="764.54" r="1.15"/><circle cx="115.20" cy="754.72" r="1.15"/><circle cx="119.80" cy="756.22" r="1.15"/><circle cx="124.40" cy="734.12" r="1.15"/><circle cx="129.00" cy="738.76" r="1.15"/><circle cx="133.60" cy="737.81" r="1.15"/><circle cx="138.20" cy="738.76" r="1.15"/><circle cx="142.80" cy="745.04" r="1.15"/><circle cx="147.40" cy="747.90" r="1.15"/><circle cx="152.00" cy="732.90" r="1.15"/><circle cx="156.60" cy="738.76" r="1.15"/><circle cx="161.20" cy="732.49" r="1.15"/><circle cx="165.80" cy="740.67" r="1.15"/><circle cx="170.40" cy="741.08" r="1.15"/><circle cx="175.00" cy="730.03" r="1.15"/><circle cx="179.60" cy="735.08" r="1.15"/><circle cx="184.20" cy="711.34" r="1.15"/><circle cx="188.80" cy="726.08" r="1.15"/><circle cx="193.40" cy="734.81" r="1.15"/><circle cx="198.00" cy="709.44" r="1.15"/><circle cx="202.60" cy="744.63" r="1.15"/><circle cx="207.20" cy="739.44" r="1.15"/><circle cx="211.80" cy="743.13" r="1.15"/><circle cx="216.40" cy="744.49" r="1.15"/><circle cx="221.00" cy="740.67" r="1.15"/><circle cx="225.60" cy="750.63" r="1.15"/><circle cx="230.20" cy="756.08" r="1.15"/><circle cx="234.80" cy="747.90" r="1.15"/><circle cx="239.40" cy="754.72" r="1.15"/><circle cx="244.00" cy="763.59" r="1.15"/><circle cx="248.60" cy="733.85" r="1.15"/><circle cx="253.20" cy="692.11" r="1.15"/><circle cx="257.80" cy="740.26" r="1.15"/><circle cx="262.40" cy="738.35" r="1.15"/><circle cx="267.00" cy="740.26" r="1.15"/><circle cx="271.60" cy="716.53" r="1.15"/><circle cx="276.20" cy="713.80" r="1.15"/><circle cx="280.80" cy="710.25" r="1.15"/><circle cx="285.40" cy="727.58" r="1.15"/><circle cx="290.00" cy="733.03" r="1.15"/><circle cx="294.60" cy="733.03" r="1.15"/><circle cx="299.20" cy="729.49" r="1.15"/><circle cx="303.80" cy="692.93" r="1.15"/><circle cx="308.40" cy="734.26" r="1.15"/><circle cx="313.00" cy="718.44" r="1.15"/><circle cx="317.60" cy="734.26" r="1.15"/><circle cx="322.20" cy="722.12" r="1.15"/><circle cx="326.80" cy="721.17" r="1.15"/><circle cx="331.40" cy="736.99" r="1.15"/><circle cx="336.00" cy="725.80" r="1.15"/><circle cx="340.60" cy="727.44" r="1.15"/><circle cx="345.20" cy="723.35" r="1.15"/><circle cx="349.80" cy="700.57" r="1.15"/><circle cx="354.40" cy="713.80" r="1.15"/><circle cx="359.00" cy="710.39" r="1.15"/><circle cx="363.60" cy="724.03" r="1.15"/><circle cx="368.20" cy="705.48" r="1.15"/><circle cx="372.80" cy="703.71" r="1.15"/><circle cx="377.40" cy="719.67" r="1.15"/><circle cx="382.00" cy="723.35" r="1.15"/><circle cx="386.60" cy="732.62" r="1.15"/><circle cx="391.20" cy="739.99" r="1.15"/><circle cx="395.80" cy="727.71" r="1.15"/><circle cx="400.40" cy="738.76" r="1.15"/><circle cx="405.00" cy="734.53" r="1.15"/><circle cx="409.60" cy="701.25" r="1.15"/><circle cx="414.20" cy="744.22" r="1.15"/><circle cx="418.80" cy="760.31" r="1.15"/><circle cx="423.40" cy="757.45" r="1.15"/><circle cx="428.00" cy="756.08" r="1.15"/><circle cx="432.60" cy="760.18" r="1.15"/><circle cx="437.20" cy="762.22" r="1.15"/><circle cx="441.80" cy="762.90" r="1.15"/><circle cx="446.40" cy="763.16" r="1.15"/></g><path d="M83.00,736.44 L87.60,735.62 L92.20,741.63 L96.80,746.67 L101.40,739.99 L106.00,736.72 L110.60,736.44 L115.20,734.94 L119.80,772.45 L124.40,749.67 L129.00,756.22 L133.60,754.04 L138.20,757.72 L142.80,761.40 L147.40,759.90 L152.00,755.54 L156.60,753.36 L161.20,752.67 L165.80,758.81 L170.40,758.13 L175.00,751.17 L179.60,743.81 L184.20,734.26 L188.80,741.63 L193.40,753.36 L198.00,712.30 L202.60,748.99 L207.20,748.99 L211.80,752.13 L216.40,751.31 L221.00,748.99 L225.60,740.26 L230.20,737.26 L234.80,732.76 L239.40,730.58 L244.00,772.18 L248.60,742.99 L253.20,636.73 L257.80,724.85 L262.40,720.35 L267.00,729.49 L271.60,711.75 L276.20,688.43 L280.80,689.11 L285.40,707.53 L290.00,723.08 L294.60,730.30 L299.20,685.70 L303.80,704.80 L308.40,682.97 L313.00,679.43 L317.60,721.17 L322.20,703.84 L326.80,707.53 L331.40,712.98 L336.00,709.84 L340.60,698.80 L345.20,719.67 L349.80,712.98 L354.40,707.39 L359.00,720.89 L363.60,730.71 L368.20,717.21 L372.80,719.12 L377.40,725.80 L382.00,762.77 L386.60,761.54 L391.20,765.90 L395.80,763.45 L400.40,761.54 L405.00,762.77 L409.60,744.22 L414.20,745.44 L418.80,751.72 L423.40,747.35 L428.00,746.81 L432.60,751.04 L437.20,751.72 L441.80,754.17 L446.40,756.60 L446.40,782.00 L441.80,782.00 L437.20,782.00 L432.60,782.00 L428.00,782.00 L423.40,782.00 L418.80,782.00 L414.20,782.00 L409.60,782.00 L405.00,782.00 L400.40,782.00 L395.80,782.00 L391.20,782.00 L386.60,782.00 L382.00,782.00 L377.40,782.00 L372.80,782.00 L368.20,782.00 L363.60,782.00 L359.00,782.00 L354.40,782.00 L349.80,782.00 L345.20,782.00 L340.60,782.00 L336.00,782.00 L331.40,782.00 L326.80,782.00 L322.20,782.00 L317.60,782.00 L313.00,782.00 L308.40,782.00 L303.80,782.00 L299.20,782.00 L294.60,782.00 L290.00,782.00 L285.40,782.00 L280.80,782.00 L276.20,782.00 L271.60,782.00 L267.00,782.00 L262.40,782.00 L257.80,782.00 L253.20,782.00 L248.60,782.00 L244.00,782.00 L239.40,782.00 L234.80,782.00 L230.20,782.00 L225.60,782.00 L221.00,782.00 L216.40,782.00 L211.80,782.00 L207.20,782.00 L202.60,782.00 L198.00,782.00 L193.40,782.00 L188.80,782.00 L184.20,782.00 L179.60,782.00 L175.00,782.00 L170.40,782.00 L165.80,782.00 L161.20,782.00 L156.60,782.00 L152.00,782.00 L147.40,782.00 L142.80,782.00 L138.20,782.00 L133.60,782.00 L129.00,782.00 L124.40,782.00 L119.80,782.00 L115.20,782.00 L110.60,782.00 L106.00,782.00 L101.40,782.00 L96.80,782.00 L92.20,782.00 L87.60,782.00 L83.00,782.00Z" fill="#68BC00" fill-opacity="0.5"/><polyline points="83.00,736.44 87.60,735.62 92.20,741.63 96.80,746.67 101.40,739.99 106.00,736.72 110.60,736.44 115.20,734.94 119.80,772.45 124.40,749.67 129.00,756.22 133.60,754.04 138.20,757.72 142.80,761.40 147.40,759.90 152.00,755.54 156.60,753.36 161.20,752.67 165.80,758.81 170.40,758.13 175.00,751.17 179.60,743.81 184.20,734.26 188.80,741.63 193.40,753.36 198.00,712.30 202.60,748.99 207.20,748.99 211.80,752.13 216.40,751.31 221.00,748.99 225.60,740.26 230.20,737.26 234.80,732.76 239.40,730.58 244.00,772.18 248.60,742.99 253.20,636.73 257.80,724.85 262.40,720.35 267.00,729.49 271.60,711.75 276.20,688.43 280.80,689.11 285.40,707.53 290.00,723.08 294.60,730.30 299.20,685.70 303.80,704.80 308.40,682.97 313.00,679.43 317.60,721.17 322.20,703.84 326.80,707.53 331.40,712.98 336.00,709.84 340.60,698.80 345.20,719.67 349.80,712.98 354.40,707.39 359.00,720.89 363.60,730.71 368.20,717.21 372.80,719.12 377.40,725.80 382.00,762.77 386.60,761.54 391.20,765.90 395.80,763.45 400.40,761.54 405.00,762.77 409.60,744.22 414.20,745.44 418.80,751.72 423.40,747.35 428.00,746.81 432.60,751.04 437.20,751.72 441.80,754.17 446.40,756.60" fill="none" stroke="#68BC00" stroke-width="1" stroke-linejoin="round"/><g fill="#fff" stroke="#68BC00" stroke-width="1.0"><circle cx="83.00" cy="736.44" r="1.15"/><circle cx="87.60" cy="735.62" r="1.15"/><circle cx="92.20" cy="741.63" r="1.15"/><circle cx="96.80" cy="746.67" r="1.15"/><circle cx="101.40" cy="739.99" r="1.15"/><circle cx="106.00" cy="736.72" r="1.15"/><circle cx="110.60" cy="736.44" r="1.15"/><circle cx="115.20" cy="734.94" r="1.15"/><circle cx="119.80" cy="772.45" r="1.15"/><circle cx="124.40" cy="749.67" r="1.15"/><circle cx="129.00" cy="756.22" r="1.15"/><circle cx="133.60" cy="754.04" r="1.15"/><circle cx="138.20" cy="757.72" r="1.15"/><circle cx="142.80" cy="761.40" r="1.15"/><circle cx="147.40" cy="759.90" r="1.15"/><circle cx="152.00" cy="755.54" r="1.15"/><circle cx="156.60" cy="753.36" r="1.15"/><circle cx="161.20" cy="752.67" r="1.15"/><circle cx="165.80" cy="758.81" r="1.15"/><circle cx="170.40" cy="758.13" r="1.15"/><circle cx="175.00" cy="751.17" r="1.15"/><circle cx="179.60" cy="743.81" r="1.15"/><circle cx="184.20" cy="734.26" r="1.15"/><circle cx="188.80" cy="741.63" r="1.15"/><circle cx="193.40" cy="753.36" r="1.15"/><circle cx="198.00" cy="712.30" r="1.15"/><circle cx="202.60" cy="748.99" r="1.15"/><circle cx="207.20" cy="748.99" r="1.15"/><circle cx="211.80" cy="752.13" r="1.15"/><circle cx="216.40" cy="751.31" r="1.15"/><circle cx="221.00" cy="748.99" r="1.15"/><circle cx="225.60" cy="740.26" r="1.15"/><circle cx="230.20" cy="737.26" r="1.15"/><circle cx="234.80" cy="732.76" r="1.15"/><circle cx="239.40" cy="730.58" r="1.15"/><circle cx="244.00" cy="772.18" r="1.15"/><circle cx="248.60" cy="742.99" r="1.15"/><circle cx="253.20" cy="636.73" r="1.15"/><circle cx="257.80" cy="724.85" r="1.15"/><circle cx="262.40" cy="720.35" r="1.15"/><circle cx="267.00" cy="729.49" r="1.15"/><circle cx="271.60" cy="711.75" r="1.15"/><circle cx="276.20" cy="688.43" r="1.15"/><circle cx="280.80" cy="689.11" r="1.15"/><circle cx="285.40" cy="707.53" r="1.15"/><circle cx="290.00" cy="723.08" r="1.15"/><circle cx="294.60" cy="730.30" r="1.15"/><circle cx="299.20" cy="685.70" r="1.15"/><circle cx="303.80" cy="704.80" r="1.15"/><circle cx="308.40" cy="682.97" r="1.15"/><circle cx="313.00" cy="679.43" r="1.15"/><circle cx="317.60" cy="721.17" r="1.15"/><circle cx="322.20" cy="703.84" r="1.15"/><circle cx="326.80" cy="707.53" r="1.15"/><circle cx="331.40" cy="712.98" r="1.15"/><circle cx="336.00" cy="709.84" r="1.15"/><circle cx="340.60" cy="698.80" r="1.15"/><circle cx="345.20" cy="719.67" r="1.15"/><circle cx="349.80" cy="712.98" r="1.15"/><circle cx="354.40" cy="707.39" r="1.15"/><circle cx="359.00" cy="720.89" r="1.15"/><circle cx="363.60" cy="730.71" r="1.15"/><circle cx="368.20" cy="717.21" r="1.15"/><circle cx="372.80" cy="719.12" r="1.15"/><circle cx="377.40" cy="725.80" r="1.15"/><circle cx="382.00" cy="762.77" r="1.15"/><circle cx="386.60" cy="761.54" r="1.15"/><circle cx="391.20" cy="765.90" r="1.15"/><circle cx="395.80" cy="763.45" r="1.15"/><circle cx="400.40" cy="761.54" r="1.15"/><circle cx="405.00" cy="762.77" r="1.15"/><circle cx="409.60" cy="744.22" r="1.15"/><circle cx="414.20" cy="745.44" r="1.15"/><circle cx="418.80" cy="751.72" r="1.15"/><circle cx="423.40" cy="747.35" r="1.15"/><circle cx="428.00" cy="746.81" r="1.15"/><circle cx="432.60" cy="751.04" r="1.15"/><circle cx="437.20" cy="751.72" r="1.15"/><circle cx="441.80" cy="754.17" r="1.15"/><circle cx="446.40" cy="756.60" r="1.15"/></g><g font-family='"Liberation Sans", sans-serif' font-size="11" fill="#8A8A8A" letter-spacing="0.45"><text x="73.6" y="785.2" text-anchor="end">0.00ms</text><text x="73.6" y="751.1" text-anchor="end">25.00ms</text><text x="73.6" y="717.0" text-anchor="end">50.00ms</text><text x="73.6" y="682.9" text-anchor="end">75.00ms</text><text x="73.6" y="648.8" text-anchor="end">100.00ms</text><text x="73.6" y="614.7" text-anchor="end">125.00ms</text></g><g font-family='"Liberation Sans", sans-serif' font-size="11" fill="#8A8A8A" letter-spacing="0.45"><text x="152.8" y="796.7" text-anchor="middle">20:20:00</text><text x="244.8" y="796.7" text-anchor="middle">20:30:00</text><text x="336.8" y="796.7" text-anchor="middle">20:40:00</text><text x="428.8" y="796.7" text-anchor="middle">20:50:00</text></g><text x="246.3" y="814.1" text-anchor="middle" font-family='"Liberation Sans", sans-serif' font-size="12" font-weight="bold" fill="#999FAA" letter-spacing="0.15">per 30 seconds</text><line x1="495.1" x2="664.4" y1="609.5" y2="609.5" stroke="#CDCDCD" stroke-width="1"/><line x1="495.1" x2="664.4" y1="635.5" y2="635.5" stroke="#CDCDCD" stroke-width="1"/><line x1="495.1" x2="664.4" y1="660.5" y2="660.5" stroke="#CDCDCD" stroke-width="1"/><line x1="495.1" x2="664.4" y1="686.5" y2="686.5" stroke="#CDCDCD" stroke-width="1"/><line x1="495.1" x2="664.4" y1="711.5" y2="711.5" stroke="#CDCDCD" stroke-width="1"/><line x1="495.1" x2="664.4" y1="737.5" y2="737.5" stroke="#CDCDCD" stroke-width="1"/><line x1="495.1" x2="664.4" y1="762.5" y2="762.5" stroke="#CDCDCD" stroke-width="1"/><path d="M481.0,616.8 L485.0,621.0 L481.0,625.2" fill="none" stroke="#3F4450" stroke-width="1.2"/><circle cx="507.1" cy="622.4" r="4" fill="#68BC00"/><text x="519.9" y="625.8" font-family='"Liberation Sans", sans-serif' font-size="12" fill="#343741">172.18.0.4:8080</text><text x="661.5" y="625.8" text-anchor="end" font-family='"Liberation Sans", sans-serif' font-size="12" fill="#343741" stroke="#343741" stroke-width="0.3" letter-spacing="0.45">18.62ms</text><circle cx="507.1" cy="648.4" r="4" fill="#009CE0"/><text x="519.9" y="651.8" font-family='"Liberation Sans", sans-serif' font-size="12" fill="#343741">172.18.0.3:8080</text><text x="661.5" y="651.8" text-anchor="end" font-family='"Liberation Sans", sans-serif' font-size="12" fill="#343741" stroke="#343741" stroke-width="0.3" letter-spacing="0.45">13.81ms</text><circle cx="507.1" cy="673.4" r="4" fill="#B0BC00"/><text x="519.9" y="676.8" font-family='"Liberation Sans", sans-serif' font-size="12" fill="#343741">172.18.0.2:8080</text><text x="661.5" y="676.8" text-anchor="end" font-family='"Liberation Sans", sans-serif' font-size="12" fill="#343741" stroke="#343741" stroke-width="0.3" letter-spacing="0.45">37.59ms</text><circle cx="507.1" cy="699.4" r="4" fill="#16A5A5"/><text x="519.9" y="702.8" font-family='"Liberation Sans", sans-serif' font-size="12" fill="#343741">172.18.0.7:8080</text><text x="661.5" y="702.8" text-anchor="end" font-family='"Liberation Sans", sans-serif' font-size="12" fill="#343741" stroke="#343741" stroke-width="0.3" letter-spacing="0.45">16.16ms</text><circle cx="507.1" cy="724.4" r="4" fill="#D33115"/><text x="519.9" y="727.8" font-family='"Liberation Sans", sans-serif' font-size="12" fill="#343741">172.18.0.6:8080</text><text x="661.5" y="727.8" text-anchor="end" font-family='"Liberation Sans", sans-serif' font-size="12" fill="#343741" stroke="#343741" stroke-width="0.3" letter-spacing="0.45">21.21ms</text><circle cx="507.1" cy="750.4" r="4" fill="#E27300"/><text x="519.9" y="753.8" font-family='"Liberation Sans", sans-serif' font-size="12" fill="#343741">172.18.0.5:8080</text><text x="661.5" y="753.8" text-anchor="end" font-family='"Liberation Sans", sans-serif' font-size="12" fill="#343741" stroke="#343741" stroke-width="0.3" letter-spacing="0.45">0.00ms</text></g>
<g><g stroke="#E0E2E7" stroke-width="1" fill="none"><line x1="758.0" x2="1140.0" y1="782.5" y2="782.5"/><line x1="758.0" x2="1140.0" y1="725.5" y2="725.5"/><line x1="758.0" x2="1140.0" y1="668.5" y2="668.5"/><line x1="758.0" x2="1140.0" y1="611.5" y2="611.5"/><line x1="835.5" x2="835.5" y1="611.0" y2="783.0"/><line x1="930.5" x2="930.5" y1="611.0" y2="783.0"/><line x1="1025.5" x2="1025.5" y1="611.0" y2="783.0"/><line x1="1120.5" x2="1120.5" y1="611.0" y2="783.0"/><line x1="758.5" x2="758.5" y1="611.0" y2="783.0"/><line x1="1139.5" x2="1139.5" y1="611.0" y2="783.0"/></g><path d="M763.55,772.91 L768.30,772.68 L773.05,771.54 L777.80,772.11 L782.55,768.25 L787.30,772.57 L792.05,771.88 L796.80,770.41 L801.55,767.56 L806.30,771.09 L811.05,771.88 L815.80,771.54 L820.55,771.77 L825.30,770.63 L830.05,769.27 L834.80,771.09 L839.55,770.63 L844.30,771.09 L849.05,767.56 L853.80,766.09 L858.55,766.09 L863.30,768.93 L868.05,759.27 L872.80,759.49 L877.55,755.17 L882.30,752.33 L887.05,772.91 L891.80,771.77 L896.55,771.77 L901.30,772.91 L906.05,772.34 L910.80,774.04 L915.55,775.18 L920.30,774.04 L925.05,774.04 L929.80,777.45 L934.55,772.91 L939.30,770.63 L944.05,771.77 L948.80,770.63 L953.55,775.18 L958.30,775.18 L963.05,775.18 L967.80,775.18 L972.55,775.18 L977.30,775.18 L982.05,775.18 L986.80,775.18 L991.55,775.18 L996.30,775.18 L1001.05,775.18 L1005.80,775.18 L1010.55,775.18 L1015.30,775.18 L1020.05,775.18 L1024.80,775.18 L1029.55,775.18 L1034.30,775.18 L1039.05,775.18 L1043.80,775.18 L1048.55,775.18 L1053.30,775.18 L1058.05,775.18 L1062.80,775.18 L1067.55,775.18 L1072.30,775.18 L1077.05,775.18 L1081.80,775.18 L1086.55,775.18 L1091.30,775.18 L1096.05,775.18 L1100.80,775.18 L1105.55,775.18 L1110.30,775.18 L1115.05,775.18 L1119.80,775.18 L1124.55,775.18 L1129.30,775.18 L1134.05,775.18 L1138.80,775.18 L1138.80,782.00 L1134.05,782.00 L1129.30,782.00 L1124.55,782.00 L1119.80,782.00 L1115.05,782.00 L1110.30,782.00 L1105.55,782.00 L1100.80,782.00 L1096.05,782.00 L1091.30,782.00 L1086.55,782.00 L1081.80,782.00 L1077.05,782.00 L1072.30,782.00 L1067.55,782.00 L1062.80,782.00 L1058.05,782.00 L1053.30,782.00 L1048.55,782.00 L1043.80,782.00 L1039.05,782.00 L1034.30,782.00 L1029.55,782.00 L1024.80,782.00 L1020.05,782.00 L1015.30,782.00 L1010.55,782.00 L1005.80,782.00 L1001.05,782.00 L996.30,782.00 L991.55,782.00 L986.80,782.00 L982.05,782.00 L977.30,782.00 L972.55,782.00 L967.80,782.00 L963.05,782.00 L958.30,782.00 L953.55,782.00 L948.80,782.00 L944.05,782.00 L939.30,782.00 L934.55,782.00 L929.80,782.00 L925.05,782.00 L920.30,782.00 L915.55,782.00 L910.80,782.00 L906.05,782.00 L901.30,782.00 L896.55,782.00 L891.80,782.00 L887.05,782.00 L882.30,782.00 L877.55,782.00 L872.80,782.00 L868.05,782.00 L863.30,782.00 L858.55,782.00 L853.80,782.00 L849.05,782.00 L844.30,782.00 L839.55,782.00 L834.80,782.00 L830.05,782.00 L825.30,782.00 L820.55,782.00 L815.80,782.00 L811.05,782.00 L806.30,782.00 L801.55,782.00 L796.80,782.00 L792.05,782.00 L787.30,782.00 L782.55,782.00 L777.80,782.00 L773.05,782.00 L768.30,782.00 L763.55,782.00Z" fill="#E27300" fill-opacity="0.5"/><polyline points="763.55,772.91 768.30,772.68 773.05,771.54 777.80,772.11 782.55,768.25 787.30,772.57 792.05,771.88 796.80,770.41 801.55,767.56 806.30,771.09 811.05,771.88 815.80,771.54 820.55,771.77 825.30,770.63 830.05,769.27 834.80,771.09 839.55,770.63 844.30,771.09 849.05,767.56 853.80,766.09 858.55,766.09 863.30,768.93 868.05,759.27 872.80,759.49 877.55,755.17 882.30,752.33 887.05,772.91 891.80,771.77 896.55,771.77 901.30,772.91 906.05,772.34 910.80,774.04 915.55,775.18 920.30,774.04 925.05,774.04 929.80,777.45 934.55,772.91 939.30,770.63 944.05,771.77 948.80,770.63 953.55,775.18 958.30,775.18 963.05,775.18 967.80,775.18 972.55,775.18 977.30,775.18 982.05,775.18 986.80,775.18 991.55,775.18 996.30,775.18 1001.05,775.18 1005.80,775.18 1010.55,775.18 1015.30,775.18 1020.05,775.18 1024.80,775.18 1029.55,775.18 1034.30,775.18 1039.05,775.18 1043.80,775.18 1048.55,775.18 1053.30,775.18 1058.05,775.18 1062.80,775.18 1067.55,775.18 1072.30,775.18 1077.05,775.18 1081.80,775.18 1086.55,775.18 1091.30,775.18 1096.05,775.18 1100.80,775.18 1105.55,775.18 1110.30,775.18 1115.05,775.18 1119.80,775.18 1124.55,775.18 1129.30,775.18 1134.05,775.18 1138.80,775.18" fill="none" stroke="#E27300" stroke-width="1" stroke-linejoin="round"/><g fill="#fff" stroke="#E27300" stroke-width="1.0"><circle cx="763.55" cy="772.91" r="1.15"/><circle cx="768.30" cy="772.68" r="1.15"/><circle cx="773.05" cy="771.54" r="1.15"/><circle cx="777.80" cy="772.11" r="1.15"/><circle cx="782.55" cy="768.25" r="1.15"/><circle cx="787.30" cy="772.57" r="1.15"/><circle cx="792.05" cy="771.88" r="1.15"/><circle cx="796.80" cy="770.41" r="1.15"/><circle cx="801.55" cy="767.56" r="1.15"/><circle cx="806.30" cy="771.09" r="1.15"/><circle cx="811.05" cy="771.88" r="1.15"/><circle cx="815.80" cy="771.54" r="1.15"/><circle cx="820.55" cy="771.77" r="1.15"/><circle cx="825.30" cy="770.63" r="1.15"/><circle cx="830.05" cy="769.27" r="1.15"/><circle cx="834.80" cy="771.09" r="1.15"/><circle cx="839.55" cy="770.63" r="1.15"/><circle cx="844.30" cy="771.09" r="1.15"/><circle cx="849.05" cy="767.56" r="1.15"/><circle cx="853.80" cy="766.09" r="1.15"/><circle cx="858.55" cy="766.09" r="1.15"/><circle cx="863.30" cy="768.93" r="1.15"/><circle cx="868.05" cy="759.27" r="1.15"/><circle cx="872.80" cy="759.49" r="1.15"/><circle cx="877.55" cy="755.17" r="1.15"/><circle cx="882.30" cy="752.33" r="1.15"/><circle cx="887.05" cy="772.91" r="1.15"/><circle cx="891.80" cy="771.77" r="1.15"/><circle cx="896.55" cy="771.77" r="1.15"/><circle cx="901.30" cy="772.91" r="1.15"/><circle cx="906.05" cy="772.34" r="1.15"/><circle cx="910.80" cy="774.04" r="1.15"/><circle cx="915.55" cy="775.18" r="1.15"/><circle cx="920.30" cy="774.04" r="1.15"/><circle cx="925.05" cy="774.04" r="1.15"/><circle cx="929.80" cy="777.45" r="1.15"/><circle cx="934.55" cy="772.91" r="1.15"/><circle cx="939.30" cy="770.63" r="1.15"/><circle cx="944.05" cy="771.77" r="1.15"/><circle cx="948.80" cy="770.63" r="1.15"/><circle cx="953.55" cy="775.18" r="1.15"/><circle cx="958.30" cy="775.18" r="1.15"/><circle cx="963.05" cy="775.18" r="1.15"/><circle cx="967.80" cy="775.18" r="1.15"/><circle cx="972.55" cy="775.18" r="1.15"/><circle cx="977.30" cy="775.18" r="1.15"/><circle cx="982.05" cy="775.18" r="1.15"/><circle cx="986.80" cy="775.18" r="1.15"/><circle cx="991.55" cy="775.18" r="1.15"/><circle cx="996.30" cy="775.18" r="1.15"/><circle cx="1001.05" cy="775.18" r="1.15"/><circle cx="1005.80" cy="775.18" r="1.15"/><circle cx="1010.55" cy="775.18" r="1.15"/><circle cx="1015.30" cy="775.18" r="1.15"/><circle cx="1020.05" cy="775.18" r="1.15"/><circle cx="1024.80" cy="775.18" r="1.15"/><circle cx="1029.55" cy="775.18" r="1.15"/><circle cx="1034.30" cy="775.18" r="1.15"/><circle cx="1039.05" cy="775.18" r="1.15"/><circle cx="1043.80" cy="775.18" r="1.15"/><circle cx="1048.55" cy="775.18" r="1.15"/><circle cx="1053.30" cy="775.18" r="1.15"/><circle cx="1058.05" cy="775.18" r="1.15"/><circle cx="1062.80" cy="775.18" r="1.15"/><circle cx="1067.55" cy="775.18" r="1.15"/><circle cx="1072.30" cy="775.18" r="1.15"/><circle cx="1077.05" cy="775.18" r="1.15"/><circle cx="1081.80" cy="775.18" r="1.15"/><circle cx="1086.55" cy="775.18" r="1.15"/><circle cx="1091.30" cy="775.18" r="1.15"/><circle cx="1096.05" cy="775.18" r="1.15"/><circle cx="1100.80" cy="775.18" r="1.15"/><circle cx="1105.55" cy="775.18" r="1.15"/><circle cx="1110.30" cy="775.18" r="1.15"/><circle cx="1115.05" cy="775.18" r="1.15"/><circle cx="1119.80" cy="775.18" r="1.15"/><circle cx="1124.55" cy="775.18" r="1.15"/><circle cx="1129.30" cy="775.18" r="1.15"/><circle cx="1134.05" cy="775.18" r="1.15"/><circle cx="1138.80" cy="775.18" r="1.15"/></g><path d="M763.55,775.74 L768.30,774.44 L773.05,773.79 L777.80,773.04 L782.55,775.20 L787.30,773.79 L792.05,772.39 L796.80,773.79 L801.55,778.11 L806.30,776.49 L811.05,776.28 L815.80,775.84 L820.55,776.49 L825.30,777.14 L830.05,775.84 L834.80,774.87 L839.55,775.84 L844.30,775.20 L849.05,776.49 L853.80,776.49 L858.55,774.87 L863.30,776.49 L868.05,773.04 L872.80,774.44 L877.55,775.20 L882.30,774.44 L887.05,776.49 L891.80,775.52 L896.55,776.49 L901.30,776.28 L906.05,775.20 L910.80,772.39 L915.55,775.84 L920.30,773.79 L925.05,773.79 L929.80,777.14 L934.55,775.20 L939.30,773.79 L944.05,773.79 L948.80,771.09 L953.55,771.16 L958.30,765.33 L963.05,742.78 L967.80,752.45 L972.55,763.47 L977.30,757.22 L982.05,763.47 L986.80,758.58 L991.55,761.20 L996.30,760.18 L1001.05,762.34 L1005.80,764.95 L1010.55,764.95 L1015.30,762.34 L1020.05,762.90 L1024.80,762.34 L1029.55,761.20 L1034.30,752.90 L1039.05,755.17 L1043.80,759.27 L1048.55,760.40 L1053.30,762.68 L1058.05,764.95 L1062.80,762.68 L1067.55,761.54 L1072.30,764.95 L1077.05,766.09 L1081.80,767.22 L1086.55,767.22 L1091.30,767.22 L1096.05,767.22 L1100.80,766.09 L1105.55,768.36 L1110.30,762.34 L1115.05,762.34 L1119.80,762.90 L1124.55,762.68 L1129.30,762.34 L1134.05,763.81 L1138.80,762.68 L1138.80,782.00 L1134.05,782.00 L1129.30,782.00 L1124.55,782.00 L1119.80,782.00 L1115.05,782.00 L1110.30,782.00 L1105.55,782.00 L1100.80,782.00 L1096.05,782.00 L1091.30,782.00 L1086.55,782.00 L1081.80,782.00 L1077.05,782.00 L1072.30,782.00 L1067.55,782.00 L1062.80,782.00 L1058.05,782.00 L1053.30,782.00 L1048.55,782.00 L1043.80,782.00 L1039.05,782.00 L1034.30,782.00 L1029.55,782.00 L1024.80,782.00 L1020.05,782.00 L1015.30,782.00 L1010.55,782.00 L1005.80,782.00 L1001.05,782.00 L996.30,782.00 L991.55,782.00 L986.80,782.00 L982.05,782.00 L977.30,782.00 L972.55,782.00 L967.80,782.00 L963.05,782.00 L958.30,782.00 L953.55,782.00 L948.80,782.00 L944.05,782.00 L939.30,782.00 L934.55,782.00 L929.80,782.00 L925.05,782.00 L920.30,782.00 L915.55,782.00 L910.80,782.00 L906.05,782.00 L901.30,782.00 L896.55,782.00 L891.80,782.00 L887.05,782.00 L882.30,782.00 L877.55,782.00 L872.80,782.00 L868.05,782.00 L863.30,782.00 L858.55,782.00 L853.80,782.00 L849.05,782.00 L844.30,782.00 L839.55,782.00 L834.80,782.00 L830.05,782.00 L825.30,782.00 L820.55,782.00 L815.80,782.00 L811.05,782.00 L806.30,782.00 L801.55,782.00 L796.80,782.00 L792.05,782.00 L787.30,782.00 L782.55,782.00 L777.80,782.00 L773.05,782.00 L768.30,782.00 L763.55,782.00Z" fill="#D33115" fill-opacity="0.5"/><polyline points="763.55,775.74 768.30,774.44 773.05,773.79 777.80,773.04 782.55,775.20 787.30,773.79 792.05,772.39 796.80,773.79 801.55,778.11 806.30,776.49 811.05,776.28 815.80,775.84 820.55,776.49 825.30,777.14 830.05,775.84 834.80,774.87 839.55,775.84 844.30,775.20 849.05,776.49 853.80,776.49 858.55,774.87 863.30,776.49 868.05,773.04 872.80,774.44 877.55,775.20 882.30,774.44 887.05,776.49 891.80,775.52 896.55,776.49 901.30,776.28 906.05,775.20 910.80,772.39 915.55,775.84 920.30,773.79 925.05,773.79 929.80,777.14 934.55,775.20 939.30,773.79 944.05,773.79 948.80,771.09 953.55,771.16 958.30,765.33 963.05,742.78 967.80,752.45 972.55,763.47 977.30,757.22 982.05,763.47 986.80,758.58 991.55,761.20 996.30,760.18 1001.05,762.34 1005.80,764.95 1010.55,764.95 1015.30,762.34 1020.05,762.90 1024.80,762.34 1029.55,761.20 1034.30,752.90 1039.05,755.17 1043.80,759.27 1048.55,760.40 1053.30,762.68 1058.05,764.95 1062.80,762.68 1067.55,761.54 1072.30,764.95 1077.05,766.09 1081.80,767.22 1086.55,767.22 1091.30,767.22 1096.05,767.22 1100.80,766.09 1105.55,768.36 1110.30,762.34 1115.05,762.34 1119.80,762.90 1124.55,762.68 1129.30,762.34 1134.05,763.81 1138.80,762.68" fill="none" stroke="#D33115" stroke-width="1" stroke-linejoin="round"/><g fill="#fff" stroke="#D33115" stroke-width="1.0"><circle cx="763.55" cy="775.74" r="1.15"/><circle cx="768.30" cy="774.44" r="1.15"/><circle cx="773.05" cy="773.79" r="1.15"/><circle cx="777.80" cy="773.04" r="1.15"/><circle cx="782.55" cy="775.20" r="1.15"/><circle cx="787.30" cy="773.79" r="1.15"/><circle cx="792.05" cy="772.39" r="1.15"/><circle cx="796.80" cy="773.79" r="1.15"/><circle cx="801.55" cy="778.11" r="1.15"/><circle cx="806.30" cy="776.49" r="1.15"/><circle cx="811.05" cy="776.28" r="1.15"/><circle cx="815.80" cy="775.84" r="1.15"/><circle cx="820.55" cy="776.49" r="1.15"/><circle cx="825.30" cy="777.14" r="1.15"/><circle cx="830.05" cy="775.84" r="1.15"/><circle cx="834.80" cy="774.87" r="1.15"/><circle cx="839.55" cy="775.84" r="1.15"/><circle cx="844.30" cy="775.20" r="1.15"/><circle cx="849.05" cy="776.49" r="1.15"/><circle cx="853.80" cy="776.49" r="1.15"/><circle cx="858.55" cy="774.87" r="1.15"/><circle cx="863.30" cy="776.49" r="1.15"/><circle cx="868.05" cy="773.04" r="1.15"/><circle cx="872.80" cy="774.44" r="1.15"/><circle cx="877.55" cy="775.20" r="1.15"/><circle cx="882.30" cy="774.44" r="1.15"/><circle cx="887.05" cy="776.49" r="1.15"/><circle cx="891.80" cy="775.52" r="1.15"/><circle cx="896.55" cy="776.49" r="1.15"/><circle cx="901.30" cy="776.28" r="1.15"/><circle cx="906.05" cy="775.20" r="1.15"/><circle cx="910.80" cy="772.39" r="1.15"/><circle cx="915.55" cy="775.84" r="1.15"/><circle cx="920.30" cy="773.79" r="1.15"/><circle cx="925.05" cy="773.79" r="1.15"/><circle cx="929.80" cy="777.14" r="1.15"/><circle cx="934.55" cy="775.20" r="1.15"/><circle cx="939.30" cy="773.79" r="1.15"/><circle cx="944.05" cy="773.79" r="1.15"/><circle cx="948.80" cy="771.09" r="1.15"/><circle cx="953.55" cy="771.16" r="1.15"/><circle cx="958.30" cy="765.33" r="1.15"/><circle cx="963.05" cy="742.78" r="1.15"/><circle cx="967.80" cy="752.45" r="1.15"/><circle cx="972.55" cy="763.47" r="1.15"/><circle cx="977.30" cy="757.22" r="1.15"/><circle cx="982.05" cy="763.47" r="1.15"/><circle cx="986.80" cy="758.58" r="1.15"/><circle cx="991.55" cy="761.20" r="1.15"/><circle cx="996.30" cy="760.18" r="1.15"/><circle cx="1001.05" cy="762.34" r="1.15"/><circle cx="1005.80" cy="764.95" r="1.15"/><circle cx="1010.55" cy="764.95" r="1.15"/><circle cx="1015.30" cy="762.34" r="1.15"/><circle cx="1020.05" cy="762.90" r="1.15"/><circle cx="1024.80" cy="762.34" r="1.15"/><circle cx="1029.55" cy="761.20" r="1.15"/><circle cx="1034.30" cy="752.90" r="1.15"/><circle cx="1039.05" cy="755.17" r="1.15"/><circle cx="1043.80" cy="759.27" r="1.15"/><circle cx="1048.55" cy="760.40" r="1.15"/><circle cx="1053.30" cy="762.68" r="1.15"/><circle cx="1058.05" cy="764.95" r="1.15"/><circle cx="1062.80" cy="762.68" r="1.15"/><circle cx="1067.55" cy="761.54" r="1.15"/><circle cx="1072.30" cy="764.95" r="1.15"/><circle cx="1077.05" cy="766.09" r="1.15"/><circle cx="1081.80" cy="767.22" r="1.15"/><circle cx="1086.55" cy="767.22" r="1.15"/><circle cx="1091.30" cy="767.22" r="1.15"/><circle cx="1096.05" cy="767.22" r="1.15"/><circle cx="1100.80" cy="766.09" r="1.15"/><circle cx="1105.55" cy="768.36" r="1.15"/><circle cx="1110.30" cy="762.34" r="1.15"/><circle cx="1115.05" cy="762.34" r="1.15"/><circle cx="1119.80" cy="762.90" r="1.15"/><circle cx="1124.55" cy="762.68" r="1.15"/><circle cx="1129.30" cy="762.34" r="1.15"/><circle cx="1134.05" cy="763.81" r="1.15"/><circle cx="1138.80" cy="762.68" r="1.15"/></g><path d="M763.55,774.84 L768.30,773.48 L773.05,772.79 L777.80,772.00 L782.55,774.26 L787.30,772.79 L792.05,771.32 L796.80,772.79 L801.55,775.85 L806.30,772.49 L811.05,774.26 L815.80,774.26 L820.55,773.42 L825.30,770.72 L830.05,774.26 L834.80,773.70 L839.55,771.93 L844.30,774.26 L849.05,772.31 L853.80,772.31 L858.55,772.49 L863.30,773.89 L868.05,760.66 L872.80,766.53 L877.55,764.76 L882.30,769.88 L887.05,774.26 L891.80,772.77 L896.55,773.42 L901.30,774.26 L906.05,770.72 L910.80,771.32 L915.55,774.95 L920.30,772.79 L925.05,772.79 L929.80,776.32 L934.55,771.28 L939.30,766.53 L944.05,772.79 L948.80,769.95 L953.55,769.84 L958.30,770.97 L963.05,774.27 L967.80,774.27 L972.55,774.84 L977.30,774.27 L982.05,774.84 L986.80,773.13 L991.55,774.27 L996.30,773.13 L1001.05,773.70 L1005.80,774.27 L1010.55,773.13 L1015.30,774.27 L1020.05,774.84 L1024.80,773.13 L1029.55,772.68 L1034.30,772.68 L1039.05,773.13 L1043.80,773.13 L1048.55,772.00 L1053.30,768.81 L1058.05,773.13 L1062.80,773.13 L1067.55,772.00 L1072.30,763.81 L1077.05,763.81 L1081.80,763.81 L1086.55,763.81 L1091.30,763.81 L1096.05,763.81 L1100.80,763.81 L1105.55,774.84 L1110.30,774.27 L1115.05,773.13 L1119.80,772.00 L1124.55,772.00 L1129.30,772.00 L1134.05,772.68 L1138.80,774.04 L1138.80,782.00 L1134.05,782.00 L1129.30,782.00 L1124.55,782.00 L1119.80,782.00 L1115.05,782.00 L1110.30,782.00 L1105.55,782.00 L1100.80,782.00 L1096.05,782.00 L1091.30,782.00 L1086.55,782.00 L1081.80,782.00 L1077.05,782.00 L1072.30,782.00 L1067.55,782.00 L1062.80,782.00 L1058.05,782.00 L1053.30,782.00 L1048.55,782.00 L1043.80,782.00 L1039.05,782.00 L1034.30,782.00 L1029.55,782.00 L1024.80,782.00 L1020.05,782.00 L1015.30,782.00 L1010.55,782.00 L1005.80,782.00 L1001.05,782.00 L996.30,782.00 L991.55,782.00 L986.80,782.00 L982.05,782.00 L977.30,782.00 L972.55,782.00 L967.80,782.00 L963.05,782.00 L958.30,782.00 L953.55,782.00 L948.80,782.00 L944.05,782.00 L939.30,782.00 L934.55,782.00 L929.80,782.00 L925.05,782.00 L920.30,782.00 L915.55,782.00 L910.80,782.00 L906.05,782.00 L901.30,782.00 L896.55,782.00 L891.80,782.00 L887.05,782.00 L882.30,782.00 L877.55,782.00 L872.80,782.00 L868.05,782.00 L863.30,782.00 L858.55,782.00 L853.80,782.00 L849.05,782.00 L844.30,782.00 L839.55,782.00 L834.80,782.00 L830.05,782.00 L825.30,782.00 L820.55,782.00 L815.80,782.00 L811.05,782.00 L806.30,782.00 L801.55,782.00 L796.80,782.00 L792.05,782.00 L787.30,782.00 L782.55,782.00 L777.80,782.00 L773.05,782.00 L768.30,782.00 L763.55,782.00Z" fill="#16A5A5" fill-opacity="0.5"/><polyline points="763.55,774.84 768.30,773.48 773.05,772.79 777.80,772.00 782.55,774.26 787.30,772.79 792.05,771.32 796.80,772.79 801.55,775.85 806.30,772.49 811.05,774.26 815.80,774.26 820.55,773.42 825.30,770.72 830.05,774.26 834.80,773.70 839.55,771.93 844.30,774.26 849.05,772.31 853.80,772.31 858.55,772.49 863.30,773.89 868.05,760.66 872.80,766.53 877.55,764.76 882.30,769.88 887.05,774.26 891.80,772.77 896.55,773.42 901.30,774.26 906.05,770.72 910.80,771.32 915.55,774.95 920.30,772.79 925.05,772.79 929.80,776.32 934.55,771.28 939.30,766.53 944.05,772.79 948.80,769.95 953.55,769.84 958.30,770.97 963.05,774.27 967.80,774.27 972.55,774.84 977.30,774.27 982.05,774.84 986.80,773.13 991.55,774.27 996.30,773.13 1001.05,773.70 1005.80,774.27 1010.55,773.13 1015.30,774.27 1020.05,774.84 1024.80,773.13 1029.55,772.68 1034.30,772.68 1039.05,773.13 1043.80,773.13 1048.55,772.00 1053.30,768.81 1058.05,773.13 1062.80,773.13 1067.55,772.00 1072.30,763.81 1077.05,763.81 1081.80,763.81 1086.55,763.81 1091.30,763.81 1096.05,763.81 1100.80,763.81 1105.55,774.84 1110.30,774.27 1115.05,773.13 1119.80,772.00 1124.55,772.00 1129.30,772.00 1134.05,772.68 1138.80,774.04" fill="none" stroke="#16A5A5" stroke-width="1" stroke-linejoin="round"/><g fill="#fff" stroke="#16A5A5" stroke-width="1.0"><circle cx="763.55" cy="774.84" r="1.15"/><circle cx="768.30" cy="773.48" r="1.15"/><circle cx="773.05" cy="772.79" r="1.15"/><circle cx="777.80" cy="772.00" r="1.15"/><circle cx="782.55" cy="774.26" r="1.15"/><circle cx="787.30" cy="772.79" r="1.15"/><circle cx="792.05" cy="771.32" r="1.15"/><circle cx="796.80" cy="772.79" r="1.15"/><circle cx="801.55" cy="775.85" r="1.15"/><circle cx="806.30" cy="772.49" r="1.15"/><circle cx="811.05" cy="774.26" r="1.15"/><circle cx="815.80" cy="774.26" r="1.15"/><circle cx="820.55" cy="773.42" r="1.15"/><circle cx="825.30" cy="770.72" r="1.15"/><circle cx="830.05" cy="774.26" r="1.15"/><circle cx="834.80" cy="773.70" r="1.15"/><circle cx="839.55" cy="771.93" r="1.15"/><circle cx="844.30" cy="774.26" r="1.15"/><circle cx="849.05" cy="772.31" r="1.15"/><circle cx="853.80" cy="772.31" r="1.15"/><circle cx="858.55" cy="772.49" r="1.15"/><circle cx="863.30" cy="773.89" r="1.15"/><circle cx="868.05" cy="760.66" r="1.15"/><circle cx="872.80" cy="766.53" r="1.15"/><circle cx="877.55" cy="764.76" r="1.15"/><circle cx="882.30" cy="769.88" r="1.15"/><circle cx="887.05" cy="774.26" r="1.15"/><circle cx="891.80" cy="772.77" r="1.15"/><circle cx="896.55" cy="773.42" r="1.15"/><circle cx="901.30" cy="774.26" r="1.15"/><circle cx="906.05" cy="770.72" r="1.15"/><circle cx="910.80" cy="771.32" r="1.15"/><circle cx="915.55" cy="774.95" r="1.15"/><circle cx="920.30" cy="772.79" r="1.15"/><circle cx="925.05" cy="772.79" r="1.15"/><circle cx="929.80" cy="776.32" r="1.15"/><circle cx="934.55" cy="771.28" r="1.15"/><circle cx="939.30" cy="766.53" r="1.15"/><circle cx="944.05" cy="772.79" r="1.15"/><circle cx="948.80" cy="769.95" r="1.15"/><circle cx="953.55" cy="769.84" r="1.15"/><circle cx="958.30" cy="770.97" r="1.15"/><circle cx="963.05" cy="774.27" r="1.15"/><circle cx="967.80" cy="774.27" r="1.15"/><circle cx="972.55" cy="774.84" r="1.15"/><circle cx="977.30" cy="774.27" r="1.15"/><circle cx="982.05" cy="774.84" r="1.15"/><circle cx="986.80" cy="773.13" r="1.15"/><circle cx="991.55" cy="774.27" r="1.15"/><circle cx="996.30" cy="773.13" r="1.15"/><circle cx="1001.05" cy="773.70" r="1.15"/><circle cx="1005.80" cy="774.27" r="1.15"/><circle cx="1010.55" cy="773.13" r="1.15"/><circle cx="1015.30" cy="774.27" r="1.15"/><circle cx="1020.05" cy="774.84" r="1.15"/><circle cx="1024.80" cy="773.13" r="1.15"/><circle cx="1029.55" cy="772.68" r="1.15"/><circle cx="1034.30" cy="772.68" r="1.15"/><circle cx="1039.05" cy="773.13" r="1.15"/><circle cx="1043.80" cy="773.13" r="1.15"/><circle cx="1048.55" cy="772.00" r="1.15"/><circle cx="1053.30" cy="768.81" r="1.15"/><circle cx="1058.05" cy="773.13" r="1.15"/><circle cx="1062.80" cy="773.13" r="1.15"/><circle cx="1067.55" cy="772.00" r="1.15"/><circle cx="1072.30" cy="763.81" r="1.15"/><circle cx="1077.05" cy="763.81" r="1.15"/><circle cx="1081.80" cy="763.81" r="1.15"/><circle cx="1086.55" cy="763.81" r="1.15"/><circle cx="1091.30" cy="763.81" r="1.15"/><circle cx="1096.05" cy="763.81" r="1.15"/><circle cx="1100.80" cy="763.81" r="1.15"/><circle cx="1105.55" cy="774.84" r="1.15"/><circle cx="1110.30" cy="774.27" r="1.15"/><circle cx="1115.05" cy="773.13" r="1.15"/><circle cx="1119.80" cy="772.00" r="1.15"/><circle cx="1124.55" cy="772.00" r="1.15"/><circle cx="1129.30" cy="772.00" r="1.15"/><circle cx="1134.05" cy="772.68" r="1.15"/><circle cx="1138.80" cy="774.04" r="1.15"/></g><path d="M763.55,772.91 L768.30,772.91 L773.05,772.91 L777.80,772.91 L782.55,772.91 L787.30,772.91 L792.05,772.91 L796.80,772.91 L801.55,772.91 L806.30,772.91 L811.05,772.91 L815.80,772.91 L820.55,772.91 L825.30,772.91 L830.05,772.91 L834.80,772.91 L839.55,772.91 L844.30,772.91 L849.05,772.91 L853.80,772.91 L858.55,772.91 L863.30,772.91 L868.05,772.91 L872.80,772.91 L877.55,772.91 L882.30,762.45 L887.05,772.91 L891.80,772.91 L896.55,769.50 L901.30,772.91 L906.05,772.91 L910.80,772.91 L915.55,772.91 L920.30,772.91 L925.05,772.91 L929.80,772.91 L934.55,772.91 L939.30,772.91 L944.05,772.91 L948.80,772.91 L953.55,770.41 L958.30,771.54 L963.05,774.84 L967.80,774.84 L972.55,765.52 L977.30,774.84 L982.05,775.41 L986.80,773.70 L991.55,774.84 L996.30,773.70 L1001.05,774.27 L1005.80,774.84 L1010.55,773.70 L1015.30,764.50 L1020.05,775.41 L1024.80,773.70 L1029.55,773.25 L1034.30,773.25 L1039.05,773.70 L1043.80,773.70 L1048.55,772.57 L1053.30,770.97 L1058.05,773.70 L1062.80,773.70 L1067.55,772.57 L1072.30,723.23 L1077.05,732.55 L1081.80,705.84 L1086.55,690.50 L1091.30,639.92 L1096.05,688.34 L1100.80,720.96 L1105.55,757.90 L1110.30,736.19 L1115.05,729.71 L1119.80,721.64 L1124.55,735.06 L1129.30,731.87 L1134.05,733.01 L1138.80,746.76 L1138.80,782.00 L1134.05,782.00 L1129.30,782.00 L1124.55,782.00 L1119.80,782.00 L1115.05,782.00 L1110.30,782.00 L1105.55,782.00 L1100.80,782.00 L1096.05,782.00 L1091.30,782.00 L1086.55,782.00 L1081.80,782.00 L1077.05,782.00 L1072.30,782.00 L1067.55,782.00 L1062.80,782.00 L1058.05,782.00 L1053.30,782.00 L1048.55,782.00 L1043.80,782.00 L1039.05,782.00 L1034.30,782.00 L1029.55,782.00 L1024.80,782.00 L1020.05,782.00 L1015.30,782.00 L1010.55,782.00 L1005.80,782.00 L1001.05,782.00 L996.30,782.00 L991.55,782.00 L986.80,782.00 L982.05,782.00 L977.30,782.00 L972.55,782.00 L967.80,782.00 L963.05,782.00 L958.30,782.00 L953.55,782.00 L948.80,782.00 L944.05,782.00 L939.30,782.00 L934.55,782.00 L929.80,782.00 L925.05,782.00 L920.30,782.00 L915.55,782.00 L910.80,782.00 L906.05,782.00 L901.30,782.00 L896.55,782.00 L891.80,782.00 L887.05,782.00 L882.30,782.00 L877.55,782.00 L872.80,782.00 L868.05,782.00 L863.30,782.00 L858.55,782.00 L853.80,782.00 L849.05,782.00 L844.30,782.00 L839.55,782.00 L834.80,782.00 L830.05,782.00 L825.30,782.00 L820.55,782.00 L815.80,782.00 L811.05,782.00 L806.30,782.00 L801.55,782.00 L796.80,782.00 L792.05,782.00 L787.30,782.00 L782.55,782.00 L777.80,782.00 L773.05,782.00 L768.30,782.00 L763.55,782.00Z" fill="#B0BC00" fill-opacity="0.5"/><polyline points="763.55,772.91 768.30,772.91 773.05,772.91 777.80,772.91 782.55,772.91 787.30,772.91 792.05,772.91 796.80,772.91 801.55,772.91 806.30,772.91 811.05,772.91 815.80,772.91 820.55,772.91 825.30,772.91 830.05,772.91 834.80,772.91 839.55,772.91 844.30,772.91 849.05,772.91 853.80,772.91 858.55,772.91 863.30,772.91 868.05,772.91 872.80,772.91 877.55,772.91 882.30,762.45 887.05,772.91 891.80,772.91 896.55,769.50 901.30,772.91 906.05,772.91 910.80,772.91 915.55,772.91 920.30,772.91 925.05,772.91 929.80,772.91 934.55,772.91 939.30,772.91 944.05,772.91 948.80,772.91 953.55,770.41 958.30,771.54 963.05,774.84 967.80,774.84 972.55,765.52 977.30,774.84 982.05,775.41 986.80,773.70 991.55,774.84 996.30,773.70 1001.05,774.27 1005.80,774.84 1010.55,773.70 1015.30,764.50 1020.05,775.41 1024.80,773.70 1029.55,773.25 1034.30,773.25 1039.05,773.70 1043.80,773.70 1048.55,772.57 1053.30,770.97 1058.05,773.70 1062.80,773.70 1067.55,772.57 1072.30,723.23 1077.05,732.55 1081.80,705.84 1086.55,690.50 1091.30,639.92 1096.05,688.34 1100.80,720.96 1105.55,757.90 1110.30,736.19 1115.05,729.71 1119.80,721.64 1124.55,735.06 1129.30,731.87 1134.05,733.01 1138.80,746.76" fill="none" stroke="#B0BC00" stroke-width="1" stroke-linejoin="round"/><g fill="#fff" stroke="#B0BC00" stroke-width="1.0"><circle cx="763.55" cy="772.91" r="1.15"/><circle cx="768.30" cy="772.91" r="1.15"/><circle cx="773.05" cy="772.91" r="1.15"/><circle cx="777.80" cy="772.91" r="1.15"/><circle cx="782.55" cy="772.91" r="1.15"/><circle cx="787.30" cy="772.91" r="1.15"/><circle cx="792.05" cy="772.91" r="1.15"/><circle cx="796.80" cy="772.91" r="1.15"/><circle cx="801.55" cy="772.91" r="1.15"/><circle cx="806.30" cy="772.91" r="1.15"/><circle cx="811.05" cy="772.91" r="1.15"/><circle cx="815.80" cy="772.91" r="1.15"/><circle cx="820.55" cy="772.91" r="1.15"/><circle cx="825.30" cy="772.91" r="1.15"/><circle cx="830.05" cy="772.91" r="1.15"/><circle cx="834.80" cy="772.91" r="1.15"/><circle cx="839.55" cy="772.91" r="1.15"/><circle cx="844.30" cy="772.91" r="1.15"/><circle cx="849.05" cy="772.91" r="1.15"/><circle cx="853.80" cy="772.91" r="1.15"/><circle cx="858.55" cy="772.91" r="1.15"/><circle cx="863.30" cy="772.91" r="1.15"/><circle cx="868.05" cy="772.91" r="1.15"/><circle cx="872.80" cy="772.91" r="1.15"/><circle cx="877.55" cy="772.91" r="1.15"/><circle cx="882.30" cy="762.45" r="1.15"/><circle cx="887.05" cy="772.91" r="1.15"/><circle cx="891.80" cy="772.91" r="1.15"/><circle cx="896.55" cy="769.50" r="1.15"/><circle cx="901.30" cy="772.91" r="1.15"/><circle cx="906.05" cy="772.91" r="1.15"/><circle cx="910.80" cy="772.91" r="1.15"/><circle cx="915.55" cy="772.91" r="1.15"/><circle cx="920.30" cy="772.91" r="1.15"/><circle cx="925.05" cy="772.91" r="1.15"/><circle cx="929.80" cy="772.91" r="1.15"/><circle cx="934.55" cy="772.91" r="1.15"/><circle cx="939.30" cy="772.91" r="1.15"/><circle cx="944.05" cy="772.91" r="1.15"/><circle cx="948.80" cy="772.91" r="1.15"/><circle cx="953.55" cy="770.41" r="1.15"/><circle cx="958.30" cy="771.54" r="1.15"/><circle cx="963.05" cy="774.84" r="1.15"/><circle cx="967.80" cy="774.84" r="1.15"/><circle cx="972.55" cy="765.52" r="1.15"/><circle cx="977.30" cy="774.84" r="1.15"/><circle cx="982.05" cy="775.41" r="1.15"/><circle cx="986.80" cy="773.70" r="1.15"/><circle cx="991.55" cy="774.84" r="1.15"/><circle cx="996.30" cy="773.70" r="1.15"/><circle cx="1001.05" cy="774.27" r="1.15"/><circle cx="1005.80" cy="774.84" r="1.15"/><circle cx="1010.55" cy="773.70" r="1.15"/><circle cx="1015.30" cy="764.50" r="1.15"/><circle cx="1020.05" cy="775.41" r="1.15"/><circle cx="1024.80" cy="773.70" r="1.15"/><circle cx="1029.55" cy="773.25" r="1.15"/><circle cx="1034.30" cy="773.25" r="1.15"/><circle cx="1039.05" cy="773.70" r="1.15"/><circle cx="1043.80" cy="773.70" r="1.15"/><circle cx="1048.55" cy="772.57" r="1.15"/><circle cx="1053.30" cy="770.97" r="1.15"/><circle cx="1058.05" cy="773.70" r="1.15"/><circle cx="1062.80" cy="773.70" r="1.15"/><circle cx="1067.55" cy="772.57" r="1.15"/><circle cx="1072.30" cy="723.23" r="1.15"/><circle cx="1077.05" cy="732.55" r="1.15"/><circle cx="1081.80" cy="705.84" r="1.15"/><circle cx="1086.55" cy="690.50" r="1.15"/><circle cx="1091.30" cy="639.92" r="1.15"/><circle cx="1096.05" cy="688.34" r="1.15"/><circle cx="1100.80" cy="720.96" r="1.15"/><circle cx="1105.55" cy="757.90" r="1.15"/><circle cx="1110.30" cy="736.19" r="1.15"/><circle cx="1115.05" cy="729.71" r="1.15"/><circle cx="1119.80" cy="721.64" r="1.15"/><circle cx="1124.55" cy="735.06" r="1.15"/><circle cx="1129.30" cy="731.87" r="1.15"/><circle cx="1134.05" cy="733.01" r="1.15"/><circle cx="1138.80" cy="746.76" r="1.15"/></g><path d="M763.55,773.36 L768.30,772.11 L773.05,772.91 L777.80,772.91 L782.55,772.57 L787.30,773.13 L792.05,772.91 L796.80,772.91 L801.55,774.50 L806.30,770.41 L811.05,772.57 L815.80,772.57 L820.55,771.54 L825.30,768.25 L830.05,772.57 L834.80,771.88 L839.55,769.72 L844.30,772.57 L849.05,770.18 L853.80,770.18 L858.55,770.41 L863.30,772.11 L868.05,755.97 L872.80,763.13 L877.55,760.97 L882.30,767.22 L887.05,772.57 L891.80,770.75 L896.55,771.54 L901.30,772.57 L906.05,768.25 L910.80,774.04 L915.55,776.32 L920.30,775.18 L925.05,775.18 L929.80,776.88 L934.55,768.93 L939.30,763.13 L944.05,771.77 L948.80,769.72 L953.55,769.95 L958.30,763.47 L963.05,764.50 L967.80,765.52 L972.55,766.65 L977.30,765.52 L982.05,768.81 L986.80,765.52 L991.55,767.79 L996.30,764.50 L1001.05,766.65 L1005.80,765.52 L1010.55,765.52 L1015.30,769.95 L1020.05,770.97 L1024.80,767.22 L1029.55,764.50 L1034.30,762.68 L1039.05,756.88 L1043.80,758.58 L1048.55,760.18 L1053.30,760.18 L1058.05,766.09 L1062.80,757.22 L1067.55,759.27 L1072.30,744.94 L1077.05,749.26 L1081.80,730.85 L1086.55,730.85 L1091.30,676.29 L1096.05,714.48 L1100.80,736.19 L1105.55,769.95 L1110.30,768.25 L1115.05,768.81 L1119.80,766.65 L1124.55,767.79 L1129.30,768.25 L1134.05,768.81 L1138.80,768.36 L1138.80,782.00 L1134.05,782.00 L1129.30,782.00 L1124.55,782.00 L1119.80,782.00 L1115.05,782.00 L1110.30,782.00 L1105.55,782.00 L1100.80,782.00 L1096.05,782.00 L1091.30,782.00 L1086.55,782.00 L1081.80,782.00 L1077.05,782.00 L1072.30,782.00 L1067.55,782.00 L1062.80,782.00 L1058.05,782.00 L1053.30,782.00 L1048.55,782.00 L1043.80,782.00 L1039.05,782.00 L1034.30,782.00 L1029.55,782.00 L1024.80,782.00 L1020.05,782.00 L1015.30,782.00 L1010.55,782.00 L1005.80,782.00 L1001.05,782.00 L996.30,782.00 L991.55,782.00 L986.80,782.00 L982.05,782.00 L977.30,782.00 L972.55,782.00 L967.80,782.00 L963.05,782.00 L958.30,782.00 L953.55,782.00 L948.80,782.00 L944.05,782.00 L939.30,782.00 L934.55,782.00 L929.80,782.00 L925.05,782.00 L920.30,782.00 L915.55,782.00 L910.80,782.00 L906.05,782.00 L901.30,782.00 L896.55,782.00 L891.80,782.00 L887.05,782.00 L882.30,782.00 L877.55,782.00 L872.80,782.00 L868.05,782.00 L863.30,782.00 L858.55,782.00 L853.80,782.00 L849.05,782.00 L844.30,782.00 L839.55,782.00 L834.80,782.00 L830.05,782.00 L825.30,782.00 L820.55,782.00 L815.80,782.00 L811.05,782.00 L806.30,782.00 L801.55,782.00 L796.80,782.00 L792.05,782.00 L787.30,782.00 L782.55,782.00 L777.80,782.00 L773.05,782.00 L768.30,782.00 L763.55,782.00Z" fill="#009CE0" fill-opacity="0.5"/><polyline points="763.55,773.36 768.30,772.11 773.05,772.91 777.80,772.91 782.55,772.57 787.30,773.13 792.05,772.91 796.80,772.91 801.55,774.50 806.30,770.41 811.05,772.57 815.80,772.57 820.55,771.54 825.30,768.25 830.05,772.57 834.80,771.88 839.55,769.72 844.30,772.57 849.05,770.18 853.80,770.18 858.55,770.41 863.30,772.11 868.05,755.97 872.80,763.13 877.55,760.97 882.30,767.22 887.05,772.57 891.80,770.75 896.55,771.54 901.30,772.57 906.05,768.25 910.80,774.04 915.55,776.32 920.30,775.18 925.05,775.18 929.80,776.88 934.55,768.93 939.30,763.13 944.05,771.77 948.80,769.72 953.55,769.95 958.30,763.47 963.05,764.50 967.80,765.52 972.55,766.65 977.30,765.52 982.05,768.81 986.80,765.52 991.55,767.79 996.30,764.50 1001.05,766.65 1005.80,765.52 1010.55,765.52 1015.30,769.95 1020.05,770.97 1024.80,767.22 1029.55,764.50 1034.30,762.68 1039.05,756.88 1043.80,758.58 1048.55,760.18 1053.30,760.18 1058.05,766.09 1062.80,757.22 1067.55,759.27 1072.30,744.94 1077.05,749.26 1081.80,730.85 1086.55,730.85 1091.30,676.29 1096.05,714.48 1100.80,736.19 1105.55,769.95 1110.30,768.25 1115.05,768.81 1119.80,766.65 1124.55,767.79 1129.30,768.25 1134.05,768.81 1138.80,768.36" fill="none" stroke="#009CE0" stroke-width="1" stroke-linejoin="round"/><g fill="#fff" stroke="#009CE0" stroke-width="1.0"><circle cx="763.55" cy="773.36" r="1.15"/><circle cx="768.30" cy="772.11" r="1.15"/><circle cx="773.05" cy="772.91" r="1.15"/><circle cx="777.80" cy="772.91" r="1.15"/><circle cx="782.55" cy="772.57" r="1.15"/><circle cx="787.30" cy="773.13" r="1.15"/><circle cx="792.05" cy="772.91" r="1.15"/><circle cx="796.80" cy="772.91" r="1.15"/><circle cx="801.55" cy="774.50" r="1.15"/><circle cx="806.30" cy="770.41" r="1.15"/><circle cx="811.05" cy="772.57" r="1.15"/><circle cx="815.80" cy="772.57" r="1.15"/><circle cx="820.55" cy="771.54" r="1.15"/><circle cx="825.30" cy="768.25" r="1.15"/><circle cx="830.05" cy="772.57" r="1.15"/><circle cx="834.80" cy="771.88" r="1.15"/><circle cx="839.55" cy="769.72" r="1.15"/><circle cx="844.30" cy="772.57" r="1.15"/><circle cx="849.05" cy="770.18" r="1.15"/><circle cx="853.80" cy="770.18" r="1.15"/><circle cx="858.55" cy="770.41" r="1.15"/><circle cx="863.30" cy="772.11" r="1.15"/><circle cx="868.05" cy="755.97" r="1.15"/><circle cx="872.80" cy="763.13" r="1.15"/><circle cx="877.55" cy="760.97" r="1.15"/><circle cx="882.30" cy="767.22" r="1.15"/><circle cx="887.05" cy="772.57" r="1.15"/><circle cx="891.80" cy="770.75" r="1.15"/><circle cx="896.55" cy="771.54" r="1.15"/><circle cx="901.30" cy="772.57" r="1.15"/><circle cx="906.05" cy="768.25" r="1.15"/><circle cx="910.80" cy="774.04" r="1.15"/><circle cx="915.55" cy="776.32" r="1.15"/><circle cx="920.30" cy="775.18" r="1.15"/><circle cx="925.05" cy="775.18" r="1.15"/><circle cx="929.80" cy="776.88" r="1.15"/><circle cx="934.55" cy="768.93" r="1.15"/><circle cx="939.30" cy="763.13" r="1.15"/><circle cx="944.05" cy="771.77" r="1.15"/><circle cx="948.80" cy="769.72" r="1.15"/><circle cx="953.55" cy="769.95" r="1.15"/><circle cx="958.30" cy="763.47" r="1.15"/><circle cx="963.05" cy="764.50" r="1.15"/><circle cx="967.80" cy="765.52" r="1.15"/><circle cx="972.55" cy="766.65" r="1.15"/><circle cx="977.30" cy="765.52" r="1.15"/><circle cx="982.05" cy="768.81" r="1.15"/><circle cx="986.80" cy="765.52" r="1.15"/><circle cx="991.55" cy="767.79" r="1.15"/><circle cx="996.30" cy="764.50" r="1.15"/><circle cx="1001.05" cy="766.65" r="1.15"/><circle cx="1005.80" cy="765.52" r="1.15"/><circle cx="1010.55" cy="765.52" r="1.15"/><circle cx="1015.30" cy="769.95" r="1.15"/><circle cx="1020.05" cy="770.97" r="1.15"/><circle cx="1024.80" cy="767.22" r="1.15"/><circle cx="1029.55" cy="764.50" r="1.15"/><circle cx="1034.30" cy="762.68" r="1.15"/><circle cx="1039.05" cy="756.88" r="1.15"/><circle cx="1043.80" cy="758.58" r="1.15"/><circle cx="1048.55" cy="760.18" r="1.15"/><circle cx="1053.30" cy="760.18" r="1.15"/><circle cx="1058.05" cy="766.09" r="1.15"/><circle cx="1062.80" cy="757.22" r="1.15"/><circle cx="1067.55" cy="759.27" r="1.15"/><circle cx="1072.30" cy="744.94" r="1.15"/><circle cx="1077.05" cy="749.26" r="1.15"/><circle cx="1081.80" cy="730.85" r="1.15"/><circle cx="1086.55" cy="730.85" r="1.15"/><circle cx="1091.30" cy="676.29" r="1.15"/><circle cx="1096.05" cy="714.48" r="1.15"/><circle cx="1100.80" cy="736.19" r="1.15"/><circle cx="1105.55" cy="769.95" r="1.15"/><circle cx="1110.30" cy="768.25" r="1.15"/><circle cx="1115.05" cy="768.81" r="1.15"/><circle cx="1119.80" cy="766.65" r="1.15"/><circle cx="1124.55" cy="767.79" r="1.15"/><circle cx="1129.30" cy="768.25" r="1.15"/><circle cx="1134.05" cy="768.81" r="1.15"/><circle cx="1138.80" cy="768.36" r="1.15"/></g><path d="M763.55,775.41 L768.30,774.04 L773.05,773.36 L777.80,772.57 L782.55,774.84 L787.30,773.36 L792.05,771.88 L796.80,773.36 L801.55,777.91 L806.30,776.20 L811.05,775.98 L815.80,775.52 L820.55,776.20 L825.30,776.88 L830.05,775.52 L834.80,774.50 L839.55,775.52 L844.30,774.84 L849.05,776.20 L853.80,776.20 L858.55,774.50 L863.30,776.20 L868.05,772.57 L872.80,774.04 L877.55,774.84 L882.30,774.04 L887.05,776.20 L891.80,775.18 L896.55,776.20 L901.30,775.98 L906.05,774.84 L910.80,771.88 L915.55,775.52 L920.30,773.36 L925.05,773.36 L929.80,776.88 L934.55,774.84 L939.30,773.36 L944.05,773.36 L948.80,770.52 L953.55,770.97 L958.30,772.11 L963.05,775.41 L967.80,775.41 L972.55,775.98 L977.30,775.41 L982.05,775.98 L986.80,774.27 L991.55,775.41 L996.30,774.27 L1001.05,774.84 L1005.80,775.41 L1010.55,774.27 L1015.30,775.41 L1020.05,775.98 L1024.80,774.27 L1029.55,773.82 L1034.30,773.82 L1039.05,774.27 L1043.80,774.27 L1048.55,773.13 L1053.30,769.95 L1058.05,774.27 L1062.80,774.27 L1067.55,773.13 L1072.30,777.57 L1077.05,777.57 L1081.80,777.57 L1086.55,777.57 L1091.30,776.54 L1096.05,777.00 L1100.80,775.98 L1105.55,775.98 L1110.30,775.41 L1115.05,774.27 L1119.80,773.13 L1124.55,773.13 L1129.30,773.13 L1134.05,773.82 L1138.80,774.04 L1138.80,782.00 L1134.05,782.00 L1129.30,782.00 L1124.55,782.00 L1119.80,782.00 L1115.05,782.00 L1110.30,782.00 L1105.55,782.00 L1100.80,782.00 L1096.05,782.00 L1091.30,782.00 L1086.55,782.00 L1081.80,782.00 L1077.05,782.00 L1072.30,782.00 L1067.55,782.00 L1062.80,782.00 L1058.05,782.00 L1053.30,782.00 L1048.55,782.00 L1043.80,782.00 L1039.05,782.00 L1034.30,782.00 L1029.55,782.00 L1024.80,782.00 L1020.05,782.00 L1015.30,782.00 L1010.55,782.00 L1005.80,782.00 L1001.05,782.00 L996.30,782.00 L991.55,782.00 L986.80,782.00 L982.05,782.00 L977.30,782.00 L972.55,782.00 L967.80,782.00 L963.05,782.00 L958.30,782.00 L953.55,782.00 L948.80,782.00 L944.05,782.00 L939.30,782.00 L934.55,782.00 L929.80,782.00 L925.05,782.00 L920.30,782.00 L915.55,782.00 L910.80,782.00 L906.05,782.00 L901.30,782.00 L896.55,782.00 L891.80,782.00 L887.05,782.00 L882.30,782.00 L877.55,782.00 L872.80,782.00 L868.05,782.00 L863.30,782.00 L858.55,782.00 L853.80,782.00 L849.05,782.00 L844.30,782.00 L839.55,782.00 L834.80,782.00 L830.05,782.00 L825.30,782.00 L820.55,782.00 L815.80,782.00 L811.05,782.00 L806.30,782.00 L801.55,782.00 L796.80,782.00 L792.05,782.00 L787.30,782.00 L782.55,782.00 L777.80,782.00 L773.05,782.00 L768.30,782.00 L763.55,782.00Z" fill="#68BC00" fill-opacity="0.5"/><polyline points="763.55,775.41 768.30,774.04 773.05,773.36 777.80,772.57 782.55,774.84 787.30,773.36 792.05,771.88 796.80,773.36 801.55,777.91 806.30,776.20 811.05,775.98 815.80,775.52 820.55,776.20 825.30,776.88 830.05,775.52 834.80,774.50 839.55,775.52 844.30,774.84 849.05,776.20 853.80,776.20 858.55,774.50 863.30,776.20 868.05,772.57 872.80,774.04 877.55,774.84 882.30,774.04 887.05,776.20 891.80,775.18 896.55,776.20 901.30,775.98 906.05,774.84 910.80,771.88 915.55,775.52 920.30,773.36 925.05,773.36 929.80,776.88 934.55,774.84 939.30,773.36 944.05,773.36 948.80,770.52 953.55,770.97 958.30,772.11 963.05,775.41 967.80,775.41 972.55,775.98 977.30,775.41 982.05,775.98 986.80,774.27 991.55,775.41 996.30,774.27 1001.05,774.84 1005.80,775.41 1010.55,774.27 1015.30,775.41 1020.05,775.98 1024.80,774.27 1029.55,773.82 1034.30,773.82 1039.05,774.27 1043.80,774.27 1048.55,773.13 1053.30,769.95 1058.05,774.27 1062.80,774.27 1067.55,773.13 1072.30,777.57 1077.05,777.57 1081.80,777.57 1086.55,777.57 1091.30,776.54 1096.05,777.00 1100.80,775.98 1105.55,775.98 1110.30,775.41 1115.05,774.27 1119.80,773.13 1124.55,773.13 1129.30,773.13 1134.05,773.82 1138.80,774.04" fill="none" stroke="#68BC00" stroke-width="1" stroke-linejoin="round"/><g fill="#fff" stroke="#68BC00" stroke-width="1.0"><circle cx="763.55" cy="775.41" r="1.15"/><circle cx="768.30" cy="774.04" r="1.15"/><circle cx="773.05" cy="773.36" r="1.15"/><circle cx="777.80" cy="772.57" r="1.15"/><circle cx="782.55" cy="774.84" r="1.15"/><circle cx="787.30" cy="773.36" r="1.15"/><circle cx="792.05" cy="771.88" r="1.15"/><circle cx="796.80" cy="773.36" r="1.15"/><circle cx="801.55" cy="777.91" r="1.15"/><circle cx="806.30" cy="776.20" r="1.15"/><circle cx="811.05" cy="775.98" r="1.15"/><circle cx="815.80" cy="775.52" r="1.15"/><circle cx="820.55" cy="776.20" r="1.15"/><circle cx="825.30" cy="776.88" r="1.15"/><circle cx="830.05" cy="775.52" r="1.15"/><circle cx="834.80" cy="774.50" r="1.15"/><circle cx="839.55" cy="775.52" r="1.15"/><circle cx="844.30" cy="774.84" r="1.15"/><circle cx="849.05" cy="776.20" r="1.15"/><circle cx="853.80" cy="776.20" r="1.15"/><circle cx="858.55" cy="774.50" r="1.15"/><circle cx="863.30" cy="776.20" r="1.15"/><circle cx="868.05" cy="772.57" r="1.15"/><circle cx="872.80" cy="774.04" r="1.15"/><circle cx="877.55" cy="774.84" r="1.15"/><circle cx="882.30" cy="774.04" r="1.15"/><circle cx="887.05" cy="776.20" r="1.15"/><circle cx="891.80" cy="775.18" r="1.15"/><circle cx="896.55" cy="776.20" r="1.15"/><circle cx="901.30" cy="775.98" r="1.15"/><circle cx="906.05" cy="774.84" r="1.15"/><circle cx="910.80" cy="771.88" r="1.15"/><circle cx="915.55" cy="775.52" r="1.15"/><circle cx="920.30" cy="773.36" r="1.15"/><circle cx="925.05" cy="773.36" r="1.15"/><circle cx="929.80" cy="776.88" r="1.15"/><circle cx="934.55" cy="774.84" r="1.15"/><circle cx="939.30" cy="773.36" r="1.15"/><circle cx="944.05" cy="773.36" r="1.15"/><circle cx="948.80" cy="770.52" r="1.15"/><circle cx="953.55" cy="770.97" r="1.15"/><circle cx="958.30" cy="772.11" r="1.15"/><circle cx="963.05" cy="775.41" r="1.15"/><circle cx="967.80" cy="775.41" r="1.15"/><circle cx="972.55" cy="775.98" r="1.15"/><circle cx="977.30" cy="775.41" r="1.15"/><circle cx="982.05" cy="775.98" r="1.15"/><circle cx="986.80" cy="774.27" r="1.15"/><circle cx="991.55" cy="775.41" r="1.15"/><circle cx="996.30" cy="774.27" r="1.15"/><circle cx="1001.05" cy="774.84" r="1.15"/><circle cx="1005.80" cy="775.41" r="1.15"/><circle cx="1010.55" cy="774.27" r="1.15"/><circle cx="1015.30" cy="775.41" r="1.15"/><circle cx="1020.05" cy="775.98" r="1.15"/><circle cx="1024.80" cy="774.27" r="1.15"/><circle cx="1029.55" cy="773.82" r="1.15"/><circle cx="1034.30" cy="773.82" r="1.15"/><circle cx="1039.05" cy="774.27" r="1.15"/><circle cx="1043.80" cy="774.27" r="1.15"/><circle cx="1048.55" cy="773.13" r="1.15"/><circle cx="1053.30" cy="769.95" r="1.15"/><circle cx="1058.05" cy="774.27" r="1.15"/><circle cx="1062.80" cy="774.27" r="1.15"/><circle cx="1067.55" cy="773.13" r="1.15"/><circle cx="1072.30" cy="777.57" r="1.15"/><circle cx="1077.05" cy="777.57" r="1.15"/><circle cx="1081.80" cy="777.57" r="1.15"/><circle cx="1086.55" cy="777.57" r="1.15"/><circle cx="1091.30" cy="776.54" r="1.15"/><circle cx="1096.05" cy="777.00" r="1.15"/><circle cx="1100.80" cy="775.98" r="1.15"/><circle cx="1105.55" cy="775.98" r="1.15"/><circle cx="1110.30" cy="775.41" r="1.15"/><circle cx="1115.05" cy="774.27" r="1.15"/><circle cx="1119.80" cy="773.13" r="1.15"/><circle cx="1124.55" cy="773.13" r="1.15"/><circle cx="1129.30" cy="773.13" r="1.15"/><circle cx="1134.05" cy="773.82" r="1.15"/><circle cx="1138.80" cy="774.04" r="1.15"/></g><g font-family='"Liberation Sans", sans-serif' font-size="11" fill="#8A8A8A" letter-spacing="0.45"><text x="753.8" y="785.2" text-anchor="end">0.00ms</text><text x="753.8" y="728.4" text-anchor="end">0.50ms</text><text x="753.8" y="671.5" text-anchor="end">1.00ms</text><text x="753.8" y="614.7" text-anchor="end">1.50ms</text></g><g font-family='"Liberation Sans", sans-serif' font-size="11" fill="#8A8A8A" letter-spacing="0.45"><text x="835.8" y="796.7" text-anchor="middle">20:20:00</text><text x="930.8" y="796.7" text-anchor="middle">20:30:00</text><text x="1025.8" y="796.7" text-anchor="middle">20:40:00</text><text x="1120.8" y="796.7" text-anchor="middle">20:50:00</text></g><text x="938.3" y="814.1" text-anchor="middle" font-family='"Liberation Sans", sans-serif' font-size="12" font-weight="bold" fill="#999FAA" letter-spacing="0.15">per 30 seconds</text><line x1="1187.1" x2="1356.9" y1="609.5" y2="609.5" stroke="#CDCDCD" stroke-width="1"/><line x1="1187.1" x2="1356.9" y1="635.5" y2="635.5" stroke="#CDCDCD" stroke-width="1"/><line x1="1187.1" x2="1356.9" y1="660.5" y2="660.5" stroke="#CDCDCD" stroke-width="1"/><line x1="1187.1" x2="1356.9" y1="686.5" y2="686.5" stroke="#CDCDCD" stroke-width="1"/><line x1="1187.1" x2="1356.9" y1="711.5" y2="711.5" stroke="#CDCDCD" stroke-width="1"/><line x1="1187.1" x2="1356.9" y1="737.5" y2="737.5" stroke="#CDCDCD" stroke-width="1"/><line x1="1187.1" x2="1356.9" y1="762.5" y2="762.5" stroke="#CDCDCD" stroke-width="1"/><path d="M1173.0,616.8 L1177.0,621.0 L1173.0,625.2" fill="none" stroke="#3F4450" stroke-width="1.2"/><circle cx="1198.7" cy="622.4" r="4" fill="#68BC00"/><text x="1211.2" y="625.8" font-family='"Liberation Sans", sans-serif' font-size="12" fill="#343741">172.18.0.4:8080</text><text x="1353.0" y="625.8" text-anchor="end" font-family='"Liberation Sans", sans-serif' font-size="12" fill="#343741" stroke="#343741" stroke-width="0.3" letter-spacing="0.45">0.07ms</text><circle cx="1198.7" cy="648.4" r="4" fill="#009CE0"/><text x="1211.2" y="651.8" font-family='"Liberation Sans", sans-serif' font-size="12" fill="#343741">172.18.0.3:8080</text><text x="1353.0" y="651.8" text-anchor="end" font-family='"Liberation Sans", sans-serif' font-size="12" fill="#343741" stroke="#343741" stroke-width="0.3" letter-spacing="0.45">0.12ms</text><circle cx="1198.7" cy="673.4" r="4" fill="#B0BC00"/><text x="1211.2" y="676.8" font-family='"Liberation Sans", sans-serif' font-size="12" fill="#343741">172.18.0.2:8080</text><text x="1353.0" y="676.8" text-anchor="end" font-family='"Liberation Sans", sans-serif' font-size="12" fill="#343741" stroke="#343741" stroke-width="0.3" letter-spacing="0.45">0.31ms</text><circle cx="1198.7" cy="699.4" r="4" fill="#16A5A5"/><text x="1211.2" y="702.8" font-family='"Liberation Sans", sans-serif' font-size="12" fill="#343741">172.18.0.7:8080</text><text x="1353.0" y="702.8" text-anchor="end" font-family='"Liberation Sans", sans-serif' font-size="12" fill="#343741" stroke="#343741" stroke-width="0.3" letter-spacing="0.45">0.07ms</text><circle cx="1198.7" cy="724.4" r="4" fill="#D33115"/><text x="1211.2" y="727.8" font-family='"Liberation Sans", sans-serif' font-size="12" fill="#343741">172.18.0.6:8080</text><text x="1353.0" y="727.8" text-anchor="end" font-family='"Liberation Sans", sans-serif' font-size="12" fill="#343741" stroke="#343741" stroke-width="0.3" letter-spacing="0.45">0.17ms</text><circle cx="1198.7" cy="750.4" r="4" fill="#E27300"/><text x="1211.2" y="753.8" font-family='"Liberation Sans", sans-serif' font-size="12" fill="#343741">172.18.0.5:8080</text><text x="1353.0" y="753.8" text-anchor="end" font-family='"Liberation Sans", sans-serif' font-size="12" fill="#343741" stroke="#343741" stroke-width="0.3" letter-spacing="0.45">0.00ms</text></g>
</svg>
</body></html>
